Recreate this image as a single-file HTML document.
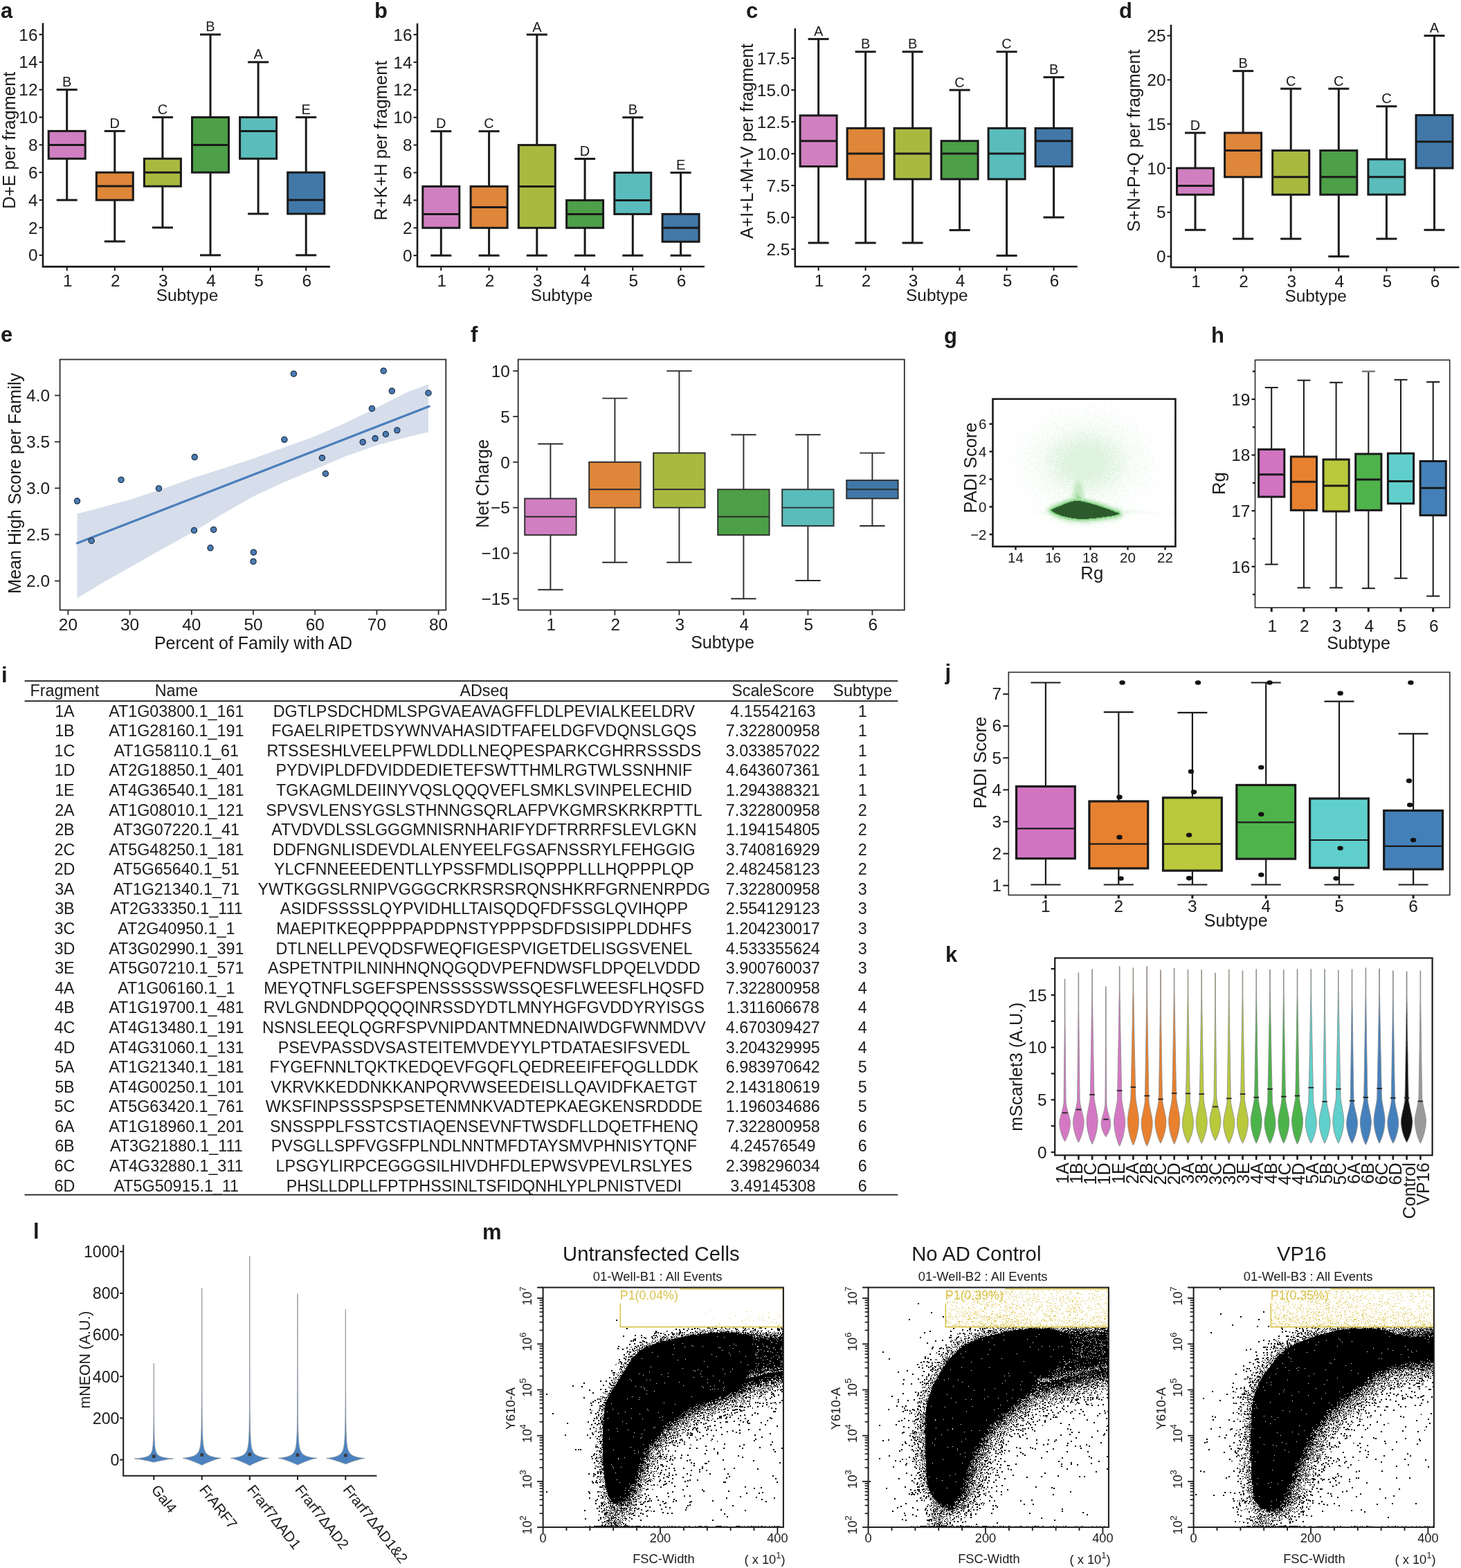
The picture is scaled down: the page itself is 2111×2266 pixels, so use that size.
<!DOCTYPE html>
<html><head><meta charset="utf-8"><title>Figure</title>
<style>html,body{margin:0;padding:0;background:#fff;overflow:hidden;}svg{display:block;}</style>
</head><body>
<svg width="2111" height="2266" viewBox="0 0 2111 2266" font-family="'Liberation Sans', Arial, Helvetica, sans-serif" fill="#1a1a1a"><rect width="2111" height="2266" fill="#fff"/><text x="1" y="26" font-size="31" font-weight="bold">a</text>
<line x1="96.7" y1="129.6" x2="96.7" y2="189.4" stroke="#1a1a1a" stroke-width="3"/>
<line x1="96.7" y1="229.3" x2="96.7" y2="289.1" stroke="#1a1a1a" stroke-width="3"/>
<line x1="81.7" y1="129.6" x2="111.7" y2="129.6" stroke="#1a1a1a" stroke-width="3"/>
<line x1="81.7" y1="289.1" x2="111.7" y2="289.1" stroke="#1a1a1a" stroke-width="3"/>
<rect x="70.2" y="189.4" width="53" height="39.9" fill="#d07fc0" stroke="#1a1a1a" stroke-width="3"/>
<line x1="70.2" y1="209.4" x2="123.2" y2="209.4" stroke="#1a1a1a" stroke-width="3"/>
<text x="96.7" y="125.1" font-size="20" text-anchor="middle">B</text>
<line x1="165.8" y1="189.4" x2="165.8" y2="249.2" stroke="#1a1a1a" stroke-width="3"/>
<line x1="165.8" y1="289.1" x2="165.8" y2="348.9" stroke="#1a1a1a" stroke-width="3"/>
<line x1="150.8" y1="189.4" x2="180.8" y2="189.4" stroke="#1a1a1a" stroke-width="3"/>
<line x1="150.8" y1="348.9" x2="180.8" y2="348.9" stroke="#1a1a1a" stroke-width="3"/>
<rect x="139.3" y="249.2" width="53" height="39.9" fill="#de8639" stroke="#1a1a1a" stroke-width="3"/>
<line x1="139.3" y1="269.1" x2="192.3" y2="269.1" stroke="#1a1a1a" stroke-width="3"/>
<text x="165.8" y="184.9" font-size="20" text-anchor="middle">D</text>
<line x1="234.9" y1="169.5" x2="234.9" y2="229.3" stroke="#1a1a1a" stroke-width="3"/>
<line x1="234.9" y1="269.1" x2="234.9" y2="328.9" stroke="#1a1a1a" stroke-width="3"/>
<line x1="219.9" y1="169.5" x2="249.9" y2="169.5" stroke="#1a1a1a" stroke-width="3"/>
<line x1="219.9" y1="328.9" x2="249.9" y2="328.9" stroke="#1a1a1a" stroke-width="3"/>
<rect x="208.4" y="229.3" width="53" height="39.9" fill="#a9b940" stroke="#1a1a1a" stroke-width="3"/>
<line x1="208.4" y1="249.2" x2="261.4" y2="249.2" stroke="#1a1a1a" stroke-width="3"/>
<text x="234.9" y="165" font-size="20" text-anchor="middle">C</text>
<line x1="304" y1="49.9" x2="304" y2="169.5" stroke="#1a1a1a" stroke-width="3"/>
<line x1="304" y1="249.2" x2="304" y2="368.8" stroke="#1a1a1a" stroke-width="3"/>
<line x1="289" y1="49.9" x2="319" y2="49.9" stroke="#1a1a1a" stroke-width="3"/>
<line x1="289" y1="368.8" x2="319" y2="368.8" stroke="#1a1a1a" stroke-width="3"/>
<rect x="277.5" y="169.5" width="53" height="79.7" fill="#4d9f48" stroke="#1a1a1a" stroke-width="3"/>
<line x1="277.5" y1="209.4" x2="330.5" y2="209.4" stroke="#1a1a1a" stroke-width="3"/>
<text x="304" y="45.4" font-size="20" text-anchor="middle">B</text>
<line x1="373.1" y1="89.8" x2="373.1" y2="169.5" stroke="#1a1a1a" stroke-width="3"/>
<line x1="373.1" y1="229.3" x2="373.1" y2="309" stroke="#1a1a1a" stroke-width="3"/>
<line x1="358.1" y1="89.8" x2="388.1" y2="89.8" stroke="#1a1a1a" stroke-width="3"/>
<line x1="358.1" y1="309" x2="388.1" y2="309" stroke="#1a1a1a" stroke-width="3"/>
<rect x="346.6" y="169.5" width="53" height="59.8" fill="#5bbcbc" stroke="#1a1a1a" stroke-width="3"/>
<line x1="346.6" y1="189.4" x2="399.6" y2="189.4" stroke="#1a1a1a" stroke-width="3"/>
<text x="373.1" y="85.3" font-size="20" text-anchor="middle">A</text>
<line x1="442.2" y1="169.5" x2="442.2" y2="249.2" stroke="#1a1a1a" stroke-width="3"/>
<line x1="442.2" y1="309" x2="442.2" y2="368.8" stroke="#1a1a1a" stroke-width="3"/>
<line x1="427.2" y1="169.5" x2="457.2" y2="169.5" stroke="#1a1a1a" stroke-width="3"/>
<line x1="427.2" y1="368.8" x2="457.2" y2="368.8" stroke="#1a1a1a" stroke-width="3"/>
<rect x="415.7" y="249.2" width="53" height="59.8" fill="#4178a8" stroke="#1a1a1a" stroke-width="3"/>
<line x1="415.7" y1="289.1" x2="468.7" y2="289.1" stroke="#1a1a1a" stroke-width="3"/>
<text x="442.2" y="165" font-size="20" text-anchor="middle">E</text>
<path d="M62 33.2V385.4H477" fill="none" stroke="#1a1a1a" stroke-width="2.6"/>
<line x1="56.5" y1="368.8" x2="62" y2="368.8" stroke="#1a1a1a" stroke-width="2"/>
<text x="54.5" y="377.4" font-size="24.4" text-anchor="end">0</text>
<line x1="56.5" y1="328.9" x2="62" y2="328.9" stroke="#1a1a1a" stroke-width="2"/>
<text x="54.5" y="337.5" font-size="24.4" text-anchor="end">2</text>
<line x1="56.5" y1="289.1" x2="62" y2="289.1" stroke="#1a1a1a" stroke-width="2"/>
<text x="54.5" y="297.7" font-size="24.4" text-anchor="end">4</text>
<line x1="56.5" y1="249.2" x2="62" y2="249.2" stroke="#1a1a1a" stroke-width="2"/>
<text x="54.5" y="257.8" font-size="24.4" text-anchor="end">6</text>
<line x1="56.5" y1="209.4" x2="62" y2="209.4" stroke="#1a1a1a" stroke-width="2"/>
<text x="54.5" y="218" font-size="24.4" text-anchor="end">8</text>
<line x1="56.5" y1="169.5" x2="62" y2="169.5" stroke="#1a1a1a" stroke-width="2"/>
<text x="54.5" y="178.1" font-size="24.4" text-anchor="end">10</text>
<line x1="56.5" y1="129.6" x2="62" y2="129.6" stroke="#1a1a1a" stroke-width="2"/>
<text x="54.5" y="138.2" font-size="24.4" text-anchor="end">12</text>
<line x1="56.5" y1="89.8" x2="62" y2="89.8" stroke="#1a1a1a" stroke-width="2"/>
<text x="54.5" y="98.4" font-size="24.4" text-anchor="end">14</text>
<line x1="56.5" y1="49.9" x2="62" y2="49.9" stroke="#1a1a1a" stroke-width="2"/>
<text x="54.5" y="58.5" font-size="24.4" text-anchor="end">16</text>
<line x1="96.7" y1="385.4" x2="96.7" y2="391.4" stroke="#1a1a1a" stroke-width="2"/>
<text x="97.7" y="413.7" font-size="24.4" text-anchor="middle">1</text>
<line x1="165.8" y1="385.4" x2="165.8" y2="391.4" stroke="#1a1a1a" stroke-width="2"/>
<text x="166.8" y="413.7" font-size="24.4" text-anchor="middle">2</text>
<line x1="234.9" y1="385.4" x2="234.9" y2="391.4" stroke="#1a1a1a" stroke-width="2"/>
<text x="235.9" y="413.7" font-size="24.4" text-anchor="middle">3</text>
<line x1="304" y1="385.4" x2="304" y2="391.4" stroke="#1a1a1a" stroke-width="2"/>
<text x="305" y="413.7" font-size="24.4" text-anchor="middle">4</text>
<line x1="373.1" y1="385.4" x2="373.1" y2="391.4" stroke="#1a1a1a" stroke-width="2"/>
<text x="374.1" y="413.7" font-size="24.4" text-anchor="middle">5</text>
<line x1="442.2" y1="385.4" x2="442.2" y2="391.4" stroke="#1a1a1a" stroke-width="2"/>
<text x="443.2" y="413.7" font-size="24.4" text-anchor="middle">6</text>
<text x="270.5" y="435.4" font-size="24.4" text-anchor="middle">Subtype</text>
<text x="21.7" y="202.8" font-size="25" text-anchor="middle" transform="rotate(-90 21.7 202.8)">D+E per fragment</text>
<text x="541" y="26" font-size="31" font-weight="bold">b</text>
<line x1="637.3" y1="189.7" x2="637.3" y2="269.4" stroke="#1a1a1a" stroke-width="3"/>
<line x1="637.3" y1="329.3" x2="637.3" y2="369.2" stroke="#1a1a1a" stroke-width="3"/>
<line x1="622.3" y1="189.7" x2="652.3" y2="189.7" stroke="#1a1a1a" stroke-width="3"/>
<line x1="622.3" y1="369.2" x2="652.3" y2="369.2" stroke="#1a1a1a" stroke-width="3"/>
<rect x="610.8" y="269.4" width="53" height="59.9" fill="#d07fc0" stroke="#1a1a1a" stroke-width="3"/>
<line x1="610.8" y1="309.4" x2="663.8" y2="309.4" stroke="#1a1a1a" stroke-width="3"/>
<text x="637.3" y="185.2" font-size="20" text-anchor="middle">D</text>
<line x1="706.6" y1="189.7" x2="706.6" y2="269.4" stroke="#1a1a1a" stroke-width="3"/>
<line x1="706.6" y1="329.3" x2="706.6" y2="369.2" stroke="#1a1a1a" stroke-width="3"/>
<line x1="691.6" y1="189.7" x2="721.6" y2="189.7" stroke="#1a1a1a" stroke-width="3"/>
<line x1="691.6" y1="369.2" x2="721.6" y2="369.2" stroke="#1a1a1a" stroke-width="3"/>
<rect x="680.1" y="269.4" width="53" height="59.9" fill="#de8639" stroke="#1a1a1a" stroke-width="3"/>
<line x1="680.1" y1="299.4" x2="733.1" y2="299.4" stroke="#1a1a1a" stroke-width="3"/>
<text x="706.6" y="185.2" font-size="20" text-anchor="middle">C</text>
<line x1="775.8" y1="50" x2="775.8" y2="209.6" stroke="#1a1a1a" stroke-width="3"/>
<line x1="775.8" y1="329.3" x2="775.8" y2="369.2" stroke="#1a1a1a" stroke-width="3"/>
<line x1="760.8" y1="50" x2="790.8" y2="50" stroke="#1a1a1a" stroke-width="3"/>
<line x1="760.8" y1="369.2" x2="790.8" y2="369.2" stroke="#1a1a1a" stroke-width="3"/>
<rect x="749.3" y="209.6" width="53" height="119.7" fill="#a9b940" stroke="#1a1a1a" stroke-width="3"/>
<line x1="749.3" y1="269.4" x2="802.3" y2="269.4" stroke="#1a1a1a" stroke-width="3"/>
<text x="775.8" y="45.5" font-size="20" text-anchor="middle">A</text>
<line x1="845.1" y1="229.5" x2="845.1" y2="289.4" stroke="#1a1a1a" stroke-width="3"/>
<line x1="845.1" y1="329.3" x2="845.1" y2="369.2" stroke="#1a1a1a" stroke-width="3"/>
<line x1="830.1" y1="229.5" x2="860.1" y2="229.5" stroke="#1a1a1a" stroke-width="3"/>
<line x1="830.1" y1="369.2" x2="860.1" y2="369.2" stroke="#1a1a1a" stroke-width="3"/>
<rect x="818.6" y="289.4" width="53" height="39.9" fill="#4d9f48" stroke="#1a1a1a" stroke-width="3"/>
<line x1="818.6" y1="309.4" x2="871.6" y2="309.4" stroke="#1a1a1a" stroke-width="3"/>
<text x="845.1" y="225" font-size="20" text-anchor="middle">D</text>
<line x1="914.3" y1="169.7" x2="914.3" y2="249.5" stroke="#1a1a1a" stroke-width="3"/>
<line x1="914.3" y1="309.4" x2="914.3" y2="369.2" stroke="#1a1a1a" stroke-width="3"/>
<line x1="899.3" y1="169.7" x2="929.3" y2="169.7" stroke="#1a1a1a" stroke-width="3"/>
<line x1="899.3" y1="369.2" x2="929.3" y2="369.2" stroke="#1a1a1a" stroke-width="3"/>
<rect x="887.8" y="249.5" width="53" height="59.9" fill="#5bbcbc" stroke="#1a1a1a" stroke-width="3"/>
<line x1="887.8" y1="289.4" x2="940.8" y2="289.4" stroke="#1a1a1a" stroke-width="3"/>
<text x="914.3" y="165.2" font-size="20" text-anchor="middle">B</text>
<line x1="983.6" y1="249.5" x2="983.6" y2="309.4" stroke="#1a1a1a" stroke-width="3"/>
<line x1="983.6" y1="349.2" x2="983.6" y2="369.2" stroke="#1a1a1a" stroke-width="3"/>
<line x1="968.6" y1="249.5" x2="998.6" y2="249.5" stroke="#1a1a1a" stroke-width="3"/>
<line x1="968.6" y1="369.2" x2="998.6" y2="369.2" stroke="#1a1a1a" stroke-width="3"/>
<rect x="957.1" y="309.4" width="53" height="39.9" fill="#4178a8" stroke="#1a1a1a" stroke-width="3"/>
<line x1="957.1" y1="329.3" x2="1010.1" y2="329.3" stroke="#1a1a1a" stroke-width="3"/>
<text x="983.6" y="245" font-size="20" text-anchor="middle">E</text>
<path d="M603 33.8V385.2H1018" fill="none" stroke="#1a1a1a" stroke-width="2.6"/>
<line x1="597.5" y1="369.2" x2="603" y2="369.2" stroke="#1a1a1a" stroke-width="2"/>
<text x="595.5" y="377.8" font-size="24.4" text-anchor="end">0</text>
<line x1="597.5" y1="329.3" x2="603" y2="329.3" stroke="#1a1a1a" stroke-width="2"/>
<text x="595.5" y="337.9" font-size="24.4" text-anchor="end">2</text>
<line x1="597.5" y1="289.4" x2="603" y2="289.4" stroke="#1a1a1a" stroke-width="2"/>
<text x="595.5" y="298" font-size="24.4" text-anchor="end">4</text>
<line x1="597.5" y1="249.5" x2="603" y2="249.5" stroke="#1a1a1a" stroke-width="2"/>
<text x="595.5" y="258.1" font-size="24.4" text-anchor="end">6</text>
<line x1="597.5" y1="209.6" x2="603" y2="209.6" stroke="#1a1a1a" stroke-width="2"/>
<text x="595.5" y="218.2" font-size="24.4" text-anchor="end">8</text>
<line x1="597.5" y1="169.7" x2="603" y2="169.7" stroke="#1a1a1a" stroke-width="2"/>
<text x="595.5" y="178.3" font-size="24.4" text-anchor="end">10</text>
<line x1="597.5" y1="129.8" x2="603" y2="129.8" stroke="#1a1a1a" stroke-width="2"/>
<text x="595.5" y="138.4" font-size="24.4" text-anchor="end">12</text>
<line x1="597.5" y1="89.9" x2="603" y2="89.9" stroke="#1a1a1a" stroke-width="2"/>
<text x="595.5" y="98.5" font-size="24.4" text-anchor="end">14</text>
<line x1="597.5" y1="50" x2="603" y2="50" stroke="#1a1a1a" stroke-width="2"/>
<text x="595.5" y="58.6" font-size="24.4" text-anchor="end">16</text>
<line x1="637.3" y1="385.2" x2="637.3" y2="391.2" stroke="#1a1a1a" stroke-width="2"/>
<text x="638.3" y="413.5" font-size="24.4" text-anchor="middle">1</text>
<line x1="706.6" y1="385.2" x2="706.6" y2="391.2" stroke="#1a1a1a" stroke-width="2"/>
<text x="707.6" y="413.5" font-size="24.4" text-anchor="middle">2</text>
<line x1="775.8" y1="385.2" x2="775.8" y2="391.2" stroke="#1a1a1a" stroke-width="2"/>
<text x="776.8" y="413.5" font-size="24.4" text-anchor="middle">3</text>
<line x1="845.1" y1="385.2" x2="845.1" y2="391.2" stroke="#1a1a1a" stroke-width="2"/>
<text x="846.1" y="413.5" font-size="24.4" text-anchor="middle">4</text>
<line x1="914.3" y1="385.2" x2="914.3" y2="391.2" stroke="#1a1a1a" stroke-width="2"/>
<text x="915.3" y="413.5" font-size="24.4" text-anchor="middle">5</text>
<line x1="983.6" y1="385.2" x2="983.6" y2="391.2" stroke="#1a1a1a" stroke-width="2"/>
<text x="984.6" y="413.5" font-size="24.4" text-anchor="middle">6</text>
<text x="811.5" y="435.2" font-size="24.4" text-anchor="middle">Subtype</text>
<text x="558.6" y="203.2" font-size="25" text-anchor="middle" transform="rotate(-90 558.6 203.2)">R+K+H per fragment</text>
<text x="1078" y="26" font-size="31" font-weight="bold">c</text>
<line x1="1182.6" y1="56.4" x2="1182.6" y2="166.9" stroke="#1a1a1a" stroke-width="3"/>
<line x1="1182.6" y1="240.5" x2="1182.6" y2="351" stroke="#1a1a1a" stroke-width="3"/>
<line x1="1167.6" y1="56.4" x2="1197.6" y2="56.4" stroke="#1a1a1a" stroke-width="3"/>
<line x1="1167.6" y1="351" x2="1197.6" y2="351" stroke="#1a1a1a" stroke-width="3"/>
<rect x="1156.1" y="166.9" width="53" height="73.6" fill="#d07fc0" stroke="#1a1a1a" stroke-width="3"/>
<line x1="1156.1" y1="203.7" x2="1209.1" y2="203.7" stroke="#1a1a1a" stroke-width="3"/>
<text x="1182.6" y="51.9" font-size="20" text-anchor="middle">A</text>
<line x1="1250.6" y1="74.8" x2="1250.6" y2="185.3" stroke="#1a1a1a" stroke-width="3"/>
<line x1="1250.6" y1="258.9" x2="1250.6" y2="351" stroke="#1a1a1a" stroke-width="3"/>
<line x1="1235.6" y1="74.8" x2="1265.6" y2="74.8" stroke="#1a1a1a" stroke-width="3"/>
<line x1="1235.6" y1="351" x2="1265.6" y2="351" stroke="#1a1a1a" stroke-width="3"/>
<rect x="1224.1" y="185.3" width="53" height="73.6" fill="#de8639" stroke="#1a1a1a" stroke-width="3"/>
<line x1="1224.1" y1="222.1" x2="1277.1" y2="222.1" stroke="#1a1a1a" stroke-width="3"/>
<text x="1250.6" y="70.3" font-size="20" text-anchor="middle">B</text>
<line x1="1318.6" y1="74.8" x2="1318.6" y2="185.3" stroke="#1a1a1a" stroke-width="3"/>
<line x1="1318.6" y1="258.9" x2="1318.6" y2="351" stroke="#1a1a1a" stroke-width="3"/>
<line x1="1303.6" y1="74.8" x2="1333.6" y2="74.8" stroke="#1a1a1a" stroke-width="3"/>
<line x1="1303.6" y1="351" x2="1333.6" y2="351" stroke="#1a1a1a" stroke-width="3"/>
<rect x="1292.1" y="185.3" width="53" height="73.6" fill="#a9b940" stroke="#1a1a1a" stroke-width="3"/>
<line x1="1292.1" y1="222.1" x2="1345.1" y2="222.1" stroke="#1a1a1a" stroke-width="3"/>
<text x="1318.6" y="70.3" font-size="20" text-anchor="middle">B</text>
<line x1="1386.6" y1="130.1" x2="1386.6" y2="203.7" stroke="#1a1a1a" stroke-width="3"/>
<line x1="1386.6" y1="258.9" x2="1386.6" y2="332.6" stroke="#1a1a1a" stroke-width="3"/>
<line x1="1371.6" y1="130.1" x2="1401.6" y2="130.1" stroke="#1a1a1a" stroke-width="3"/>
<line x1="1371.6" y1="332.6" x2="1401.6" y2="332.6" stroke="#1a1a1a" stroke-width="3"/>
<rect x="1360.1" y="203.7" width="53" height="55.2" fill="#4d9f48" stroke="#1a1a1a" stroke-width="3"/>
<line x1="1360.1" y1="222.1" x2="1413.1" y2="222.1" stroke="#1a1a1a" stroke-width="3"/>
<text x="1386.6" y="125.6" font-size="20" text-anchor="middle">C</text>
<line x1="1454.6" y1="74.8" x2="1454.6" y2="185.3" stroke="#1a1a1a" stroke-width="3"/>
<line x1="1454.6" y1="258.9" x2="1454.6" y2="369.4" stroke="#1a1a1a" stroke-width="3"/>
<line x1="1439.6" y1="74.8" x2="1469.6" y2="74.8" stroke="#1a1a1a" stroke-width="3"/>
<line x1="1439.6" y1="369.4" x2="1469.6" y2="369.4" stroke="#1a1a1a" stroke-width="3"/>
<rect x="1428.1" y="185.3" width="53" height="73.6" fill="#5bbcbc" stroke="#1a1a1a" stroke-width="3"/>
<line x1="1428.1" y1="222.1" x2="1481.1" y2="222.1" stroke="#1a1a1a" stroke-width="3"/>
<text x="1454.6" y="70.3" font-size="20" text-anchor="middle">C</text>
<line x1="1522.6" y1="111.6" x2="1522.6" y2="185.3" stroke="#1a1a1a" stroke-width="3"/>
<line x1="1522.6" y1="240.5" x2="1522.6" y2="314.1" stroke="#1a1a1a" stroke-width="3"/>
<line x1="1507.6" y1="111.6" x2="1537.6" y2="111.6" stroke="#1a1a1a" stroke-width="3"/>
<line x1="1507.6" y1="314.1" x2="1537.6" y2="314.1" stroke="#1a1a1a" stroke-width="3"/>
<rect x="1496.1" y="185.3" width="53" height="55.2" fill="#4178a8" stroke="#1a1a1a" stroke-width="3"/>
<line x1="1496.1" y1="203.7" x2="1549.1" y2="203.7" stroke="#1a1a1a" stroke-width="3"/>
<text x="1522.6" y="107.1" font-size="20" text-anchor="middle">B</text>
<path d="M1148.8 40.9V385.2H1556.8" fill="none" stroke="#1a1a1a" stroke-width="2.6"/>
<line x1="1143.3" y1="360.2" x2="1148.8" y2="360.2" stroke="#1a1a1a" stroke-width="2"/>
<text x="1141.3" y="368.8" font-size="24.4" text-anchor="end">2.5</text>
<line x1="1143.3" y1="314.1" x2="1148.8" y2="314.1" stroke="#1a1a1a" stroke-width="2"/>
<text x="1141.3" y="322.8" font-size="24.4" text-anchor="end">5.0</text>
<line x1="1143.3" y1="268.1" x2="1148.8" y2="268.1" stroke="#1a1a1a" stroke-width="2"/>
<text x="1141.3" y="276.7" font-size="24.4" text-anchor="end">7.5</text>
<line x1="1143.3" y1="222.1" x2="1148.8" y2="222.1" stroke="#1a1a1a" stroke-width="2"/>
<text x="1141.3" y="230.7" font-size="24.4" text-anchor="end">10.0</text>
<line x1="1143.3" y1="176.1" x2="1148.8" y2="176.1" stroke="#1a1a1a" stroke-width="2"/>
<text x="1141.3" y="184.7" font-size="24.4" text-anchor="end">12.5</text>
<line x1="1143.3" y1="130.1" x2="1148.8" y2="130.1" stroke="#1a1a1a" stroke-width="2"/>
<text x="1141.3" y="138.7" font-size="24.4" text-anchor="end">15.0</text>
<line x1="1143.3" y1="84" x2="1148.8" y2="84" stroke="#1a1a1a" stroke-width="2"/>
<text x="1141.3" y="92.6" font-size="24.4" text-anchor="end">17.5</text>
<line x1="1182.6" y1="385.2" x2="1182.6" y2="391.2" stroke="#1a1a1a" stroke-width="2"/>
<text x="1183.6" y="413.5" font-size="24.4" text-anchor="middle">1</text>
<line x1="1250.6" y1="385.2" x2="1250.6" y2="391.2" stroke="#1a1a1a" stroke-width="2"/>
<text x="1251.6" y="413.5" font-size="24.4" text-anchor="middle">2</text>
<line x1="1318.6" y1="385.2" x2="1318.6" y2="391.2" stroke="#1a1a1a" stroke-width="2"/>
<text x="1319.6" y="413.5" font-size="24.4" text-anchor="middle">3</text>
<line x1="1386.6" y1="385.2" x2="1386.6" y2="391.2" stroke="#1a1a1a" stroke-width="2"/>
<text x="1387.6" y="413.5" font-size="24.4" text-anchor="middle">4</text>
<line x1="1454.6" y1="385.2" x2="1454.6" y2="391.2" stroke="#1a1a1a" stroke-width="2"/>
<text x="1455.6" y="413.5" font-size="24.4" text-anchor="middle">5</text>
<line x1="1522.6" y1="385.2" x2="1522.6" y2="391.2" stroke="#1a1a1a" stroke-width="2"/>
<text x="1523.6" y="413.5" font-size="24.4" text-anchor="middle">6</text>
<text x="1353.8" y="435.2" font-size="24.4" text-anchor="middle">Subtype</text>
<text x="1087.8" y="204" font-size="25" text-anchor="middle" transform="rotate(-90 1087.8 204)">A+I+L+M+V per fragment</text>
<text x="1617" y="26" font-size="31" font-weight="bold">d</text>
<line x1="1727" y1="192" x2="1727" y2="243" stroke="#1a1a1a" stroke-width="3"/>
<line x1="1727" y1="281.3" x2="1727" y2="332.3" stroke="#1a1a1a" stroke-width="3"/>
<line x1="1712" y1="192" x2="1742" y2="192" stroke="#1a1a1a" stroke-width="3"/>
<line x1="1712" y1="332.3" x2="1742" y2="332.3" stroke="#1a1a1a" stroke-width="3"/>
<rect x="1700.5" y="243" width="53" height="38.3" fill="#d07fc0" stroke="#1a1a1a" stroke-width="3"/>
<line x1="1700.5" y1="268.5" x2="1753.5" y2="268.5" stroke="#1a1a1a" stroke-width="3"/>
<text x="1727" y="187.5" font-size="20" text-anchor="middle">D</text>
<line x1="1796.1" y1="102.6" x2="1796.1" y2="192" stroke="#1a1a1a" stroke-width="3"/>
<line x1="1796.1" y1="255.8" x2="1796.1" y2="345.1" stroke="#1a1a1a" stroke-width="3"/>
<line x1="1781.1" y1="102.6" x2="1811.1" y2="102.6" stroke="#1a1a1a" stroke-width="3"/>
<line x1="1781.1" y1="345.1" x2="1811.1" y2="345.1" stroke="#1a1a1a" stroke-width="3"/>
<rect x="1769.6" y="192" width="53" height="63.8" fill="#de8639" stroke="#1a1a1a" stroke-width="3"/>
<line x1="1769.6" y1="217.5" x2="1822.6" y2="217.5" stroke="#1a1a1a" stroke-width="3"/>
<text x="1796.1" y="98.1" font-size="20" text-anchor="middle">B</text>
<line x1="1865.2" y1="128.2" x2="1865.2" y2="217.5" stroke="#1a1a1a" stroke-width="3"/>
<line x1="1865.2" y1="281.3" x2="1865.2" y2="345.1" stroke="#1a1a1a" stroke-width="3"/>
<line x1="1850.2" y1="128.2" x2="1880.2" y2="128.2" stroke="#1a1a1a" stroke-width="3"/>
<line x1="1850.2" y1="345.1" x2="1880.2" y2="345.1" stroke="#1a1a1a" stroke-width="3"/>
<rect x="1838.7" y="217.5" width="53" height="63.8" fill="#a9b940" stroke="#1a1a1a" stroke-width="3"/>
<line x1="1838.7" y1="255.8" x2="1891.7" y2="255.8" stroke="#1a1a1a" stroke-width="3"/>
<text x="1865.2" y="123.7" font-size="20" text-anchor="middle">C</text>
<line x1="1934.3" y1="128.2" x2="1934.3" y2="217.5" stroke="#1a1a1a" stroke-width="3"/>
<line x1="1934.3" y1="281.3" x2="1934.3" y2="370.6" stroke="#1a1a1a" stroke-width="3"/>
<line x1="1919.3" y1="128.2" x2="1949.3" y2="128.2" stroke="#1a1a1a" stroke-width="3"/>
<line x1="1919.3" y1="370.6" x2="1949.3" y2="370.6" stroke="#1a1a1a" stroke-width="3"/>
<rect x="1907.8" y="217.5" width="53" height="63.8" fill="#4d9f48" stroke="#1a1a1a" stroke-width="3"/>
<line x1="1907.8" y1="255.8" x2="1960.8" y2="255.8" stroke="#1a1a1a" stroke-width="3"/>
<text x="1934.3" y="123.7" font-size="20" text-anchor="middle">C</text>
<line x1="2003.4" y1="153.7" x2="2003.4" y2="230.2" stroke="#1a1a1a" stroke-width="3"/>
<line x1="2003.4" y1="281.3" x2="2003.4" y2="345.1" stroke="#1a1a1a" stroke-width="3"/>
<line x1="1988.4" y1="153.7" x2="2018.4" y2="153.7" stroke="#1a1a1a" stroke-width="3"/>
<line x1="1988.4" y1="345.1" x2="2018.4" y2="345.1" stroke="#1a1a1a" stroke-width="3"/>
<rect x="1976.9" y="230.2" width="53" height="51" fill="#5bbcbc" stroke="#1a1a1a" stroke-width="3"/>
<line x1="1976.9" y1="255.8" x2="2029.9" y2="255.8" stroke="#1a1a1a" stroke-width="3"/>
<text x="2003.4" y="149.2" font-size="20" text-anchor="middle">C</text>
<line x1="2072.5" y1="51.6" x2="2072.5" y2="166.4" stroke="#1a1a1a" stroke-width="3"/>
<line x1="2072.5" y1="243" x2="2072.5" y2="332.3" stroke="#1a1a1a" stroke-width="3"/>
<line x1="2057.5" y1="51.6" x2="2087.5" y2="51.6" stroke="#1a1a1a" stroke-width="3"/>
<line x1="2057.5" y1="332.3" x2="2087.5" y2="332.3" stroke="#1a1a1a" stroke-width="3"/>
<rect x="2046" y="166.4" width="53" height="76.6" fill="#4178a8" stroke="#1a1a1a" stroke-width="3"/>
<line x1="2046" y1="204.7" x2="2099" y2="204.7" stroke="#1a1a1a" stroke-width="3"/>
<text x="2072.5" y="47.1" font-size="20" text-anchor="middle">A</text>
<path d="M1692 35.8V386.2H2108.5" fill="none" stroke="#1a1a1a" stroke-width="2.6"/>
<line x1="1686.5" y1="370.6" x2="1692" y2="370.6" stroke="#1a1a1a" stroke-width="2"/>
<text x="1684.5" y="379.2" font-size="24.4" text-anchor="end">0</text>
<line x1="1686.5" y1="306.8" x2="1692" y2="306.8" stroke="#1a1a1a" stroke-width="2"/>
<text x="1684.5" y="315.4" font-size="24.4" text-anchor="end">5</text>
<line x1="1686.5" y1="243" x2="1692" y2="243" stroke="#1a1a1a" stroke-width="2"/>
<text x="1684.5" y="251.6" font-size="24.4" text-anchor="end">10</text>
<line x1="1686.5" y1="179.2" x2="1692" y2="179.2" stroke="#1a1a1a" stroke-width="2"/>
<text x="1684.5" y="187.8" font-size="24.4" text-anchor="end">15</text>
<line x1="1686.5" y1="115.4" x2="1692" y2="115.4" stroke="#1a1a1a" stroke-width="2"/>
<text x="1684.5" y="124" font-size="24.4" text-anchor="end">20</text>
<line x1="1686.5" y1="51.6" x2="1692" y2="51.6" stroke="#1a1a1a" stroke-width="2"/>
<text x="1684.5" y="60.2" font-size="24.4" text-anchor="end">25</text>
<line x1="1727" y1="386.2" x2="1727" y2="392.2" stroke="#1a1a1a" stroke-width="2"/>
<text x="1728" y="414.5" font-size="24.4" text-anchor="middle">1</text>
<line x1="1796.1" y1="386.2" x2="1796.1" y2="392.2" stroke="#1a1a1a" stroke-width="2"/>
<text x="1797.1" y="414.5" font-size="24.4" text-anchor="middle">2</text>
<line x1="1865.2" y1="386.2" x2="1865.2" y2="392.2" stroke="#1a1a1a" stroke-width="2"/>
<text x="1866.2" y="414.5" font-size="24.4" text-anchor="middle">3</text>
<line x1="1934.3" y1="386.2" x2="1934.3" y2="392.2" stroke="#1a1a1a" stroke-width="2"/>
<text x="1935.3" y="414.5" font-size="24.4" text-anchor="middle">4</text>
<line x1="2003.4" y1="386.2" x2="2003.4" y2="392.2" stroke="#1a1a1a" stroke-width="2"/>
<text x="2004.4" y="414.5" font-size="24.4" text-anchor="middle">5</text>
<line x1="2072.5" y1="386.2" x2="2072.5" y2="392.2" stroke="#1a1a1a" stroke-width="2"/>
<text x="2073.5" y="414.5" font-size="24.4" text-anchor="middle">6</text>
<text x="1901.2" y="436.2" font-size="24.4" text-anchor="middle">Subtype</text>
<text x="1647" y="203.3" font-size="25" text-anchor="middle" transform="rotate(-90 1647 203.3)">S+N+P+Q per fragment</text>
<text x="1" y="494" font-size="31" font-weight="bold">e</text>
<path d="M111.5 742.6L149.7 732.6L187.8 721.9L231.6 707.7L276.9 691.6L320.7 677.4L366.4 662.4L409.8 647.1L455.5 630.3L498.9 611.5L544.5 589L588 566.9L619 555.2L619 624.6L588 631.8L544.5 643.5L498.9 659.6L455.5 678.1L409.8 697L366.4 717.3L320.7 743.3L276.9 770L231.6 795L187.8 819.9L149.7 841.3L111.5 864.5Z" fill="#d6deeb" stroke="none" stroke-width="1"/>
<line x1="111.5" y1="785" x2="620.1" y2="587.2" stroke="#4a7fbb" stroke-width="3.2" stroke-linecap="round"/>
<circle cx="111.5" cy="724.1" r="4.1" fill="#4a7db5" stroke="#1f2f45" stroke-width="1.3"/>
<circle cx="132.2" cy="781.5" r="4.1" fill="#4a7db5" stroke="#1f2f45" stroke-width="1.3"/>
<circle cx="175" cy="693.4" r="4.1" fill="#4a7db5" stroke="#1f2f45" stroke-width="1.3"/>
<circle cx="229.5" cy="705.9" r="4.1" fill="#4a7db5" stroke="#1f2f45" stroke-width="1.3"/>
<circle cx="281.2" cy="660.6" r="4.1" fill="#4a7db5" stroke="#1f2f45" stroke-width="1.3"/>
<circle cx="280.5" cy="766.5" r="4.1" fill="#4a7db5" stroke="#1f2f45" stroke-width="1.3"/>
<circle cx="304" cy="791.8" r="4.1" fill="#4a7db5" stroke="#1f2f45" stroke-width="1.3"/>
<circle cx="308.6" cy="765.4" r="4.1" fill="#4a7db5" stroke="#1f2f45" stroke-width="1.3"/>
<circle cx="366.4" cy="798.2" r="4.1" fill="#4a7db5" stroke="#1f2f45" stroke-width="1.3"/>
<circle cx="366" cy="811.4" r="4.1" fill="#4a7db5" stroke="#1f2f45" stroke-width="1.3"/>
<circle cx="410.9" cy="635.3" r="4.1" fill="#4a7db5" stroke="#1f2f45" stroke-width="1.3"/>
<circle cx="424.4" cy="540.2" r="4.1" fill="#4a7db5" stroke="#1f2f45" stroke-width="1.3"/>
<circle cx="465.4" cy="661.7" r="4.1" fill="#4a7db5" stroke="#1f2f45" stroke-width="1.3"/>
<circle cx="470.4" cy="684.5" r="4.1" fill="#4a7db5" stroke="#1f2f45" stroke-width="1.3"/>
<circle cx="524.2" cy="638.9" r="4.1" fill="#4a7db5" stroke="#1f2f45" stroke-width="1.3"/>
<circle cx="537.4" cy="590.4" r="4.1" fill="#4a7db5" stroke="#1f2f45" stroke-width="1.3"/>
<circle cx="542.1" cy="633.6" r="4.1" fill="#4a7db5" stroke="#1f2f45" stroke-width="1.3"/>
<circle cx="554.2" cy="535.9" r="4.1" fill="#4a7db5" stroke="#1f2f45" stroke-width="1.3"/>
<circle cx="557.4" cy="627.5" r="4.1" fill="#4a7db5" stroke="#1f2f45" stroke-width="1.3"/>
<circle cx="566.3" cy="565.1" r="4.1" fill="#4a7db5" stroke="#1f2f45" stroke-width="1.3"/>
<circle cx="573.8" cy="621.8" r="4.1" fill="#4a7db5" stroke="#1f2f45" stroke-width="1.3"/>
<circle cx="619" cy="568" r="4.1" fill="#4a7db5" stroke="#1f2f45" stroke-width="1.3"/>
<rect x="86.6" y="519.5" width="557.7" height="362.1" fill="none" stroke="#2b2b2b" stroke-width="1.8"/>
<line x1="98.4" y1="881.6" x2="98.4" y2="888.6" stroke="#2b2b2b" stroke-width="1.8"/>
<text x="98.4" y="911" font-size="24.4" text-anchor="middle">20</text>
<line x1="187.6" y1="881.6" x2="187.6" y2="888.6" stroke="#2b2b2b" stroke-width="1.8"/>
<text x="187.6" y="911" font-size="24.4" text-anchor="middle">30</text>
<line x1="276.8" y1="881.6" x2="276.8" y2="888.6" stroke="#2b2b2b" stroke-width="1.8"/>
<text x="276.8" y="911" font-size="24.4" text-anchor="middle">40</text>
<line x1="366" y1="881.6" x2="366" y2="888.6" stroke="#2b2b2b" stroke-width="1.8"/>
<text x="366" y="911" font-size="24.4" text-anchor="middle">50</text>
<line x1="455.2" y1="881.6" x2="455.2" y2="888.6" stroke="#2b2b2b" stroke-width="1.8"/>
<text x="455.2" y="911" font-size="24.4" text-anchor="middle">60</text>
<line x1="544.4" y1="881.6" x2="544.4" y2="888.6" stroke="#2b2b2b" stroke-width="1.8"/>
<text x="544.4" y="911" font-size="24.4" text-anchor="middle">70</text>
<line x1="633.6" y1="881.6" x2="633.6" y2="888.6" stroke="#2b2b2b" stroke-width="1.8"/>
<text x="633.6" y="911" font-size="24.4" text-anchor="middle">80</text>
<line x1="79.1" y1="839.5" x2="86.6" y2="839.5" stroke="#2b2b2b" stroke-width="1.8"/>
<text x="72" y="848.2" font-size="24.4" text-anchor="end">2.0</text>
<line x1="79.1" y1="772.5" x2="86.6" y2="772.5" stroke="#2b2b2b" stroke-width="1.8"/>
<text x="72" y="781.2" font-size="24.4" text-anchor="end">2.5</text>
<line x1="79.1" y1="705.5" x2="86.6" y2="705.5" stroke="#2b2b2b" stroke-width="1.8"/>
<text x="72" y="714.2" font-size="24.4" text-anchor="end">3.0</text>
<line x1="79.1" y1="638.5" x2="86.6" y2="638.5" stroke="#2b2b2b" stroke-width="1.8"/>
<text x="72" y="647.2" font-size="24.4" text-anchor="end">3.5</text>
<line x1="79.1" y1="571.5" x2="86.6" y2="571.5" stroke="#2b2b2b" stroke-width="1.8"/>
<text x="72" y="580.2" font-size="24.4" text-anchor="end">4.0</text>
<text x="366" y="937.6" font-size="25" text-anchor="middle">Percent of Family with AD</text>
<text x="30.2" y="698.5" font-size="25.2" text-anchor="middle" transform="rotate(-90 30.2 698.5)">Mean High Score per Family</text>
<text x="680" y="494" font-size="31" font-weight="bold">f</text>
<line x1="795.4" y1="641.5" x2="795.4" y2="720.5" stroke="#2b2b2b" stroke-width="1.9"/>
<line x1="795.4" y1="773.2" x2="795.4" y2="852.2" stroke="#2b2b2b" stroke-width="1.9"/>
<line x1="777.2" y1="641.5" x2="813.6" y2="641.5" stroke="#2b2b2b" stroke-width="1.9"/>
<line x1="777.2" y1="852.2" x2="813.6" y2="852.2" stroke="#2b2b2b" stroke-width="1.9"/>
<rect x="758.2" y="720.5" width="74.4" height="52.7" fill="#d07fc0" stroke="#2b2b2b" stroke-width="1.9"/>
<line x1="758.2" y1="746.8" x2="832.6" y2="746.8" stroke="#2b2b2b" stroke-width="1.9"/>
<line x1="795.4" y1="881.6" x2="795.4" y2="889.1" stroke="#2b2b2b" stroke-width="1.8"/>
<text x="796.4" y="911" font-size="24.4" text-anchor="middle">1</text>
<line x1="888.4" y1="575.6" x2="888.4" y2="667.8" stroke="#2b2b2b" stroke-width="1.9"/>
<line x1="888.4" y1="733.6" x2="888.4" y2="812.7" stroke="#2b2b2b" stroke-width="1.9"/>
<line x1="870.2" y1="575.6" x2="906.6" y2="575.6" stroke="#2b2b2b" stroke-width="1.9"/>
<line x1="870.2" y1="812.7" x2="906.6" y2="812.7" stroke="#2b2b2b" stroke-width="1.9"/>
<rect x="851.2" y="667.8" width="74.4" height="65.9" fill="#de8639" stroke="#2b2b2b" stroke-width="1.9"/>
<line x1="851.2" y1="707.3" x2="925.6" y2="707.3" stroke="#2b2b2b" stroke-width="1.9"/>
<line x1="888.4" y1="881.6" x2="888.4" y2="889.1" stroke="#2b2b2b" stroke-width="1.8"/>
<text x="889.4" y="911" font-size="24.4" text-anchor="middle">2</text>
<line x1="981.4" y1="536.1" x2="981.4" y2="654.6" stroke="#2b2b2b" stroke-width="1.9"/>
<line x1="981.4" y1="733.6" x2="981.4" y2="812.7" stroke="#2b2b2b" stroke-width="1.9"/>
<line x1="963.2" y1="536.1" x2="999.6" y2="536.1" stroke="#2b2b2b" stroke-width="1.9"/>
<line x1="963.2" y1="812.7" x2="999.6" y2="812.7" stroke="#2b2b2b" stroke-width="1.9"/>
<rect x="944.2" y="654.6" width="74.4" height="79" fill="#a9b940" stroke="#2b2b2b" stroke-width="1.9"/>
<line x1="944.2" y1="707.3" x2="1018.6" y2="707.3" stroke="#2b2b2b" stroke-width="1.9"/>
<line x1="981.4" y1="881.6" x2="981.4" y2="889.1" stroke="#2b2b2b" stroke-width="1.8"/>
<text x="982.4" y="911" font-size="24.4" text-anchor="middle">3</text>
<line x1="1074.4" y1="628.3" x2="1074.4" y2="707.3" stroke="#2b2b2b" stroke-width="1.9"/>
<line x1="1074.4" y1="773.2" x2="1074.4" y2="865.3" stroke="#2b2b2b" stroke-width="1.9"/>
<line x1="1056.2" y1="628.3" x2="1092.6" y2="628.3" stroke="#2b2b2b" stroke-width="1.9"/>
<line x1="1056.2" y1="865.3" x2="1092.6" y2="865.3" stroke="#2b2b2b" stroke-width="1.9"/>
<rect x="1037.2" y="707.3" width="74.4" height="65.9" fill="#4d9f48" stroke="#2b2b2b" stroke-width="1.9"/>
<line x1="1037.2" y1="746.8" x2="1111.6" y2="746.8" stroke="#2b2b2b" stroke-width="1.9"/>
<line x1="1074.4" y1="881.6" x2="1074.4" y2="889.1" stroke="#2b2b2b" stroke-width="1.8"/>
<text x="1075.4" y="911" font-size="24.4" text-anchor="middle">4</text>
<line x1="1167.4" y1="628.3" x2="1167.4" y2="707.3" stroke="#2b2b2b" stroke-width="1.9"/>
<line x1="1167.4" y1="760" x2="1167.4" y2="839" stroke="#2b2b2b" stroke-width="1.9"/>
<line x1="1149.2" y1="628.3" x2="1185.6" y2="628.3" stroke="#2b2b2b" stroke-width="1.9"/>
<line x1="1149.2" y1="839" x2="1185.6" y2="839" stroke="#2b2b2b" stroke-width="1.9"/>
<rect x="1130.2" y="707.3" width="74.4" height="52.7" fill="#5bbcbc" stroke="#2b2b2b" stroke-width="1.9"/>
<line x1="1130.2" y1="733.6" x2="1204.6" y2="733.6" stroke="#2b2b2b" stroke-width="1.9"/>
<line x1="1167.4" y1="881.6" x2="1167.4" y2="889.1" stroke="#2b2b2b" stroke-width="1.8"/>
<text x="1168.4" y="911" font-size="24.4" text-anchor="middle">5</text>
<line x1="1260.4" y1="654.6" x2="1260.4" y2="694.1" stroke="#2b2b2b" stroke-width="1.9"/>
<line x1="1260.4" y1="720.5" x2="1260.4" y2="760" stroke="#2b2b2b" stroke-width="1.9"/>
<line x1="1242.2" y1="654.6" x2="1278.6" y2="654.6" stroke="#2b2b2b" stroke-width="1.9"/>
<line x1="1242.2" y1="760" x2="1278.6" y2="760" stroke="#2b2b2b" stroke-width="1.9"/>
<rect x="1223.2" y="694.1" width="74.4" height="26.3" fill="#4178a8" stroke="#2b2b2b" stroke-width="1.9"/>
<line x1="1223.2" y1="707.3" x2="1297.6" y2="707.3" stroke="#2b2b2b" stroke-width="1.9"/>
<line x1="1260.4" y1="881.6" x2="1260.4" y2="889.1" stroke="#2b2b2b" stroke-width="1.8"/>
<text x="1261.4" y="911" font-size="24.4" text-anchor="middle">6</text>
<rect x="748.7" y="519.5" width="558.1" height="362.1" fill="none" stroke="#2b2b2b" stroke-width="1.8"/>
<line x1="741.2" y1="536.1" x2="748.7" y2="536.1" stroke="#2b2b2b" stroke-width="1.8"/>
<text x="736.8" y="544.8" font-size="24.4" text-anchor="end">10</text>
<line x1="741.2" y1="601.9" x2="748.7" y2="601.9" stroke="#2b2b2b" stroke-width="1.8"/>
<text x="736.8" y="610.6" font-size="24.4" text-anchor="end">5</text>
<line x1="741.2" y1="667.8" x2="748.7" y2="667.8" stroke="#2b2b2b" stroke-width="1.8"/>
<text x="736.8" y="676.5" font-size="24.4" text-anchor="end">0</text>
<line x1="741.2" y1="733.6" x2="748.7" y2="733.6" stroke="#2b2b2b" stroke-width="1.8"/>
<text x="736.8" y="742.4" font-size="24.4" text-anchor="end">−5</text>
<line x1="741.2" y1="799.5" x2="748.7" y2="799.5" stroke="#2b2b2b" stroke-width="1.8"/>
<text x="736.8" y="808.2" font-size="24.4" text-anchor="end">−10</text>
<line x1="741.2" y1="865.3" x2="748.7" y2="865.3" stroke="#2b2b2b" stroke-width="1.8"/>
<text x="736.8" y="874" font-size="24.4" text-anchor="end">−15</text>
<text x="1044" y="936.6" font-size="25" text-anchor="middle">Subtype</text>
<text x="706.3" y="698.8" font-size="25" text-anchor="middle" transform="rotate(-90 706.3 698.8)">Net Charge</text>
<text x="1750" y="495" font-size="31" font-weight="bold">h</text>
<line x1="1837.2" y1="560.1" x2="1837.2" y2="649.5" stroke="#1a1a1a" stroke-width="2"/>
<line x1="1837.2" y1="718.1" x2="1837.2" y2="815.6" stroke="#1a1a1a" stroke-width="2"/>
<line x1="1827.7" y1="560.1" x2="1846.7" y2="560.1" stroke="#1a1a1a" stroke-width="2"/>
<line x1="1827.7" y1="815.6" x2="1846.7" y2="815.6" stroke="#1a1a1a" stroke-width="2"/>
<rect x="1818.6" y="649.5" width="37.2" height="68.5" fill="#d274c2" stroke="#1a1a1a" stroke-width="3"/>
<line x1="1818.6" y1="685.8" x2="1855.8" y2="685.8" stroke="#1a1a1a" stroke-width="3"/>
<line x1="1837.2" y1="878.2" x2="1837.2" y2="884.2" stroke="#1a1a1a" stroke-width="3"/>
<text x="1838.2" y="913" font-size="24.4" text-anchor="middle">1</text>
<line x1="1883.9" y1="549.6" x2="1883.9" y2="660" stroke="#1a1a1a" stroke-width="2"/>
<line x1="1883.9" y1="737.4" x2="1883.9" y2="849.4" stroke="#1a1a1a" stroke-width="2"/>
<line x1="1874.4" y1="549.6" x2="1893.4" y2="549.6" stroke="#1a1a1a" stroke-width="2"/>
<line x1="1874.4" y1="849.4" x2="1893.4" y2="849.4" stroke="#1a1a1a" stroke-width="2"/>
<rect x="1865.3" y="660" width="37.2" height="77.4" fill="#e8812f" stroke="#1a1a1a" stroke-width="3"/>
<line x1="1865.3" y1="696.3" x2="1902.5" y2="696.3" stroke="#1a1a1a" stroke-width="3"/>
<line x1="1883.9" y1="878.2" x2="1883.9" y2="884.2" stroke="#1a1a1a" stroke-width="3"/>
<text x="1884.9" y="913" font-size="24.4" text-anchor="middle">2</text>
<line x1="1930.6" y1="552.8" x2="1930.6" y2="664" stroke="#1a1a1a" stroke-width="2"/>
<line x1="1930.6" y1="739" x2="1930.6" y2="849.4" stroke="#1a1a1a" stroke-width="2"/>
<line x1="1921.1" y1="552.8" x2="1940.1" y2="552.8" stroke="#1a1a1a" stroke-width="2"/>
<line x1="1921.1" y1="849.4" x2="1940.1" y2="849.4" stroke="#1a1a1a" stroke-width="2"/>
<rect x="1912" y="664" width="37.2" height="75" fill="#bac83c" stroke="#1a1a1a" stroke-width="3"/>
<line x1="1912" y1="701.9" x2="1949.2" y2="701.9" stroke="#1a1a1a" stroke-width="3"/>
<line x1="1930.6" y1="878.2" x2="1930.6" y2="884.2" stroke="#1a1a1a" stroke-width="3"/>
<text x="1931.6" y="913" font-size="24.4" text-anchor="middle">3</text>
<line x1="1977.3" y1="536.7" x2="1977.3" y2="656" stroke="#1a1a1a" stroke-width="2"/>
<line x1="1977.3" y1="737.4" x2="1977.3" y2="850.2" stroke="#1a1a1a" stroke-width="2"/>
<line x1="1967.8" y1="536.7" x2="1986.8" y2="536.7" stroke="#777" stroke-width="2.4"/>
<line x1="1967.8" y1="850.2" x2="1986.8" y2="850.2" stroke="#1a1a1a" stroke-width="2"/>
<rect x="1958.7" y="656" width="37.2" height="81.4" fill="#4fb34b" stroke="#1a1a1a" stroke-width="3"/>
<line x1="1958.7" y1="693.1" x2="1995.9" y2="693.1" stroke="#1a1a1a" stroke-width="3"/>
<line x1="1977.3" y1="878.2" x2="1977.3" y2="884.2" stroke="#1a1a1a" stroke-width="3"/>
<text x="1978.3" y="913" font-size="24.4" text-anchor="middle">4</text>
<line x1="2024" y1="548.8" x2="2024" y2="655.2" stroke="#1a1a1a" stroke-width="2"/>
<line x1="2024" y1="727.7" x2="2024" y2="835.7" stroke="#1a1a1a" stroke-width="2"/>
<line x1="2014.5" y1="548.8" x2="2033.5" y2="548.8" stroke="#1a1a1a" stroke-width="2"/>
<line x1="2014.5" y1="835.7" x2="2033.5" y2="835.7" stroke="#1a1a1a" stroke-width="2"/>
<rect x="2005.4" y="655.2" width="37.2" height="72.5" fill="#60cfcc" stroke="#1a1a1a" stroke-width="3"/>
<line x1="2005.4" y1="695.5" x2="2042.6" y2="695.5" stroke="#1a1a1a" stroke-width="3"/>
<line x1="2024" y1="878.2" x2="2024" y2="884.2" stroke="#1a1a1a" stroke-width="3"/>
<text x="2025" y="913" font-size="24.4" text-anchor="middle">5</text>
<line x1="2070.7" y1="552" x2="2070.7" y2="666.5" stroke="#1a1a1a" stroke-width="2"/>
<line x1="2070.7" y1="744.6" x2="2070.7" y2="861.5" stroke="#1a1a1a" stroke-width="2"/>
<line x1="2061.2" y1="552" x2="2080.2" y2="552" stroke="#1a1a1a" stroke-width="2"/>
<line x1="2061.2" y1="861.5" x2="2080.2" y2="861.5" stroke="#1a1a1a" stroke-width="2"/>
<rect x="2052.1" y="666.5" width="37.2" height="78.2" fill="#4480b8" stroke="#1a1a1a" stroke-width="3"/>
<line x1="2052.1" y1="705.2" x2="2089.3" y2="705.2" stroke="#1a1a1a" stroke-width="3"/>
<line x1="2070.7" y1="878.2" x2="2070.7" y2="884.2" stroke="#1a1a1a" stroke-width="3"/>
<text x="2071.7" y="913" font-size="24.4" text-anchor="middle">6</text>
<rect x="1813.5" y="520.3" width="281.2" height="357.9" fill="none" stroke="#2b2b2b" stroke-width="1.6"/>
<line x1="1808.5" y1="818.8" x2="1813.5" y2="818.8" stroke="#1a1a1a" stroke-width="2.2"/>
<text x="1806.3" y="827.5" font-size="24.4" text-anchor="end">16</text>
<line x1="1808.5" y1="738.2" x2="1813.5" y2="738.2" stroke="#1a1a1a" stroke-width="2.2"/>
<text x="1806.3" y="746.9" font-size="24.4" text-anchor="end">17</text>
<line x1="1808.5" y1="657.6" x2="1813.5" y2="657.6" stroke="#1a1a1a" stroke-width="2.2"/>
<text x="1806.3" y="666.3" font-size="24.4" text-anchor="end">18</text>
<line x1="1808.5" y1="577" x2="1813.5" y2="577" stroke="#1a1a1a" stroke-width="2.2"/>
<text x="1806.3" y="585.7" font-size="24.4" text-anchor="end">19</text>
<line x1="1810" y1="859.1" x2="1813.5" y2="859.1" stroke="#1a1a1a" stroke-width="2.4"/>
<line x1="1810" y1="778.5" x2="1813.5" y2="778.5" stroke="#1a1a1a" stroke-width="2.4"/>
<line x1="1810" y1="697.9" x2="1813.5" y2="697.9" stroke="#1a1a1a" stroke-width="2.4"/>
<line x1="1810" y1="617.3" x2="1813.5" y2="617.3" stroke="#1a1a1a" stroke-width="2.4"/>
<line x1="1810" y1="536.7" x2="1813.5" y2="536.7" stroke="#1a1a1a" stroke-width="2.4"/>
<text x="1963" y="938" font-size="25" text-anchor="middle">Subtype</text>
<text x="1769.7" y="698.6" font-size="25.5" text-anchor="middle" transform="rotate(-90 1769.7 698.6)">Rg</text>
<text x="1365.5" y="982" font-size="31" font-weight="bold">j</text>
<line x1="1510.9" y1="986.5" x2="1510.9" y2="1136.5" stroke="#1a1a1a" stroke-width="2.2"/>
<line x1="1510.9" y1="1240.8" x2="1510.9" y2="1278.5" stroke="#1a1a1a" stroke-width="2.2"/>
<line x1="1489.4" y1="986.5" x2="1532.4" y2="986.5" stroke="#1a1a1a" stroke-width="2.2"/>
<line x1="1489.4" y1="1278.5" x2="1532.4" y2="1278.5" stroke="#1a1a1a" stroke-width="2.2"/>
<rect x="1468.5" y="1136.5" width="84.8" height="104.2" fill="#d274c2" stroke="#1a1a1a" stroke-width="3.2"/>
<line x1="1468.5" y1="1197.4" x2="1553.3" y2="1197.4" stroke="#1a1a1a" stroke-width="2.2"/>
<line x1="1510.9" y1="1293.5" x2="1510.9" y2="1298.5" stroke="#1a1a1a" stroke-width="3"/>
<text x="1510.9" y="1318.2" font-size="24.4" text-anchor="middle">1</text>
<line x1="1616.3" y1="1029.1" x2="1616.3" y2="1158" stroke="#1a1a1a" stroke-width="2.2"/>
<line x1="1616.3" y1="1254.9" x2="1616.3" y2="1278.5" stroke="#1a1a1a" stroke-width="2.2"/>
<line x1="1594.8" y1="1029.1" x2="1637.8" y2="1029.1" stroke="#1a1a1a" stroke-width="2.2"/>
<line x1="1594.8" y1="1278.5" x2="1637.8" y2="1278.5" stroke="#1a1a1a" stroke-width="2.2"/>
<rect x="1573.9" y="1158" width="84.8" height="96.9" fill="#e8812f" stroke="#1a1a1a" stroke-width="3.2"/>
<line x1="1573.9" y1="1219.7" x2="1658.7" y2="1219.7" stroke="#1a1a1a" stroke-width="2.2"/>
<ellipse cx="1621.6" cy="986.5" rx="4.2" ry="3.3" fill="#111"/>
<ellipse cx="1617.5" cy="1151.9" rx="4.2" ry="3.3" fill="#111"/>
<ellipse cx="1617.5" cy="1209.9" rx="4.2" ry="3.3" fill="#111"/>
<ellipse cx="1619.5" cy="1269.5" rx="4.2" ry="3.3" fill="#111"/>
<line x1="1616.3" y1="1293.5" x2="1616.3" y2="1298.5" stroke="#1a1a1a" stroke-width="3"/>
<text x="1616.3" y="1318.2" font-size="24.4" text-anchor="middle">2</text>
<line x1="1722.9" y1="1029.9" x2="1722.9" y2="1152.8" stroke="#1a1a1a" stroke-width="2.2"/>
<line x1="1722.9" y1="1258.2" x2="1722.9" y2="1278.5" stroke="#1a1a1a" stroke-width="2.2"/>
<line x1="1701.4" y1="1029.9" x2="1744.4" y2="1029.9" stroke="#1a1a1a" stroke-width="2.2"/>
<line x1="1701.4" y1="1278.5" x2="1744.4" y2="1278.5" stroke="#1a1a1a" stroke-width="2.2"/>
<rect x="1680.5" y="1152.8" width="84.8" height="105.4" fill="#bac83c" stroke="#1a1a1a" stroke-width="3.2"/>
<line x1="1680.5" y1="1219.7" x2="1765.3" y2="1219.7" stroke="#1a1a1a" stroke-width="2.2"/>
<ellipse cx="1731" cy="986.5" rx="4.2" ry="3.3" fill="#111"/>
<ellipse cx="1720.9" cy="1115" rx="4.2" ry="3.3" fill="#111"/>
<ellipse cx="1725" cy="1144.6" rx="4.2" ry="3.3" fill="#111"/>
<ellipse cx="1718.1" cy="1206.7" rx="4.2" ry="3.3" fill="#111"/>
<ellipse cx="1718.1" cy="1269.1" rx="4.2" ry="3.3" fill="#111"/>
<line x1="1722.9" y1="1293.5" x2="1722.9" y2="1298.5" stroke="#1a1a1a" stroke-width="3"/>
<text x="1722.9" y="1318.2" font-size="24.4" text-anchor="middle">3</text>
<line x1="1829.2" y1="986.5" x2="1829.2" y2="1134.5" stroke="#1a1a1a" stroke-width="2.2"/>
<line x1="1829.2" y1="1241.2" x2="1829.2" y2="1278.5" stroke="#1a1a1a" stroke-width="2.2"/>
<line x1="1807.7" y1="986.5" x2="1850.7" y2="986.5" stroke="#1a1a1a" stroke-width="2.2"/>
<line x1="1807.7" y1="1278.5" x2="1850.7" y2="1278.5" stroke="#1a1a1a" stroke-width="2.2"/>
<rect x="1786.8" y="1134.5" width="84.8" height="106.7" fill="#4fb34b" stroke="#1a1a1a" stroke-width="3.2"/>
<line x1="1786.8" y1="1188.4" x2="1871.6" y2="1188.4" stroke="#1a1a1a" stroke-width="2.2"/>
<ellipse cx="1834.5" cy="986.5" rx="4.2" ry="3.3" fill="#111"/>
<ellipse cx="1822.3" cy="1109" rx="4.2" ry="3.3" fill="#111"/>
<ellipse cx="1822.3" cy="1176.7" rx="4.2" ry="3.3" fill="#111"/>
<ellipse cx="1822.3" cy="1264.3" rx="4.2" ry="3.3" fill="#111"/>
<line x1="1829.2" y1="1293.5" x2="1829.2" y2="1298.5" stroke="#1a1a1a" stroke-width="3"/>
<text x="1829.2" y="1318.2" font-size="24.4" text-anchor="middle">4</text>
<line x1="1935" y1="1013.7" x2="1935" y2="1154" stroke="#1a1a1a" stroke-width="2.2"/>
<line x1="1935" y1="1254.1" x2="1935" y2="1278.5" stroke="#1a1a1a" stroke-width="2.2"/>
<line x1="1913.5" y1="1013.7" x2="1956.5" y2="1013.7" stroke="#1a1a1a" stroke-width="2.2"/>
<line x1="1913.5" y1="1278.5" x2="1956.5" y2="1278.5" stroke="#1a1a1a" stroke-width="2.2"/>
<rect x="1892.6" y="1154" width="84.8" height="100.2" fill="#60cfcc" stroke="#1a1a1a" stroke-width="3.2"/>
<line x1="1892.6" y1="1214" x2="1977.4" y2="1214" stroke="#1a1a1a" stroke-width="2.2"/>
<ellipse cx="1936.6" cy="1001.9" rx="4.2" ry="3.3" fill="#111"/>
<ellipse cx="1936.6" cy="1225.8" rx="4.2" ry="3.3" fill="#111"/>
<ellipse cx="1930.6" cy="1269.5" rx="4.2" ry="3.3" fill="#111"/>
<line x1="1935" y1="1293.5" x2="1935" y2="1298.5" stroke="#1a1a1a" stroke-width="3"/>
<text x="1935" y="1318.2" font-size="24.4" text-anchor="middle">5</text>
<line x1="2042.1" y1="1060.3" x2="2042.1" y2="1171.4" stroke="#1a1a1a" stroke-width="2.2"/>
<line x1="2042.1" y1="1256.2" x2="2042.1" y2="1278.5" stroke="#1a1a1a" stroke-width="2.2"/>
<line x1="2020.6" y1="1060.3" x2="2063.6" y2="1060.3" stroke="#1a1a1a" stroke-width="2.2"/>
<line x1="2020.6" y1="1278.5" x2="2063.6" y2="1278.5" stroke="#1a1a1a" stroke-width="2.2"/>
<rect x="1999.7" y="1171.4" width="84.8" height="84.8" fill="#4480b8" stroke="#1a1a1a" stroke-width="3.2"/>
<line x1="1999.7" y1="1222.9" x2="2084.5" y2="1222.9" stroke="#1a1a1a" stroke-width="2.2"/>
<ellipse cx="2038.4" cy="986.5" rx="4.2" ry="3.3" fill="#111"/>
<ellipse cx="2036" cy="1128.4" rx="4.2" ry="3.3" fill="#111"/>
<ellipse cx="2037.2" cy="1163.3" rx="4.2" ry="3.3" fill="#111"/>
<ellipse cx="2042.1" cy="1214" rx="4.2" ry="3.3" fill="#111"/>
<line x1="2042.1" y1="1293.5" x2="2042.1" y2="1298.5" stroke="#1a1a1a" stroke-width="3"/>
<text x="2042.1" y="1318.2" font-size="24.4" text-anchor="middle">6</text>
<rect x="1457.3" y="971.5" width="637.5" height="322" fill="none" stroke="#2b2b2b" stroke-width="1.6"/>
<line x1="1449.3" y1="1279.7" x2="1457.3" y2="1279.7" stroke="#1a1a1a" stroke-width="2"/>
<text x="1447" y="1287.9" font-size="24.4" text-anchor="end">1</text>
<line x1="1449.3" y1="1233.6" x2="1457.3" y2="1233.6" stroke="#1a1a1a" stroke-width="2"/>
<text x="1447" y="1241.8" font-size="24.4" text-anchor="end">2</text>
<line x1="1449.3" y1="1187.5" x2="1457.3" y2="1187.5" stroke="#1a1a1a" stroke-width="2"/>
<text x="1447" y="1195.7" font-size="24.4" text-anchor="end">3</text>
<line x1="1449.3" y1="1141.4" x2="1457.3" y2="1141.4" stroke="#1a1a1a" stroke-width="2"/>
<text x="1447" y="1149.6" font-size="24.4" text-anchor="end">4</text>
<line x1="1449.3" y1="1095.3" x2="1457.3" y2="1095.3" stroke="#1a1a1a" stroke-width="2"/>
<text x="1447" y="1103.5" font-size="24.4" text-anchor="end">5</text>
<line x1="1449.3" y1="1049.2" x2="1457.3" y2="1049.2" stroke="#1a1a1a" stroke-width="2"/>
<text x="1447" y="1057.4" font-size="24.4" text-anchor="end">6</text>
<line x1="1449.3" y1="1003.1" x2="1457.3" y2="1003.1" stroke="#1a1a1a" stroke-width="2"/>
<text x="1447" y="1011.3" font-size="24.4" text-anchor="end">7</text>
<text x="1785.7" y="1339" font-size="25" text-anchor="middle">Subtype</text>
<text x="1424.9" y="1102" font-size="25.8" text-anchor="middle" transform="rotate(-90 1424.9 1102)">PADI Score</text>
<text x="2" y="986" font-size="31" font-weight="bold">i</text>
<line x1="35.6" y1="984.1" x2="1297.3" y2="984.1" stroke="#1a1a1a" stroke-width="1.8"/>
<line x1="35.6" y1="1013.2" x2="1297.3" y2="1013.2" stroke="#1a1a1a" stroke-width="1.8"/>
<line x1="35.6" y1="1726.7" x2="1297.3" y2="1726.7" stroke="#1a1a1a" stroke-width="1.8"/>
<text x="93.4" y="1006.4" font-size="23.3" text-anchor="middle">Fragment</text>
<text x="254.8" y="1006.4" font-size="23.3" text-anchor="middle">Name</text>
<text x="699.4" y="1006.4" font-size="23.3" text-anchor="middle">ADseq</text>
<text x="1116.8" y="1006.4" font-size="23.3" text-anchor="middle">ScaleScore</text>
<text x="1246.3" y="1006.4" font-size="23.3" text-anchor="middle">Subtype</text>
<text x="93.4" y="1035.6" font-size="23.3" text-anchor="middle">1A</text>
<text x="254.8" y="1035.6" font-size="23.3" text-anchor="middle">AT1G03800.1_161</text>
<text x="699.4" y="1035.6" font-size="23.3" text-anchor="middle">DGTLPSDCHDMLSPGVAEAVAGFFLDLPEVIALKEELDRV</text>
<text x="1116.8" y="1035.6" font-size="23.3" text-anchor="middle">4.15542163</text>
<text x="1246.3" y="1035.6" font-size="23.3" text-anchor="middle">1</text>
<text x="93.4" y="1064.2" font-size="23.3" text-anchor="middle">1B</text>
<text x="254.8" y="1064.2" font-size="23.3" text-anchor="middle">AT1G28160.1_191</text>
<text x="699.4" y="1064.2" font-size="23.3" text-anchor="middle">FGAELRIPETDSYWNVAHASIDTFAFELDGFVDQNSLGQS</text>
<text x="1116.8" y="1064.2" font-size="23.3" text-anchor="middle">7.322800958</text>
<text x="1246.3" y="1064.2" font-size="23.3" text-anchor="middle">1</text>
<text x="93.4" y="1092.8" font-size="23.3" text-anchor="middle">1C</text>
<text x="254.8" y="1092.8" font-size="23.3" text-anchor="middle">AT1G58110.1_61</text>
<text x="699.4" y="1092.8" font-size="23.3" text-anchor="middle">RTSSESHLVEELPFWLDDLLNEQPESPARKCGHRRSSSDS</text>
<text x="1116.8" y="1092.8" font-size="23.3" text-anchor="middle">3.033857022</text>
<text x="1246.3" y="1092.8" font-size="23.3" text-anchor="middle">1</text>
<text x="93.4" y="1121.3" font-size="23.3" text-anchor="middle">1D</text>
<text x="254.8" y="1121.3" font-size="23.3" text-anchor="middle">AT2G18850.1_401</text>
<text x="699.4" y="1121.3" font-size="23.3" text-anchor="middle">PYDVIPLDFDVIDDEDIETEFSWTTHMLRGTWLSSNHNIF</text>
<text x="1116.8" y="1121.3" font-size="23.3" text-anchor="middle">4.643607361</text>
<text x="1246.3" y="1121.3" font-size="23.3" text-anchor="middle">1</text>
<text x="93.4" y="1149.9" font-size="23.3" text-anchor="middle">1E</text>
<text x="254.8" y="1149.9" font-size="23.3" text-anchor="middle">AT4G36540.1_181</text>
<text x="699.4" y="1149.9" font-size="23.3" text-anchor="middle">TGKAGMLDEIINYVQSLQQQVEFLSMKLSVINPELECHID</text>
<text x="1116.8" y="1149.9" font-size="23.3" text-anchor="middle">1.294388321</text>
<text x="1246.3" y="1149.9" font-size="23.3" text-anchor="middle">1</text>
<text x="93.4" y="1178.5" font-size="23.3" text-anchor="middle">2A</text>
<text x="254.8" y="1178.5" font-size="23.3" text-anchor="middle">AT1G08010.1_121</text>
<text x="699.4" y="1178.5" font-size="23.3" text-anchor="middle">SPVSVLENSYGSLSTHNNGSQRLAFPVKGMRSKRKRPTTL</text>
<text x="1116.8" y="1178.5" font-size="23.3" text-anchor="middle">7.322800958</text>
<text x="1246.3" y="1178.5" font-size="23.3" text-anchor="middle">2</text>
<text x="93.4" y="1207.1" font-size="23.3" text-anchor="middle">2B</text>
<text x="254.8" y="1207.1" font-size="23.3" text-anchor="middle">AT3G07220.1_41</text>
<text x="699.4" y="1207.1" font-size="23.3" text-anchor="middle">ATVDVDLSSLGGGMNISRNHARIFYDFTRRRFSLEVLGKN</text>
<text x="1116.8" y="1207.1" font-size="23.3" text-anchor="middle">1.194154805</text>
<text x="1246.3" y="1207.1" font-size="23.3" text-anchor="middle">2</text>
<text x="93.4" y="1235.7" font-size="23.3" text-anchor="middle">2C</text>
<text x="254.8" y="1235.7" font-size="23.3" text-anchor="middle">AT5G48250.1_181</text>
<text x="699.4" y="1235.7" font-size="23.3" text-anchor="middle">DDFNGNLISDEVDLALENYEELFGSAFNSSRYLFEHGGIG</text>
<text x="1116.8" y="1235.7" font-size="23.3" text-anchor="middle">3.740816929</text>
<text x="1246.3" y="1235.7" font-size="23.3" text-anchor="middle">2</text>
<text x="93.4" y="1264.2" font-size="23.3" text-anchor="middle">2D</text>
<text x="254.8" y="1264.2" font-size="23.3" text-anchor="middle">AT5G65640.1_51</text>
<text x="699.4" y="1264.2" font-size="23.3" text-anchor="middle">YLCFNNEEEDENTLLYPSSFMDLISQPPPLLLHQPPPLQP</text>
<text x="1116.8" y="1264.2" font-size="23.3" text-anchor="middle">2.482458123</text>
<text x="1246.3" y="1264.2" font-size="23.3" text-anchor="middle">2</text>
<text x="93.4" y="1292.8" font-size="23.3" text-anchor="middle">3A</text>
<text x="254.8" y="1292.8" font-size="23.3" text-anchor="middle">AT1G21340.1_71</text>
<text x="699.4" y="1292.8" font-size="23.3" text-anchor="middle">YWTKGGSLRNIPVGGGCRKRSRSRQNSHKRFGRNENRPDG</text>
<text x="1116.8" y="1292.8" font-size="23.3" text-anchor="middle">7.322800958</text>
<text x="1246.3" y="1292.8" font-size="23.3" text-anchor="middle">3</text>
<text x="93.4" y="1321.4" font-size="23.3" text-anchor="middle">3B</text>
<text x="254.8" y="1321.4" font-size="23.3" text-anchor="middle">AT2G33350.1_111</text>
<text x="699.4" y="1321.4" font-size="23.3" text-anchor="middle">ASIDFSSSSLQYPVIDHLLTAISQDQFDFSSGLQVIHQPP</text>
<text x="1116.8" y="1321.4" font-size="23.3" text-anchor="middle">2.554129123</text>
<text x="1246.3" y="1321.4" font-size="23.3" text-anchor="middle">3</text>
<text x="93.4" y="1350" font-size="23.3" text-anchor="middle">3C</text>
<text x="254.8" y="1350" font-size="23.3" text-anchor="middle">AT2G40950.1_1</text>
<text x="699.4" y="1350" font-size="23.3" text-anchor="middle">MAEPITKEQPPPPAPDPNSTYPPPSDFDSISIPPLDDHFS</text>
<text x="1116.8" y="1350" font-size="23.3" text-anchor="middle">1.204230017</text>
<text x="1246.3" y="1350" font-size="23.3" text-anchor="middle">3</text>
<text x="93.4" y="1378.6" font-size="23.3" text-anchor="middle">3D</text>
<text x="254.8" y="1378.6" font-size="23.3" text-anchor="middle">AT3G02990.1_391</text>
<text x="699.4" y="1378.6" font-size="23.3" text-anchor="middle">DTLNELLPEVQDSFWEQFIGESPVIGETDELISGSVENEL</text>
<text x="1116.8" y="1378.6" font-size="23.3" text-anchor="middle">4.533355624</text>
<text x="1246.3" y="1378.6" font-size="23.3" text-anchor="middle">3</text>
<text x="93.4" y="1407.1" font-size="23.3" text-anchor="middle">3E</text>
<text x="254.8" y="1407.1" font-size="23.3" text-anchor="middle">AT5G07210.1_571</text>
<text x="699.4" y="1407.1" font-size="23.3" text-anchor="middle">ASPETNTPILNINHNQNQGQDVPEFNDWSFLDPQELVDDD</text>
<text x="1116.8" y="1407.1" font-size="23.3" text-anchor="middle">3.900760037</text>
<text x="1246.3" y="1407.1" font-size="23.3" text-anchor="middle">3</text>
<text x="93.4" y="1435.7" font-size="23.3" text-anchor="middle">4A</text>
<text x="254.8" y="1435.7" font-size="23.3" text-anchor="middle">AT1G06160.1_1</text>
<text x="699.4" y="1435.7" font-size="23.3" text-anchor="middle">MEYQTNFLSGEFSPENSSSSSWSSQESFLWEESFLHQSFD</text>
<text x="1116.8" y="1435.7" font-size="23.3" text-anchor="middle">7.322800958</text>
<text x="1246.3" y="1435.7" font-size="23.3" text-anchor="middle">4</text>
<text x="93.4" y="1464.3" font-size="23.3" text-anchor="middle">4B</text>
<text x="254.8" y="1464.3" font-size="23.3" text-anchor="middle">AT1G19700.1_481</text>
<text x="699.4" y="1464.3" font-size="23.3" text-anchor="middle">RVLGNDNDPQQQQINRSSDYDTLMNYHGFGVDDYRYISGS</text>
<text x="1116.8" y="1464.3" font-size="23.3" text-anchor="middle">1.311606678</text>
<text x="1246.3" y="1464.3" font-size="23.3" text-anchor="middle">4</text>
<text x="93.4" y="1492.9" font-size="23.3" text-anchor="middle">4C</text>
<text x="254.8" y="1492.9" font-size="23.3" text-anchor="middle">AT4G13480.1_191</text>
<text x="699.4" y="1492.9" font-size="23.3" text-anchor="middle">NSNSLEEQLQGRFSPVNIPDANTMNEDNAIWDGFWNMDVV</text>
<text x="1116.8" y="1492.9" font-size="23.3" text-anchor="middle">4.670309427</text>
<text x="1246.3" y="1492.9" font-size="23.3" text-anchor="middle">4</text>
<text x="93.4" y="1521.5" font-size="23.3" text-anchor="middle">4D</text>
<text x="254.8" y="1521.5" font-size="23.3" text-anchor="middle">AT4G31060.1_131</text>
<text x="699.4" y="1521.5" font-size="23.3" text-anchor="middle">PSEVPASSDVSASTEITEMVDEYYLPTDATAESIFSVEDL</text>
<text x="1116.8" y="1521.5" font-size="23.3" text-anchor="middle">3.204329995</text>
<text x="1246.3" y="1521.5" font-size="23.3" text-anchor="middle">4</text>
<text x="93.4" y="1550" font-size="23.3" text-anchor="middle">5A</text>
<text x="254.8" y="1550" font-size="23.3" text-anchor="middle">AT1G21340.1_181</text>
<text x="699.4" y="1550" font-size="23.3" text-anchor="middle">FYGEFNNLTQKTKEDQEVFGQFLQEDREEIFEFQGLLDDK</text>
<text x="1116.8" y="1550" font-size="23.3" text-anchor="middle">6.983970642</text>
<text x="1246.3" y="1550" font-size="23.3" text-anchor="middle">5</text>
<text x="93.4" y="1578.6" font-size="23.3" text-anchor="middle">5B</text>
<text x="254.8" y="1578.6" font-size="23.3" text-anchor="middle">AT4G00250.1_101</text>
<text x="699.4" y="1578.6" font-size="23.3" text-anchor="middle">VKRVKKEDDNKKANPQRVWSEEDEISLLQAVIDFKAETGT</text>
<text x="1116.8" y="1578.6" font-size="23.3" text-anchor="middle">2.143180619</text>
<text x="1246.3" y="1578.6" font-size="23.3" text-anchor="middle">5</text>
<text x="93.4" y="1607.2" font-size="23.3" text-anchor="middle">5C</text>
<text x="254.8" y="1607.2" font-size="23.3" text-anchor="middle">AT5G63420.1_761</text>
<text x="699.4" y="1607.2" font-size="23.3" text-anchor="middle">WKSFINPSSSPSPSETENMNKVADTEPKAEGKENSRDDDE</text>
<text x="1116.8" y="1607.2" font-size="23.3" text-anchor="middle">1.196034686</text>
<text x="1246.3" y="1607.2" font-size="23.3" text-anchor="middle">5</text>
<text x="93.4" y="1635.8" font-size="23.3" text-anchor="middle">6A</text>
<text x="254.8" y="1635.8" font-size="23.3" text-anchor="middle">AT1G18960.1_201</text>
<text x="699.4" y="1635.8" font-size="23.3" text-anchor="middle">SNSSPPLFSSTCSTIAQENSEVNFTWSDFLLDQETFHENQ</text>
<text x="1116.8" y="1635.8" font-size="23.3" text-anchor="middle">7.322800958</text>
<text x="1246.3" y="1635.8" font-size="23.3" text-anchor="middle">6</text>
<text x="93.4" y="1664.4" font-size="23.3" text-anchor="middle">6B</text>
<text x="254.8" y="1664.4" font-size="23.3" text-anchor="middle">AT3G21880.1_111</text>
<text x="699.4" y="1664.4" font-size="23.3" text-anchor="middle">PVSGLLSPFVGSFPLNDLNNTMFDTAYSMVPHNISYTQNF</text>
<text x="1116.8" y="1664.4" font-size="23.3" text-anchor="middle">4.24576549</text>
<text x="1246.3" y="1664.4" font-size="23.3" text-anchor="middle">6</text>
<text x="93.4" y="1692.9" font-size="23.3" text-anchor="middle">6C</text>
<text x="254.8" y="1692.9" font-size="23.3" text-anchor="middle">AT4G32880.1_311</text>
<text x="699.4" y="1692.9" font-size="23.3" text-anchor="middle">LPSGYLIRPCEGGGSILHIVDHFDLEPWSVPEVLRSLYES</text>
<text x="1116.8" y="1692.9" font-size="23.3" text-anchor="middle">2.398296034</text>
<text x="1246.3" y="1692.9" font-size="23.3" text-anchor="middle">6</text>
<text x="93.4" y="1721.5" font-size="23.3" text-anchor="middle">6D</text>
<text x="254.8" y="1721.5" font-size="23.3" text-anchor="middle">AT5G50915.1_11</text>
<text x="699.4" y="1721.5" font-size="23.3" text-anchor="middle">PHSLLDPLLFPTPHSSINLTSFIDQNHLYPLPNISTVEDI</text>
<text x="1116.8" y="1721.5" font-size="23.3" text-anchor="middle">3.49145308</text>
<text x="1246.3" y="1721.5" font-size="23.3" text-anchor="middle">6</text>
<text x="1366" y="1390" font-size="31" font-weight="bold">k</text>
<path d="M1538.4 1649.3L1537.6 1647.8L1536.8 1646.3L1536.1 1644.8L1535.5 1643.4L1534.9 1641.9L1534.3 1640.4L1533.8 1639L1533.3 1637.5L1532.9 1636L1532.5 1634.5L1532.1 1633.1L1531.8 1631.6L1531.5 1630.1L1531.3 1628.6L1531.1 1627.2L1530.9 1625.7L1530.8 1624.2L1530.8 1622.7L1530.9 1621.3L1531 1619.8L1531.2 1618.3L1531.5 1616.8L1531.9 1615.4L1532.3 1613.9L1532.7 1612.4L1533.1 1610.9L1533.5 1609.5L1534 1608L1534.4 1606.5L1534.8 1605L1535.1 1603.6L1535.5 1602.1L1535.8 1600.6L1536.1 1599.1L1536.4 1597.7L1536.6 1596.2L1536.9 1594.7L1537.1 1593.3L1537.1 1591.8L1537.1 1590.3L1537.2 1588.8L1537.2 1587.4L1537.2 1585.9L1537.2 1584.4L1537.2 1582.9L1537.2 1581.5L1537.2 1580L1537.3 1578.5L1537.3 1577L1537.3 1575.6L1537.3 1574.1L1537.3 1572.6L1537.3 1571.1L1537.4 1569.7L1537.4 1568.2L1537.4 1566.7L1537.4 1565.2L1537.4 1563.8L1537.4 1562.3L1537.4 1560.8L1537.5 1559.3L1537.5 1557.9L1537.5 1556.4L1537.5 1554.9L1537.5 1553.5L1537.5 1552L1537.5 1550.5L1537.6 1549L1537.6 1547.6L1537.6 1546.1L1537.6 1544.6L1537.6 1543.1L1537.6 1541.7L1537.6 1540.2L1537.7 1538.7L1537.7 1537.2L1537.7 1535.8L1537.7 1534.3L1537.7 1532.8L1537.7 1531.3L1537.7 1529.9L1537.8 1528.4L1537.8 1526.9L1537.8 1525.4L1537.8 1524L1537.8 1522.5L1537.8 1521L1537.8 1519.5L1537.8 1518.1L1537.9 1516.6L1537.9 1515.1L1537.9 1513.6L1537.9 1512.2L1537.9 1510.7L1537.9 1509.2L1537.9 1507.8L1538 1506.3L1538 1504.8L1538 1503.3L1538 1501.9L1538 1500.4L1538 1498.9L1538 1497.4L1538 1496L1538.1 1494.5L1538.1 1493L1538.1 1491.5L1538.1 1490.1L1538.1 1488.6L1538.1 1487.1L1538.1 1485.6L1538.1 1484.2L1538.2 1482.7L1538.2 1481.2L1538.2 1479.7L1538.2 1478.3L1538.2 1476.8L1538.2 1475.3L1538.2 1473.8L1538.2 1472.4L1538.2 1470.9L1538.2 1469.4L1538.2 1468L1538.2 1466.5L1538.2 1465L1538.2 1463.5L1538.2 1462.1L1538.2 1460.6L1538.2 1459.1L1538.2 1457.6L1538.2 1456.2L1538.2 1454.7L1538.2 1453.2L1538.2 1451.7L1538.2 1450.3L1538.2 1448.8L1538.2 1447.3L1538.2 1445.8L1538.2 1444.4L1538.2 1442.9L1538.2 1441.4L1538.2 1439.9L1538.2 1438.5L1538.2 1437L1538.2 1435.5L1538.2 1434L1538.2 1432.6L1538.2 1431.1L1538.2 1429.6L1538.2 1428.1L1538.2 1426.7L1538.2 1425.2L1538.2 1423.7L1538.2 1422.3L1538.2 1420.8L1538.2 1419.3L1538.2 1417.8L1538.2 1416.4L1538.3 1414.9L1538.9 1414.9L1538.9 1416.4L1538.9 1417.8L1538.9 1419.3L1538.9 1420.8L1538.9 1422.3L1538.9 1423.7L1538.9 1425.2L1538.9 1426.7L1538.9 1428.1L1538.9 1429.6L1538.9 1431.1L1538.9 1432.6L1538.9 1434L1538.9 1435.5L1538.9 1437L1538.9 1438.5L1538.9 1439.9L1538.9 1441.4L1538.9 1442.9L1538.9 1444.4L1538.9 1445.8L1538.9 1447.3L1538.9 1448.8L1538.9 1450.3L1538.9 1451.7L1538.9 1453.2L1538.9 1454.7L1538.9 1456.2L1538.9 1457.6L1538.9 1459.1L1538.9 1460.6L1538.9 1462.1L1538.9 1463.5L1538.9 1465L1538.9 1466.5L1538.9 1468L1538.9 1469.4L1538.9 1470.9L1539 1472.4L1539 1473.8L1539 1475.3L1539 1476.8L1539 1478.3L1539 1479.7L1539 1481.2L1539 1482.7L1539.1 1484.2L1539.1 1485.6L1539.1 1487.1L1539.1 1488.6L1539.1 1490.1L1539.1 1491.5L1539.1 1493L1539.1 1494.5L1539.2 1496L1539.2 1497.4L1539.2 1498.9L1539.2 1500.4L1539.2 1501.9L1539.2 1503.3L1539.2 1504.8L1539.2 1506.3L1539.3 1507.8L1539.3 1509.2L1539.3 1510.7L1539.3 1512.2L1539.3 1513.6L1539.3 1515.1L1539.3 1516.6L1539.4 1518.1L1539.4 1519.5L1539.4 1521L1539.4 1522.5L1539.4 1524L1539.4 1525.4L1539.4 1526.9L1539.4 1528.4L1539.5 1529.9L1539.5 1531.3L1539.5 1532.8L1539.5 1534.3L1539.5 1535.8L1539.5 1537.2L1539.5 1538.7L1539.6 1540.2L1539.6 1541.7L1539.6 1543.1L1539.6 1544.6L1539.6 1546.1L1539.6 1547.6L1539.6 1549L1539.7 1550.5L1539.7 1552L1539.7 1553.5L1539.7 1554.9L1539.7 1556.4L1539.7 1557.9L1539.7 1559.3L1539.8 1560.8L1539.8 1562.3L1539.8 1563.8L1539.8 1565.2L1539.8 1566.7L1539.8 1568.2L1539.8 1569.7L1539.9 1571.1L1539.9 1572.6L1539.9 1574.1L1539.9 1575.6L1539.9 1577L1539.9 1578.5L1540 1580L1540 1581.5L1540 1582.9L1540 1584.4L1540 1585.9L1540 1587.4L1540 1588.8L1540.1 1590.3L1540.1 1591.8L1540.1 1593.3L1540.3 1594.7L1540.6 1596.2L1540.8 1597.7L1541.1 1599.1L1541.4 1600.6L1541.7 1602.1L1542.1 1603.6L1542.4 1605L1542.8 1606.5L1543.2 1608L1543.7 1609.5L1544.1 1610.9L1544.5 1612.4L1544.9 1613.9L1545.3 1615.4L1545.7 1616.8L1546 1618.3L1546.2 1619.8L1546.3 1621.3L1546.4 1622.7L1546.4 1624.2L1546.3 1625.7L1546.1 1627.2L1545.9 1628.6L1545.7 1630.1L1545.4 1631.6L1545.1 1633.1L1544.7 1634.5L1544.3 1636L1543.9 1637.5L1543.4 1639L1542.9 1640.4L1542.3 1641.9L1541.7 1643.4L1541.1 1644.8L1540.4 1646.3L1539.6 1647.8L1538.8 1649.3Z" fill="#d578c4" stroke="#8c8c8c" stroke-width="0.9"/>
<line x1="1534.8" y1="1608.3" x2="1542.4" y2="1608.3" stroke="#222" stroke-width="1.8"/>
<line x1="1538.6" y1="1669.5" x2="1538.6" y2="1676" stroke="#1a1a1a" stroke-width="2.6"/>
<text x="1544.4" y="1680.2" font-size="25.2" text-anchor="end" transform="rotate(-90 1544.4 1680.2)">1A</text>
<path d="M1558.2 1650.9L1557.5 1649.3L1556.7 1647.8L1556 1646.3L1555.4 1644.7L1554.8 1643.2L1554.3 1641.6L1553.8 1640.1L1553.3 1638.5L1552.9 1637L1552.5 1635.5L1552.1 1633.9L1551.8 1632.4L1551.5 1630.8L1551.2 1629.3L1551 1627.7L1550.8 1626.2L1550.7 1624.7L1550.6 1623.1L1550.6 1621.6L1550.6 1620L1550.7 1618.5L1550.9 1616.9L1551.2 1615.4L1551.5 1613.9L1551.8 1612.3L1552.2 1610.8L1552.6 1609.2L1553 1607.7L1553.4 1606.1L1553.8 1604.6L1554.2 1603.1L1554.6 1601.5L1554.9 1600L1555.2 1598.4L1555.5 1596.9L1555.8 1595.3L1556.1 1593.8L1556.3 1592.3L1556.5 1590.7L1556.6 1589.2L1556.6 1587.6L1556.7 1586.1L1556.7 1584.5L1556.7 1583L1556.7 1581.5L1556.7 1579.9L1556.8 1578.4L1556.8 1576.8L1556.8 1575.3L1556.8 1573.7L1556.8 1572.2L1556.8 1570.7L1556.9 1569.1L1556.9 1567.6L1556.9 1566L1556.9 1564.5L1556.9 1562.9L1556.9 1561.4L1557 1559.9L1557 1558.3L1557 1556.8L1557 1555.2L1557 1553.7L1557.1 1552.1L1557.1 1550.6L1557.1 1549.1L1557.1 1547.5L1557.1 1546L1557.1 1544.4L1557.2 1542.9L1557.2 1541.3L1557.2 1539.8L1557.2 1538.3L1557.2 1536.7L1557.2 1535.2L1557.3 1533.6L1557.3 1532.1L1557.3 1530.5L1557.3 1529L1557.3 1527.5L1557.3 1525.9L1557.4 1524.4L1557.4 1522.8L1557.4 1521.3L1557.4 1519.7L1557.4 1518.2L1557.4 1516.7L1557.5 1515.1L1557.5 1513.6L1557.5 1512L1557.5 1510.5L1557.5 1508.9L1557.5 1507.4L1557.5 1505.9L1557.6 1504.3L1557.6 1502.8L1557.6 1501.2L1557.6 1499.7L1557.6 1498.1L1557.6 1496.6L1557.7 1495L1557.7 1493.5L1557.7 1492L1557.7 1490.4L1557.7 1488.9L1557.7 1487.3L1557.7 1485.8L1557.8 1484.2L1557.8 1482.7L1557.8 1481.2L1557.8 1479.6L1557.8 1478.1L1557.8 1476.5L1557.8 1475L1557.9 1473.4L1557.9 1471.9L1557.9 1470.4L1557.9 1468.8L1557.9 1467.3L1557.9 1465.7L1557.9 1464.2L1558 1462.6L1558 1461.1L1558 1459.6L1558 1458L1558 1456.5L1558 1454.9L1558 1453.4L1558 1451.8L1558 1450.3L1558 1448.8L1558 1447.2L1558 1445.7L1558 1444.1L1558 1442.6L1558 1441L1558 1439.5L1558 1438L1558 1436.4L1558 1434.9L1558 1433.3L1558 1431.8L1558 1430.2L1558 1428.7L1558 1427.2L1558 1425.6L1558 1424.1L1558 1422.5L1558 1421L1558 1419.4L1558 1417.9L1558 1416.4L1558 1414.8L1558 1413.3L1558 1411.7L1558 1410.2L1558 1408.6L1558 1407.1L1558.1 1405.6L1558.7 1405.6L1558.7 1407.1L1558.7 1408.6L1558.7 1410.2L1558.7 1411.7L1558.7 1413.3L1558.7 1414.8L1558.7 1416.4L1558.7 1417.9L1558.7 1419.4L1558.7 1421L1558.7 1422.5L1558.7 1424.1L1558.7 1425.6L1558.7 1427.2L1558.7 1428.7L1558.7 1430.2L1558.7 1431.8L1558.7 1433.3L1558.7 1434.9L1558.7 1436.4L1558.7 1438L1558.7 1439.5L1558.7 1441L1558.7 1442.6L1558.7 1444.1L1558.7 1445.7L1558.7 1447.2L1558.7 1448.8L1558.7 1450.3L1558.7 1451.8L1558.7 1453.4L1558.7 1454.9L1558.7 1456.5L1558.7 1458L1558.7 1459.6L1558.7 1461.1L1558.8 1462.6L1558.8 1464.2L1558.8 1465.7L1558.8 1467.3L1558.8 1468.8L1558.8 1470.4L1558.8 1471.9L1558.9 1473.4L1558.9 1475L1558.9 1476.5L1558.9 1478.1L1558.9 1479.6L1558.9 1481.2L1558.9 1482.7L1559 1484.2L1559 1485.8L1559 1487.3L1559 1488.9L1559 1490.4L1559 1492L1559.1 1493.5L1559.1 1495L1559.1 1496.6L1559.1 1498.1L1559.1 1499.7L1559.1 1501.2L1559.1 1502.8L1559.2 1504.3L1559.2 1505.9L1559.2 1507.4L1559.2 1508.9L1559.2 1510.5L1559.2 1512L1559.3 1513.6L1559.3 1515.1L1559.3 1516.7L1559.3 1518.2L1559.3 1519.7L1559.3 1521.3L1559.4 1522.8L1559.4 1524.4L1559.4 1525.9L1559.4 1527.5L1559.4 1529L1559.4 1530.5L1559.4 1532.1L1559.5 1533.6L1559.5 1535.2L1559.5 1536.7L1559.5 1538.3L1559.5 1539.8L1559.5 1541.3L1559.6 1542.9L1559.6 1544.4L1559.6 1546L1559.6 1547.5L1559.6 1549.1L1559.7 1550.6L1559.7 1552.1L1559.7 1553.7L1559.7 1555.2L1559.7 1556.8L1559.7 1558.3L1559.8 1559.9L1559.8 1561.4L1559.8 1562.9L1559.8 1564.5L1559.8 1566L1559.8 1567.6L1559.9 1569.1L1559.9 1570.7L1559.9 1572.2L1559.9 1573.7L1559.9 1575.3L1559.9 1576.8L1560 1578.4L1560 1579.9L1560 1581.5L1560 1583L1560 1584.5L1560.1 1586.1L1560.1 1587.6L1560.1 1589.2L1560.2 1590.7L1560.4 1592.3L1560.6 1593.8L1560.9 1595.3L1561.2 1596.9L1561.5 1598.4L1561.8 1600L1562.2 1601.5L1562.5 1603.1L1562.9 1604.6L1563.3 1606.1L1563.7 1607.7L1564.1 1609.2L1564.5 1610.8L1564.9 1612.3L1565.2 1613.9L1565.6 1615.4L1565.8 1616.9L1566 1618.5L1566.1 1620L1566.2 1621.6L1566.1 1623.1L1566 1624.7L1565.9 1626.2L1565.7 1627.7L1565.5 1629.3L1565.2 1630.8L1564.9 1632.4L1564.6 1633.9L1564.3 1635.5L1563.9 1637L1563.4 1638.5L1563 1640.1L1562.5 1641.6L1561.9 1643.2L1561.3 1644.7L1560.7 1646.3L1560 1647.8L1559.3 1649.3L1558.6 1650.9Z" fill="#d578c4" stroke="#8c8c8c" stroke-width="0.9"/>
<line x1="1554.6" y1="1603.5" x2="1562.2" y2="1603.5" stroke="#222" stroke-width="1.8"/>
<line x1="1558.4" y1="1669.5" x2="1558.4" y2="1676" stroke="#1a1a1a" stroke-width="2.6"/>
<text x="1564.4" y="1680.2" font-size="25.2" text-anchor="end" transform="rotate(-90 1564.4 1680.2)">1B</text>
<path d="M1577.9 1653.3L1577.3 1651.7L1576.6 1650.1L1575.9 1648.6L1575.3 1647L1574.7 1645.4L1574.2 1643.8L1573.7 1642.2L1573.3 1640.6L1572.8 1639L1572.4 1637.4L1572.1 1635.8L1571.7 1634.3L1571.4 1632.7L1571.2 1631.1L1570.9 1629.5L1570.7 1627.9L1570.5 1626.3L1570.4 1624.7L1570.2 1623.1L1570.2 1621.5L1570.1 1620L1570.1 1618.4L1570.2 1616.8L1570.4 1615.2L1570.5 1613.6L1570.8 1612L1571 1610.4L1571.3 1608.8L1571.6 1607.2L1571.9 1605.7L1572.2 1604.1L1572.5 1602.5L1572.8 1600.9L1573.2 1599.3L1573.5 1597.7L1573.8 1596.1L1574 1594.5L1574.3 1592.9L1574.6 1591.4L1574.8 1589.8L1575.1 1588.2L1575.2 1586.6L1575.3 1585L1575.3 1583.4L1575.3 1581.8L1575.4 1580.2L1575.4 1578.6L1575.4 1577.1L1575.4 1575.5L1575.5 1573.9L1575.5 1572.3L1575.5 1570.7L1575.6 1569.1L1575.6 1567.5L1575.6 1565.9L1575.7 1564.3L1575.7 1562.8L1575.7 1561.2L1575.7 1559.6L1575.8 1558L1575.8 1556.4L1575.8 1554.8L1575.9 1553.2L1575.9 1551.6L1575.9 1550L1576 1548.5L1576 1546.9L1576 1545.3L1576 1543.7L1576.1 1542.1L1576.1 1540.5L1576.1 1538.9L1576.2 1537.3L1576.2 1535.7L1576.2 1534.2L1576.2 1532.6L1576.3 1531L1576.3 1529.4L1576.3 1527.8L1576.4 1526.2L1576.4 1524.6L1576.4 1523L1576.4 1521.4L1576.5 1519.9L1576.5 1518.3L1576.5 1516.7L1576.5 1515.1L1576.6 1513.5L1576.6 1511.9L1576.6 1510.3L1576.7 1508.7L1576.7 1507.1L1576.7 1505.6L1576.7 1504L1576.8 1502.4L1576.8 1500.8L1576.8 1499.2L1576.8 1497.6L1576.9 1496L1576.9 1494.4L1576.9 1492.8L1576.9 1491.3L1577 1489.7L1577 1488.1L1577 1486.5L1577 1484.9L1577.1 1483.3L1577.1 1481.7L1577.1 1480.1L1577.1 1478.5L1577.2 1477L1577.2 1475.4L1577.2 1473.8L1577.2 1472.2L1577.3 1470.6L1577.3 1469L1577.3 1467.4L1577.3 1465.8L1577.4 1464.2L1577.4 1462.7L1577.4 1461.1L1577.4 1459.5L1577.5 1457.9L1577.5 1456.3L1577.5 1454.7L1577.5 1453.1L1577.5 1451.5L1577.6 1449.9L1577.6 1448.4L1577.6 1446.8L1577.6 1445.2L1577.7 1443.6L1577.7 1442L1577.7 1440.4L1577.7 1438.8L1577.7 1437.2L1577.8 1435.6L1577.8 1434.1L1577.8 1432.5L1577.8 1430.9L1577.8 1429.3L1577.8 1427.7L1577.8 1426.1L1577.8 1424.5L1577.8 1422.9L1577.8 1421.3L1577.8 1419.8L1577.8 1418.2L1577.8 1416.6L1577.8 1415L1577.8 1413.4L1577.8 1411.8L1577.8 1410.2L1577.8 1408.6L1577.8 1407L1577.8 1405.5L1577.8 1403.9L1577.8 1402.3L1577.8 1400.7L1578.4 1400.7L1578.5 1402.3L1578.5 1403.9L1578.5 1405.5L1578.5 1407L1578.5 1408.6L1578.5 1410.2L1578.5 1411.8L1578.5 1413.4L1578.5 1415L1578.5 1416.6L1578.5 1418.2L1578.5 1419.8L1578.5 1421.3L1578.5 1422.9L1578.5 1424.5L1578.5 1426.1L1578.5 1427.7L1578.5 1429.3L1578.5 1430.9L1578.5 1432.5L1578.5 1434.1L1578.5 1435.6L1578.5 1437.2L1578.5 1438.8L1578.5 1440.4L1578.6 1442L1578.6 1443.6L1578.6 1445.2L1578.6 1446.8L1578.6 1448.4L1578.7 1449.9L1578.7 1451.5L1578.7 1453.1L1578.7 1454.7L1578.8 1456.3L1578.8 1457.9L1578.8 1459.5L1578.8 1461.1L1578.9 1462.7L1578.9 1464.2L1578.9 1465.8L1578.9 1467.4L1578.9 1469L1579 1470.6L1579 1472.2L1579 1473.8L1579 1475.4L1579.1 1477L1579.1 1478.5L1579.1 1480.1L1579.1 1481.7L1579.2 1483.3L1579.2 1484.9L1579.2 1486.5L1579.2 1488.1L1579.3 1489.7L1579.3 1491.3L1579.3 1492.8L1579.3 1494.4L1579.4 1496L1579.4 1497.6L1579.4 1499.2L1579.5 1500.8L1579.5 1502.4L1579.5 1504L1579.5 1505.6L1579.6 1507.1L1579.6 1508.7L1579.6 1510.3L1579.6 1511.9L1579.7 1513.5L1579.7 1515.1L1579.7 1516.7L1579.7 1518.3L1579.8 1519.9L1579.8 1521.4L1579.8 1523L1579.9 1524.6L1579.9 1526.2L1579.9 1527.8L1579.9 1529.4L1580 1531L1580 1532.6L1580 1534.2L1580.1 1535.7L1580.1 1537.3L1580.1 1538.9L1580.1 1540.5L1580.2 1542.1L1580.2 1543.7L1580.2 1545.3L1580.3 1546.9L1580.3 1548.5L1580.3 1550L1580.3 1551.6L1580.4 1553.2L1580.4 1554.8L1580.4 1556.4L1580.5 1558L1580.5 1559.6L1580.5 1561.2L1580.5 1562.8L1580.6 1564.3L1580.6 1565.9L1580.6 1567.5L1580.7 1569.1L1580.7 1570.7L1580.7 1572.3L1580.8 1573.9L1580.8 1575.5L1580.8 1577.1L1580.9 1578.6L1580.9 1580.2L1580.9 1581.8L1580.9 1583.4L1581 1585L1581 1586.6L1581.2 1588.2L1581.4 1589.8L1581.7 1591.4L1581.9 1592.9L1582.2 1594.5L1582.5 1596.1L1582.8 1597.7L1583.1 1599.3L1583.4 1600.9L1583.7 1602.5L1584 1604.1L1584.3 1605.7L1584.6 1607.2L1584.9 1608.8L1585.2 1610.4L1585.5 1612L1585.7 1613.6L1585.9 1615.2L1586 1616.8L1586.1 1618.4L1586.1 1620L1586.1 1621.5L1586 1623.1L1585.9 1624.7L1585.7 1626.3L1585.5 1627.9L1585.3 1629.5L1585.1 1631.1L1584.8 1632.7L1584.5 1634.3L1584.2 1635.8L1583.8 1637.4L1583.4 1639L1583 1640.6L1582.5 1642.2L1582 1643.8L1581.5 1645.4L1580.9 1647L1580.3 1648.6L1579.7 1650.1L1579 1651.7L1578.3 1653.3Z" fill="#d578c4" stroke="#8c8c8c" stroke-width="0.9"/>
<line x1="1574.3" y1="1582" x2="1581.9" y2="1582" stroke="#222" stroke-width="1.8"/>
<line x1="1578.1" y1="1669.5" x2="1578.1" y2="1676" stroke="#1a1a1a" stroke-width="2.6"/>
<text x="1584.5" y="1680.2" font-size="25.2" text-anchor="end" transform="rotate(-90 1584.5 1680.2)">1C</text>
<path d="M1597.7 1642.8L1596.8 1641.4L1596 1640.1L1595.2 1638.7L1594.6 1637.3L1594 1636L1593.4 1634.6L1592.9 1633.2L1592.5 1631.9L1592.1 1630.5L1591.8 1629.1L1591.5 1627.8L1591.3 1626.4L1591.1 1625L1591.1 1623.7L1591.1 1622.3L1591.2 1621L1591.5 1619.6L1591.7 1618.2L1592.1 1616.9L1592.4 1615.5L1592.8 1614.1L1593.2 1612.8L1593.6 1611.4L1594 1610L1594.4 1608.7L1594.8 1607.3L1595.1 1605.9L1595.4 1604.6L1595.7 1603.2L1596 1601.8L1596.2 1600.5L1596.4 1599.1L1596.6 1597.8L1596.8 1596.4L1596.9 1595L1596.9 1593.7L1596.9 1592.3L1596.9 1590.9L1596.9 1589.6L1596.9 1588.2L1597 1586.8L1597 1585.5L1597 1584.1L1597 1582.7L1597 1581.4L1597 1580L1597 1578.7L1597 1577.3L1597 1575.9L1597 1574.6L1597 1573.2L1597.1 1571.8L1597.1 1570.5L1597.1 1569.1L1597.1 1567.7L1597.1 1566.4L1597.1 1565L1597.1 1563.6L1597.1 1562.3L1597.1 1560.9L1597.1 1559.5L1597.2 1558.2L1597.2 1556.8L1597.2 1555.5L1597.2 1554.1L1597.2 1552.7L1597.2 1551.4L1597.2 1550L1597.2 1548.6L1597.2 1547.3L1597.2 1545.9L1597.2 1544.5L1597.3 1543.2L1597.3 1541.8L1597.3 1540.4L1597.3 1539.1L1597.3 1537.7L1597.3 1536.4L1597.3 1535L1597.3 1533.6L1597.3 1532.3L1597.3 1530.9L1597.3 1529.5L1597.4 1528.2L1597.4 1526.8L1597.4 1525.4L1597.4 1524.1L1597.4 1522.7L1597.4 1521.3L1597.4 1520L1597.4 1518.6L1597.4 1517.3L1597.4 1515.9L1597.4 1514.5L1597.4 1513.2L1597.5 1511.8L1597.5 1510.4L1597.5 1509.1L1597.5 1507.7L1597.5 1506.3L1597.5 1505L1597.5 1503.6L1597.5 1502.2L1597.5 1500.9L1597.5 1499.5L1597.5 1498.1L1597.5 1496.8L1597.5 1495.4L1597.5 1494.1L1597.5 1492.7L1597.5 1491.3L1597.5 1490L1597.5 1488.6L1597.5 1487.2L1597.5 1485.9L1597.5 1484.5L1597.5 1483.1L1597.5 1481.8L1597.5 1480.4L1597.5 1479L1597.5 1477.7L1597.5 1476.3L1597.5 1475L1597.5 1473.6L1597.5 1472.2L1597.5 1470.9L1597.5 1469.5L1597.5 1468.1L1597.5 1466.8L1597.5 1465.4L1597.5 1464L1597.5 1462.7L1597.5 1461.3L1597.5 1459.9L1597.5 1458.6L1597.5 1457.2L1597.5 1455.8L1597.5 1454.5L1597.5 1453.1L1597.5 1451.8L1597.5 1450.4L1597.5 1449L1597.5 1447.7L1597.5 1446.3L1597.5 1444.9L1597.5 1443.6L1597.5 1442.2L1597.5 1440.8L1597.5 1439.5L1597.5 1438.1L1597.5 1436.7L1597.5 1435.4L1597.5 1434L1597.5 1432.7L1597.5 1431.3L1597.5 1429.9L1597.5 1428.6L1597.5 1427.2L1597.6 1425.8L1598.2 1425.8L1598.2 1427.2L1598.2 1428.6L1598.2 1429.9L1598.2 1431.3L1598.2 1432.7L1598.2 1434L1598.2 1435.4L1598.2 1436.7L1598.2 1438.1L1598.2 1439.5L1598.2 1440.8L1598.2 1442.2L1598.2 1443.6L1598.2 1444.9L1598.2 1446.3L1598.2 1447.7L1598.2 1449L1598.2 1450.4L1598.2 1451.8L1598.2 1453.1L1598.2 1454.5L1598.2 1455.8L1598.2 1457.2L1598.2 1458.6L1598.2 1459.9L1598.2 1461.3L1598.2 1462.7L1598.2 1464L1598.2 1465.4L1598.2 1466.8L1598.2 1468.1L1598.2 1469.5L1598.2 1470.9L1598.2 1472.2L1598.2 1473.6L1598.2 1475L1598.2 1476.3L1598.2 1477.7L1598.2 1479L1598.2 1480.4L1598.2 1481.8L1598.2 1483.1L1598.2 1484.5L1598.2 1485.9L1598.2 1487.2L1598.2 1488.6L1598.2 1490L1598.2 1491.3L1598.2 1492.7L1598.2 1494.1L1598.2 1495.4L1598.2 1496.8L1598.2 1498.1L1598.2 1499.5L1598.2 1500.9L1598.2 1502.2L1598.3 1503.6L1598.3 1505L1598.3 1506.3L1598.3 1507.7L1598.3 1509.1L1598.3 1510.4L1598.3 1511.8L1598.3 1513.2L1598.3 1514.5L1598.3 1515.9L1598.3 1517.3L1598.3 1518.6L1598.4 1520L1598.4 1521.3L1598.4 1522.7L1598.4 1524.1L1598.4 1525.4L1598.4 1526.8L1598.4 1528.2L1598.4 1529.5L1598.4 1530.9L1598.4 1532.3L1598.4 1533.6L1598.5 1535L1598.5 1536.4L1598.5 1537.7L1598.5 1539.1L1598.5 1540.4L1598.5 1541.8L1598.5 1543.2L1598.5 1544.5L1598.5 1545.9L1598.5 1547.3L1598.5 1548.6L1598.6 1550L1598.6 1551.4L1598.6 1552.7L1598.6 1554.1L1598.6 1555.5L1598.6 1556.8L1598.6 1558.2L1598.6 1559.5L1598.6 1560.9L1598.6 1562.3L1598.6 1563.6L1598.7 1565L1598.7 1566.4L1598.7 1567.7L1598.7 1569.1L1598.7 1570.5L1598.7 1571.8L1598.7 1573.2L1598.7 1574.6L1598.7 1575.9L1598.7 1577.3L1598.8 1578.7L1598.8 1580L1598.8 1581.4L1598.8 1582.7L1598.8 1584.1L1598.8 1585.5L1598.8 1586.8L1598.8 1588.2L1598.8 1589.6L1598.8 1590.9L1598.8 1592.3L1598.9 1593.7L1598.9 1595L1599 1596.4L1599.1 1597.8L1599.3 1599.1L1599.5 1600.5L1599.8 1601.8L1600 1603.2L1600.3 1604.6L1600.6 1605.9L1601 1607.3L1601.3 1608.7L1601.7 1610L1602.1 1611.4L1602.5 1612.8L1602.9 1614.1L1603.3 1615.5L1603.7 1616.9L1604 1618.2L1604.3 1619.6L1604.5 1621L1604.6 1622.3L1604.7 1623.7L1604.6 1625L1604.5 1626.4L1604.3 1627.8L1604 1629.1L1603.7 1630.5L1603.3 1631.9L1602.9 1633.2L1602.4 1634.6L1601.8 1636L1601.2 1637.3L1600.5 1638.7L1599.8 1640.1L1598.9 1641.4L1598.1 1642.8Z" fill="#d578c4" stroke="#8c8c8c" stroke-width="0.9"/>
<line x1="1594.1" y1="1617.6" x2="1601.7" y2="1617.6" stroke="#222" stroke-width="1.8"/>
<line x1="1597.9" y1="1669.5" x2="1597.9" y2="1676" stroke="#1a1a1a" stroke-width="2.6"/>
<text x="1604.5" y="1680.2" font-size="25.2" text-anchor="end" transform="rotate(-90 1604.5 1680.2)">1D</text>
<path d="M1617.4 1656.2L1616.8 1654.5L1616.1 1652.9L1615.4 1651.3L1614.8 1649.6L1614.3 1648L1613.8 1646.4L1613.3 1644.7L1612.8 1643.1L1612.4 1641.5L1612 1639.8L1611.6 1638.2L1611.3 1636.6L1611 1634.9L1610.7 1633.3L1610.5 1631.7L1610.3 1630L1610.1 1628.4L1609.9 1626.8L1609.8 1625.2L1609.7 1623.5L1609.6 1621.9L1609.7 1620.3L1609.7 1618.6L1609.8 1617L1610 1615.4L1610.2 1613.7L1610.5 1612.1L1610.8 1610.5L1611 1608.8L1611.4 1607.2L1611.7 1605.6L1612 1603.9L1612.3 1602.3L1612.6 1600.7L1612.9 1599L1613.2 1597.4L1613.5 1595.8L1613.8 1594.1L1614 1592.5L1614.3 1590.9L1614.4 1589.2L1614.4 1587.6L1614.5 1586L1614.5 1584.3L1614.5 1582.7L1614.6 1581.1L1614.6 1579.4L1614.6 1577.8L1614.7 1576.2L1614.7 1574.6L1614.7 1572.9L1614.8 1571.3L1614.8 1569.7L1614.8 1568L1614.9 1566.4L1614.9 1564.8L1614.9 1563.1L1615 1561.5L1615 1559.9L1615 1558.2L1615.1 1556.6L1615.1 1555L1615.1 1553.3L1615.2 1551.7L1615.2 1550.1L1615.2 1548.4L1615.3 1546.8L1615.3 1545.2L1615.3 1543.5L1615.4 1541.9L1615.4 1540.3L1615.4 1538.6L1615.5 1537L1615.5 1535.4L1615.5 1533.7L1615.6 1532.1L1615.6 1530.5L1615.6 1528.8L1615.6 1527.2L1615.7 1525.6L1615.7 1524L1615.7 1522.3L1615.8 1520.7L1615.8 1519.1L1615.8 1517.4L1615.9 1515.8L1615.9 1514.2L1615.9 1512.5L1616 1510.9L1616 1509.3L1616 1507.6L1616 1506L1616.1 1504.4L1616.1 1502.7L1616.1 1501.1L1616.2 1499.5L1616.2 1497.8L1616.2 1496.2L1616.3 1494.6L1616.3 1492.9L1616.3 1491.3L1616.3 1489.7L1616.4 1488L1616.4 1486.4L1616.4 1484.8L1616.5 1483.1L1616.5 1481.5L1616.5 1479.9L1616.5 1478.2L1616.6 1476.6L1616.6 1475L1616.6 1473.4L1616.6 1471.7L1616.7 1470.1L1616.7 1468.5L1616.7 1466.8L1616.8 1465.2L1616.8 1463.6L1616.8 1461.9L1616.8 1460.3L1616.9 1458.7L1616.9 1457L1616.9 1455.4L1616.9 1453.8L1617 1452.1L1617 1450.5L1617 1448.9L1617 1447.2L1617.1 1445.6L1617.1 1444L1617.1 1442.3L1617.1 1440.7L1617.2 1439.1L1617.2 1437.4L1617.2 1435.8L1617.2 1434.2L1617.2 1432.5L1617.3 1430.9L1617.3 1429.3L1617.3 1427.6L1617.3 1426L1617.3 1424.4L1617.3 1422.8L1617.3 1421.1L1617.3 1419.5L1617.3 1417.9L1617.3 1416.2L1617.3 1414.6L1617.3 1413L1617.3 1411.3L1617.3 1409.7L1617.3 1408.1L1617.3 1406.4L1617.3 1404.8L1617.3 1403.2L1617.3 1401.5L1617.3 1399.9L1617.3 1398.3L1617.3 1396.6L1617.9 1396.6L1618 1398.3L1618 1399.9L1618 1401.5L1618 1403.2L1618 1404.8L1618 1406.4L1618 1408.1L1618 1409.7L1618 1411.3L1618 1413L1618 1414.6L1618 1416.2L1618 1417.9L1618 1419.5L1618 1421.1L1618 1422.8L1618 1424.4L1618 1426L1618 1427.6L1618 1429.3L1618 1430.9L1618 1432.5L1618.1 1434.2L1618.1 1435.8L1618.1 1437.4L1618.1 1439.1L1618.2 1440.7L1618.2 1442.3L1618.2 1444L1618.2 1445.6L1618.2 1447.2L1618.3 1448.9L1618.3 1450.5L1618.3 1452.1L1618.3 1453.8L1618.4 1455.4L1618.4 1457L1618.4 1458.7L1618.5 1460.3L1618.5 1461.9L1618.5 1463.6L1618.5 1465.2L1618.6 1466.8L1618.6 1468.5L1618.6 1470.1L1618.6 1471.7L1618.7 1473.4L1618.7 1475L1618.7 1476.6L1618.7 1478.2L1618.8 1479.9L1618.8 1481.5L1618.8 1483.1L1618.9 1484.8L1618.9 1486.4L1618.9 1488L1618.9 1489.7L1619 1491.3L1619 1492.9L1619 1494.6L1619.1 1496.2L1619.1 1497.8L1619.1 1499.5L1619.1 1501.1L1619.2 1502.7L1619.2 1504.4L1619.2 1506L1619.3 1507.6L1619.3 1509.3L1619.3 1510.9L1619.4 1512.5L1619.4 1514.2L1619.4 1515.8L1619.4 1517.4L1619.5 1519.1L1619.5 1520.7L1619.5 1522.3L1619.6 1524L1619.6 1525.6L1619.6 1527.2L1619.7 1528.8L1619.7 1530.5L1619.7 1532.1L1619.8 1533.7L1619.8 1535.4L1619.8 1537L1619.9 1538.6L1619.9 1540.3L1619.9 1541.9L1619.9 1543.5L1620 1545.2L1620 1546.8L1620 1548.4L1620.1 1550.1L1620.1 1551.7L1620.1 1553.3L1620.2 1555L1620.2 1556.6L1620.2 1558.2L1620.3 1559.9L1620.3 1561.5L1620.3 1563.1L1620.4 1564.8L1620.4 1566.4L1620.4 1568L1620.5 1569.7L1620.5 1571.3L1620.5 1572.9L1620.6 1574.6L1620.6 1576.2L1620.6 1577.8L1620.7 1579.4L1620.7 1581.1L1620.7 1582.7L1620.8 1584.3L1620.8 1586L1620.8 1587.6L1620.9 1589.2L1621 1590.9L1621.2 1592.5L1621.5 1594.1L1621.8 1595.8L1622.1 1597.4L1622.4 1599L1622.7 1600.7L1623 1602.3L1623.3 1603.9L1623.6 1605.6L1623.9 1607.2L1624.2 1608.8L1624.5 1610.5L1624.8 1612.1L1625 1613.7L1625.3 1615.4L1625.4 1617L1625.6 1618.6L1625.6 1620.3L1625.6 1621.9L1625.6 1623.5L1625.5 1625.2L1625.4 1626.8L1625.2 1628.4L1625 1630L1624.8 1631.7L1624.6 1633.3L1624.3 1634.9L1624 1636.6L1623.6 1638.2L1623.3 1639.8L1622.9 1641.5L1622.5 1643.1L1622 1644.7L1621.5 1646.4L1621 1648L1620.4 1649.6L1619.8 1651.3L1619.2 1652.9L1618.5 1654.5L1617.8 1656.2Z" fill="#d578c4" stroke="#8c8c8c" stroke-width="0.9"/>
<line x1="1613.8" y1="1576.2" x2="1621.4" y2="1576.2" stroke="#222" stroke-width="1.8"/>
<line x1="1617.6" y1="1669.5" x2="1617.6" y2="1676" stroke="#1a1a1a" stroke-width="2.6"/>
<text x="1624.6" y="1680.2" font-size="25.2" text-anchor="end" transform="rotate(-90 1624.6 1680.2)">1E</text>
<path d="M1637.2 1654.9L1636.6 1653.3L1635.9 1651.7L1635.2 1650.1L1634.7 1648.5L1634.1 1646.9L1633.6 1645.3L1633.1 1643.7L1632.7 1642.1L1632.2 1640.4L1631.8 1638.8L1631.5 1637.2L1631.1 1635.6L1630.8 1634L1630.6 1632.4L1630.3 1630.8L1630.1 1629.2L1629.9 1627.5L1629.7 1625.9L1629.6 1624.3L1629.5 1622.7L1629.4 1621.1L1629.4 1619.5L1629.4 1617.9L1629.5 1616.3L1629.7 1614.7L1629.8 1613L1630 1611.4L1630.2 1609.8L1630.5 1608.2L1630.8 1606.6L1631 1605L1631.3 1603.4L1631.6 1601.8L1631.9 1600.1L1632.2 1598.5L1632.4 1596.9L1632.7 1595.3L1633 1593.7L1633.2 1592.1L1633.5 1590.5L1633.7 1588.9L1633.9 1587.2L1633.9 1585.6L1634 1584L1634 1582.4L1634.1 1580.8L1634.1 1579.2L1634.1 1577.6L1634.2 1576L1634.2 1574.4L1634.2 1572.7L1634.3 1571.1L1634.3 1569.5L1634.3 1567.9L1634.4 1566.3L1634.4 1564.7L1634.5 1563.1L1634.5 1561.5L1634.5 1559.8L1634.6 1558.2L1634.6 1556.6L1634.6 1555L1634.7 1553.4L1634.7 1551.8L1634.7 1550.2L1634.8 1548.6L1634.8 1547L1634.8 1545.3L1634.9 1543.7L1634.9 1542.1L1635 1540.5L1635 1538.9L1635 1537.3L1635.1 1535.7L1635.1 1534.1L1635.1 1532.4L1635.2 1530.8L1635.2 1529.2L1635.2 1527.6L1635.3 1526L1635.3 1524.4L1635.3 1522.8L1635.4 1521.2L1635.4 1519.6L1635.4 1517.9L1635.5 1516.3L1635.5 1514.7L1635.5 1513.1L1635.6 1511.5L1635.6 1509.9L1635.6 1508.3L1635.7 1506.7L1635.7 1505L1635.7 1503.4L1635.8 1501.8L1635.8 1500.2L1635.8 1498.6L1635.9 1497L1635.9 1495.4L1635.9 1493.8L1635.9 1492.1L1636 1490.5L1636 1488.9L1636 1487.3L1636.1 1485.7L1636.1 1484.1L1636.1 1482.5L1636.2 1480.9L1636.2 1479.3L1636.2 1477.6L1636.3 1476L1636.3 1474.4L1636.3 1472.8L1636.3 1471.2L1636.4 1469.6L1636.4 1468L1636.4 1466.4L1636.5 1464.7L1636.5 1463.1L1636.5 1461.5L1636.5 1459.9L1636.6 1458.3L1636.6 1456.7L1636.6 1455.1L1636.7 1453.5L1636.7 1451.9L1636.7 1450.2L1636.7 1448.6L1636.8 1447L1636.8 1445.4L1636.8 1443.8L1636.8 1442.2L1636.9 1440.6L1636.9 1439L1636.9 1437.3L1636.9 1435.7L1637 1434.1L1637 1432.5L1637 1430.9L1637 1429.3L1637 1427.7L1637 1426.1L1637 1424.5L1637 1422.8L1637 1421.2L1637 1419.6L1637 1418L1637 1416.4L1637 1414.8L1637 1413.2L1637 1411.6L1637 1409.9L1637 1408.3L1637 1406.7L1637 1405.1L1637 1403.5L1637 1401.9L1637 1400.3L1637.1 1398.7L1637.7 1398.7L1637.7 1400.3L1637.7 1401.9L1637.7 1403.5L1637.7 1405.1L1637.7 1406.7L1637.7 1408.3L1637.7 1409.9L1637.7 1411.6L1637.7 1413.2L1637.7 1414.8L1637.7 1416.4L1637.7 1418L1637.7 1419.6L1637.7 1421.2L1637.7 1422.8L1637.7 1424.5L1637.7 1426.1L1637.7 1427.7L1637.8 1429.3L1637.8 1430.9L1637.8 1432.5L1637.8 1434.1L1637.9 1435.7L1637.9 1437.3L1637.9 1439L1637.9 1440.6L1638 1442.2L1638 1443.8L1638 1445.4L1638 1447L1638.1 1448.6L1638.1 1450.2L1638.1 1451.9L1638.1 1453.5L1638.2 1455.1L1638.2 1456.7L1638.2 1458.3L1638.3 1459.9L1638.3 1461.5L1638.3 1463.1L1638.3 1464.7L1638.4 1466.4L1638.4 1468L1638.4 1469.6L1638.5 1471.2L1638.5 1472.8L1638.5 1474.4L1638.5 1476L1638.6 1477.6L1638.6 1479.3L1638.6 1480.9L1638.7 1482.5L1638.7 1484.1L1638.7 1485.7L1638.8 1487.3L1638.8 1488.9L1638.8 1490.5L1638.9 1492.1L1638.9 1493.8L1638.9 1495.4L1638.9 1497L1639 1498.6L1639 1500.2L1639 1501.8L1639.1 1503.4L1639.1 1505L1639.1 1506.7L1639.2 1508.3L1639.2 1509.9L1639.2 1511.5L1639.3 1513.1L1639.3 1514.7L1639.3 1516.3L1639.4 1517.9L1639.4 1519.6L1639.4 1521.2L1639.5 1522.8L1639.5 1524.4L1639.5 1526L1639.6 1527.6L1639.6 1529.2L1639.6 1530.8L1639.7 1532.4L1639.7 1534.1L1639.7 1535.7L1639.8 1537.3L1639.8 1538.9L1639.8 1540.5L1639.9 1542.1L1639.9 1543.7L1640 1545.3L1640 1547L1640 1548.6L1640.1 1550.2L1640.1 1551.8L1640.1 1553.4L1640.2 1555L1640.2 1556.6L1640.2 1558.2L1640.3 1559.8L1640.3 1561.5L1640.3 1563.1L1640.4 1564.7L1640.4 1566.3L1640.5 1567.9L1640.5 1569.5L1640.5 1571.1L1640.6 1572.7L1640.6 1574.4L1640.6 1576L1640.7 1577.6L1640.7 1579.2L1640.7 1580.8L1640.8 1582.4L1640.8 1584L1640.9 1585.6L1640.9 1587.2L1641.1 1588.9L1641.3 1590.5L1641.6 1592.1L1641.8 1593.7L1642.1 1595.3L1642.4 1596.9L1642.6 1598.5L1642.9 1600.1L1643.2 1601.8L1643.5 1603.4L1643.8 1605L1644 1606.6L1644.3 1608.2L1644.6 1609.8L1644.8 1611.4L1645 1613L1645.1 1614.7L1645.3 1616.3L1645.4 1617.9L1645.4 1619.5L1645.4 1621.1L1645.3 1622.7L1645.2 1624.3L1645.1 1625.9L1644.9 1627.5L1644.7 1629.2L1644.5 1630.8L1644.2 1632.4L1644 1634L1643.7 1635.6L1643.3 1637.2L1643 1638.8L1642.6 1640.4L1642.1 1642.1L1641.7 1643.7L1641.2 1645.3L1640.7 1646.9L1640.1 1648.5L1639.6 1650.1L1638.9 1651.7L1638.2 1653.3L1637.6 1654.9Z" fill="#e8802e" stroke="#8c8c8c" stroke-width="0.9"/>
<line x1="1633.6" y1="1571.1" x2="1641.2" y2="1571.1" stroke="#222" stroke-width="1.8"/>
<line x1="1637.4" y1="1669.5" x2="1637.4" y2="1676" stroke="#1a1a1a" stroke-width="2.6"/>
<text x="1644.6" y="1680.2" font-size="25.2" text-anchor="end" transform="rotate(-90 1644.6 1680.2)">2A</text>
<path d="M1657 1656.2L1656.3 1654.5L1655.5 1652.9L1654.9 1651.3L1654.3 1649.6L1653.7 1648L1653.2 1646.4L1652.7 1644.7L1652.2 1643.1L1651.8 1641.5L1651.4 1639.8L1651 1638.2L1650.7 1636.6L1650.3 1634.9L1650.1 1633.3L1649.8 1631.7L1649.6 1630L1649.5 1628.4L1649.3 1626.8L1649.2 1625.2L1649.2 1623.5L1649.2 1621.9L1649.3 1620.3L1649.4 1618.6L1649.6 1617L1649.9 1615.4L1650.1 1613.7L1650.5 1612.1L1650.8 1610.5L1651.2 1608.8L1651.5 1607.2L1651.9 1605.6L1652.2 1603.9L1652.6 1602.3L1652.9 1600.7L1653.2 1599L1653.5 1597.4L1653.8 1595.8L1654.1 1594.1L1654.3 1592.5L1654.3 1590.9L1654.4 1589.2L1654.4 1587.6L1654.4 1586L1654.4 1584.3L1654.5 1582.7L1654.5 1581.1L1654.5 1579.4L1654.6 1577.8L1654.6 1576.2L1654.6 1574.6L1654.6 1572.9L1654.7 1571.3L1654.7 1569.7L1654.7 1568L1654.8 1566.4L1654.8 1564.8L1654.8 1563.1L1654.8 1561.5L1654.9 1559.9L1654.9 1558.2L1654.9 1556.6L1655 1555L1655 1553.3L1655 1551.7L1655 1550.1L1655.1 1548.4L1655.1 1546.8L1655.1 1545.2L1655.2 1543.5L1655.2 1541.9L1655.2 1540.3L1655.2 1538.6L1655.3 1537L1655.3 1535.4L1655.3 1533.7L1655.4 1532.1L1655.4 1530.5L1655.4 1528.8L1655.4 1527.2L1655.5 1525.6L1655.5 1524L1655.5 1522.3L1655.5 1520.7L1655.6 1519.1L1655.6 1517.4L1655.6 1515.8L1655.6 1514.2L1655.7 1512.5L1655.7 1510.9L1655.7 1509.3L1655.8 1507.6L1655.8 1506L1655.8 1504.4L1655.8 1502.7L1655.9 1501.1L1655.9 1499.5L1655.9 1497.8L1655.9 1496.2L1656 1494.6L1656 1492.9L1656 1491.3L1656 1489.7L1656.1 1488L1656.1 1486.4L1656.1 1484.8L1656.1 1483.1L1656.2 1481.5L1656.2 1479.9L1656.2 1478.2L1656.2 1476.6L1656.2 1475L1656.3 1473.4L1656.3 1471.7L1656.3 1470.1L1656.3 1468.5L1656.4 1466.8L1656.4 1465.2L1656.4 1463.6L1656.4 1461.9L1656.5 1460.3L1656.5 1458.7L1656.5 1457L1656.5 1455.4L1656.5 1453.8L1656.6 1452.1L1656.6 1450.5L1656.6 1448.9L1656.6 1447.2L1656.7 1445.6L1656.7 1444L1656.7 1442.3L1656.7 1440.7L1656.7 1439.1L1656.8 1437.4L1656.8 1435.8L1656.8 1434.2L1656.8 1432.5L1656.8 1430.9L1656.8 1429.3L1656.8 1427.6L1656.8 1426L1656.8 1424.4L1656.8 1422.8L1656.8 1421.1L1656.8 1419.5L1656.8 1417.9L1656.8 1416.2L1656.8 1414.6L1656.8 1413L1656.8 1411.3L1656.8 1409.7L1656.8 1408.1L1656.8 1406.4L1656.8 1404.8L1656.8 1403.2L1656.8 1401.5L1656.8 1399.9L1656.8 1398.3L1656.9 1396.6L1657.5 1396.6L1657.5 1398.3L1657.5 1399.9L1657.5 1401.5L1657.5 1403.2L1657.5 1404.8L1657.5 1406.4L1657.5 1408.1L1657.5 1409.7L1657.5 1411.3L1657.5 1413L1657.5 1414.6L1657.5 1416.2L1657.5 1417.9L1657.5 1419.5L1657.5 1421.1L1657.5 1422.8L1657.5 1424.4L1657.5 1426L1657.5 1427.6L1657.5 1429.3L1657.5 1430.9L1657.5 1432.5L1657.5 1434.2L1657.5 1435.8L1657.6 1437.4L1657.6 1439.1L1657.6 1440.7L1657.6 1442.3L1657.6 1444L1657.7 1445.6L1657.7 1447.2L1657.7 1448.9L1657.7 1450.5L1657.8 1452.1L1657.8 1453.8L1657.8 1455.4L1657.8 1457L1657.8 1458.7L1657.9 1460.3L1657.9 1461.9L1657.9 1463.6L1657.9 1465.2L1658 1466.8L1658 1468.5L1658 1470.1L1658 1471.7L1658 1473.4L1658.1 1475L1658.1 1476.6L1658.1 1478.2L1658.1 1479.9L1658.2 1481.5L1658.2 1483.1L1658.2 1484.8L1658.2 1486.4L1658.3 1488L1658.3 1489.7L1658.3 1491.3L1658.3 1492.9L1658.4 1494.6L1658.4 1496.2L1658.4 1497.8L1658.4 1499.5L1658.5 1501.1L1658.5 1502.7L1658.5 1504.4L1658.5 1506L1658.6 1507.6L1658.6 1509.3L1658.6 1510.9L1658.6 1512.5L1658.7 1514.2L1658.7 1515.8L1658.7 1517.4L1658.8 1519.1L1658.8 1520.7L1658.8 1522.3L1658.8 1524L1658.9 1525.6L1658.9 1527.2L1658.9 1528.8L1658.9 1530.5L1659 1532.1L1659 1533.7L1659 1535.4L1659.1 1537L1659.1 1538.6L1659.1 1540.3L1659.1 1541.9L1659.2 1543.5L1659.2 1545.2L1659.2 1546.8L1659.2 1548.4L1659.3 1550.1L1659.3 1551.7L1659.3 1553.3L1659.4 1555L1659.4 1556.6L1659.4 1558.2L1659.4 1559.9L1659.5 1561.5L1659.5 1563.1L1659.5 1564.8L1659.6 1566.4L1659.6 1568L1659.6 1569.7L1659.6 1571.3L1659.7 1572.9L1659.7 1574.6L1659.7 1576.2L1659.8 1577.8L1659.8 1579.4L1659.8 1581.1L1659.8 1582.7L1659.9 1584.3L1659.9 1586L1659.9 1587.6L1660 1589.2L1660 1590.9L1660 1592.5L1660.3 1594.1L1660.5 1595.8L1660.8 1597.4L1661.1 1599L1661.4 1600.7L1661.8 1602.3L1662.1 1603.9L1662.5 1605.6L1662.8 1607.2L1663.2 1608.8L1663.5 1610.5L1663.9 1612.1L1664.2 1613.7L1664.5 1615.4L1664.7 1617L1664.9 1618.6L1665.1 1620.3L1665.1 1621.9L1665.2 1623.5L1665.1 1625.2L1665 1626.8L1664.9 1628.4L1664.7 1630L1664.5 1631.7L1664.2 1633.3L1664 1634.9L1663.7 1636.6L1663.3 1638.2L1663 1639.8L1662.6 1641.5L1662.1 1643.1L1661.7 1644.7L1661.2 1646.4L1660.6 1648L1660.1 1649.6L1659.4 1651.3L1658.8 1652.9L1658 1654.5L1657.4 1656.2Z" fill="#e8802e" stroke="#8c8c8c" stroke-width="0.9"/>
<line x1="1653.4" y1="1583.6" x2="1661" y2="1583.6" stroke="#222" stroke-width="1.8"/>
<line x1="1657.2" y1="1669.5" x2="1657.2" y2="1676" stroke="#1a1a1a" stroke-width="2.6"/>
<text x="1664.6" y="1680.2" font-size="25.2" text-anchor="end" transform="rotate(-90 1664.6 1680.2)">2B</text>
<path d="M1676.7 1652.1L1676 1650.5L1675.2 1649L1674.6 1647.4L1673.9 1645.8L1673.3 1644.2L1672.8 1642.7L1672.3 1641.1L1671.8 1639.5L1671.4 1637.9L1671 1636.4L1670.6 1634.8L1670.3 1633.2L1670 1631.7L1669.7 1630.1L1669.5 1628.5L1669.3 1626.9L1669.1 1625.4L1669 1623.8L1668.9 1622.2L1668.9 1620.6L1669 1619.1L1669.1 1617.5L1669.3 1615.9L1669.6 1614.3L1669.8 1612.8L1670.1 1611.2L1670.5 1609.6L1670.8 1608L1671.1 1606.5L1671.5 1604.9L1671.8 1603.3L1672.2 1601.8L1672.5 1600.2L1672.8 1598.6L1673.1 1597L1673.4 1595.5L1673.7 1593.9L1674 1592.3L1674.2 1590.7L1674.4 1589.2L1674.4 1587.6L1674.4 1586L1674.4 1584.4L1674.5 1582.9L1674.5 1581.3L1674.5 1579.7L1674.6 1578.1L1674.6 1576.6L1674.6 1575L1674.6 1573.4L1674.7 1571.9L1674.7 1570.3L1674.7 1568.7L1674.7 1567.1L1674.8 1565.6L1674.8 1564L1674.8 1562.4L1674.8 1560.8L1674.9 1559.3L1674.9 1557.7L1674.9 1556.1L1674.9 1554.5L1675 1553L1675 1551.4L1675 1549.8L1675 1548.3L1675.1 1546.7L1675.1 1545.1L1675.1 1543.5L1675.1 1542L1675.2 1540.4L1675.2 1538.8L1675.2 1537.2L1675.2 1535.7L1675.3 1534.1L1675.3 1532.5L1675.3 1530.9L1675.3 1529.4L1675.4 1527.8L1675.4 1526.2L1675.4 1524.6L1675.4 1523.1L1675.5 1521.5L1675.5 1519.9L1675.5 1518.4L1675.5 1516.8L1675.6 1515.2L1675.6 1513.6L1675.6 1512.1L1675.6 1510.5L1675.7 1508.9L1675.7 1507.3L1675.7 1505.8L1675.7 1504.2L1675.7 1502.6L1675.8 1501L1675.8 1499.5L1675.8 1497.9L1675.8 1496.3L1675.9 1494.7L1675.9 1493.2L1675.9 1491.6L1675.9 1490L1675.9 1488.5L1676 1486.9L1676 1485.3L1676 1483.7L1676 1482.2L1676.1 1480.6L1676.1 1479L1676.1 1477.4L1676.1 1475.9L1676.1 1474.3L1676.2 1472.7L1676.2 1471.1L1676.2 1469.6L1676.2 1468L1676.2 1466.4L1676.3 1464.9L1676.3 1463.3L1676.3 1461.7L1676.3 1460.1L1676.3 1458.6L1676.4 1457L1676.4 1455.4L1676.4 1453.8L1676.4 1452.3L1676.4 1450.7L1676.5 1449.1L1676.5 1447.5L1676.5 1446L1676.5 1444.4L1676.5 1442.8L1676.6 1441.2L1676.6 1439.7L1676.6 1438.1L1676.6 1436.5L1676.6 1435L1676.6 1433.4L1676.6 1431.8L1676.6 1430.2L1676.6 1428.7L1676.6 1427.1L1676.6 1425.5L1676.6 1423.9L1676.6 1422.4L1676.6 1420.8L1676.6 1419.2L1676.6 1417.6L1676.6 1416.1L1676.6 1414.5L1676.6 1412.9L1676.6 1411.3L1676.6 1409.8L1676.6 1408.2L1676.6 1406.6L1676.6 1405.1L1676.6 1403.5L1676.6 1401.9L1677.2 1401.9L1677.3 1403.5L1677.3 1405.1L1677.3 1406.6L1677.3 1408.2L1677.3 1409.8L1677.3 1411.3L1677.3 1412.9L1677.3 1414.5L1677.3 1416.1L1677.3 1417.6L1677.3 1419.2L1677.3 1420.8L1677.3 1422.4L1677.3 1423.9L1677.3 1425.5L1677.3 1427.1L1677.3 1428.7L1677.3 1430.2L1677.3 1431.8L1677.3 1433.4L1677.3 1435L1677.3 1436.5L1677.3 1438.1L1677.3 1439.7L1677.3 1441.2L1677.3 1442.8L1677.3 1444.4L1677.3 1446L1677.4 1447.5L1677.4 1449.1L1677.4 1450.7L1677.4 1452.3L1677.4 1453.8L1677.5 1455.4L1677.5 1457L1677.5 1458.6L1677.5 1460.1L1677.5 1461.7L1677.6 1463.3L1677.6 1464.9L1677.6 1466.4L1677.6 1468L1677.6 1469.6L1677.7 1471.1L1677.7 1472.7L1677.7 1474.3L1677.7 1475.9L1677.7 1477.4L1677.8 1479L1677.8 1480.6L1677.8 1482.2L1677.8 1483.7L1677.8 1485.3L1677.9 1486.9L1677.9 1488.5L1677.9 1490L1677.9 1491.6L1678 1493.2L1678 1494.7L1678 1496.3L1678 1497.9L1678.1 1499.5L1678.1 1501L1678.1 1502.6L1678.1 1504.2L1678.1 1505.8L1678.2 1507.3L1678.2 1508.9L1678.2 1510.5L1678.2 1512.1L1678.3 1513.6L1678.3 1515.2L1678.3 1516.8L1678.3 1518.4L1678.4 1519.9L1678.4 1521.5L1678.4 1523.1L1678.4 1524.6L1678.4 1526.2L1678.5 1527.8L1678.5 1529.4L1678.5 1530.9L1678.5 1532.5L1678.6 1534.1L1678.6 1535.7L1678.6 1537.2L1678.6 1538.8L1678.7 1540.4L1678.7 1542L1678.7 1543.5L1678.7 1545.1L1678.8 1546.7L1678.8 1548.3L1678.8 1549.8L1678.8 1551.4L1678.9 1553L1678.9 1554.5L1678.9 1556.1L1678.9 1557.7L1679 1559.3L1679 1560.8L1679 1562.4L1679.1 1564L1679.1 1565.6L1679.1 1567.1L1679.1 1568.7L1679.2 1570.3L1679.2 1571.9L1679.2 1573.4L1679.2 1575L1679.3 1576.6L1679.3 1578.1L1679.3 1579.7L1679.3 1581.3L1679.4 1582.9L1679.4 1584.4L1679.4 1586L1679.4 1587.6L1679.5 1589.2L1679.6 1590.7L1679.9 1592.3L1680.1 1593.9L1680.4 1595.5L1680.7 1597L1681 1598.6L1681.3 1600.2L1681.7 1601.8L1682 1603.3L1682.3 1604.9L1682.7 1606.5L1683 1608L1683.4 1609.6L1683.7 1611.2L1684 1612.8L1684.3 1614.3L1684.5 1615.9L1684.7 1617.5L1684.9 1619.1L1684.9 1620.6L1684.9 1622.2L1684.8 1623.8L1684.7 1625.4L1684.6 1626.9L1684.4 1628.5L1684.2 1630.1L1683.9 1631.7L1683.6 1633.2L1683.3 1634.8L1682.9 1636.4L1682.5 1637.9L1682 1639.5L1681.6 1641.1L1681.1 1642.7L1680.5 1644.2L1679.9 1645.8L1679.3 1647.4L1678.6 1649L1677.8 1650.5L1677.1 1652.1Z" fill="#e8802e" stroke="#8c8c8c" stroke-width="0.9"/>
<line x1="1673.1" y1="1588.5" x2="1680.7" y2="1588.5" stroke="#222" stroke-width="1.8"/>
<line x1="1676.9" y1="1669.5" x2="1676.9" y2="1676" stroke="#1a1a1a" stroke-width="2.6"/>
<text x="1684.7" y="1680.2" font-size="25.2" text-anchor="end" transform="rotate(-90 1684.7 1680.2)">2C</text>
<path d="M1696.5 1653.3L1695.8 1651.7L1695.1 1650.1L1694.5 1648.5L1693.8 1646.9L1693.3 1645.3L1692.8 1643.7L1692.3 1642.1L1691.8 1640.6L1691.4 1639L1691 1637.4L1690.6 1635.8L1690.3 1634.2L1690 1632.6L1689.7 1631L1689.5 1629.4L1689.2 1627.8L1689.1 1626.2L1688.9 1624.6L1688.8 1623L1688.7 1621.4L1688.7 1619.8L1688.7 1618.2L1688.8 1616.6L1688.9 1615L1689.1 1613.4L1689.3 1611.8L1689.6 1610.2L1689.9 1608.6L1690.1 1607L1690.4 1605.4L1690.8 1603.8L1691.1 1602.2L1691.4 1600.6L1691.7 1599L1692 1597.4L1692.3 1595.8L1692.6 1594.3L1692.8 1592.7L1693.1 1591.1L1693.3 1589.5L1693.6 1587.9L1693.7 1586.3L1693.7 1584.7L1693.7 1583.1L1693.8 1581.5L1693.8 1579.9L1693.8 1578.3L1693.9 1576.7L1693.9 1575.1L1693.9 1573.5L1694 1571.9L1694 1570.3L1694 1568.7L1694.1 1567.1L1694.1 1565.5L1694.1 1563.9L1694.2 1562.3L1694.2 1560.7L1694.2 1559.1L1694.2 1557.5L1694.3 1555.9L1694.3 1554.3L1694.3 1552.7L1694.4 1551.1L1694.4 1549.5L1694.4 1548L1694.5 1546.4L1694.5 1544.8L1694.5 1543.2L1694.6 1541.6L1694.6 1540L1694.6 1538.4L1694.6 1536.8L1694.7 1535.2L1694.7 1533.6L1694.7 1532L1694.8 1530.4L1694.8 1528.8L1694.8 1527.2L1694.8 1525.6L1694.9 1524L1694.9 1522.4L1694.9 1520.8L1695 1519.2L1695 1517.6L1695 1516L1695 1514.4L1695.1 1512.8L1695.1 1511.2L1695.1 1509.6L1695.2 1508L1695.2 1506.4L1695.2 1504.8L1695.2 1503.2L1695.3 1501.7L1695.3 1500.1L1695.3 1498.5L1695.4 1496.9L1695.4 1495.3L1695.4 1493.7L1695.4 1492.1L1695.5 1490.5L1695.5 1488.9L1695.5 1487.3L1695.5 1485.7L1695.6 1484.1L1695.6 1482.5L1695.6 1480.9L1695.6 1479.3L1695.7 1477.7L1695.7 1476.1L1695.7 1474.5L1695.7 1472.9L1695.8 1471.3L1695.8 1469.7L1695.8 1468.1L1695.8 1466.5L1695.9 1464.9L1695.9 1463.3L1695.9 1461.7L1695.9 1460.1L1696 1458.5L1696 1456.9L1696 1455.4L1696 1453.8L1696.1 1452.2L1696.1 1450.6L1696.1 1449L1696.1 1447.4L1696.2 1445.8L1696.2 1444.2L1696.2 1442.6L1696.2 1441L1696.2 1439.4L1696.3 1437.8L1696.3 1436.2L1696.3 1434.6L1696.3 1433L1696.3 1431.4L1696.3 1429.8L1696.3 1428.2L1696.3 1426.6L1696.3 1425L1696.3 1423.4L1696.3 1421.8L1696.3 1420.2L1696.3 1418.6L1696.3 1417L1696.3 1415.4L1696.3 1413.8L1696.3 1412.2L1696.3 1410.6L1696.3 1409.1L1696.3 1407.5L1696.3 1405.9L1696.3 1404.3L1696.3 1402.7L1696.3 1401.1L1696.4 1399.5L1697 1399.5L1697 1401.1L1697 1402.7L1697 1404.3L1697 1405.9L1697 1407.5L1697 1409.1L1697 1410.6L1697 1412.2L1697 1413.8L1697 1415.4L1697 1417L1697 1418.6L1697 1420.2L1697 1421.8L1697 1423.4L1697 1425L1697 1426.6L1697 1428.2L1697 1429.8L1697 1431.4L1697 1433L1697.1 1434.6L1697.1 1436.2L1697.1 1437.8L1697.1 1439.4L1697.1 1441L1697.2 1442.6L1697.2 1444.2L1697.2 1445.8L1697.2 1447.4L1697.2 1449L1697.3 1450.6L1697.3 1452.2L1697.3 1453.8L1697.3 1455.4L1697.4 1456.9L1697.4 1458.5L1697.4 1460.1L1697.4 1461.7L1697.5 1463.3L1697.5 1464.9L1697.5 1466.5L1697.5 1468.1L1697.6 1469.7L1697.6 1471.3L1697.6 1472.9L1697.6 1474.5L1697.7 1476.1L1697.7 1477.7L1697.7 1479.3L1697.7 1480.9L1697.8 1482.5L1697.8 1484.1L1697.8 1485.7L1697.8 1487.3L1697.9 1488.9L1697.9 1490.5L1697.9 1492.1L1698 1493.7L1698 1495.3L1698 1496.9L1698 1498.5L1698.1 1500.1L1698.1 1501.7L1698.1 1503.2L1698.1 1504.8L1698.2 1506.4L1698.2 1508L1698.2 1509.6L1698.3 1511.2L1698.3 1512.8L1698.3 1514.4L1698.3 1516L1698.4 1517.6L1698.4 1519.2L1698.4 1520.8L1698.5 1522.4L1698.5 1524L1698.5 1525.6L1698.5 1527.2L1698.6 1528.8L1698.6 1530.4L1698.6 1532L1698.7 1533.6L1698.7 1535.2L1698.7 1536.8L1698.7 1538.4L1698.8 1540L1698.8 1541.6L1698.8 1543.2L1698.9 1544.8L1698.9 1546.4L1698.9 1548L1699 1549.5L1699 1551.1L1699 1552.7L1699.1 1554.3L1699.1 1555.9L1699.1 1557.5L1699.1 1559.1L1699.2 1560.7L1699.2 1562.3L1699.2 1563.9L1699.3 1565.5L1699.3 1567.1L1699.3 1568.7L1699.4 1570.3L1699.4 1571.9L1699.4 1573.5L1699.5 1575.1L1699.5 1576.7L1699.5 1578.3L1699.5 1579.9L1699.6 1581.5L1699.6 1583.1L1699.6 1584.7L1699.7 1586.3L1699.8 1587.9L1700 1589.5L1700.3 1591.1L1700.5 1592.7L1700.8 1594.3L1701.1 1595.8L1701.4 1597.4L1701.7 1599L1702 1600.6L1702.3 1602.2L1702.6 1603.8L1702.9 1605.4L1703.2 1607L1703.5 1608.6L1703.8 1610.2L1704 1611.8L1704.2 1613.4L1704.4 1615L1704.6 1616.6L1704.7 1618.2L1704.7 1619.8L1704.6 1621.4L1704.6 1623L1704.5 1624.6L1704.3 1626.2L1704.1 1627.8L1703.9 1629.4L1703.7 1631L1703.4 1632.6L1703.1 1634.2L1702.7 1635.8L1702.4 1637.4L1702 1639L1701.6 1640.6L1701.1 1642.1L1700.6 1643.7L1700.1 1645.3L1699.5 1646.9L1698.9 1648.5L1698.3 1650.1L1697.5 1651.7L1696.9 1653.3Z" fill="#e8802e" stroke="#8c8c8c" stroke-width="0.9"/>
<line x1="1692.9" y1="1579.9" x2="1700.5" y2="1579.9" stroke="#222" stroke-width="1.8"/>
<line x1="1696.7" y1="1669.5" x2="1696.7" y2="1676" stroke="#1a1a1a" stroke-width="2.6"/>
<text x="1704.7" y="1680.2" font-size="25.2" text-anchor="end" transform="rotate(-90 1704.7 1680.2)">2D</text>
<path d="M1716.2 1652.1L1715.5 1650.5L1714.7 1649L1714 1647.4L1713.3 1645.8L1712.7 1644.2L1712.1 1642.7L1711.6 1641.1L1711.1 1639.5L1710.7 1637.9L1710.3 1636.3L1709.9 1634.8L1709.6 1633.2L1709.3 1631.6L1709 1630L1708.8 1628.5L1708.7 1626.9L1708.5 1625.3L1708.5 1623.7L1708.4 1622.2L1708.5 1620.6L1708.6 1619L1708.8 1617.4L1709 1615.9L1709.3 1614.3L1709.6 1612.7L1709.9 1611.1L1710.2 1609.6L1710.5 1608L1710.8 1606.4L1711.2 1604.8L1711.5 1603.2L1711.8 1601.7L1712.1 1600.1L1712.4 1598.5L1712.7 1596.9L1713 1595.4L1713.2 1593.8L1713.4 1592.2L1713.4 1590.6L1713.5 1589.1L1713.5 1587.5L1713.5 1585.9L1713.6 1584.3L1713.6 1582.8L1713.6 1581.2L1713.7 1579.6L1713.7 1578L1713.7 1576.5L1713.7 1574.9L1713.8 1573.3L1713.8 1571.7L1713.8 1570.1L1713.9 1568.6L1713.9 1567L1713.9 1565.4L1714 1563.8L1714 1562.3L1714 1560.7L1714.1 1559.1L1714.1 1557.5L1714.1 1556L1714.1 1554.4L1714.2 1552.8L1714.2 1551.2L1714.2 1549.7L1714.3 1548.1L1714.3 1546.5L1714.3 1544.9L1714.3 1543.4L1714.4 1541.8L1714.4 1540.2L1714.4 1538.6L1714.5 1537L1714.5 1535.5L1714.5 1533.9L1714.5 1532.3L1714.6 1530.7L1714.6 1529.2L1714.6 1527.6L1714.7 1526L1714.7 1524.4L1714.7 1522.9L1714.7 1521.3L1714.8 1519.7L1714.8 1518.1L1714.8 1516.6L1714.9 1515L1714.9 1513.4L1714.9 1511.8L1714.9 1510.3L1715 1508.7L1715 1507.1L1715 1505.5L1715 1504L1715.1 1502.4L1715.1 1500.8L1715.1 1499.2L1715.2 1497.6L1715.2 1496.1L1715.2 1494.5L1715.2 1492.9L1715.3 1491.3L1715.3 1489.8L1715.3 1488.2L1715.3 1486.6L1715.4 1485L1715.4 1483.5L1715.4 1481.9L1715.4 1480.3L1715.5 1478.7L1715.5 1477.2L1715.5 1475.6L1715.5 1474L1715.6 1472.4L1715.6 1470.9L1715.6 1469.3L1715.6 1467.7L1715.7 1466.1L1715.7 1464.5L1715.7 1463L1715.7 1461.4L1715.8 1459.8L1715.8 1458.2L1715.8 1456.7L1715.8 1455.1L1715.8 1453.5L1715.9 1451.9L1715.9 1450.4L1715.9 1448.8L1715.9 1447.2L1716 1445.6L1716 1444.1L1716 1442.5L1716 1440.9L1716 1439.3L1716.1 1437.8L1716.1 1436.2L1716.1 1434.6L1716.1 1433L1716.1 1431.4L1716.1 1429.9L1716.1 1428.3L1716.1 1426.7L1716.1 1425.1L1716.1 1423.6L1716.1 1422L1716.1 1420.4L1716.1 1418.8L1716.1 1417.3L1716.1 1415.7L1716.1 1414.1L1716.1 1412.5L1716.1 1411L1716.1 1409.4L1716.1 1407.8L1716.1 1406.2L1716.1 1404.7L1716.1 1403.1L1716.1 1401.5L1716.7 1401.5L1716.8 1403.1L1716.8 1404.7L1716.8 1406.2L1716.8 1407.8L1716.8 1409.4L1716.8 1411L1716.8 1412.5L1716.8 1414.1L1716.8 1415.7L1716.8 1417.3L1716.8 1418.8L1716.8 1420.4L1716.8 1422L1716.8 1423.6L1716.8 1425.1L1716.8 1426.7L1716.8 1428.3L1716.8 1429.9L1716.8 1431.4L1716.8 1433L1716.8 1434.6L1716.8 1436.2L1716.8 1437.8L1716.8 1439.3L1716.9 1440.9L1716.9 1442.5L1716.9 1444.1L1716.9 1445.6L1716.9 1447.2L1717 1448.8L1717 1450.4L1717 1451.9L1717 1453.5L1717.1 1455.1L1717.1 1456.7L1717.1 1458.2L1717.1 1459.8L1717.2 1461.4L1717.2 1463L1717.2 1464.5L1717.2 1466.1L1717.2 1467.7L1717.3 1469.3L1717.3 1470.9L1717.3 1472.4L1717.3 1474L1717.4 1475.6L1717.4 1477.2L1717.4 1478.7L1717.4 1480.3L1717.5 1481.9L1717.5 1483.5L1717.5 1485L1717.5 1486.6L1717.6 1488.2L1717.6 1489.8L1717.6 1491.3L1717.6 1492.9L1717.7 1494.5L1717.7 1496.1L1717.7 1497.6L1717.8 1499.2L1717.8 1500.8L1717.8 1502.4L1717.8 1504L1717.9 1505.5L1717.9 1507.1L1717.9 1508.7L1717.9 1510.3L1718 1511.8L1718 1513.4L1718 1515L1718.1 1516.6L1718.1 1518.1L1718.1 1519.7L1718.1 1521.3L1718.2 1522.9L1718.2 1524.4L1718.2 1526L1718.2 1527.6L1718.3 1529.2L1718.3 1530.7L1718.3 1532.3L1718.4 1533.9L1718.4 1535.5L1718.4 1537L1718.4 1538.6L1718.5 1540.2L1718.5 1541.8L1718.5 1543.4L1718.6 1544.9L1718.6 1546.5L1718.6 1548.1L1718.7 1549.7L1718.7 1551.2L1718.7 1552.8L1718.7 1554.4L1718.8 1556L1718.8 1557.5L1718.8 1559.1L1718.9 1560.7L1718.9 1562.3L1718.9 1563.8L1718.9 1565.4L1719 1567L1719 1568.6L1719 1570.1L1719.1 1571.7L1719.1 1573.3L1719.1 1574.9L1719.2 1576.5L1719.2 1578L1719.2 1579.6L1719.3 1581.2L1719.3 1582.8L1719.3 1584.3L1719.3 1585.9L1719.4 1587.5L1719.4 1589.1L1719.4 1590.6L1719.5 1592.2L1719.7 1593.8L1719.9 1595.4L1720.2 1596.9L1720.5 1598.5L1720.8 1600.1L1721.1 1601.7L1721.4 1603.2L1721.7 1604.8L1722 1606.4L1722.4 1608L1722.7 1609.6L1723 1611.1L1723.3 1612.7L1723.6 1614.3L1723.9 1615.9L1724.1 1617.4L1724.3 1619L1724.4 1620.6L1724.4 1622.2L1724.4 1623.7L1724.3 1625.3L1724.2 1626.9L1724.1 1628.5L1723.8 1630L1723.6 1631.6L1723.3 1633.2L1723 1634.8L1722.6 1636.3L1722.2 1637.9L1721.8 1639.5L1721.3 1641.1L1720.7 1642.7L1720.2 1644.2L1719.6 1645.8L1718.9 1647.4L1718.2 1649L1717.4 1650.5L1716.6 1652.1Z" fill="#b8c93c" stroke="#8c8c8c" stroke-width="0.9"/>
<line x1="1712.6" y1="1580.3" x2="1720.2" y2="1580.3" stroke="#222" stroke-width="1.8"/>
<line x1="1716.4" y1="1669.5" x2="1716.4" y2="1676" stroke="#1a1a1a" stroke-width="2.6"/>
<text x="1724.8" y="1680.2" font-size="25.2" text-anchor="end" transform="rotate(-90 1724.8 1680.2)">3A</text>
<path d="M1736 1652.1L1735.3 1650.5L1734.5 1649L1733.8 1647.4L1733.2 1645.8L1732.6 1644.2L1732.1 1642.7L1731.5 1641.1L1731.1 1639.5L1730.6 1637.9L1730.2 1636.3L1729.9 1634.8L1729.5 1633.2L1729.2 1631.6L1729 1630L1728.7 1628.5L1728.5 1626.9L1728.4 1625.3L1728.3 1623.7L1728.2 1622.2L1728.2 1620.6L1728.3 1619L1728.4 1617.4L1728.6 1615.9L1728.8 1614.3L1729 1612.7L1729.3 1611.1L1729.6 1609.6L1729.9 1608L1730.2 1606.4L1730.5 1604.8L1730.8 1603.2L1731.2 1601.7L1731.5 1600.1L1731.8 1598.5L1732.1 1596.9L1732.4 1595.4L1732.6 1593.8L1732.9 1592.2L1733.1 1590.6L1733.2 1589.1L1733.3 1587.5L1733.3 1585.9L1733.3 1584.3L1733.4 1582.8L1733.4 1581.2L1733.4 1579.6L1733.5 1578L1733.5 1576.5L1733.5 1574.9L1733.6 1573.3L1733.6 1571.7L1733.6 1570.1L1733.6 1568.6L1733.7 1567L1733.7 1565.4L1733.7 1563.8L1733.8 1562.3L1733.8 1560.7L1733.8 1559.1L1733.9 1557.5L1733.9 1556L1733.9 1554.4L1733.9 1552.8L1734 1551.2L1734 1549.7L1734 1548.1L1734.1 1546.5L1734.1 1544.9L1734.1 1543.4L1734.1 1541.8L1734.2 1540.2L1734.2 1538.6L1734.2 1537L1734.3 1535.5L1734.3 1533.9L1734.3 1532.3L1734.3 1530.7L1734.4 1529.2L1734.4 1527.6L1734.4 1526L1734.5 1524.4L1734.5 1522.9L1734.5 1521.3L1734.5 1519.7L1734.6 1518.1L1734.6 1516.6L1734.6 1515L1734.7 1513.4L1734.7 1511.8L1734.7 1510.3L1734.7 1508.7L1734.8 1507.1L1734.8 1505.5L1734.8 1504L1734.8 1502.4L1734.9 1500.8L1734.9 1499.2L1734.9 1497.6L1734.9 1496.1L1735 1494.5L1735 1492.9L1735 1491.3L1735 1489.8L1735.1 1488.2L1735.1 1486.6L1735.1 1485L1735.2 1483.5L1735.2 1481.9L1735.2 1480.3L1735.2 1478.7L1735.3 1477.2L1735.3 1475.6L1735.3 1474L1735.3 1472.4L1735.3 1470.9L1735.4 1469.3L1735.4 1467.7L1735.4 1466.1L1735.4 1464.5L1735.5 1463L1735.5 1461.4L1735.5 1459.8L1735.5 1458.2L1735.6 1456.7L1735.6 1455.1L1735.6 1453.5L1735.6 1451.9L1735.7 1450.4L1735.7 1448.8L1735.7 1447.2L1735.7 1445.6L1735.7 1444.1L1735.8 1442.5L1735.8 1440.9L1735.8 1439.3L1735.8 1437.8L1735.8 1436.2L1735.8 1434.6L1735.8 1433L1735.8 1431.4L1735.8 1429.9L1735.8 1428.3L1735.8 1426.7L1735.8 1425.1L1735.8 1423.6L1735.8 1422L1735.8 1420.4L1735.8 1418.8L1735.8 1417.3L1735.8 1415.7L1735.8 1414.1L1735.8 1412.5L1735.8 1411L1735.8 1409.4L1735.8 1407.8L1735.8 1406.2L1735.8 1404.7L1735.8 1403.1L1735.9 1401.5L1736.5 1401.5L1736.5 1403.1L1736.5 1404.7L1736.5 1406.2L1736.5 1407.8L1736.5 1409.4L1736.5 1411L1736.5 1412.5L1736.5 1414.1L1736.5 1415.7L1736.5 1417.3L1736.5 1418.8L1736.5 1420.4L1736.5 1422L1736.5 1423.6L1736.5 1425.1L1736.5 1426.7L1736.5 1428.3L1736.5 1429.9L1736.5 1431.4L1736.5 1433L1736.5 1434.6L1736.6 1436.2L1736.6 1437.8L1736.6 1439.3L1736.6 1440.9L1736.6 1442.5L1736.7 1444.1L1736.7 1445.6L1736.7 1447.2L1736.7 1448.8L1736.7 1450.4L1736.8 1451.9L1736.8 1453.5L1736.8 1455.1L1736.8 1456.7L1736.9 1458.2L1736.9 1459.8L1736.9 1461.4L1736.9 1463L1737 1464.5L1737 1466.1L1737 1467.7L1737 1469.3L1737.1 1470.9L1737.1 1472.4L1737.1 1474L1737.1 1475.6L1737.1 1477.2L1737.2 1478.7L1737.2 1480.3L1737.2 1481.9L1737.2 1483.5L1737.3 1485L1737.3 1486.6L1737.3 1488.2L1737.4 1489.8L1737.4 1491.3L1737.4 1492.9L1737.4 1494.5L1737.5 1496.1L1737.5 1497.6L1737.5 1499.2L1737.5 1500.8L1737.6 1502.4L1737.6 1504L1737.6 1505.5L1737.6 1507.1L1737.7 1508.7L1737.7 1510.3L1737.7 1511.8L1737.7 1513.4L1737.8 1515L1737.8 1516.6L1737.8 1518.1L1737.9 1519.7L1737.9 1521.3L1737.9 1522.9L1737.9 1524.4L1738 1526L1738 1527.6L1738 1529.2L1738.1 1530.7L1738.1 1532.3L1738.1 1533.9L1738.1 1535.5L1738.2 1537L1738.2 1538.6L1738.2 1540.2L1738.3 1541.8L1738.3 1543.4L1738.3 1544.9L1738.3 1546.5L1738.4 1548.1L1738.4 1549.7L1738.4 1551.2L1738.5 1552.8L1738.5 1554.4L1738.5 1556L1738.5 1557.5L1738.6 1559.1L1738.6 1560.7L1738.6 1562.3L1738.7 1563.8L1738.7 1565.4L1738.7 1567L1738.8 1568.6L1738.8 1570.1L1738.8 1571.7L1738.8 1573.3L1738.9 1574.9L1738.9 1576.5L1738.9 1578L1739 1579.6L1739 1581.2L1739 1582.8L1739.1 1584.3L1739.1 1585.9L1739.1 1587.5L1739.2 1589.1L1739.3 1590.6L1739.5 1592.2L1739.8 1593.8L1740 1595.4L1740.3 1596.9L1740.6 1598.5L1740.9 1600.1L1741.2 1601.7L1741.6 1603.2L1741.9 1604.8L1742.2 1606.4L1742.5 1608L1742.8 1609.6L1743.1 1611.1L1743.4 1612.7L1743.6 1614.3L1743.8 1615.9L1744 1617.4L1744.1 1619L1744.2 1620.6L1744.2 1622.2L1744.1 1623.7L1744 1625.3L1743.9 1626.9L1743.7 1628.5L1743.4 1630L1743.2 1631.6L1742.9 1633.2L1742.5 1634.8L1742.2 1636.3L1741.8 1637.9L1741.3 1639.5L1740.9 1641.1L1740.3 1642.7L1739.8 1644.2L1739.2 1645.8L1738.6 1647.4L1737.9 1649L1737.1 1650.5L1736.4 1652.1Z" fill="#b8c93c" stroke="#8c8c8c" stroke-width="0.9"/>
<line x1="1732.4" y1="1581.1" x2="1740" y2="1581.1" stroke="#222" stroke-width="1.8"/>
<line x1="1736.2" y1="1669.5" x2="1736.2" y2="1676" stroke="#1a1a1a" stroke-width="2.6"/>
<text x="1744.8" y="1680.2" font-size="25.2" text-anchor="end" transform="rotate(-90 1744.8 1680.2)">3B</text>
<path d="M1755.8 1648.1L1755 1646.5L1754.2 1645L1753.5 1643.5L1752.8 1642L1752.2 1640.4L1751.6 1638.9L1751.1 1637.4L1750.6 1635.9L1750.2 1634.4L1749.8 1632.8L1749.4 1631.3L1749.1 1629.8L1748.8 1628.3L1748.6 1626.7L1748.3 1625.2L1748.2 1623.7L1748.1 1622.2L1748 1620.6L1748 1619.1L1748 1617.6L1748.2 1616.1L1748.4 1614.6L1748.6 1613L1748.9 1611.5L1749.3 1610L1749.6 1608.5L1750 1606.9L1750.4 1605.4L1750.8 1603.9L1751.1 1602.4L1751.5 1600.9L1751.8 1599.3L1752.2 1597.8L1752.5 1596.3L1752.8 1594.8L1753.1 1593.2L1753.3 1591.7L1753.6 1590.2L1753.8 1588.7L1754 1587.1L1754 1585.6L1754.1 1584.1L1754.1 1582.6L1754.1 1581.1L1754.1 1579.5L1754.1 1578L1754.2 1576.5L1754.2 1575L1754.2 1573.4L1754.2 1571.9L1754.2 1570.4L1754.3 1568.9L1754.3 1567.4L1754.3 1565.8L1754.3 1564.3L1754.3 1562.8L1754.4 1561.3L1754.4 1559.7L1754.4 1558.2L1754.4 1556.7L1754.4 1555.2L1754.5 1553.7L1754.5 1552.1L1754.5 1550.6L1754.5 1549.1L1754.5 1547.6L1754.6 1546L1754.6 1544.5L1754.6 1543L1754.6 1541.5L1754.6 1539.9L1754.6 1538.4L1754.7 1536.9L1754.7 1535.4L1754.7 1533.9L1754.7 1532.3L1754.7 1530.8L1754.8 1529.3L1754.8 1527.8L1754.8 1526.2L1754.8 1524.7L1754.8 1523.2L1754.8 1521.7L1754.9 1520.2L1754.9 1518.6L1754.9 1517.1L1754.9 1515.6L1754.9 1514.1L1755 1512.5L1755 1511L1755 1509.5L1755 1508L1755 1506.5L1755 1504.9L1755.1 1503.4L1755.1 1501.9L1755.1 1500.4L1755.1 1498.8L1755.1 1497.3L1755.2 1495.8L1755.2 1494.3L1755.2 1492.7L1755.2 1491.2L1755.2 1489.7L1755.2 1488.2L1755.3 1486.7L1755.3 1485.1L1755.3 1483.6L1755.3 1482.1L1755.3 1480.6L1755.3 1479L1755.4 1477.5L1755.4 1476L1755.4 1474.5L1755.4 1473L1755.4 1471.4L1755.4 1469.9L1755.4 1468.4L1755.5 1466.9L1755.5 1465.3L1755.5 1463.8L1755.5 1462.3L1755.5 1460.8L1755.5 1459.3L1755.6 1457.7L1755.6 1456.2L1755.6 1454.7L1755.6 1453.2L1755.6 1451.6L1755.6 1450.1L1755.6 1448.6L1755.6 1447.1L1755.6 1445.5L1755.6 1444L1755.6 1442.5L1755.6 1441L1755.6 1439.5L1755.6 1437.9L1755.6 1436.4L1755.6 1434.9L1755.6 1433.4L1755.6 1431.8L1755.6 1430.3L1755.6 1428.8L1755.6 1427.3L1755.6 1425.8L1755.6 1424.2L1755.6 1422.7L1755.6 1421.2L1755.6 1419.7L1755.6 1418.1L1755.6 1416.6L1755.6 1415.1L1755.6 1413.6L1755.6 1412.1L1755.6 1410.5L1755.6 1409L1755.6 1407.5L1755.7 1406L1756.3 1406L1756.3 1407.5L1756.3 1409L1756.3 1410.5L1756.3 1412.1L1756.3 1413.6L1756.3 1415.1L1756.3 1416.6L1756.3 1418.1L1756.3 1419.7L1756.3 1421.2L1756.3 1422.7L1756.3 1424.2L1756.3 1425.8L1756.3 1427.3L1756.3 1428.8L1756.3 1430.3L1756.3 1431.8L1756.3 1433.4L1756.3 1434.9L1756.3 1436.4L1756.3 1437.9L1756.3 1439.5L1756.3 1441L1756.3 1442.5L1756.3 1444L1756.3 1445.5L1756.3 1447.1L1756.3 1448.6L1756.3 1450.1L1756.3 1451.6L1756.3 1453.2L1756.3 1454.7L1756.4 1456.2L1756.4 1457.7L1756.4 1459.3L1756.4 1460.8L1756.4 1462.3L1756.4 1463.8L1756.4 1465.3L1756.5 1466.9L1756.5 1468.4L1756.5 1469.9L1756.5 1471.4L1756.5 1473L1756.5 1474.5L1756.6 1476L1756.6 1477.5L1756.6 1479L1756.6 1480.6L1756.6 1482.1L1756.6 1483.6L1756.7 1485.1L1756.7 1486.7L1756.7 1488.2L1756.7 1489.7L1756.7 1491.2L1756.7 1492.7L1756.8 1494.3L1756.8 1495.8L1756.8 1497.3L1756.8 1498.8L1756.8 1500.4L1756.8 1501.9L1756.9 1503.4L1756.9 1504.9L1756.9 1506.5L1756.9 1508L1756.9 1509.5L1756.9 1511L1757 1512.5L1757 1514.1L1757 1515.6L1757 1517.1L1757 1518.6L1757.1 1520.2L1757.1 1521.7L1757.1 1523.2L1757.1 1524.7L1757.1 1526.2L1757.1 1527.8L1757.2 1529.3L1757.2 1530.8L1757.2 1532.3L1757.2 1533.9L1757.2 1535.4L1757.3 1536.9L1757.3 1538.4L1757.3 1539.9L1757.3 1541.5L1757.3 1543L1757.4 1544.5L1757.4 1546L1757.4 1547.6L1757.4 1549.1L1757.4 1550.6L1757.4 1552.1L1757.5 1553.7L1757.5 1555.2L1757.5 1556.7L1757.5 1558.2L1757.5 1559.7L1757.6 1561.3L1757.6 1562.8L1757.6 1564.3L1757.6 1565.8L1757.6 1567.4L1757.7 1568.9L1757.7 1570.4L1757.7 1571.9L1757.7 1573.4L1757.7 1575L1757.8 1576.5L1757.8 1578L1757.8 1579.5L1757.8 1581.1L1757.8 1582.6L1757.9 1584.1L1757.9 1585.6L1757.9 1587.1L1758.1 1588.7L1758.4 1590.2L1758.6 1591.7L1758.9 1593.2L1759.1 1594.8L1759.4 1596.3L1759.8 1597.8L1760.1 1599.3L1760.4 1600.9L1760.8 1602.4L1761.2 1603.9L1761.5 1605.4L1761.9 1606.9L1762.3 1608.5L1762.6 1610L1763 1611.5L1763.3 1613L1763.5 1614.6L1763.7 1616.1L1763.9 1617.6L1764 1619.1L1763.9 1620.6L1763.9 1622.2L1763.7 1623.7L1763.6 1625.2L1763.4 1626.7L1763.1 1628.3L1762.8 1629.8L1762.5 1631.3L1762.1 1632.8L1761.7 1634.4L1761.3 1635.9L1760.8 1637.4L1760.3 1638.9L1759.7 1640.4L1759.1 1642L1758.4 1643.5L1757.7 1645L1756.9 1646.5L1756.2 1648.1Z" fill="#b8c93c" stroke="#8c8c8c" stroke-width="0.9"/>
<line x1="1752.2" y1="1599.4" x2="1759.8" y2="1599.4" stroke="#222" stroke-width="1.8"/>
<line x1="1756" y1="1669.5" x2="1756" y2="1676" stroke="#1a1a1a" stroke-width="2.6"/>
<text x="1764.8" y="1680.2" font-size="25.2" text-anchor="end" transform="rotate(-90 1764.8 1680.2)">3C</text>
<path d="M1775.5 1652.1L1774.8 1650.5L1774 1649L1773.3 1647.4L1772.6 1645.8L1772 1644.2L1771.4 1642.7L1770.9 1641.1L1770.4 1639.5L1770 1637.9L1769.6 1636.3L1769.2 1634.8L1768.9 1633.2L1768.6 1631.6L1768.3 1630L1768.1 1628.5L1767.9 1626.9L1767.8 1625.3L1767.7 1623.7L1767.7 1622.2L1767.8 1620.6L1767.9 1619L1768.1 1617.4L1768.4 1615.9L1768.7 1614.3L1769 1612.7L1769.3 1611.1L1769.7 1609.6L1770 1608L1770.4 1606.4L1770.7 1604.8L1771.1 1603.2L1771.4 1601.7L1771.7 1600.1L1772.1 1598.5L1772.3 1596.9L1772.6 1595.4L1772.9 1593.8L1773.1 1592.2L1773.1 1590.6L1773.1 1589.1L1773.2 1587.5L1773.2 1585.9L1773.2 1584.3L1773.2 1582.8L1773.3 1581.2L1773.3 1579.6L1773.3 1578L1773.3 1576.5L1773.4 1574.9L1773.4 1573.3L1773.4 1571.7L1773.5 1570.1L1773.5 1568.6L1773.5 1567L1773.5 1565.4L1773.6 1563.8L1773.6 1562.3L1773.6 1560.7L1773.6 1559.1L1773.7 1557.5L1773.7 1556L1773.7 1554.4L1773.7 1552.8L1773.8 1551.2L1773.8 1549.7L1773.8 1548.1L1773.8 1546.5L1773.9 1544.9L1773.9 1543.4L1773.9 1541.8L1773.9 1540.2L1774 1538.6L1774 1537L1774 1535.5L1774 1533.9L1774.1 1532.3L1774.1 1530.7L1774.1 1529.2L1774.1 1527.6L1774.2 1526L1774.2 1524.4L1774.2 1522.9L1774.2 1521.3L1774.3 1519.7L1774.3 1518.1L1774.3 1516.6L1774.3 1515L1774.4 1513.4L1774.4 1511.8L1774.4 1510.3L1774.4 1508.7L1774.5 1507.1L1774.5 1505.5L1774.5 1504L1774.5 1502.4L1774.6 1500.8L1774.6 1499.2L1774.6 1497.6L1774.6 1496.1L1774.6 1494.5L1774.7 1492.9L1774.7 1491.3L1774.7 1489.8L1774.7 1488.2L1774.8 1486.6L1774.8 1485L1774.8 1483.5L1774.8 1481.9L1774.8 1480.3L1774.9 1478.7L1774.9 1477.2L1774.9 1475.6L1774.9 1474L1775 1472.4L1775 1470.9L1775 1469.3L1775 1467.7L1775 1466.1L1775.1 1464.5L1775.1 1463L1775.1 1461.4L1775.1 1459.8L1775.1 1458.2L1775.2 1456.7L1775.2 1455.1L1775.2 1453.5L1775.2 1451.9L1775.2 1450.4L1775.3 1448.8L1775.3 1447.2L1775.3 1445.6L1775.3 1444.1L1775.3 1442.5L1775.4 1440.9L1775.4 1439.3L1775.4 1437.8L1775.4 1436.2L1775.4 1434.6L1775.4 1433L1775.4 1431.4L1775.4 1429.9L1775.4 1428.3L1775.4 1426.7L1775.4 1425.1L1775.4 1423.6L1775.4 1422L1775.4 1420.4L1775.4 1418.8L1775.4 1417.3L1775.4 1415.7L1775.4 1414.1L1775.4 1412.5L1775.4 1411L1775.4 1409.4L1775.4 1407.8L1775.4 1406.2L1775.4 1404.7L1775.4 1403.1L1775.4 1401.5L1776 1401.5L1776.1 1403.1L1776.1 1404.7L1776.1 1406.2L1776.1 1407.8L1776.1 1409.4L1776.1 1411L1776.1 1412.5L1776.1 1414.1L1776.1 1415.7L1776.1 1417.3L1776.1 1418.8L1776.1 1420.4L1776.1 1422L1776.1 1423.6L1776.1 1425.1L1776.1 1426.7L1776.1 1428.3L1776.1 1429.9L1776.1 1431.4L1776.1 1433L1776.1 1434.6L1776.1 1436.2L1776.1 1437.8L1776.1 1439.3L1776.1 1440.9L1776.1 1442.5L1776.1 1444.1L1776.1 1445.6L1776.2 1447.2L1776.2 1448.8L1776.2 1450.4L1776.2 1451.9L1776.2 1453.5L1776.3 1455.1L1776.3 1456.7L1776.3 1458.2L1776.3 1459.8L1776.3 1461.4L1776.4 1463L1776.4 1464.5L1776.4 1466.1L1776.4 1467.7L1776.4 1469.3L1776.5 1470.9L1776.5 1472.4L1776.5 1474L1776.5 1475.6L1776.6 1477.2L1776.6 1478.7L1776.6 1480.3L1776.6 1481.9L1776.6 1483.5L1776.7 1485L1776.7 1486.6L1776.7 1488.2L1776.7 1489.8L1776.8 1491.3L1776.8 1492.9L1776.8 1494.5L1776.8 1496.1L1776.8 1497.6L1776.9 1499.2L1776.9 1500.8L1776.9 1502.4L1776.9 1504L1777 1505.5L1777 1507.1L1777 1508.7L1777 1510.3L1777.1 1511.8L1777.1 1513.4L1777.1 1515L1777.1 1516.6L1777.1 1518.1L1777.2 1519.7L1777.2 1521.3L1777.2 1522.9L1777.2 1524.4L1777.3 1526L1777.3 1527.6L1777.3 1529.2L1777.3 1530.7L1777.4 1532.3L1777.4 1533.9L1777.4 1535.5L1777.4 1537L1777.5 1538.6L1777.5 1540.2L1777.5 1541.8L1777.5 1543.4L1777.6 1544.9L1777.6 1546.5L1777.6 1548.1L1777.6 1549.7L1777.7 1551.2L1777.7 1552.8L1777.7 1554.4L1777.7 1556L1777.8 1557.5L1777.8 1559.1L1777.8 1560.7L1777.9 1562.3L1777.9 1563.8L1777.9 1565.4L1777.9 1567L1778 1568.6L1778 1570.1L1778 1571.7L1778 1573.3L1778.1 1574.9L1778.1 1576.5L1778.1 1578L1778.1 1579.6L1778.2 1581.2L1778.2 1582.8L1778.2 1584.3L1778.3 1585.9L1778.3 1587.5L1778.3 1589.1L1778.3 1590.6L1778.4 1592.2L1778.6 1593.8L1778.8 1595.4L1779.1 1596.9L1779.4 1598.5L1779.7 1600.1L1780 1601.7L1780.4 1603.2L1780.7 1604.8L1781.1 1606.4L1781.4 1608L1781.8 1609.6L1782.1 1611.1L1782.5 1612.7L1782.8 1614.3L1783.1 1615.9L1783.3 1617.4L1783.5 1619L1783.6 1620.6L1783.7 1622.2L1783.7 1623.7L1783.6 1625.3L1783.5 1626.9L1783.3 1628.5L1783.1 1630L1782.9 1631.6L1782.6 1633.2L1782.3 1634.8L1781.9 1636.3L1781.5 1637.9L1781 1639.5L1780.6 1641.1L1780 1642.7L1779.5 1644.2L1778.8 1645.8L1778.2 1647.4L1777.5 1649L1776.7 1650.5L1775.9 1652.1Z" fill="#b8c93c" stroke="#8c8c8c" stroke-width="0.9"/>
<line x1="1771.9" y1="1587.4" x2="1779.5" y2="1587.4" stroke="#222" stroke-width="1.8"/>
<line x1="1775.7" y1="1669.5" x2="1775.7" y2="1676" stroke="#1a1a1a" stroke-width="2.6"/>
<text x="1784.9" y="1680.2" font-size="25.2" text-anchor="end" transform="rotate(-90 1784.9 1680.2)">3D</text>
<path d="M1795.3 1652.1L1794.6 1650.5L1793.8 1649L1793.1 1647.4L1792.5 1645.8L1791.9 1644.3L1791.3 1642.7L1790.8 1641.1L1790.4 1639.6L1789.9 1638L1789.5 1636.4L1789.2 1634.9L1788.8 1633.3L1788.5 1631.7L1788.3 1630.1L1788 1628.6L1787.8 1627L1787.7 1625.4L1787.6 1623.9L1787.5 1622.3L1787.5 1620.7L1787.5 1619.2L1787.6 1617.6L1787.8 1616L1788 1614.5L1788.3 1612.9L1788.5 1611.3L1788.8 1609.8L1789.1 1608.2L1789.4 1606.6L1789.8 1605.1L1790.1 1603.5L1790.4 1601.9L1790.7 1600.3L1791 1598.8L1791.3 1597.2L1791.6 1595.6L1791.9 1594.1L1792.1 1592.5L1792.4 1590.9L1792.5 1589.4L1792.6 1587.8L1792.6 1586.2L1792.6 1584.7L1792.6 1583.1L1792.7 1581.5L1792.7 1580L1792.7 1578.4L1792.8 1576.8L1792.8 1575.3L1792.8 1573.7L1792.9 1572.1L1792.9 1570.5L1792.9 1569L1793 1567.4L1793 1565.8L1793 1564.3L1793 1562.7L1793.1 1561.1L1793.1 1559.6L1793.1 1558L1793.2 1556.4L1793.2 1554.9L1793.2 1553.3L1793.2 1551.7L1793.3 1550.2L1793.3 1548.6L1793.3 1547L1793.4 1545.5L1793.4 1543.9L1793.4 1542.3L1793.5 1540.7L1793.5 1539.2L1793.5 1537.6L1793.5 1536L1793.6 1534.5L1793.6 1532.9L1793.6 1531.3L1793.7 1529.8L1793.7 1528.2L1793.7 1526.6L1793.7 1525.1L1793.8 1523.5L1793.8 1521.9L1793.8 1520.4L1793.8 1518.8L1793.9 1517.2L1793.9 1515.6L1793.9 1514.1L1794 1512.5L1794 1510.9L1794 1509.4L1794 1507.8L1794.1 1506.2L1794.1 1504.7L1794.1 1503.1L1794.1 1501.5L1794.2 1500L1794.2 1498.4L1794.2 1496.8L1794.2 1495.3L1794.3 1493.7L1794.3 1492.1L1794.3 1490.6L1794.4 1489L1794.4 1487.4L1794.4 1485.8L1794.4 1484.3L1794.5 1482.7L1794.5 1481.1L1794.5 1479.6L1794.5 1478L1794.6 1476.4L1794.6 1474.9L1794.6 1473.3L1794.6 1471.7L1794.7 1470.2L1794.7 1468.6L1794.7 1467L1794.7 1465.5L1794.7 1463.9L1794.8 1462.3L1794.8 1460.8L1794.8 1459.2L1794.8 1457.6L1794.9 1456L1794.9 1454.5L1794.9 1452.9L1794.9 1451.3L1795 1449.8L1795 1448.2L1795 1446.6L1795 1445.1L1795 1443.5L1795.1 1441.9L1795.1 1440.4L1795.1 1438.8L1795.1 1437.2L1795.1 1435.7L1795.1 1434.1L1795.1 1432.5L1795.1 1430.9L1795.1 1429.4L1795.1 1427.8L1795.1 1426.2L1795.1 1424.7L1795.1 1423.1L1795.1 1421.5L1795.1 1420L1795.1 1418.4L1795.1 1416.8L1795.1 1415.3L1795.1 1413.7L1795.1 1412.1L1795.1 1410.6L1795.1 1409L1795.1 1407.4L1795.1 1405.9L1795.1 1404.3L1795.2 1402.7L1795.8 1402.7L1795.8 1404.3L1795.8 1405.9L1795.8 1407.4L1795.8 1409L1795.8 1410.6L1795.8 1412.1L1795.8 1413.7L1795.8 1415.3L1795.8 1416.8L1795.8 1418.4L1795.8 1420L1795.8 1421.5L1795.8 1423.1L1795.8 1424.7L1795.8 1426.2L1795.8 1427.8L1795.8 1429.4L1795.8 1430.9L1795.8 1432.5L1795.8 1434.1L1795.8 1435.7L1795.8 1437.2L1795.9 1438.8L1795.9 1440.4L1795.9 1441.9L1795.9 1443.5L1795.9 1445.1L1796 1446.6L1796 1448.2L1796 1449.8L1796 1451.3L1796.1 1452.9L1796.1 1454.5L1796.1 1456L1796.1 1457.6L1796.1 1459.2L1796.2 1460.8L1796.2 1462.3L1796.2 1463.9L1796.2 1465.5L1796.3 1467L1796.3 1468.6L1796.3 1470.2L1796.3 1471.7L1796.4 1473.3L1796.4 1474.9L1796.4 1476.4L1796.4 1478L1796.5 1479.6L1796.5 1481.1L1796.5 1482.7L1796.5 1484.3L1796.6 1485.8L1796.6 1487.4L1796.6 1489L1796.6 1490.6L1796.7 1492.1L1796.7 1493.7L1796.7 1495.3L1796.7 1496.8L1796.8 1498.4L1796.8 1500L1796.8 1501.5L1796.8 1503.1L1796.9 1504.7L1796.9 1506.2L1796.9 1507.8L1796.9 1509.4L1797 1510.9L1797 1512.5L1797 1514.1L1797.1 1515.6L1797.1 1517.2L1797.1 1518.8L1797.1 1520.4L1797.2 1521.9L1797.2 1523.5L1797.2 1525.1L1797.3 1526.6L1797.3 1528.2L1797.3 1529.8L1797.3 1531.3L1797.4 1532.9L1797.4 1534.5L1797.4 1536L1797.5 1537.6L1797.5 1539.2L1797.5 1540.7L1797.5 1542.3L1797.6 1543.9L1797.6 1545.5L1797.6 1547L1797.7 1548.6L1797.7 1550.2L1797.7 1551.7L1797.7 1553.3L1797.8 1554.9L1797.8 1556.4L1797.8 1558L1797.9 1559.6L1797.9 1561.1L1797.9 1562.7L1797.9 1564.3L1798 1565.8L1798 1567.4L1798 1569L1798.1 1570.5L1798.1 1572.1L1798.1 1573.7L1798.2 1575.3L1798.2 1576.8L1798.2 1578.4L1798.3 1580L1798.3 1581.5L1798.3 1583.1L1798.3 1584.7L1798.4 1586.2L1798.4 1587.8L1798.4 1589.4L1798.6 1590.9L1798.9 1592.5L1799.1 1594.1L1799.4 1595.6L1799.7 1597.2L1800 1598.8L1800.3 1600.3L1800.6 1601.9L1800.9 1603.5L1801.2 1605.1L1801.5 1606.6L1801.8 1608.2L1802.1 1609.8L1802.4 1611.3L1802.7 1612.9L1802.9 1614.5L1803.1 1616L1803.3 1617.6L1803.4 1619.2L1803.5 1620.7L1803.5 1622.3L1803.4 1623.9L1803.3 1625.4L1803.1 1627L1802.9 1628.6L1802.7 1630.1L1802.4 1631.7L1802.1 1633.3L1801.8 1634.9L1801.4 1636.4L1801 1638L1800.6 1639.6L1800.1 1641.1L1799.6 1642.7L1799.1 1644.3L1798.5 1645.8L1797.8 1647.4L1797.1 1649L1796.4 1650.5L1795.7 1652.1Z" fill="#b8c93c" stroke="#8c8c8c" stroke-width="0.9"/>
<line x1="1791.7" y1="1581.1" x2="1799.3" y2="1581.1" stroke="#222" stroke-width="1.8"/>
<line x1="1795.5" y1="1669.5" x2="1795.5" y2="1676" stroke="#1a1a1a" stroke-width="2.6"/>
<text x="1804.9" y="1680.2" font-size="25.2" text-anchor="end" transform="rotate(-90 1804.9 1680.2)">3E</text>
<path d="M1815 1652.1L1814.4 1650.5L1813.6 1648.9L1813 1647.4L1812.3 1645.8L1811.8 1644.2L1811.2 1642.6L1810.7 1641L1810.3 1639.5L1809.8 1637.9L1809.4 1636.3L1809.1 1634.7L1808.7 1633.1L1808.4 1631.6L1808.2 1630L1807.9 1628.4L1807.7 1626.8L1807.5 1625.2L1807.4 1623.6L1807.3 1622.1L1807.2 1620.5L1807.2 1618.9L1807.3 1617.3L1807.4 1615.7L1807.6 1614.2L1807.8 1612.6L1808.1 1611L1808.4 1609.4L1808.7 1607.8L1809 1606.3L1809.3 1604.7L1809.7 1603.1L1810 1601.5L1810.3 1599.9L1810.6 1598.3L1810.9 1596.8L1811.2 1595.2L1811.5 1593.6L1811.8 1592L1812.1 1590.4L1812.3 1588.9L1812.5 1587.3L1812.6 1585.7L1812.6 1584.1L1812.6 1582.5L1812.7 1581L1812.7 1579.4L1812.7 1577.8L1812.8 1576.2L1812.8 1574.6L1812.8 1573L1812.8 1571.5L1812.9 1569.9L1812.9 1568.3L1812.9 1566.7L1812.9 1565.1L1813 1563.6L1813 1562L1813 1560.4L1813.1 1558.8L1813.1 1557.2L1813.1 1555.7L1813.1 1554.1L1813.2 1552.5L1813.2 1550.9L1813.2 1549.3L1813.2 1547.7L1813.3 1546.2L1813.3 1544.6L1813.3 1543L1813.4 1541.4L1813.4 1539.8L1813.4 1538.3L1813.4 1536.7L1813.5 1535.1L1813.5 1533.5L1813.5 1531.9L1813.5 1530.4L1813.6 1528.8L1813.6 1527.2L1813.6 1525.6L1813.6 1524L1813.7 1522.4L1813.7 1520.9L1813.7 1519.3L1813.7 1517.7L1813.8 1516.1L1813.8 1514.5L1813.8 1513L1813.8 1511.4L1813.9 1509.8L1813.9 1508.2L1813.9 1506.6L1813.9 1505.1L1814 1503.5L1814 1501.9L1814 1500.3L1814 1498.7L1814.1 1497.1L1814.1 1495.6L1814.1 1494L1814.1 1492.4L1814.2 1490.8L1814.2 1489.2L1814.2 1487.7L1814.2 1486.1L1814.3 1484.5L1814.3 1482.9L1814.3 1481.3L1814.3 1479.8L1814.3 1478.2L1814.4 1476.6L1814.4 1475L1814.4 1473.4L1814.4 1471.8L1814.5 1470.3L1814.5 1468.7L1814.5 1467.1L1814.5 1465.5L1814.5 1463.9L1814.6 1462.4L1814.6 1460.8L1814.6 1459.2L1814.6 1457.6L1814.7 1456L1814.7 1454.5L1814.7 1452.9L1814.7 1451.3L1814.7 1449.7L1814.8 1448.1L1814.8 1446.5L1814.8 1445L1814.8 1443.4L1814.8 1441.8L1814.9 1440.2L1814.9 1438.6L1814.9 1437.1L1814.9 1435.5L1814.9 1433.9L1814.9 1432.3L1814.9 1430.7L1814.9 1429.2L1814.9 1427.6L1814.9 1426L1814.9 1424.4L1814.9 1422.8L1814.9 1421.2L1814.9 1419.7L1814.9 1418.1L1814.9 1416.5L1814.9 1414.9L1814.9 1413.3L1814.9 1411.8L1814.9 1410.2L1814.9 1408.6L1814.9 1407L1814.9 1405.4L1814.9 1403.9L1814.9 1402.3L1814.9 1400.7L1815.5 1400.7L1815.6 1402.3L1815.6 1403.9L1815.6 1405.4L1815.6 1407L1815.6 1408.6L1815.6 1410.2L1815.6 1411.8L1815.6 1413.3L1815.6 1414.9L1815.6 1416.5L1815.6 1418.1L1815.6 1419.7L1815.6 1421.2L1815.6 1422.8L1815.6 1424.4L1815.6 1426L1815.6 1427.6L1815.6 1429.2L1815.6 1430.7L1815.6 1432.3L1815.6 1433.9L1815.6 1435.5L1815.6 1437.1L1815.6 1438.6L1815.6 1440.2L1815.6 1441.8L1815.7 1443.4L1815.7 1445L1815.7 1446.5L1815.7 1448.1L1815.7 1449.7L1815.8 1451.3L1815.8 1452.9L1815.8 1454.5L1815.8 1456L1815.8 1457.6L1815.9 1459.2L1815.9 1460.8L1815.9 1462.4L1815.9 1463.9L1816 1465.5L1816 1467.1L1816 1468.7L1816 1470.3L1816 1471.8L1816.1 1473.4L1816.1 1475L1816.1 1476.6L1816.1 1478.2L1816.2 1479.8L1816.2 1481.3L1816.2 1482.9L1816.2 1484.5L1816.3 1486.1L1816.3 1487.7L1816.3 1489.2L1816.3 1490.8L1816.3 1492.4L1816.4 1494L1816.4 1495.6L1816.4 1497.1L1816.4 1498.7L1816.5 1500.3L1816.5 1501.9L1816.5 1503.5L1816.5 1505.1L1816.6 1506.6L1816.6 1508.2L1816.6 1509.8L1816.6 1511.4L1816.7 1513L1816.7 1514.5L1816.7 1516.1L1816.7 1517.7L1816.8 1519.3L1816.8 1520.9L1816.8 1522.4L1816.8 1524L1816.9 1525.6L1816.9 1527.2L1816.9 1528.8L1816.9 1530.4L1817 1531.9L1817 1533.5L1817 1535.1L1817 1536.7L1817.1 1538.3L1817.1 1539.8L1817.1 1541.4L1817.2 1543L1817.2 1544.6L1817.2 1546.2L1817.2 1547.7L1817.3 1549.3L1817.3 1550.9L1817.3 1552.5L1817.3 1554.1L1817.4 1555.7L1817.4 1557.2L1817.4 1558.8L1817.5 1560.4L1817.5 1562L1817.5 1563.6L1817.5 1565.1L1817.6 1566.7L1817.6 1568.3L1817.6 1569.9L1817.6 1571.5L1817.7 1573L1817.7 1574.6L1817.7 1576.2L1817.8 1577.8L1817.8 1579.4L1817.8 1581L1817.8 1582.5L1817.9 1584.1L1817.9 1585.7L1818 1587.3L1818.2 1588.9L1818.4 1590.4L1818.7 1592L1819 1593.6L1819.2 1595.2L1819.5 1596.8L1819.8 1598.3L1820.2 1599.9L1820.5 1601.5L1820.8 1603.1L1821.1 1604.7L1821.5 1606.3L1821.8 1607.8L1822.1 1609.4L1822.4 1611L1822.6 1612.6L1822.9 1614.2L1823 1615.7L1823.2 1617.3L1823.2 1618.9L1823.2 1620.5L1823.2 1622.1L1823.1 1623.6L1822.9 1625.2L1822.8 1626.8L1822.6 1628.4L1822.3 1630L1822 1631.6L1821.7 1633.1L1821.4 1634.7L1821 1636.3L1820.6 1637.9L1820.2 1639.5L1819.7 1641L1819.2 1642.6L1818.7 1644.2L1818.1 1645.8L1817.5 1647.4L1816.9 1648.9L1816.1 1650.5L1815.4 1652.1Z" fill="#4cb24a" stroke="#8c8c8c" stroke-width="0.9"/>
<line x1="1811.4" y1="1585.9" x2="1819" y2="1585.9" stroke="#222" stroke-width="1.8"/>
<line x1="1815.2" y1="1669.5" x2="1815.2" y2="1676" stroke="#1a1a1a" stroke-width="2.6"/>
<text x="1825" y="1680.2" font-size="25.2" text-anchor="end" transform="rotate(-90 1825 1680.2)">4A</text>
<path d="M1834.8 1652.1L1834 1650.5L1833.3 1649L1832.5 1647.4L1831.9 1645.8L1831.3 1644.2L1830.7 1642.7L1830.2 1641.1L1829.7 1639.5L1829.2 1637.9L1828.8 1636.3L1828.5 1634.8L1828.1 1633.2L1827.8 1631.6L1827.6 1630L1827.4 1628.5L1827.2 1626.9L1827.1 1625.3L1827 1623.7L1827 1622.2L1827.1 1620.6L1827.2 1619L1827.3 1617.4L1827.5 1615.9L1827.8 1614.3L1828 1612.7L1828.3 1611.1L1828.6 1609.6L1828.9 1608L1829.2 1606.4L1829.5 1604.8L1829.8 1603.2L1830.1 1601.7L1830.4 1600.1L1830.7 1598.5L1831 1596.9L1831.2 1595.4L1831.5 1593.8L1831.6 1592.2L1831.6 1590.6L1831.7 1589.1L1831.7 1587.5L1831.7 1585.9L1831.8 1584.3L1831.8 1582.8L1831.9 1581.2L1831.9 1579.6L1831.9 1578L1832 1576.5L1832 1574.9L1832 1573.3L1832.1 1571.7L1832.1 1570.1L1832.1 1568.6L1832.2 1567L1832.2 1565.4L1832.2 1563.8L1832.3 1562.3L1832.3 1560.7L1832.3 1559.1L1832.4 1557.5L1832.4 1556L1832.4 1554.4L1832.5 1552.8L1832.5 1551.2L1832.5 1549.7L1832.6 1548.1L1832.6 1546.5L1832.6 1544.9L1832.7 1543.4L1832.7 1541.8L1832.7 1540.2L1832.8 1538.6L1832.8 1537L1832.8 1535.5L1832.9 1533.9L1832.9 1532.3L1832.9 1530.7L1832.9 1529.2L1833 1527.6L1833 1526L1833 1524.4L1833.1 1522.9L1833.1 1521.3L1833.1 1519.7L1833.2 1518.1L1833.2 1516.6L1833.2 1515L1833.3 1513.4L1833.3 1511.8L1833.3 1510.3L1833.4 1508.7L1833.4 1507.1L1833.4 1505.5L1833.4 1504L1833.5 1502.4L1833.5 1500.8L1833.5 1499.2L1833.6 1497.6L1833.6 1496.1L1833.6 1494.5L1833.6 1492.9L1833.7 1491.3L1833.7 1489.8L1833.7 1488.2L1833.8 1486.6L1833.8 1485L1833.8 1483.5L1833.8 1481.9L1833.9 1480.3L1833.9 1478.7L1833.9 1477.2L1834 1475.6L1834 1474L1834 1472.4L1834 1470.9L1834.1 1469.3L1834.1 1467.7L1834.1 1466.1L1834.2 1464.5L1834.2 1463L1834.2 1461.4L1834.2 1459.8L1834.3 1458.2L1834.3 1456.7L1834.3 1455.1L1834.3 1453.5L1834.4 1451.9L1834.4 1450.4L1834.4 1448.8L1834.4 1447.2L1834.5 1445.6L1834.5 1444.1L1834.5 1442.5L1834.5 1440.9L1834.6 1439.3L1834.6 1437.8L1834.6 1436.2L1834.6 1434.6L1834.6 1433L1834.7 1431.4L1834.7 1429.9L1834.7 1428.3L1834.7 1426.7L1834.7 1425.1L1834.7 1423.6L1834.7 1422L1834.7 1420.4L1834.7 1418.8L1834.7 1417.3L1834.7 1415.7L1834.7 1414.1L1834.7 1412.5L1834.7 1411L1834.7 1409.4L1834.7 1407.8L1834.7 1406.2L1834.7 1404.7L1834.7 1403.1L1834.7 1401.5L1835.3 1401.5L1835.3 1403.1L1835.3 1404.7L1835.3 1406.2L1835.3 1407.8L1835.3 1409.4L1835.3 1411L1835.3 1412.5L1835.3 1414.1L1835.3 1415.7L1835.3 1417.3L1835.3 1418.8L1835.3 1420.4L1835.3 1422L1835.3 1423.6L1835.3 1425.1L1835.3 1426.7L1835.3 1428.3L1835.3 1429.9L1835.3 1431.4L1835.4 1433L1835.4 1434.6L1835.4 1436.2L1835.4 1437.8L1835.4 1439.3L1835.5 1440.9L1835.5 1442.5L1835.5 1444.1L1835.5 1445.6L1835.6 1447.2L1835.6 1448.8L1835.6 1450.4L1835.6 1451.9L1835.7 1453.5L1835.7 1455.1L1835.7 1456.7L1835.7 1458.2L1835.8 1459.8L1835.8 1461.4L1835.8 1463L1835.8 1464.5L1835.9 1466.1L1835.9 1467.7L1835.9 1469.3L1836 1470.9L1836 1472.4L1836 1474L1836 1475.6L1836.1 1477.2L1836.1 1478.7L1836.1 1480.3L1836.2 1481.9L1836.2 1483.5L1836.2 1485L1836.2 1486.6L1836.3 1488.2L1836.3 1489.8L1836.3 1491.3L1836.4 1492.9L1836.4 1494.5L1836.4 1496.1L1836.4 1497.6L1836.5 1499.2L1836.5 1500.8L1836.5 1502.4L1836.6 1504L1836.6 1505.5L1836.6 1507.1L1836.6 1508.7L1836.7 1510.3L1836.7 1511.8L1836.7 1513.4L1836.8 1515L1836.8 1516.6L1836.8 1518.1L1836.9 1519.7L1836.9 1521.3L1836.9 1522.9L1837 1524.4L1837 1526L1837 1527.6L1837.1 1529.2L1837.1 1530.7L1837.1 1532.3L1837.1 1533.9L1837.2 1535.5L1837.2 1537L1837.2 1538.6L1837.3 1540.2L1837.3 1541.8L1837.3 1543.4L1837.4 1544.9L1837.4 1546.5L1837.4 1548.1L1837.5 1549.7L1837.5 1551.2L1837.5 1552.8L1837.6 1554.4L1837.6 1556L1837.6 1557.5L1837.7 1559.1L1837.7 1560.7L1837.7 1562.3L1837.8 1563.8L1837.8 1565.4L1837.8 1567L1837.9 1568.6L1837.9 1570.1L1837.9 1571.7L1838 1573.3L1838 1574.9L1838 1576.5L1838.1 1578L1838.1 1579.6L1838.1 1581.2L1838.2 1582.8L1838.2 1584.3L1838.3 1585.9L1838.3 1587.5L1838.3 1589.1L1838.4 1590.6L1838.4 1592.2L1838.5 1593.8L1838.8 1595.4L1839 1596.9L1839.3 1598.5L1839.6 1600.1L1839.9 1601.7L1840.2 1603.2L1840.5 1604.8L1840.8 1606.4L1841.1 1608L1841.4 1609.6L1841.7 1611.1L1842 1612.7L1842.2 1614.3L1842.5 1615.9L1842.7 1617.4L1842.8 1619L1842.9 1620.6L1843 1622.2L1843 1623.7L1842.9 1625.3L1842.8 1626.9L1842.6 1628.5L1842.4 1630L1842.2 1631.6L1841.9 1633.2L1841.5 1634.8L1841.2 1636.3L1840.8 1637.9L1840.3 1639.5L1839.8 1641.1L1839.3 1642.7L1838.7 1644.2L1838.1 1645.8L1837.5 1647.4L1836.7 1649L1836 1650.5L1835.2 1652.1Z" fill="#4cb24a" stroke="#8c8c8c" stroke-width="0.9"/>
<line x1="1831.2" y1="1573.8" x2="1838.8" y2="1573.8" stroke="#222" stroke-width="1.8"/>
<line x1="1835" y1="1669.5" x2="1835" y2="1676" stroke="#1a1a1a" stroke-width="2.6"/>
<text x="1845" y="1680.2" font-size="25.2" text-anchor="end" transform="rotate(-90 1845 1680.2)">4B</text>
<path d="M1854.6 1652.1L1853.8 1650.5L1853.1 1649L1852.4 1647.4L1851.8 1645.8L1851.2 1644.2L1850.6 1642.7L1850.1 1641.1L1849.6 1639.5L1849.2 1637.9L1848.8 1636.3L1848.4 1634.8L1848.1 1633.2L1847.8 1631.6L1847.5 1630L1847.3 1628.5L1847.1 1626.9L1847 1625.3L1846.8 1623.7L1846.8 1622.2L1846.8 1620.6L1846.8 1619L1847 1617.4L1847.1 1615.9L1847.4 1614.3L1847.6 1612.7L1847.9 1611.1L1848.2 1609.6L1848.5 1608L1848.9 1606.4L1849.2 1604.8L1849.5 1603.2L1849.9 1601.7L1850.2 1600.1L1850.5 1598.5L1850.8 1596.9L1851.1 1595.4L1851.4 1593.8L1851.6 1592.2L1851.9 1590.6L1852 1589.1L1852 1587.5L1852.1 1585.9L1852.1 1584.3L1852.1 1582.8L1852.1 1581.2L1852.2 1579.6L1852.2 1578L1852.2 1576.5L1852.3 1574.9L1852.3 1573.3L1852.3 1571.7L1852.3 1570.1L1852.4 1568.6L1852.4 1567L1852.4 1565.4L1852.5 1563.8L1852.5 1562.3L1852.5 1560.7L1852.5 1559.1L1852.6 1557.5L1852.6 1556L1852.6 1554.4L1852.7 1552.8L1852.7 1551.2L1852.7 1549.7L1852.7 1548.1L1852.8 1546.5L1852.8 1544.9L1852.8 1543.4L1852.8 1541.8L1852.9 1540.2L1852.9 1538.6L1852.9 1537L1852.9 1535.5L1853 1533.9L1853 1532.3L1853 1530.7L1853.1 1529.2L1853.1 1527.6L1853.1 1526L1853.1 1524.4L1853.2 1522.9L1853.2 1521.3L1853.2 1519.7L1853.2 1518.1L1853.3 1516.6L1853.3 1515L1853.3 1513.4L1853.3 1511.8L1853.4 1510.3L1853.4 1508.7L1853.4 1507.1L1853.4 1505.5L1853.5 1504L1853.5 1502.4L1853.5 1500.8L1853.5 1499.2L1853.6 1497.6L1853.6 1496.1L1853.6 1494.5L1853.6 1492.9L1853.7 1491.3L1853.7 1489.8L1853.7 1488.2L1853.7 1486.6L1853.8 1485L1853.8 1483.5L1853.8 1481.9L1853.8 1480.3L1853.9 1478.7L1853.9 1477.2L1853.9 1475.6L1853.9 1474L1853.9 1472.4L1854 1470.9L1854 1469.3L1854 1467.7L1854 1466.1L1854.1 1464.5L1854.1 1463L1854.1 1461.4L1854.1 1459.8L1854.1 1458.2L1854.2 1456.7L1854.2 1455.1L1854.2 1453.5L1854.2 1451.9L1854.2 1450.4L1854.3 1448.8L1854.3 1447.2L1854.3 1445.6L1854.3 1444.1L1854.3 1442.5L1854.4 1440.9L1854.4 1439.3L1854.4 1437.8L1854.4 1436.2L1854.4 1434.6L1854.4 1433L1854.4 1431.4L1854.4 1429.9L1854.4 1428.3L1854.4 1426.7L1854.4 1425.1L1854.4 1423.6L1854.4 1422L1854.4 1420.4L1854.4 1418.8L1854.4 1417.3L1854.4 1415.7L1854.4 1414.1L1854.4 1412.5L1854.4 1411L1854.4 1409.4L1854.4 1407.8L1854.4 1406.2L1854.4 1404.7L1854.4 1403.1L1854.5 1401.5L1855.1 1401.5L1855.1 1403.1L1855.1 1404.7L1855.1 1406.2L1855.1 1407.8L1855.1 1409.4L1855.1 1411L1855.1 1412.5L1855.1 1414.1L1855.1 1415.7L1855.1 1417.3L1855.1 1418.8L1855.1 1420.4L1855.1 1422L1855.1 1423.6L1855.1 1425.1L1855.1 1426.7L1855.1 1428.3L1855.1 1429.9L1855.1 1431.4L1855.1 1433L1855.1 1434.6L1855.1 1436.2L1855.1 1437.8L1855.1 1439.3L1855.2 1440.9L1855.2 1442.5L1855.2 1444.1L1855.2 1445.6L1855.2 1447.2L1855.3 1448.8L1855.3 1450.4L1855.3 1451.9L1855.3 1453.5L1855.3 1455.1L1855.4 1456.7L1855.4 1458.2L1855.4 1459.8L1855.4 1461.4L1855.4 1463L1855.5 1464.5L1855.5 1466.1L1855.5 1467.7L1855.5 1469.3L1855.6 1470.9L1855.6 1472.4L1855.6 1474L1855.6 1475.6L1855.6 1477.2L1855.7 1478.7L1855.7 1480.3L1855.7 1481.9L1855.7 1483.5L1855.8 1485L1855.8 1486.6L1855.8 1488.2L1855.8 1489.8L1855.9 1491.3L1855.9 1492.9L1855.9 1494.5L1855.9 1496.1L1856 1497.6L1856 1499.2L1856 1500.8L1856 1502.4L1856.1 1504L1856.1 1505.5L1856.1 1507.1L1856.1 1508.7L1856.2 1510.3L1856.2 1511.8L1856.2 1513.4L1856.2 1515L1856.3 1516.6L1856.3 1518.1L1856.3 1519.7L1856.3 1521.3L1856.4 1522.9L1856.4 1524.4L1856.4 1526L1856.4 1527.6L1856.5 1529.2L1856.5 1530.7L1856.5 1532.3L1856.5 1533.9L1856.6 1535.5L1856.6 1537L1856.6 1538.6L1856.7 1540.2L1856.7 1541.8L1856.7 1543.4L1856.7 1544.9L1856.8 1546.5L1856.8 1548.1L1856.8 1549.7L1856.8 1551.2L1856.9 1552.8L1856.9 1554.4L1856.9 1556L1857 1557.5L1857 1559.1L1857 1560.7L1857 1562.3L1857.1 1563.8L1857.1 1565.4L1857.1 1567L1857.1 1568.6L1857.2 1570.1L1857.2 1571.7L1857.2 1573.3L1857.3 1574.9L1857.3 1576.5L1857.3 1578L1857.3 1579.6L1857.4 1581.2L1857.4 1582.8L1857.4 1584.3L1857.5 1585.9L1857.5 1587.5L1857.5 1589.1L1857.7 1590.6L1857.9 1592.2L1858.2 1593.8L1858.4 1595.4L1858.7 1596.9L1859 1598.5L1859.3 1600.1L1859.6 1601.7L1860 1603.2L1860.3 1604.8L1860.6 1606.4L1861 1608L1861.3 1609.6L1861.6 1611.1L1861.9 1612.7L1862.2 1614.3L1862.4 1615.9L1862.6 1617.4L1862.7 1619L1862.8 1620.6L1862.7 1622.2L1862.7 1623.7L1862.6 1625.3L1862.4 1626.9L1862.2 1628.5L1862 1630L1861.7 1631.6L1861.4 1633.2L1861.1 1634.8L1860.7 1636.3L1860.3 1637.9L1859.9 1639.5L1859.4 1641.1L1858.9 1642.7L1858.4 1644.2L1857.8 1645.8L1857.1 1647.4L1856.4 1649L1855.7 1650.5L1855 1652.1Z" fill="#4cb24a" stroke="#8c8c8c" stroke-width="0.9"/>
<line x1="1851" y1="1584.7" x2="1858.6" y2="1584.7" stroke="#222" stroke-width="1.8"/>
<line x1="1854.8" y1="1669.5" x2="1854.8" y2="1676" stroke="#1a1a1a" stroke-width="2.6"/>
<text x="1865" y="1680.2" font-size="25.2" text-anchor="end" transform="rotate(-90 1865 1680.2)">4C</text>
<path d="M1874.3 1653.3L1873.7 1651.7L1873 1650.1L1872.3 1648.6L1871.7 1647L1871.1 1645.4L1870.6 1643.8L1870.1 1642.2L1869.7 1640.6L1869.2 1639L1868.8 1637.4L1868.5 1635.8L1868.1 1634.3L1867.8 1632.7L1867.6 1631.1L1867.3 1629.5L1867.1 1627.9L1866.9 1626.3L1866.8 1624.7L1866.6 1623.1L1866.6 1621.5L1866.5 1620L1866.5 1618.4L1866.6 1616.8L1866.8 1615.2L1867 1613.6L1867.2 1612L1867.4 1610.4L1867.7 1608.8L1868 1607.2L1868.3 1605.7L1868.7 1604.1L1869 1602.5L1869.3 1600.9L1869.6 1599.3L1869.9 1597.7L1870.2 1596.1L1870.5 1594.5L1870.8 1592.9L1871.1 1591.4L1871.3 1589.8L1871.6 1588.2L1871.7 1586.6L1871.8 1585L1871.8 1583.4L1871.8 1581.8L1871.8 1580.2L1871.9 1578.6L1871.9 1577.1L1871.9 1575.5L1872 1573.9L1872 1572.3L1872 1570.7L1872 1569.1L1872.1 1567.5L1872.1 1565.9L1872.1 1564.3L1872.2 1562.8L1872.2 1561.2L1872.2 1559.6L1872.3 1558L1872.3 1556.4L1872.3 1554.8L1872.3 1553.2L1872.4 1551.6L1872.4 1550L1872.4 1548.5L1872.5 1546.9L1872.5 1545.3L1872.5 1543.7L1872.5 1542.1L1872.6 1540.5L1872.6 1538.9L1872.6 1537.3L1872.6 1535.7L1872.7 1534.2L1872.7 1532.6L1872.7 1531L1872.8 1529.4L1872.8 1527.8L1872.8 1526.2L1872.8 1524.6L1872.9 1523L1872.9 1521.4L1872.9 1519.9L1872.9 1518.3L1873 1516.7L1873 1515.1L1873 1513.5L1873 1511.9L1873.1 1510.3L1873.1 1508.7L1873.1 1507.1L1873.2 1505.6L1873.2 1504L1873.2 1502.4L1873.2 1500.8L1873.3 1499.2L1873.3 1497.6L1873.3 1496L1873.3 1494.4L1873.4 1492.8L1873.4 1491.3L1873.4 1489.7L1873.4 1488.1L1873.5 1486.5L1873.5 1484.9L1873.5 1483.3L1873.5 1481.7L1873.6 1480.1L1873.6 1478.5L1873.6 1477L1873.6 1475.4L1873.6 1473.8L1873.7 1472.2L1873.7 1470.6L1873.7 1469L1873.7 1467.4L1873.8 1465.8L1873.8 1464.2L1873.8 1462.7L1873.8 1461.1L1873.9 1459.5L1873.9 1457.9L1873.9 1456.3L1873.9 1454.7L1873.9 1453.1L1874 1451.5L1874 1449.9L1874 1448.4L1874 1446.8L1874.1 1445.2L1874.1 1443.6L1874.1 1442L1874.1 1440.4L1874.1 1438.8L1874.2 1437.2L1874.2 1435.6L1874.2 1434.1L1874.2 1432.5L1874.2 1430.9L1874.2 1429.3L1874.2 1427.7L1874.2 1426.1L1874.2 1424.5L1874.2 1422.9L1874.2 1421.3L1874.2 1419.8L1874.2 1418.2L1874.2 1416.6L1874.2 1415L1874.2 1413.4L1874.2 1411.8L1874.2 1410.2L1874.2 1408.6L1874.2 1407L1874.2 1405.5L1874.2 1403.9L1874.2 1402.3L1874.2 1400.7L1874.8 1400.7L1874.9 1402.3L1874.9 1403.9L1874.9 1405.5L1874.9 1407L1874.9 1408.6L1874.9 1410.2L1874.9 1411.8L1874.9 1413.4L1874.9 1415L1874.9 1416.6L1874.9 1418.2L1874.9 1419.8L1874.9 1421.3L1874.9 1422.9L1874.9 1424.5L1874.9 1426.1L1874.9 1427.7L1874.9 1429.3L1874.9 1430.9L1874.9 1432.5L1874.9 1434.1L1874.9 1435.6L1874.9 1437.2L1874.9 1438.8L1874.9 1440.4L1874.9 1442L1875 1443.6L1875 1445.2L1875 1446.8L1875 1448.4L1875.1 1449.9L1875.1 1451.5L1875.1 1453.1L1875.1 1454.7L1875.1 1456.3L1875.2 1457.9L1875.2 1459.5L1875.2 1461.1L1875.2 1462.7L1875.3 1464.2L1875.3 1465.8L1875.3 1467.4L1875.3 1469L1875.3 1470.6L1875.4 1472.2L1875.4 1473.8L1875.4 1475.4L1875.4 1477L1875.5 1478.5L1875.5 1480.1L1875.5 1481.7L1875.5 1483.3L1875.6 1484.9L1875.6 1486.5L1875.6 1488.1L1875.6 1489.7L1875.7 1491.3L1875.7 1492.8L1875.7 1494.4L1875.7 1496L1875.8 1497.6L1875.8 1499.2L1875.8 1500.8L1875.8 1502.4L1875.9 1504L1875.9 1505.6L1875.9 1507.1L1875.9 1508.7L1876 1510.3L1876 1511.9L1876 1513.5L1876 1515.1L1876.1 1516.7L1876.1 1518.3L1876.1 1519.9L1876.1 1521.4L1876.2 1523L1876.2 1524.6L1876.2 1526.2L1876.3 1527.8L1876.3 1529.4L1876.3 1531L1876.3 1532.6L1876.4 1534.2L1876.4 1535.7L1876.4 1537.3L1876.4 1538.9L1876.5 1540.5L1876.5 1542.1L1876.5 1543.7L1876.6 1545.3L1876.6 1546.9L1876.6 1548.5L1876.6 1550L1876.7 1551.6L1876.7 1553.2L1876.7 1554.8L1876.8 1556.4L1876.8 1558L1876.8 1559.6L1876.8 1561.2L1876.9 1562.8L1876.9 1564.3L1876.9 1565.9L1877 1567.5L1877 1569.1L1877 1570.7L1877 1572.3L1877.1 1573.9L1877.1 1575.5L1877.1 1577.1L1877.2 1578.6L1877.2 1580.2L1877.2 1581.8L1877.3 1583.4L1877.3 1585L1877.3 1586.6L1877.5 1588.2L1877.7 1589.8L1878 1591.4L1878.2 1592.9L1878.5 1594.5L1878.8 1596.1L1879.1 1597.7L1879.4 1599.3L1879.7 1600.9L1880.1 1602.5L1880.4 1604.1L1880.7 1605.7L1881 1607.2L1881.3 1608.8L1881.6 1610.4L1881.9 1612L1882.1 1613.6L1882.3 1615.2L1882.4 1616.8L1882.5 1618.4L1882.5 1620L1882.5 1621.5L1882.4 1623.1L1882.3 1624.7L1882.1 1626.3L1881.9 1627.9L1881.7 1629.5L1881.5 1631.1L1881.2 1632.7L1880.9 1634.3L1880.6 1635.8L1880.2 1637.4L1879.8 1639L1879.4 1640.6L1878.9 1642.2L1878.4 1643.8L1877.9 1645.4L1877.3 1647L1876.7 1648.6L1876.1 1650.1L1875.4 1651.7L1874.7 1653.3Z" fill="#4cb24a" stroke="#8c8c8c" stroke-width="0.9"/>
<line x1="1870.7" y1="1583.6" x2="1878.3" y2="1583.6" stroke="#222" stroke-width="1.8"/>
<line x1="1874.5" y1="1669.5" x2="1874.5" y2="1676" stroke="#1a1a1a" stroke-width="2.6"/>
<text x="1885.1" y="1680.2" font-size="25.2" text-anchor="end" transform="rotate(-90 1885.1 1680.2)">4D</text>
<path d="M1894.1 1652.1L1893.3 1650.5L1892.5 1648.9L1891.8 1647.4L1891.1 1645.8L1890.5 1644.2L1890 1642.6L1889.4 1641L1889 1639.5L1888.5 1637.9L1888.1 1636.3L1887.7 1634.7L1887.4 1633.1L1887.1 1631.6L1886.9 1630L1886.7 1628.4L1886.5 1626.8L1886.4 1625.2L1886.3 1623.6L1886.3 1622.1L1886.3 1620.5L1886.5 1618.9L1886.6 1617.3L1886.8 1615.7L1887 1614.2L1887.3 1612.6L1887.6 1611L1887.8 1609.4L1888.1 1607.8L1888.4 1606.3L1888.7 1604.7L1889 1603.1L1889.3 1601.5L1889.6 1599.9L1889.9 1598.3L1890.2 1596.8L1890.4 1595.2L1890.7 1593.6L1890.8 1592L1890.8 1590.4L1890.9 1588.9L1890.9 1587.3L1890.9 1585.7L1891 1584.1L1891 1582.5L1891 1581L1891.1 1579.4L1891.1 1577.8L1891.1 1576.2L1891.2 1574.6L1891.2 1573L1891.2 1571.5L1891.3 1569.9L1891.3 1568.3L1891.4 1566.7L1891.4 1565.1L1891.4 1563.6L1891.5 1562L1891.5 1560.4L1891.5 1558.8L1891.6 1557.2L1891.6 1555.7L1891.6 1554.1L1891.7 1552.5L1891.7 1550.9L1891.7 1549.3L1891.8 1547.7L1891.8 1546.2L1891.8 1544.6L1891.9 1543L1891.9 1541.4L1891.9 1539.8L1892 1538.3L1892 1536.7L1892 1535.1L1892.1 1533.5L1892.1 1531.9L1892.1 1530.4L1892.2 1528.8L1892.2 1527.2L1892.2 1525.6L1892.3 1524L1892.3 1522.4L1892.3 1520.9L1892.4 1519.3L1892.4 1517.7L1892.4 1516.1L1892.5 1514.5L1892.5 1513L1892.5 1511.4L1892.5 1509.8L1892.6 1508.2L1892.6 1506.6L1892.6 1505.1L1892.7 1503.5L1892.7 1501.9L1892.7 1500.3L1892.8 1498.7L1892.8 1497.1L1892.8 1495.6L1892.9 1494L1892.9 1492.4L1892.9 1490.8L1892.9 1489.2L1893 1487.7L1893 1486.1L1893 1484.5L1893.1 1482.9L1893.1 1481.3L1893.1 1479.8L1893.2 1478.2L1893.2 1476.6L1893.2 1475L1893.2 1473.4L1893.3 1471.8L1893.3 1470.3L1893.3 1468.7L1893.3 1467.1L1893.4 1465.5L1893.4 1463.9L1893.4 1462.4L1893.5 1460.8L1893.5 1459.2L1893.5 1457.6L1893.5 1456L1893.6 1454.5L1893.6 1452.9L1893.6 1451.3L1893.6 1449.7L1893.7 1448.1L1893.7 1446.5L1893.7 1445L1893.7 1443.4L1893.8 1441.8L1893.8 1440.2L1893.8 1438.6L1893.8 1437.1L1893.9 1435.5L1893.9 1433.9L1893.9 1432.3L1893.9 1430.7L1893.9 1429.2L1893.9 1427.6L1893.9 1426L1893.9 1424.4L1893.9 1422.8L1893.9 1421.2L1893.9 1419.7L1893.9 1418.1L1893.9 1416.5L1893.9 1414.9L1893.9 1413.3L1893.9 1411.8L1893.9 1410.2L1893.9 1408.6L1893.9 1407L1893.9 1405.4L1893.9 1403.9L1893.9 1402.3L1894 1400.7L1894.6 1400.7L1894.6 1402.3L1894.6 1403.9L1894.6 1405.4L1894.6 1407L1894.6 1408.6L1894.6 1410.2L1894.6 1411.8L1894.6 1413.3L1894.6 1414.9L1894.6 1416.5L1894.6 1418.1L1894.6 1419.7L1894.6 1421.2L1894.6 1422.8L1894.6 1424.4L1894.6 1426L1894.6 1427.6L1894.6 1429.2L1894.6 1430.7L1894.6 1432.3L1894.7 1433.9L1894.7 1435.5L1894.7 1437.1L1894.7 1438.6L1894.8 1440.2L1894.8 1441.8L1894.8 1443.4L1894.8 1445L1894.9 1446.5L1894.9 1448.1L1894.9 1449.7L1894.9 1451.3L1895 1452.9L1895 1454.5L1895 1456L1895 1457.6L1895.1 1459.2L1895.1 1460.8L1895.1 1462.4L1895.2 1463.9L1895.2 1465.5L1895.2 1467.1L1895.2 1468.7L1895.3 1470.3L1895.3 1471.8L1895.3 1473.4L1895.4 1475L1895.4 1476.6L1895.4 1478.2L1895.4 1479.8L1895.5 1481.3L1895.5 1482.9L1895.5 1484.5L1895.6 1486.1L1895.6 1487.7L1895.6 1489.2L1895.6 1490.8L1895.7 1492.4L1895.7 1494L1895.7 1495.6L1895.8 1497.1L1895.8 1498.7L1895.8 1500.3L1895.9 1501.9L1895.9 1503.5L1895.9 1505.1L1895.9 1506.6L1896 1508.2L1896 1509.8L1896 1511.4L1896.1 1513L1896.1 1514.5L1896.1 1516.1L1896.2 1517.7L1896.2 1519.3L1896.2 1520.9L1896.3 1522.4L1896.3 1524L1896.3 1525.6L1896.4 1527.2L1896.4 1528.8L1896.4 1530.4L1896.5 1531.9L1896.5 1533.5L1896.5 1535.1L1896.6 1536.7L1896.6 1538.3L1896.6 1539.8L1896.7 1541.4L1896.7 1543L1896.7 1544.6L1896.8 1546.2L1896.8 1547.7L1896.8 1549.3L1896.9 1550.9L1896.9 1552.5L1896.9 1554.1L1897 1555.7L1897 1557.2L1897 1558.8L1897.1 1560.4L1897.1 1562L1897.1 1563.6L1897.2 1565.1L1897.2 1566.7L1897.2 1568.3L1897.3 1569.9L1897.3 1571.5L1897.3 1573L1897.4 1574.6L1897.4 1576.2L1897.5 1577.8L1897.5 1579.4L1897.5 1581L1897.6 1582.5L1897.6 1584.1L1897.6 1585.7L1897.7 1587.3L1897.7 1588.9L1897.7 1590.4L1897.8 1592L1897.9 1593.6L1898.1 1595.2L1898.4 1596.8L1898.7 1598.3L1898.9 1599.9L1899.2 1601.5L1899.5 1603.1L1899.8 1604.7L1900.1 1606.3L1900.4 1607.8L1900.7 1609.4L1901 1611L1901.3 1612.6L1901.5 1614.2L1901.8 1615.7L1902 1617.3L1902.1 1618.9L1902.2 1620.5L1902.3 1622.1L1902.3 1623.6L1902.2 1625.2L1902.1 1626.8L1901.9 1628.4L1901.7 1630L1901.4 1631.6L1901.2 1633.1L1900.8 1634.7L1900.5 1636.3L1900.1 1637.9L1899.6 1639.5L1899.1 1641L1898.6 1642.6L1898 1644.2L1897.4 1645.8L1896.8 1647.4L1896 1648.9L1895.2 1650.5L1894.5 1652.1Z" fill="#5fd0cb" stroke="#8c8c8c" stroke-width="0.9"/>
<line x1="1890.5" y1="1571.8" x2="1898.1" y2="1571.8" stroke="#222" stroke-width="1.8"/>
<line x1="1894.3" y1="1669.5" x2="1894.3" y2="1676" stroke="#1a1a1a" stroke-width="2.6"/>
<text x="1905.1" y="1680.2" font-size="25.2" text-anchor="end" transform="rotate(-90 1905.1 1680.2)">5A</text>
<path d="M1913.8 1652.1L1913.1 1650.5L1912.4 1648.9L1911.7 1647.4L1911 1645.8L1910.4 1644.2L1909.9 1642.6L1909.4 1641L1908.9 1639.5L1908.5 1637.9L1908.1 1636.3L1907.7 1634.7L1907.4 1633.1L1907.1 1631.6L1906.8 1630L1906.6 1628.4L1906.4 1626.8L1906.2 1625.2L1906.1 1623.6L1906.1 1622.1L1906 1620.5L1906.1 1618.9L1906.3 1617.3L1906.5 1615.7L1906.7 1614.2L1907 1612.6L1907.4 1611L1907.7 1609.4L1908.1 1607.8L1908.4 1606.3L1908.8 1604.7L1909.2 1603.1L1909.5 1601.5L1909.9 1599.9L1910.2 1598.3L1910.5 1596.8L1910.8 1595.2L1911.1 1593.6L1911.3 1592L1911.6 1590.4L1911.7 1588.9L1911.7 1587.3L1911.7 1585.7L1911.8 1584.1L1911.8 1582.5L1911.8 1581L1911.8 1579.4L1911.9 1577.8L1911.9 1576.2L1911.9 1574.6L1911.9 1573L1911.9 1571.5L1912 1569.9L1912 1568.3L1912 1566.7L1912 1565.1L1912.1 1563.6L1912.1 1562L1912.1 1560.4L1912.1 1558.8L1912.2 1557.2L1912.2 1555.7L1912.2 1554.1L1912.2 1552.5L1912.3 1550.9L1912.3 1549.3L1912.3 1547.7L1912.3 1546.2L1912.4 1544.6L1912.4 1543L1912.4 1541.4L1912.4 1539.8L1912.4 1538.3L1912.5 1536.7L1912.5 1535.1L1912.5 1533.5L1912.5 1531.9L1912.6 1530.4L1912.6 1528.8L1912.6 1527.2L1912.6 1525.6L1912.6 1524L1912.7 1522.4L1912.7 1520.9L1912.7 1519.3L1912.7 1517.7L1912.8 1516.1L1912.8 1514.5L1912.8 1513L1912.8 1511.4L1912.8 1509.8L1912.9 1508.2L1912.9 1506.6L1912.9 1505.1L1912.9 1503.5L1913 1501.9L1913 1500.3L1913 1498.7L1913 1497.1L1913 1495.6L1913.1 1494L1913.1 1492.4L1913.1 1490.8L1913.1 1489.2L1913.1 1487.7L1913.2 1486.1L1913.2 1484.5L1913.2 1482.9L1913.2 1481.3L1913.2 1479.8L1913.3 1478.2L1913.3 1476.6L1913.3 1475L1913.3 1473.4L1913.3 1471.8L1913.4 1470.3L1913.4 1468.7L1913.4 1467.1L1913.4 1465.5L1913.4 1463.9L1913.5 1462.4L1913.5 1460.8L1913.5 1459.2L1913.5 1457.6L1913.5 1456L1913.5 1454.5L1913.6 1452.9L1913.6 1451.3L1913.6 1449.7L1913.6 1448.1L1913.6 1446.5L1913.7 1445L1913.7 1443.4L1913.7 1441.8L1913.7 1440.2L1913.7 1438.6L1913.7 1437.1L1913.7 1435.5L1913.7 1433.9L1913.7 1432.3L1913.7 1430.7L1913.7 1429.2L1913.7 1427.6L1913.7 1426L1913.7 1424.4L1913.7 1422.8L1913.7 1421.2L1913.7 1419.7L1913.7 1418.1L1913.7 1416.5L1913.7 1414.9L1913.7 1413.3L1913.7 1411.8L1913.7 1410.2L1913.7 1408.6L1913.7 1407L1913.7 1405.4L1913.7 1403.9L1913.7 1402.3L1913.7 1400.7L1914.3 1400.7L1914.4 1402.3L1914.4 1403.9L1914.4 1405.4L1914.4 1407L1914.4 1408.6L1914.4 1410.2L1914.4 1411.8L1914.4 1413.3L1914.4 1414.9L1914.4 1416.5L1914.4 1418.1L1914.4 1419.7L1914.4 1421.2L1914.4 1422.8L1914.4 1424.4L1914.4 1426L1914.4 1427.6L1914.4 1429.2L1914.4 1430.7L1914.4 1432.3L1914.4 1433.9L1914.4 1435.5L1914.4 1437.1L1914.4 1438.6L1914.4 1440.2L1914.4 1441.8L1914.4 1443.4L1914.4 1445L1914.4 1446.5L1914.5 1448.1L1914.5 1449.7L1914.5 1451.3L1914.5 1452.9L1914.5 1454.5L1914.6 1456L1914.6 1457.6L1914.6 1459.2L1914.6 1460.8L1914.6 1462.4L1914.6 1463.9L1914.7 1465.5L1914.7 1467.1L1914.7 1468.7L1914.7 1470.3L1914.7 1471.8L1914.8 1473.4L1914.8 1475L1914.8 1476.6L1914.8 1478.2L1914.8 1479.8L1914.9 1481.3L1914.9 1482.9L1914.9 1484.5L1914.9 1486.1L1914.9 1487.7L1915 1489.2L1915 1490.8L1915 1492.4L1915 1494L1915 1495.6L1915.1 1497.1L1915.1 1498.7L1915.1 1500.3L1915.1 1501.9L1915.1 1503.5L1915.2 1505.1L1915.2 1506.6L1915.2 1508.2L1915.2 1509.8L1915.3 1511.4L1915.3 1513L1915.3 1514.5L1915.3 1516.1L1915.3 1517.7L1915.4 1519.3L1915.4 1520.9L1915.4 1522.4L1915.4 1524L1915.5 1525.6L1915.5 1527.2L1915.5 1528.8L1915.5 1530.4L1915.5 1531.9L1915.6 1533.5L1915.6 1535.1L1915.6 1536.7L1915.6 1538.3L1915.7 1539.8L1915.7 1541.4L1915.7 1543L1915.7 1544.6L1915.8 1546.2L1915.8 1547.7L1915.8 1549.3L1915.8 1550.9L1915.8 1552.5L1915.9 1554.1L1915.9 1555.7L1915.9 1557.2L1915.9 1558.8L1916 1560.4L1916 1562L1916 1563.6L1916 1565.1L1916.1 1566.7L1916.1 1568.3L1916.1 1569.9L1916.1 1571.5L1916.2 1573L1916.2 1574.6L1916.2 1576.2L1916.2 1577.8L1916.3 1579.4L1916.3 1581L1916.3 1582.5L1916.3 1584.1L1916.4 1585.7L1916.4 1587.3L1916.4 1588.9L1916.5 1590.4L1916.8 1592L1917 1593.6L1917.3 1595.2L1917.6 1596.8L1917.9 1598.3L1918.2 1599.9L1918.6 1601.5L1918.9 1603.1L1919.3 1604.7L1919.6 1606.3L1920 1607.8L1920.4 1609.4L1920.7 1611L1921 1612.6L1921.3 1614.2L1921.6 1615.7L1921.8 1617.3L1922 1618.9L1922 1620.5L1922 1622.1L1922 1623.6L1921.9 1625.2L1921.7 1626.8L1921.5 1628.4L1921.3 1630L1921 1631.6L1920.7 1633.1L1920.4 1634.7L1920 1636.3L1919.6 1637.9L1919.2 1639.5L1918.7 1641L1918.2 1642.6L1917.6 1644.2L1917.1 1645.8L1916.4 1647.4L1915.7 1648.9L1915 1650.5L1914.2 1652.1Z" fill="#5fd0cb" stroke="#8c8c8c" stroke-width="0.9"/>
<line x1="1910.2" y1="1592" x2="1917.8" y2="1592" stroke="#222" stroke-width="1.8"/>
<line x1="1914" y1="1669.5" x2="1914" y2="1676" stroke="#1a1a1a" stroke-width="2.6"/>
<text x="1925.2" y="1680.2" font-size="25.2" text-anchor="end" transform="rotate(-90 1925.2 1680.2)">5B</text>
<path d="M1933.6 1652.1L1932.9 1650.5L1932.2 1649L1931.5 1647.4L1930.9 1645.8L1930.3 1644.2L1929.8 1642.7L1929.3 1641.1L1928.8 1639.5L1928.4 1637.9L1928 1636.4L1927.6 1634.8L1927.3 1633.2L1927 1631.7L1926.7 1630.1L1926.5 1628.5L1926.3 1626.9L1926.1 1625.4L1926 1623.8L1925.9 1622.2L1925.8 1620.6L1925.8 1619.1L1925.9 1617.5L1926 1615.9L1926.1 1614.3L1926.3 1612.8L1926.5 1611.2L1926.7 1609.6L1927 1608L1927.2 1606.5L1927.5 1604.9L1927.8 1603.3L1928.1 1601.8L1928.4 1600.2L1928.6 1598.6L1928.9 1597L1929.2 1595.5L1929.5 1593.9L1929.7 1592.3L1930 1590.7L1930.2 1589.2L1930.4 1587.6L1930.5 1586L1930.5 1584.4L1930.6 1582.9L1930.6 1581.3L1930.6 1579.7L1930.7 1578.1L1930.7 1576.6L1930.7 1575L1930.8 1573.4L1930.8 1571.9L1930.8 1570.3L1930.9 1568.7L1930.9 1567.1L1930.9 1565.6L1931 1564L1931 1562.4L1931 1560.8L1931.1 1559.3L1931.1 1557.7L1931.1 1556.1L1931.2 1554.5L1931.2 1553L1931.3 1551.4L1931.3 1549.8L1931.3 1548.3L1931.4 1546.7L1931.4 1545.1L1931.4 1543.5L1931.5 1542L1931.5 1540.4L1931.5 1538.8L1931.5 1537.2L1931.6 1535.7L1931.6 1534.1L1931.6 1532.5L1931.7 1530.9L1931.7 1529.4L1931.7 1527.8L1931.8 1526.2L1931.8 1524.6L1931.8 1523.1L1931.9 1521.5L1931.9 1519.9L1931.9 1518.4L1932 1516.8L1932 1515.2L1932 1513.6L1932.1 1512.1L1932.1 1510.5L1932.1 1508.9L1932.2 1507.3L1932.2 1505.8L1932.2 1504.2L1932.2 1502.6L1932.3 1501L1932.3 1499.5L1932.3 1497.9L1932.4 1496.3L1932.4 1494.7L1932.4 1493.2L1932.5 1491.6L1932.5 1490L1932.5 1488.5L1932.5 1486.9L1932.6 1485.3L1932.6 1483.7L1932.6 1482.2L1932.7 1480.6L1932.7 1479L1932.7 1477.4L1932.7 1475.9L1932.8 1474.3L1932.8 1472.7L1932.8 1471.1L1932.9 1469.6L1932.9 1468L1932.9 1466.4L1932.9 1464.9L1933 1463.3L1933 1461.7L1933 1460.1L1933 1458.6L1933.1 1457L1933.1 1455.4L1933.1 1453.8L1933.1 1452.3L1933.2 1450.7L1933.2 1449.1L1933.2 1447.5L1933.2 1446L1933.3 1444.4L1933.3 1442.8L1933.3 1441.2L1933.3 1439.7L1933.4 1438.1L1933.4 1436.5L1933.4 1435L1933.4 1433.4L1933.5 1431.8L1933.5 1430.2L1933.5 1428.7L1933.5 1427.1L1933.5 1425.5L1933.5 1423.9L1933.5 1422.4L1933.5 1420.8L1933.5 1419.2L1933.5 1417.6L1933.5 1416.1L1933.5 1414.5L1933.5 1412.9L1933.5 1411.3L1933.5 1409.8L1933.5 1408.2L1933.5 1406.6L1933.5 1405.1L1933.5 1403.5L1933.5 1401.9L1934.1 1401.9L1934.1 1403.5L1934.1 1405.1L1934.1 1406.6L1934.1 1408.2L1934.1 1409.8L1934.1 1411.3L1934.1 1412.9L1934.1 1414.5L1934.1 1416.1L1934.1 1417.6L1934.1 1419.2L1934.1 1420.8L1934.1 1422.4L1934.1 1423.9L1934.1 1425.5L1934.1 1427.1L1934.1 1428.7L1934.1 1430.2L1934.1 1431.8L1934.2 1433.4L1934.2 1435L1934.2 1436.5L1934.2 1438.1L1934.3 1439.7L1934.3 1441.2L1934.3 1442.8L1934.3 1444.4L1934.4 1446L1934.4 1447.5L1934.4 1449.1L1934.4 1450.7L1934.5 1452.3L1934.5 1453.8L1934.5 1455.4L1934.5 1457L1934.6 1458.6L1934.6 1460.1L1934.6 1461.7L1934.6 1463.3L1934.7 1464.9L1934.7 1466.4L1934.7 1468L1934.7 1469.6L1934.8 1471.1L1934.8 1472.7L1934.8 1474.3L1934.9 1475.9L1934.9 1477.4L1934.9 1479L1934.9 1480.6L1935 1482.2L1935 1483.7L1935 1485.3L1935.1 1486.9L1935.1 1488.5L1935.1 1490L1935.1 1491.6L1935.2 1493.2L1935.2 1494.7L1935.2 1496.3L1935.3 1497.9L1935.3 1499.5L1935.3 1501L1935.4 1502.6L1935.4 1504.2L1935.4 1505.8L1935.4 1507.3L1935.5 1508.9L1935.5 1510.5L1935.5 1512.1L1935.6 1513.6L1935.6 1515.2L1935.6 1516.8L1935.7 1518.4L1935.7 1519.9L1935.7 1521.5L1935.8 1523.1L1935.8 1524.6L1935.8 1526.2L1935.9 1527.8L1935.9 1529.4L1935.9 1530.9L1936 1532.5L1936 1534.1L1936 1535.7L1936.1 1537.2L1936.1 1538.8L1936.1 1540.4L1936.1 1542L1936.2 1543.5L1936.2 1545.1L1936.2 1546.7L1936.3 1548.3L1936.3 1549.8L1936.3 1551.4L1936.4 1553L1936.4 1554.5L1936.5 1556.1L1936.5 1557.7L1936.5 1559.3L1936.6 1560.8L1936.6 1562.4L1936.6 1564L1936.7 1565.6L1936.7 1567.1L1936.7 1568.7L1936.8 1570.3L1936.8 1571.9L1936.8 1573.4L1936.9 1575L1936.9 1576.6L1936.9 1578.1L1937 1579.7L1937 1581.3L1937 1582.9L1937.1 1584.4L1937.1 1586L1937.2 1587.6L1937.4 1589.2L1937.6 1590.7L1937.9 1592.3L1938.1 1593.9L1938.4 1595.5L1938.7 1597L1939 1598.6L1939.2 1600.2L1939.5 1601.8L1939.8 1603.3L1940.1 1604.9L1940.4 1606.5L1940.6 1608L1940.9 1609.6L1941.1 1611.2L1941.3 1612.8L1941.5 1614.3L1941.6 1615.9L1941.7 1617.5L1941.8 1619.1L1941.8 1620.6L1941.7 1622.2L1941.6 1623.8L1941.5 1625.4L1941.3 1626.9L1941.1 1628.5L1940.9 1630.1L1940.6 1631.7L1940.3 1633.2L1940 1634.8L1939.6 1636.4L1939.2 1637.9L1938.8 1639.5L1938.3 1641.1L1937.8 1642.7L1937.3 1644.2L1936.7 1645.8L1936.1 1647.4L1935.4 1649L1934.7 1650.5L1934 1652.1Z" fill="#5fd0cb" stroke="#8c8c8c" stroke-width="0.9"/>
<line x1="1930" y1="1573.8" x2="1937.6" y2="1573.8" stroke="#222" stroke-width="1.8"/>
<line x1="1933.8" y1="1669.5" x2="1933.8" y2="1676" stroke="#1a1a1a" stroke-width="2.6"/>
<text x="1945.2" y="1680.2" font-size="25.2" text-anchor="end" transform="rotate(-90 1945.2 1680.2)">5C</text>
<path d="M1953.4 1652.1L1952.6 1650.5L1951.8 1648.9L1951.1 1647.4L1950.4 1645.8L1949.8 1644.2L1949.2 1642.6L1948.7 1641L1948.2 1639.5L1947.8 1637.9L1947.4 1636.3L1947 1634.7L1946.7 1633.1L1946.4 1631.6L1946.1 1630L1945.9 1628.4L1945.8 1626.8L1945.6 1625.2L1945.6 1623.6L1945.6 1622.1L1945.6 1620.5L1945.8 1618.9L1946 1617.3L1946.3 1615.7L1946.6 1614.2L1946.9 1612.6L1947.3 1611L1947.6 1609.4L1948 1607.8L1948.4 1606.3L1948.8 1604.7L1949.1 1603.1L1949.5 1601.5L1949.8 1599.9L1950.1 1598.3L1950.4 1596.8L1950.7 1595.2L1950.9 1593.6L1951.1 1592L1951.1 1590.4L1951.2 1588.9L1951.2 1587.3L1951.2 1585.7L1951.2 1584.1L1951.3 1582.5L1951.3 1581L1951.3 1579.4L1951.3 1577.8L1951.4 1576.2L1951.4 1574.6L1951.4 1573L1951.4 1571.5L1951.5 1569.9L1951.5 1568.3L1951.5 1566.7L1951.5 1565.1L1951.6 1563.6L1951.6 1562L1951.6 1560.4L1951.6 1558.8L1951.6 1557.2L1951.7 1555.7L1951.7 1554.1L1951.7 1552.5L1951.7 1550.9L1951.8 1549.3L1951.8 1547.7L1951.8 1546.2L1951.8 1544.6L1951.9 1543L1951.9 1541.4L1951.9 1539.8L1951.9 1538.3L1952 1536.7L1952 1535.1L1952 1533.5L1952 1531.9L1952 1530.4L1952.1 1528.8L1952.1 1527.2L1952.1 1525.6L1952.1 1524L1952.2 1522.4L1952.2 1520.9L1952.2 1519.3L1952.2 1517.7L1952.3 1516.1L1952.3 1514.5L1952.3 1513L1952.3 1511.4L1952.3 1509.8L1952.4 1508.2L1952.4 1506.6L1952.4 1505.1L1952.4 1503.5L1952.5 1501.9L1952.5 1500.3L1952.5 1498.7L1952.5 1497.1L1952.5 1495.6L1952.6 1494L1952.6 1492.4L1952.6 1490.8L1952.6 1489.2L1952.6 1487.7L1952.7 1486.1L1952.7 1484.5L1952.7 1482.9L1952.7 1481.3L1952.7 1479.8L1952.8 1478.2L1952.8 1476.6L1952.8 1475L1952.8 1473.4L1952.8 1471.8L1952.9 1470.3L1952.9 1468.7L1952.9 1467.1L1952.9 1465.5L1952.9 1463.9L1953 1462.4L1953 1460.8L1953 1459.2L1953 1457.6L1953 1456L1953.1 1454.5L1953.1 1452.9L1953.1 1451.3L1953.1 1449.7L1953.1 1448.1L1953.1 1446.5L1953.2 1445L1953.2 1443.4L1953.2 1441.8L1953.2 1440.2L1953.2 1438.6L1953.2 1437.1L1953.2 1435.5L1953.2 1433.9L1953.2 1432.3L1953.2 1430.7L1953.2 1429.2L1953.2 1427.6L1953.2 1426L1953.2 1424.4L1953.2 1422.8L1953.2 1421.2L1953.2 1419.7L1953.2 1418.1L1953.2 1416.5L1953.2 1414.9L1953.2 1413.3L1953.2 1411.8L1953.2 1410.2L1953.2 1408.6L1953.2 1407L1953.2 1405.4L1953.2 1403.9L1953.2 1402.3L1953.3 1400.7L1953.9 1400.7L1953.9 1402.3L1953.9 1403.9L1953.9 1405.4L1953.9 1407L1953.9 1408.6L1953.9 1410.2L1953.9 1411.8L1953.9 1413.3L1953.9 1414.9L1953.9 1416.5L1953.9 1418.1L1953.9 1419.7L1953.9 1421.2L1953.9 1422.8L1953.9 1424.4L1953.9 1426L1953.9 1427.6L1953.9 1429.2L1953.9 1430.7L1953.9 1432.3L1953.9 1433.9L1953.9 1435.5L1953.9 1437.1L1953.9 1438.6L1953.9 1440.2L1953.9 1441.8L1953.9 1443.4L1954 1445L1954 1446.5L1954 1448.1L1954 1449.7L1954 1451.3L1954 1452.9L1954.1 1454.5L1954.1 1456L1954.1 1457.6L1954.1 1459.2L1954.1 1460.8L1954.2 1462.4L1954.2 1463.9L1954.2 1465.5L1954.2 1467.1L1954.2 1468.7L1954.3 1470.3L1954.3 1471.8L1954.3 1473.4L1954.3 1475L1954.3 1476.6L1954.4 1478.2L1954.4 1479.8L1954.4 1481.3L1954.4 1482.9L1954.4 1484.5L1954.5 1486.1L1954.5 1487.7L1954.5 1489.2L1954.5 1490.8L1954.5 1492.4L1954.6 1494L1954.6 1495.6L1954.6 1497.1L1954.6 1498.7L1954.6 1500.3L1954.7 1501.9L1954.7 1503.5L1954.7 1505.1L1954.7 1506.6L1954.8 1508.2L1954.8 1509.8L1954.8 1511.4L1954.8 1513L1954.8 1514.5L1954.9 1516.1L1954.9 1517.7L1954.9 1519.3L1954.9 1520.9L1955 1522.4L1955 1524L1955 1525.6L1955 1527.2L1955 1528.8L1955.1 1530.4L1955.1 1531.9L1955.1 1533.5L1955.1 1535.1L1955.2 1536.7L1955.2 1538.3L1955.2 1539.8L1955.2 1541.4L1955.3 1543L1955.3 1544.6L1955.3 1546.2L1955.3 1547.7L1955.4 1549.3L1955.4 1550.9L1955.4 1552.5L1955.4 1554.1L1955.4 1555.7L1955.5 1557.2L1955.5 1558.8L1955.5 1560.4L1955.5 1562L1955.6 1563.6L1955.6 1565.1L1955.6 1566.7L1955.6 1568.3L1955.7 1569.9L1955.7 1571.5L1955.7 1573L1955.7 1574.6L1955.8 1576.2L1955.8 1577.8L1955.8 1579.4L1955.8 1581L1955.9 1582.5L1955.9 1584.1L1955.9 1585.7L1955.9 1587.3L1956 1588.9L1956 1590.4L1956 1592L1956.2 1593.6L1956.4 1595.2L1956.7 1596.8L1957 1598.3L1957.3 1599.9L1957.7 1601.5L1958 1603.1L1958.4 1604.7L1958.7 1606.3L1959.1 1607.8L1959.5 1609.4L1959.8 1611L1960.2 1612.6L1960.5 1614.2L1960.8 1615.7L1961.1 1617.3L1961.3 1618.9L1961.5 1620.5L1961.6 1622.1L1961.5 1623.6L1961.5 1625.2L1961.4 1626.8L1961.2 1628.4L1961 1630L1960.7 1631.6L1960.4 1633.1L1960.1 1634.7L1959.7 1636.3L1959.3 1637.9L1958.9 1639.5L1958.4 1641L1957.9 1642.6L1957.3 1644.2L1956.7 1645.8L1956 1647.4L1955.3 1648.9L1954.5 1650.5L1953.8 1652.1Z" fill="#4480bc" stroke="#8c8c8c" stroke-width="0.9"/>
<line x1="1949.8" y1="1590.8" x2="1957.4" y2="1590.8" stroke="#222" stroke-width="1.8"/>
<line x1="1953.6" y1="1669.5" x2="1953.6" y2="1676" stroke="#1a1a1a" stroke-width="2.6"/>
<text x="1965.2" y="1680.2" font-size="25.2" text-anchor="end" transform="rotate(-90 1965.2 1680.2)">6A</text>
<path d="M1973.1 1654.1L1972.4 1652.5L1971.7 1650.9L1971 1649.3L1970.4 1647.7L1969.8 1646.1L1969.3 1644.5L1968.8 1642.9L1968.3 1641.3L1967.9 1639.7L1967.5 1638.1L1967.1 1636.5L1966.8 1634.9L1966.5 1633.2L1966.2 1631.6L1966 1630L1965.8 1628.4L1965.6 1626.8L1965.5 1625.2L1965.4 1623.6L1965.3 1622L1965.3 1620.4L1965.4 1618.8L1965.5 1617.2L1965.7 1615.6L1966 1614L1966.3 1612.4L1966.6 1610.8L1966.9 1609.1L1967.2 1607.5L1967.6 1605.9L1967.9 1604.3L1968.3 1602.7L1968.6 1601.1L1968.9 1599.5L1969.2 1597.9L1969.5 1596.3L1969.8 1594.7L1970.1 1593.1L1970.4 1591.5L1970.6 1589.9L1970.6 1588.3L1970.7 1586.7L1970.7 1585L1970.7 1583.4L1970.7 1581.8L1970.8 1580.2L1970.8 1578.6L1970.8 1577L1970.9 1575.4L1970.9 1573.8L1970.9 1572.2L1970.9 1570.6L1971 1569L1971 1567.4L1971 1565.8L1971.1 1564.2L1971.1 1562.6L1971.1 1560.9L1971.1 1559.3L1971.2 1557.7L1971.2 1556.1L1971.2 1554.5L1971.2 1552.9L1971.3 1551.3L1971.3 1549.7L1971.3 1548.1L1971.4 1546.5L1971.4 1544.9L1971.4 1543.3L1971.4 1541.7L1971.5 1540.1L1971.5 1538.4L1971.5 1536.8L1971.5 1535.2L1971.6 1533.6L1971.6 1532L1971.6 1530.4L1971.6 1528.8L1971.7 1527.2L1971.7 1525.6L1971.7 1524L1971.7 1522.4L1971.8 1520.8L1971.8 1519.2L1971.8 1517.6L1971.8 1516L1971.9 1514.3L1971.9 1512.7L1971.9 1511.1L1971.9 1509.5L1972 1507.9L1972 1506.3L1972 1504.7L1972 1503.1L1972.1 1501.5L1972.1 1499.9L1972.1 1498.3L1972.1 1496.7L1972.2 1495.1L1972.2 1493.5L1972.2 1491.9L1972.2 1490.2L1972.3 1488.6L1972.3 1487L1972.3 1485.4L1972.3 1483.8L1972.4 1482.2L1972.4 1480.6L1972.4 1479L1972.4 1477.4L1972.4 1475.8L1972.5 1474.2L1972.5 1472.6L1972.5 1471L1972.5 1469.4L1972.6 1467.8L1972.6 1466.1L1972.6 1464.5L1972.6 1462.9L1972.6 1461.3L1972.7 1459.7L1972.7 1458.1L1972.7 1456.5L1972.7 1454.9L1972.8 1453.3L1972.8 1451.7L1972.8 1450.1L1972.8 1448.5L1972.8 1446.9L1972.9 1445.3L1972.9 1443.7L1972.9 1442L1972.9 1440.4L1972.9 1438.8L1973 1437.2L1973 1435.6L1973 1434L1973 1432.4L1973 1430.8L1973 1429.2L1973 1427.6L1973 1426L1973 1424.4L1973 1422.8L1973 1421.2L1973 1419.5L1973 1417.9L1973 1416.3L1973 1414.7L1973 1413.1L1973 1411.5L1973 1409.9L1973 1408.3L1973 1406.7L1973 1405.1L1973 1403.5L1973 1401.9L1973 1400.3L1973 1398.7L1973.6 1398.7L1973.7 1400.3L1973.7 1401.9L1973.7 1403.5L1973.7 1405.1L1973.7 1406.7L1973.7 1408.3L1973.7 1409.9L1973.7 1411.5L1973.7 1413.1L1973.7 1414.7L1973.7 1416.3L1973.7 1417.9L1973.7 1419.5L1973.7 1421.2L1973.7 1422.8L1973.7 1424.4L1973.7 1426L1973.7 1427.6L1973.7 1429.2L1973.7 1430.8L1973.7 1432.4L1973.7 1434L1973.7 1435.6L1973.7 1437.2L1973.7 1438.8L1973.7 1440.4L1973.7 1442L1973.8 1443.7L1973.8 1445.3L1973.8 1446.9L1973.8 1448.5L1973.8 1450.1L1973.9 1451.7L1973.9 1453.3L1973.9 1454.9L1973.9 1456.5L1973.9 1458.1L1974 1459.7L1974 1461.3L1974 1462.9L1974 1464.5L1974.1 1466.1L1974.1 1467.8L1974.1 1469.4L1974.1 1471L1974.1 1472.6L1974.2 1474.2L1974.2 1475.8L1974.2 1477.4L1974.2 1479L1974.3 1480.6L1974.3 1482.2L1974.3 1483.8L1974.3 1485.4L1974.4 1487L1974.4 1488.6L1974.4 1490.2L1974.4 1491.9L1974.4 1493.5L1974.5 1495.1L1974.5 1496.7L1974.5 1498.3L1974.5 1499.9L1974.6 1501.5L1974.6 1503.1L1974.6 1504.7L1974.6 1506.3L1974.7 1507.9L1974.7 1509.5L1974.7 1511.1L1974.7 1512.7L1974.8 1514.3L1974.8 1516L1974.8 1517.6L1974.8 1519.2L1974.9 1520.8L1974.9 1522.4L1974.9 1524L1974.9 1525.6L1975 1527.2L1975 1528.8L1975 1530.4L1975 1532L1975.1 1533.6L1975.1 1535.2L1975.1 1536.8L1975.2 1538.4L1975.2 1540.1L1975.2 1541.7L1975.2 1543.3L1975.3 1544.9L1975.3 1546.5L1975.3 1548.1L1975.3 1549.7L1975.4 1551.3L1975.4 1552.9L1975.4 1554.5L1975.4 1556.1L1975.5 1557.7L1975.5 1559.3L1975.5 1560.9L1975.6 1562.6L1975.6 1564.2L1975.6 1565.8L1975.6 1567.4L1975.7 1569L1975.7 1570.6L1975.7 1572.2L1975.8 1573.8L1975.8 1575.4L1975.8 1577L1975.8 1578.6L1975.9 1580.2L1975.9 1581.8L1975.9 1583.4L1975.9 1585L1976 1586.7L1976 1588.3L1976 1589.9L1976.3 1591.5L1976.5 1593.1L1976.8 1594.7L1977.1 1596.3L1977.4 1597.9L1977.7 1599.5L1978 1601.1L1978.4 1602.7L1978.7 1604.3L1979.1 1605.9L1979.4 1607.5L1979.7 1609.1L1980.1 1610.8L1980.4 1612.4L1980.7 1614L1980.9 1615.6L1981.1 1617.2L1981.2 1618.8L1981.3 1620.4L1981.3 1622L1981.3 1623.6L1981.2 1625.2L1981 1626.8L1980.8 1628.4L1980.6 1630L1980.4 1631.6L1980.1 1633.2L1979.8 1634.9L1979.5 1636.5L1979.1 1638.1L1978.7 1639.7L1978.3 1641.3L1977.8 1642.9L1977.3 1644.5L1976.8 1646.1L1976.2 1647.7L1975.6 1649.3L1974.9 1650.9L1974.2 1652.5L1973.5 1654.1Z" fill="#4480bc" stroke="#8c8c8c" stroke-width="0.9"/>
<line x1="1969.5" y1="1585.9" x2="1977.1" y2="1585.9" stroke="#222" stroke-width="1.8"/>
<line x1="1973.3" y1="1669.5" x2="1973.3" y2="1676" stroke="#1a1a1a" stroke-width="2.6"/>
<text x="1985.3" y="1680.2" font-size="25.2" text-anchor="end" transform="rotate(-90 1985.3 1680.2)">6B</text>
<path d="M1992.9 1652.1L1992.2 1650.5L1991.5 1648.9L1990.8 1647.3L1990.2 1645.8L1989.6 1644.2L1989.1 1642.6L1988.6 1641L1988.1 1639.4L1987.7 1637.8L1987.3 1636.2L1986.9 1634.7L1986.6 1633.1L1986.3 1631.5L1986 1629.9L1985.7 1628.3L1985.5 1626.7L1985.4 1625.1L1985.2 1623.6L1985.1 1622L1985.1 1620.4L1985.1 1618.8L1985.1 1617.2L1985.3 1615.6L1985.4 1614L1985.6 1612.4L1985.8 1610.9L1986 1609.3L1986.3 1607.7L1986.6 1606.1L1986.8 1604.5L1987.1 1602.9L1987.4 1601.3L1987.7 1599.8L1988 1598.2L1988.3 1596.6L1988.5 1595L1988.8 1593.4L1989 1591.8L1989.3 1590.2L1989.5 1588.7L1989.7 1587.1L1989.7 1585.5L1989.8 1583.9L1989.8 1582.3L1989.8 1580.7L1989.9 1579.1L1989.9 1577.6L1989.9 1576L1990 1574.4L1990 1572.8L1990.1 1571.2L1990.1 1569.6L1990.1 1568L1990.2 1566.4L1990.2 1564.9L1990.2 1563.3L1990.3 1561.7L1990.3 1560.1L1990.3 1558.5L1990.4 1556.9L1990.4 1555.3L1990.4 1553.8L1990.5 1552.2L1990.5 1550.6L1990.5 1549L1990.6 1547.4L1990.6 1545.8L1990.6 1544.2L1990.7 1542.7L1990.7 1541.1L1990.7 1539.5L1990.8 1537.9L1990.8 1536.3L1990.8 1534.7L1990.9 1533.1L1990.9 1531.5L1990.9 1530L1991 1528.4L1991 1526.8L1991 1525.2L1991.1 1523.6L1991.1 1522L1991.1 1520.4L1991.2 1518.9L1991.2 1517.3L1991.2 1515.7L1991.3 1514.1L1991.3 1512.5L1991.3 1510.9L1991.4 1509.3L1991.4 1507.8L1991.4 1506.2L1991.4 1504.6L1991.5 1503L1991.5 1501.4L1991.5 1499.8L1991.6 1498.2L1991.6 1496.6L1991.6 1495.1L1991.7 1493.5L1991.7 1491.9L1991.7 1490.3L1991.7 1488.7L1991.8 1487.1L1991.8 1485.5L1991.8 1484L1991.9 1482.4L1991.9 1480.8L1991.9 1479.2L1992 1477.6L1992 1476L1992 1474.4L1992 1472.9L1992.1 1471.3L1992.1 1469.7L1992.1 1468.1L1992.2 1466.5L1992.2 1464.9L1992.2 1463.3L1992.2 1461.7L1992.3 1460.2L1992.3 1458.6L1992.3 1457L1992.3 1455.4L1992.4 1453.8L1992.4 1452.2L1992.4 1450.6L1992.4 1449.1L1992.5 1447.5L1992.5 1445.9L1992.5 1444.3L1992.5 1442.7L1992.6 1441.1L1992.6 1439.5L1992.6 1438L1992.6 1436.4L1992.7 1434.8L1992.7 1433.2L1992.7 1431.6L1992.7 1430L1992.7 1428.4L1992.7 1426.8L1992.7 1425.3L1992.7 1423.7L1992.7 1422.1L1992.7 1420.5L1992.7 1418.9L1992.7 1417.3L1992.7 1415.7L1992.7 1414.2L1992.7 1412.6L1992.7 1411L1992.7 1409.4L1992.7 1407.8L1992.7 1406.2L1992.7 1404.6L1992.7 1403.1L1992.7 1401.5L1992.8 1399.9L1993.4 1399.9L1993.4 1401.5L1993.4 1403.1L1993.4 1404.6L1993.4 1406.2L1993.4 1407.8L1993.4 1409.4L1993.4 1411L1993.4 1412.6L1993.4 1414.2L1993.4 1415.7L1993.4 1417.3L1993.4 1418.9L1993.4 1420.5L1993.4 1422.1L1993.4 1423.7L1993.4 1425.3L1993.4 1426.8L1993.4 1428.4L1993.4 1430L1993.4 1431.6L1993.5 1433.2L1993.5 1434.8L1993.5 1436.4L1993.5 1438L1993.6 1439.5L1993.6 1441.1L1993.6 1442.7L1993.6 1444.3L1993.7 1445.9L1993.7 1447.5L1993.7 1449.1L1993.7 1450.6L1993.8 1452.2L1993.8 1453.8L1993.8 1455.4L1993.8 1457L1993.9 1458.6L1993.9 1460.2L1993.9 1461.7L1994 1463.3L1994 1464.9L1994 1466.5L1994 1468.1L1994.1 1469.7L1994.1 1471.3L1994.1 1472.9L1994.1 1474.4L1994.2 1476L1994.2 1477.6L1994.2 1479.2L1994.3 1480.8L1994.3 1482.4L1994.3 1484L1994.4 1485.5L1994.4 1487.1L1994.4 1488.7L1994.4 1490.3L1994.5 1491.9L1994.5 1493.5L1994.5 1495.1L1994.6 1496.6L1994.6 1498.2L1994.6 1499.8L1994.7 1501.4L1994.7 1503L1994.7 1504.6L1994.7 1506.2L1994.8 1507.8L1994.8 1509.3L1994.8 1510.9L1994.9 1512.5L1994.9 1514.1L1994.9 1515.7L1995 1517.3L1995 1518.9L1995 1520.4L1995.1 1522L1995.1 1523.6L1995.1 1525.2L1995.2 1526.8L1995.2 1528.4L1995.2 1530L1995.3 1531.5L1995.3 1533.1L1995.3 1534.7L1995.4 1536.3L1995.4 1537.9L1995.4 1539.5L1995.5 1541.1L1995.5 1542.7L1995.5 1544.2L1995.6 1545.8L1995.6 1547.4L1995.6 1549L1995.7 1550.6L1995.7 1552.2L1995.7 1553.8L1995.8 1555.3L1995.8 1556.9L1995.8 1558.5L1995.9 1560.1L1995.9 1561.7L1995.9 1563.3L1996 1564.9L1996 1566.4L1996 1568L1996.1 1569.6L1996.1 1571.2L1996.1 1572.8L1996.2 1574.4L1996.2 1576L1996.2 1577.6L1996.3 1579.1L1996.3 1580.7L1996.4 1582.3L1996.4 1583.9L1996.4 1585.5L1996.5 1587.1L1996.6 1588.7L1996.9 1590.2L1997.1 1591.8L1997.4 1593.4L1997.6 1595L1997.9 1596.6L1998.2 1598.2L1998.5 1599.8L1998.8 1601.3L1999 1602.9L1999.3 1604.5L1999.6 1606.1L1999.9 1607.7L2000.1 1609.3L2000.4 1610.9L2000.6 1612.4L2000.8 1614L2000.9 1615.6L2001 1617.2L2001.1 1618.8L2001.1 1620.4L2001 1622L2000.9 1623.6L2000.8 1625.1L2000.6 1626.7L2000.4 1628.3L2000.2 1629.9L1999.9 1631.5L1999.6 1633.1L1999.3 1634.7L1998.9 1636.2L1998.5 1637.8L1998.1 1639.4L1997.6 1641L1997.1 1642.6L1996.6 1644.2L1996 1645.8L1995.4 1647.3L1994.7 1648.9L1994 1650.5L1993.3 1652.1Z" fill="#4480bc" stroke="#8c8c8c" stroke-width="0.9"/>
<line x1="1989.3" y1="1573" x2="1996.9" y2="1573" stroke="#222" stroke-width="1.8"/>
<line x1="1993.1" y1="1669.5" x2="1993.1" y2="1676" stroke="#1a1a1a" stroke-width="2.6"/>
<text x="2005.3" y="1680.2" font-size="25.2" text-anchor="end" transform="rotate(-90 2005.3 1680.2)">6C</text>
<path d="M2012.6 1652.1L2011.9 1650.5L2011.1 1649L2010.4 1647.4L2009.7 1645.8L2009.1 1644.3L2008.5 1642.7L2008 1641.1L2007.5 1639.6L2007.1 1638L2006.7 1636.4L2006.3 1634.9L2006 1633.3L2005.7 1631.7L2005.4 1630.1L2005.2 1628.6L2005.1 1627L2004.9 1625.4L2004.9 1623.9L2004.8 1622.3L2004.9 1620.7L2005 1619.2L2005.2 1617.6L2005.5 1616L2005.7 1614.5L2006 1612.9L2006.4 1611.3L2006.7 1609.8L2007.1 1608.2L2007.4 1606.6L2007.8 1605.1L2008.1 1603.5L2008.5 1601.9L2008.8 1600.3L2009.1 1598.8L2009.4 1597.2L2009.7 1595.6L2009.9 1594.1L2010.2 1592.5L2010.2 1590.9L2010.2 1589.4L2010.2 1587.8L2010.3 1586.2L2010.3 1584.7L2010.3 1583.1L2010.3 1581.5L2010.4 1580L2010.4 1578.4L2010.4 1576.8L2010.5 1575.3L2010.5 1573.7L2010.5 1572.1L2010.5 1570.5L2010.6 1569L2010.6 1567.4L2010.6 1565.8L2010.6 1564.3L2010.7 1562.7L2010.7 1561.1L2010.7 1559.6L2010.8 1558L2010.8 1556.4L2010.8 1554.9L2010.8 1553.3L2010.9 1551.7L2010.9 1550.2L2010.9 1548.6L2010.9 1547L2011 1545.5L2011 1543.9L2011 1542.3L2011 1540.7L2011.1 1539.2L2011.1 1537.6L2011.1 1536L2011.1 1534.5L2011.2 1532.9L2011.2 1531.3L2011.2 1529.8L2011.2 1528.2L2011.3 1526.6L2011.3 1525.1L2011.3 1523.5L2011.3 1521.9L2011.4 1520.4L2011.4 1518.8L2011.4 1517.2L2011.4 1515.6L2011.5 1514.1L2011.5 1512.5L2011.5 1510.9L2011.5 1509.4L2011.6 1507.8L2011.6 1506.2L2011.6 1504.7L2011.6 1503.1L2011.7 1501.5L2011.7 1500L2011.7 1498.4L2011.7 1496.8L2011.7 1495.3L2011.8 1493.7L2011.8 1492.1L2011.8 1490.6L2011.8 1489L2011.9 1487.4L2011.9 1485.8L2011.9 1484.3L2011.9 1482.7L2012 1481.1L2012 1479.6L2012 1478L2012 1476.4L2012 1474.9L2012.1 1473.3L2012.1 1471.7L2012.1 1470.2L2012.1 1468.6L2012.1 1467L2012.2 1465.5L2012.2 1463.9L2012.2 1462.3L2012.2 1460.8L2012.2 1459.2L2012.3 1457.6L2012.3 1456L2012.3 1454.5L2012.3 1452.9L2012.4 1451.3L2012.4 1449.8L2012.4 1448.2L2012.4 1446.6L2012.4 1445.1L2012.4 1443.5L2012.5 1441.9L2012.5 1440.4L2012.5 1438.8L2012.5 1437.2L2012.5 1435.7L2012.5 1434.1L2012.5 1432.5L2012.5 1430.9L2012.5 1429.4L2012.5 1427.8L2012.5 1426.2L2012.5 1424.7L2012.5 1423.1L2012.5 1421.5L2012.5 1420L2012.5 1418.4L2012.5 1416.8L2012.5 1415.3L2012.5 1413.7L2012.5 1412.1L2012.5 1410.6L2012.5 1409L2012.5 1407.4L2012.5 1405.9L2012.5 1404.3L2012.5 1402.7L2013.1 1402.7L2013.2 1404.3L2013.2 1405.9L2013.2 1407.4L2013.2 1409L2013.2 1410.6L2013.2 1412.1L2013.2 1413.7L2013.2 1415.3L2013.2 1416.8L2013.2 1418.4L2013.2 1420L2013.2 1421.5L2013.2 1423.1L2013.2 1424.7L2013.2 1426.2L2013.2 1427.8L2013.2 1429.4L2013.2 1430.9L2013.2 1432.5L2013.2 1434.1L2013.2 1435.7L2013.2 1437.2L2013.2 1438.8L2013.2 1440.4L2013.2 1441.9L2013.2 1443.5L2013.3 1445.1L2013.3 1446.6L2013.3 1448.2L2013.3 1449.8L2013.3 1451.3L2013.3 1452.9L2013.4 1454.5L2013.4 1456L2013.4 1457.6L2013.4 1459.2L2013.5 1460.8L2013.5 1462.3L2013.5 1463.9L2013.5 1465.5L2013.5 1467L2013.6 1468.6L2013.6 1470.2L2013.6 1471.7L2013.6 1473.3L2013.6 1474.9L2013.7 1476.4L2013.7 1478L2013.7 1479.6L2013.7 1481.1L2013.8 1482.7L2013.8 1484.3L2013.8 1485.8L2013.8 1487.4L2013.8 1489L2013.9 1490.6L2013.9 1492.1L2013.9 1493.7L2013.9 1495.3L2014 1496.8L2014 1498.4L2014 1500L2014 1501.5L2014.1 1503.1L2014.1 1504.7L2014.1 1506.2L2014.1 1507.8L2014.1 1509.4L2014.2 1510.9L2014.2 1512.5L2014.2 1514.1L2014.2 1515.6L2014.3 1517.2L2014.3 1518.8L2014.3 1520.4L2014.3 1521.9L2014.4 1523.5L2014.4 1525.1L2014.4 1526.6L2014.4 1528.2L2014.5 1529.8L2014.5 1531.3L2014.5 1532.9L2014.5 1534.5L2014.6 1536L2014.6 1537.6L2014.6 1539.2L2014.6 1540.7L2014.7 1542.3L2014.7 1543.9L2014.7 1545.5L2014.7 1547L2014.8 1548.6L2014.8 1550.2L2014.8 1551.7L2014.9 1553.3L2014.9 1554.9L2014.9 1556.4L2014.9 1558L2015 1559.6L2015 1561.1L2015 1562.7L2015 1564.3L2015.1 1565.8L2015.1 1567.4L2015.1 1569L2015.1 1570.5L2015.2 1572.1L2015.2 1573.7L2015.2 1575.3L2015.3 1576.8L2015.3 1578.4L2015.3 1580L2015.3 1581.5L2015.4 1583.1L2015.4 1584.7L2015.4 1586.2L2015.4 1587.8L2015.5 1589.4L2015.5 1590.9L2015.5 1592.5L2015.8 1594.1L2016 1595.6L2016.3 1597.2L2016.6 1598.8L2016.9 1600.3L2017.2 1601.9L2017.6 1603.5L2017.9 1605.1L2018.3 1606.6L2018.6 1608.2L2019 1609.8L2019.3 1611.3L2019.6 1612.9L2019.9 1614.5L2020.2 1616L2020.5 1617.6L2020.6 1619.2L2020.8 1620.7L2020.8 1622.3L2020.8 1623.9L2020.7 1625.4L2020.6 1627L2020.4 1628.6L2020.2 1630.1L2020 1631.7L2019.7 1633.3L2019.4 1634.9L2019 1636.4L2018.6 1638L2018.1 1639.6L2017.7 1641.1L2017.1 1642.7L2016.6 1644.3L2016 1645.8L2015.3 1647.4L2014.6 1649L2013.8 1650.5L2013 1652.1Z" fill="#4480bc" stroke="#8c8c8c" stroke-width="0.9"/>
<line x1="2009" y1="1586.7" x2="2016.6" y2="1586.7" stroke="#222" stroke-width="1.8"/>
<line x1="2012.8" y1="1669.5" x2="2012.8" y2="1676" stroke="#1a1a1a" stroke-width="2.6"/>
<text x="2025.4" y="1680.2" font-size="25.2" text-anchor="end" transform="rotate(-90 2025.4 1680.2)">6D</text>
<path d="M2032.4 1650.9L2031.6 1649.3L2030.8 1647.8L2030.1 1646.2L2029.4 1644.7L2028.8 1643.1L2028.2 1641.6L2027.7 1640L2027.2 1638.5L2026.7 1636.9L2026.3 1635.4L2025.9 1633.8L2025.6 1632.3L2025.3 1630.7L2025 1629.1L2024.8 1627.6L2024.6 1626L2024.4 1624.5L2024.3 1622.9L2024.3 1621.4L2024.3 1619.8L2024.4 1618.3L2024.6 1616.7L2024.8 1615.2L2025.1 1613.6L2025.4 1612.1L2025.7 1610.5L2026 1609L2026.4 1607.4L2026.7 1605.8L2027.1 1604.3L2027.4 1602.7L2027.8 1601.2L2028.1 1599.6L2028.4 1598.1L2028.7 1596.5L2029 1595L2029.3 1593.4L2029.6 1591.9L2029.8 1590.3L2030 1588.8L2030 1587.2L2030 1585.7L2030 1584.1L2030.1 1582.6L2030.1 1581L2030.1 1579.4L2030.2 1577.9L2030.2 1576.3L2030.2 1574.8L2030.2 1573.2L2030.3 1571.7L2030.3 1570.1L2030.3 1568.6L2030.3 1567L2030.4 1565.5L2030.4 1563.9L2030.4 1562.4L2030.5 1560.8L2030.5 1559.3L2030.5 1557.7L2030.5 1556.1L2030.6 1554.6L2030.6 1553L2030.6 1551.5L2030.6 1549.9L2030.7 1548.4L2030.7 1546.8L2030.7 1545.3L2030.7 1543.7L2030.8 1542.2L2030.8 1540.6L2030.8 1539.1L2030.8 1537.5L2030.9 1536L2030.9 1534.4L2030.9 1532.8L2030.9 1531.3L2031 1529.7L2031 1528.2L2031 1526.6L2031 1525.1L2031.1 1523.5L2031.1 1522L2031.1 1520.4L2031.1 1518.9L2031.2 1517.3L2031.2 1515.8L2031.2 1514.2L2031.2 1512.7L2031.3 1511.1L2031.3 1509.6L2031.3 1508L2031.3 1506.4L2031.4 1504.9L2031.4 1503.3L2031.4 1501.8L2031.4 1500.2L2031.5 1498.7L2031.5 1497.1L2031.5 1495.6L2031.5 1494L2031.5 1492.5L2031.6 1490.9L2031.6 1489.4L2031.6 1487.8L2031.6 1486.3L2031.7 1484.7L2031.7 1483.1L2031.7 1481.6L2031.7 1480L2031.8 1478.5L2031.8 1476.9L2031.8 1475.4L2031.8 1473.8L2031.8 1472.3L2031.9 1470.7L2031.9 1469.2L2031.9 1467.6L2031.9 1466.1L2031.9 1464.5L2032 1463L2032 1461.4L2032 1459.8L2032 1458.3L2032 1456.7L2032.1 1455.2L2032.1 1453.6L2032.1 1452.1L2032.1 1450.5L2032.1 1449L2032.2 1447.4L2032.2 1445.9L2032.2 1444.3L2032.2 1442.8L2032.2 1441.2L2032.2 1439.7L2032.2 1438.1L2032.2 1436.6L2032.2 1435L2032.2 1433.4L2032.2 1431.9L2032.2 1430.3L2032.2 1428.8L2032.2 1427.2L2032.2 1425.7L2032.2 1424.1L2032.2 1422.6L2032.2 1421L2032.2 1419.5L2032.2 1417.9L2032.2 1416.4L2032.2 1414.8L2032.2 1413.3L2032.2 1411.7L2032.2 1410.1L2032.2 1408.6L2032.2 1407L2032.2 1405.5L2032.3 1403.9L2032.9 1403.9L2032.9 1405.5L2032.9 1407L2032.9 1408.6L2032.9 1410.1L2032.9 1411.7L2032.9 1413.3L2032.9 1414.8L2032.9 1416.4L2032.9 1417.9L2032.9 1419.5L2032.9 1421L2032.9 1422.6L2032.9 1424.1L2032.9 1425.7L2032.9 1427.2L2032.9 1428.8L2032.9 1430.3L2032.9 1431.9L2032.9 1433.4L2032.9 1435L2032.9 1436.6L2032.9 1438.1L2032.9 1439.7L2033 1441.2L2033 1442.8L2033 1444.3L2033 1445.9L2033 1447.4L2033.1 1449L2033.1 1450.5L2033.1 1452.1L2033.1 1453.6L2033.1 1455.2L2033.2 1456.7L2033.2 1458.3L2033.2 1459.8L2033.2 1461.4L2033.2 1463L2033.3 1464.5L2033.3 1466.1L2033.3 1467.6L2033.3 1469.2L2033.3 1470.7L2033.4 1472.3L2033.4 1473.8L2033.4 1475.4L2033.4 1476.9L2033.4 1478.5L2033.5 1480L2033.5 1481.6L2033.5 1483.1L2033.5 1484.7L2033.6 1486.3L2033.6 1487.8L2033.6 1489.4L2033.6 1490.9L2033.7 1492.5L2033.7 1494L2033.7 1495.6L2033.7 1497.1L2033.7 1498.7L2033.8 1500.2L2033.8 1501.8L2033.8 1503.3L2033.8 1504.9L2033.9 1506.4L2033.9 1508L2033.9 1509.6L2033.9 1511.1L2034 1512.7L2034 1514.2L2034 1515.8L2034 1517.3L2034.1 1518.9L2034.1 1520.4L2034.1 1522L2034.1 1523.5L2034.2 1525.1L2034.2 1526.6L2034.2 1528.2L2034.2 1529.7L2034.3 1531.3L2034.3 1532.8L2034.3 1534.4L2034.3 1536L2034.4 1537.5L2034.4 1539.1L2034.4 1540.6L2034.4 1542.2L2034.5 1543.7L2034.5 1545.3L2034.5 1546.8L2034.5 1548.4L2034.6 1549.9L2034.6 1551.5L2034.6 1553L2034.6 1554.6L2034.7 1556.1L2034.7 1557.7L2034.7 1559.3L2034.7 1560.8L2034.8 1562.4L2034.8 1563.9L2034.8 1565.5L2034.9 1567L2034.9 1568.6L2034.9 1570.1L2034.9 1571.7L2035 1573.2L2035 1574.8L2035 1576.3L2035 1577.9L2035.1 1579.4L2035.1 1581L2035.1 1582.6L2035.2 1584.1L2035.2 1585.7L2035.2 1587.2L2035.2 1588.8L2035.4 1590.3L2035.6 1591.9L2035.9 1593.4L2036.2 1595L2036.5 1596.5L2036.8 1598.1L2037.1 1599.6L2037.4 1601.2L2037.8 1602.7L2038.1 1604.3L2038.5 1605.8L2038.8 1607.4L2039.2 1609L2039.5 1610.5L2039.8 1612.1L2040.1 1613.6L2040.4 1615.2L2040.6 1616.7L2040.8 1618.3L2040.9 1619.8L2040.9 1621.4L2040.9 1622.9L2040.8 1624.5L2040.6 1626L2040.4 1627.6L2040.2 1629.1L2039.9 1630.7L2039.6 1632.3L2039.3 1633.8L2038.9 1635.4L2038.5 1636.9L2038 1638.5L2037.5 1640L2037 1641.6L2036.4 1643.1L2035.8 1644.7L2035.1 1646.2L2034.4 1647.8L2033.6 1649.3L2032.8 1650.9Z" fill="#111111" stroke="#8c8c8c" stroke-width="0.9"/>
<line x1="2028.8" y1="1586.7" x2="2036.4" y2="1586.7" stroke="#222" stroke-width="1.8"/>
<line x1="2032.6" y1="1669.5" x2="2032.6" y2="1676" stroke="#1a1a1a" stroke-width="2.6"/>
<text x="2045.4" y="1680.2" font-size="25.2" text-anchor="end" transform="rotate(-90 2045.4 1680.2)">Control</text>
<path d="M2052.2 1652.1L2051.5 1650.5L2050.8 1649L2050.1 1647.4L2049.5 1645.8L2048.9 1644.3L2048.4 1642.7L2047.9 1641.1L2047.4 1639.6L2047 1638L2046.6 1636.4L2046.2 1634.9L2045.9 1633.3L2045.6 1631.7L2045.3 1630.1L2045.1 1628.6L2044.9 1627L2044.7 1625.4L2044.5 1623.9L2044.4 1622.3L2044.4 1620.7L2044.4 1619.2L2044.4 1617.6L2044.6 1616L2044.7 1614.5L2045 1612.9L2045.2 1611.3L2045.6 1609.8L2045.9 1608.2L2046.2 1606.6L2046.6 1605.1L2046.9 1603.5L2047.3 1601.9L2047.6 1600.3L2047.9 1598.8L2048.3 1597.2L2048.6 1595.6L2048.9 1594.1L2049.1 1592.5L2049.4 1590.9L2049.6 1589.4L2049.9 1587.8L2050 1586.2L2050 1584.7L2050 1583.1L2050.1 1581.5L2050.1 1580L2050.1 1578.4L2050.1 1576.8L2050.2 1575.3L2050.2 1573.7L2050.2 1572.1L2050.2 1570.5L2050.3 1569L2050.3 1567.4L2050.3 1565.8L2050.3 1564.3L2050.4 1562.7L2050.4 1561.1L2050.4 1559.6L2050.4 1558L2050.5 1556.4L2050.5 1554.9L2050.5 1553.3L2050.5 1551.7L2050.6 1550.2L2050.6 1548.6L2050.6 1547L2050.6 1545.5L2050.7 1543.9L2050.7 1542.3L2050.7 1540.7L2050.7 1539.2L2050.8 1537.6L2050.8 1536L2050.8 1534.5L2050.8 1532.9L2050.8 1531.3L2050.9 1529.8L2050.9 1528.2L2050.9 1526.6L2050.9 1525.1L2051 1523.5L2051 1521.9L2051 1520.4L2051 1518.8L2051.1 1517.2L2051.1 1515.6L2051.1 1514.1L2051.1 1512.5L2051.1 1510.9L2051.2 1509.4L2051.2 1507.8L2051.2 1506.2L2051.2 1504.7L2051.2 1503.1L2051.3 1501.5L2051.3 1500L2051.3 1498.4L2051.3 1496.8L2051.4 1495.3L2051.4 1493.7L2051.4 1492.1L2051.4 1490.6L2051.4 1489L2051.5 1487.4L2051.5 1485.8L2051.5 1484.3L2051.5 1482.7L2051.5 1481.1L2051.6 1479.6L2051.6 1478L2051.6 1476.4L2051.6 1474.9L2051.6 1473.3L2051.7 1471.7L2051.7 1470.2L2051.7 1468.6L2051.7 1467L2051.7 1465.5L2051.8 1463.9L2051.8 1462.3L2051.8 1460.8L2051.8 1459.2L2051.8 1457.6L2051.9 1456L2051.9 1454.5L2051.9 1452.9L2051.9 1451.3L2051.9 1449.8L2051.9 1448.2L2052 1446.6L2052 1445.1L2052 1443.5L2052 1441.9L2052 1440.4L2052 1438.8L2052 1437.2L2052 1435.7L2052 1434.1L2052 1432.5L2052 1430.9L2052 1429.4L2052 1427.8L2052 1426.2L2052 1424.7L2052 1423.1L2052 1421.5L2052 1420L2052 1418.4L2052 1416.8L2052 1415.3L2052 1413.7L2052 1412.1L2052 1410.6L2052 1409L2052 1407.4L2052 1405.9L2052 1404.3L2052.1 1402.7L2052.7 1402.7L2052.7 1404.3L2052.7 1405.9L2052.7 1407.4L2052.7 1409L2052.7 1410.6L2052.7 1412.1L2052.7 1413.7L2052.7 1415.3L2052.7 1416.8L2052.7 1418.4L2052.7 1420L2052.7 1421.5L2052.7 1423.1L2052.7 1424.7L2052.7 1426.2L2052.7 1427.8L2052.7 1429.4L2052.7 1430.9L2052.7 1432.5L2052.7 1434.1L2052.7 1435.7L2052.7 1437.2L2052.7 1438.8L2052.7 1440.4L2052.7 1441.9L2052.7 1443.5L2052.7 1445.1L2052.8 1446.6L2052.8 1448.2L2052.8 1449.8L2052.8 1451.3L2052.8 1452.9L2052.8 1454.5L2052.9 1456L2052.9 1457.6L2052.9 1459.2L2052.9 1460.8L2052.9 1462.3L2053 1463.9L2053 1465.5L2053 1467L2053 1468.6L2053 1470.2L2053.1 1471.7L2053.1 1473.3L2053.1 1474.9L2053.1 1476.4L2053.1 1478L2053.2 1479.6L2053.2 1481.1L2053.2 1482.7L2053.2 1484.3L2053.2 1485.8L2053.3 1487.4L2053.3 1489L2053.3 1490.6L2053.3 1492.1L2053.3 1493.7L2053.4 1495.3L2053.4 1496.8L2053.4 1498.4L2053.4 1500L2053.4 1501.5L2053.5 1503.1L2053.5 1504.7L2053.5 1506.2L2053.5 1507.8L2053.6 1509.4L2053.6 1510.9L2053.6 1512.5L2053.6 1514.1L2053.6 1515.6L2053.7 1517.2L2053.7 1518.8L2053.7 1520.4L2053.7 1521.9L2053.8 1523.5L2053.8 1525.1L2053.8 1526.6L2053.8 1528.2L2053.9 1529.8L2053.9 1531.3L2053.9 1532.9L2053.9 1534.5L2053.9 1536L2054 1537.6L2054 1539.2L2054 1540.7L2054 1542.3L2054.1 1543.9L2054.1 1545.5L2054.1 1547L2054.1 1548.6L2054.2 1550.2L2054.2 1551.7L2054.2 1553.3L2054.2 1554.9L2054.3 1556.4L2054.3 1558L2054.3 1559.6L2054.3 1561.1L2054.3 1562.7L2054.4 1564.3L2054.4 1565.8L2054.4 1567.4L2054.4 1569L2054.5 1570.5L2054.5 1572.1L2054.5 1573.7L2054.5 1575.3L2054.6 1576.8L2054.6 1578.4L2054.6 1580L2054.6 1581.5L2054.7 1583.1L2054.7 1584.7L2054.7 1586.2L2054.8 1587.8L2055.1 1589.4L2055.3 1590.9L2055.6 1592.5L2055.9 1594.1L2056.2 1595.6L2056.5 1597.2L2056.8 1598.8L2057.1 1600.3L2057.5 1601.9L2057.8 1603.5L2058.2 1605.1L2058.5 1606.6L2058.8 1608.2L2059.2 1609.8L2059.5 1611.3L2059.7 1612.9L2060 1614.5L2060.2 1616L2060.3 1617.6L2060.4 1619.2L2060.3 1620.7L2060.3 1622.3L2060.2 1623.9L2060 1625.4L2059.9 1627L2059.7 1628.6L2059.4 1630.1L2059.1 1631.7L2058.8 1633.3L2058.5 1634.9L2058.1 1636.4L2057.7 1638L2057.3 1639.6L2056.8 1641.1L2056.3 1642.7L2055.8 1644.3L2055.2 1645.8L2054.6 1647.4L2054 1649L2053.2 1650.5L2052.6 1652.1Z" fill="#9a9a9a" stroke="#8c8c8c" stroke-width="0.9"/>
<line x1="2048.6" y1="1591.5" x2="2056.2" y2="1591.5" stroke="#222" stroke-width="1.8"/>
<line x1="2052.4" y1="1669.5" x2="2052.4" y2="1676" stroke="#1a1a1a" stroke-width="2.6"/>
<text x="2065.4" y="1680.2" font-size="25.2" text-anchor="end" transform="rotate(-90 2065.4 1680.2)">VP16</text>
<rect x="1524.2" y="1384.5" width="545.4" height="285" fill="none" stroke="#1a1a1a" stroke-width="2.2"/>
<line x1="1518.7" y1="1665.1" x2="1524.2" y2="1665.1" stroke="#1a1a1a" stroke-width="2.2"/>
<text x="1512.5" y="1673.8" font-size="24.4" text-anchor="end">0</text>
<line x1="1518.7" y1="1627.2" x2="1524.2" y2="1627.2" stroke="#1a1a1a" stroke-width="2.2"/>
<line x1="1518.7" y1="1589.4" x2="1524.2" y2="1589.4" stroke="#1a1a1a" stroke-width="2.2"/>
<text x="1512.5" y="1598.1" font-size="24.4" text-anchor="end">5</text>
<line x1="1518.7" y1="1551.5" x2="1524.2" y2="1551.5" stroke="#1a1a1a" stroke-width="2.2"/>
<line x1="1518.7" y1="1513.7" x2="1524.2" y2="1513.7" stroke="#1a1a1a" stroke-width="2.2"/>
<text x="1512.5" y="1522.4" font-size="24.4" text-anchor="end">10</text>
<line x1="1518.7" y1="1475.8" x2="1524.2" y2="1475.8" stroke="#1a1a1a" stroke-width="2.2"/>
<line x1="1518.7" y1="1438" x2="1524.2" y2="1438" stroke="#1a1a1a" stroke-width="2.2"/>
<text x="1512.5" y="1446.7" font-size="24.4" text-anchor="end">15</text>
<line x1="1518.7" y1="1400.1" x2="1524.2" y2="1400.1" stroke="#1a1a1a" stroke-width="2.2"/>
<text x="1477" y="1541.6" font-size="25.2" text-anchor="middle" transform="rotate(-90 1477 1541.6)">mScarlet3 (A.U.)</text>
<text x="48" y="1790" font-size="31" font-weight="bold">l</text>
<path d="M222.2 2113.2L220.7 2112.8L219 2112.4L217.3 2112L215.5 2111.6L213.7 2111.2L211.9 2110.8L209.9 2110.4L207.9 2110L205.8 2109.6L203.6 2109.2L201.1 2108.8L198.3 2108.4L194.2 2108L197.8 2107.7L198.1 2107.7L198.3 2107.7L198.6 2107.6L198.8 2107.6L199.1 2107.6L199.4 2107.5L199.7 2107.5L200.1 2107.5L200.4 2107.4L200.7 2107.4L201.1 2107.4L201.5 2107.3L201.9 2107.3L202.3 2107.2L202.7 2107.2L203.2 2107.1L203.6 2107L204.1 2107L204.6 2106.9L205.1 2106.8L205.6 2106.7L206.1 2106.6L206.6 2106.5L207.2 2106.4L207.7 2106.3L208.2 2106.2L208.8 2106.1L209.3 2105.9L209.9 2105.8L210.4 2105.6L210.9 2105.5L211.5 2105.3L212 2105.1L212.5 2104.9L213 2104.7L213.5 2104.4L214 2104.2L214.5 2103.9L215 2103.6L215.4 2103.3L215.8 2102.9L216.2 2102.6L216.6 2102.2L217 2101.8L217.4 2101.3L217.7 2100.9L218.1 2100.4L218.4 2099.8L218.7 2099.2L218.9 2098.6L219.2 2097.9L219.4 2097.2L219.7 2096.4L219.9 2095.6L220.1 2094.7L220.3 2093.8L220.4 2092.8L220.6 2091.7L220.7 2090.5L220.9 2089.3L221 2087.9L221.1 2086.5L221.2 2085L221.3 2083.3L221.4 2081.6L221.5 2079.7L221.6 2077.7L221.6 2075.5L221.7 2073.2L221.7 2070.7L221.8 2068.1L221.8 2065.2L221.9 2062.2L221.9 2058.9L222 2055.4L222 2051.6L222 2047.6L222.1 2043.3L222.1 2038.7L222.1 2033.8L222.1 2028.5L222.1 2022.8L222.2 2016.7L222.2 2010.2L222.2 2003.2L222.2 1995.8L222.2 1987.8L222.2 1979.2L222.2 1970L222.4 1970L222.4 1979.2L222.4 1987.8L222.4 1995.8L222.4 2003.2L222.4 2010.2L222.4 2016.7L222.5 2022.8L222.5 2028.5L222.5 2033.8L222.5 2038.7L222.5 2043.3L222.6 2047.6L222.6 2051.6L222.6 2055.4L222.7 2058.9L222.7 2062.2L222.8 2065.2L222.8 2068.1L222.9 2070.7L222.9 2073.2L223 2075.5L223 2077.7L223.1 2079.7L223.2 2081.6L223.3 2083.3L223.4 2085L223.5 2086.5L223.6 2087.9L223.7 2089.3L223.9 2090.5L224 2091.7L224.2 2092.8L224.3 2093.8L224.5 2094.7L224.7 2095.6L224.9 2096.4L225.2 2097.2L225.4 2097.9L225.7 2098.6L225.9 2099.2L226.2 2099.8L226.5 2100.4L226.9 2100.9L227.2 2101.3L227.6 2101.8L228 2102.2L228.4 2102.6L228.8 2102.9L229.2 2103.3L229.6 2103.6L230.1 2103.9L230.6 2104.2L231.1 2104.4L231.6 2104.7L232.1 2104.9L232.6 2105.1L233.1 2105.3L233.7 2105.5L234.2 2105.6L234.7 2105.8L235.3 2105.9L235.8 2106.1L236.4 2106.2L236.9 2106.3L237.4 2106.4L238 2106.5L238.5 2106.6L239 2106.7L239.5 2106.8L240 2106.9L240.5 2107L241 2107L241.4 2107.1L241.9 2107.2L242.3 2107.2L242.7 2107.3L243.1 2107.3L243.5 2107.4L243.9 2107.4L244.2 2107.4L244.5 2107.5L244.9 2107.5L245.2 2107.5L245.5 2107.6L245.8 2107.6L246 2107.6L246.3 2107.7L246.5 2107.7L246.8 2107.7L250.4 2108L246.3 2108.4L243.5 2108.8L241 2109.2L238.8 2109.6L236.7 2110L234.7 2110.4L232.7 2110.8L230.9 2111.2L229.1 2111.6L227.3 2112L225.6 2112.4L223.9 2112.8L222.4 2113.2Z" fill="#4a82c0" stroke="#8e949c" stroke-width="0.8"/>
<rect x="220" y="2102.4" width="4.6" height="4.6" fill="#3a3a3a" stroke="none" stroke-width="0"/>
<line x1="222.3" y1="2132.8" x2="222.3" y2="2138.8" stroke="#1a1a1a" stroke-width="2"/>
<path d="M291.6 2117.4L290.1 2116.6L288.4 2115.8L286.8 2115.1L285 2114.3L283.2 2113.5L281.4 2112.7L279.5 2112L277.5 2111.2L275.4 2110.4L273.2 2109.6L270.8 2108.9L268 2108.1L264 2107.3L266.6 2107L266.8 2107L267 2107L267.2 2106.9L267.5 2106.9L267.7 2106.9L268 2106.8L268.2 2106.8L268.5 2106.8L268.8 2106.7L269.1 2106.7L269.5 2106.6L269.8 2106.6L270.2 2106.5L270.6 2106.4L271 2106.4L271.4 2106.3L271.9 2106.2L272.3 2106.1L272.8 2106L273.3 2105.9L273.8 2105.8L274.3 2105.7L274.8 2105.6L275.4 2105.5L275.9 2105.3L276.5 2105.2L277.1 2105L277.7 2104.8L278.2 2104.6L278.8 2104.4L279.4 2104.2L280 2104L280.6 2103.7L281.2 2103.4L281.7 2103.1L282.3 2102.8L282.8 2102.4L283.4 2102L283.9 2101.6L284.4 2101.2L284.9 2100.7L285.3 2100.2L285.8 2099.6L286.2 2099L286.6 2098.4L287 2097.7L287.4 2096.9L287.7 2096.1L288 2095.2L288.3 2094.3L288.6 2093.3L288.9 2092.2L289.1 2091L289.3 2089.7L289.6 2088.3L289.8 2086.9L289.9 2085.3L290.1 2083.5L290.2 2081.7L290.4 2079.7L290.5 2077.5L290.6 2075.2L290.7 2072.6L290.8 2069.9L290.9 2067L291 2063.9L291.1 2060.5L291.1 2056.8L291.2 2052.8L291.2 2048.6L291.3 2044L291.3 2039L291.4 2033.7L291.4 2027.9L291.4 2021.7L291.5 2015L291.5 2007.7L291.5 2000L291.5 1991.5L291.5 1982.5L291.6 1972.7L291.6 1962.2L291.6 1950.8L291.6 1938.6L291.6 1925.3L291.6 1911.1L291.6 1895.7L291.6 1879.2L291.6 1861.3L291.8 1861.3L291.8 1879.2L291.8 1895.7L291.8 1911.1L291.8 1925.3L291.8 1938.6L291.8 1950.8L291.8 1962.2L291.8 1972.7L291.9 1982.5L291.9 1991.5L291.9 2000L291.9 2007.7L291.9 2015L292 2021.7L292 2027.9L292 2033.7L292.1 2039L292.1 2044L292.2 2048.6L292.2 2052.8L292.3 2056.8L292.3 2060.5L292.4 2063.9L292.5 2067L292.6 2069.9L292.7 2072.6L292.8 2075.2L292.9 2077.5L293 2079.7L293.2 2081.7L293.3 2083.5L293.5 2085.3L293.6 2086.9L293.8 2088.3L294.1 2089.7L294.3 2091L294.5 2092.2L294.8 2093.3L295.1 2094.3L295.4 2095.2L295.7 2096.1L296 2096.9L296.4 2097.7L296.8 2098.4L297.2 2099L297.6 2099.6L298.1 2100.2L298.5 2100.7L299 2101.2L299.5 2101.6L300 2102L300.6 2102.4L301.1 2102.8L301.7 2103.1L302.2 2103.4L302.8 2103.7L303.4 2104L304 2104.2L304.6 2104.4L305.2 2104.6L305.7 2104.8L306.3 2105L306.9 2105.2L307.5 2105.3L308 2105.5L308.6 2105.6L309.1 2105.7L309.6 2105.8L310.1 2105.9L310.6 2106L311.1 2106.1L311.5 2106.2L312 2106.3L312.4 2106.4L312.8 2106.4L313.2 2106.5L313.6 2106.6L313.9 2106.6L314.3 2106.7L314.6 2106.7L314.9 2106.8L315.2 2106.8L315.4 2106.8L315.7 2106.9L315.9 2106.9L316.2 2106.9L316.4 2107L316.6 2107L316.8 2107L319.4 2107.3L315.4 2108.1L312.6 2108.9L310.2 2109.6L308 2110.4L305.9 2111.2L303.9 2112L302 2112.7L300.2 2113.5L298.4 2114.3L296.6 2115.1L295 2115.8L293.3 2116.6L291.8 2117.4Z" fill="#4a82c0" stroke="#8e949c" stroke-width="0.8"/>
<rect x="289.4" y="2100.2" width="4.6" height="4.6" fill="#3a3a3a" stroke="none" stroke-width="0"/>
<line x1="291.7" y1="2132.8" x2="291.7" y2="2138.8" stroke="#1a1a1a" stroke-width="2"/>
<path d="M360.7 2117.9L359.2 2117.1L357.5 2116.3L355.9 2115.5L354.1 2114.6L352.3 2113.8L350.5 2113L348.6 2112.2L346.6 2111.4L344.5 2110.6L342.3 2109.7L339.9 2108.9L337.1 2108.1L333.1 2107.3L335.7 2107L335.9 2107L336.1 2106.9L336.4 2106.9L336.6 2106.9L336.8 2106.9L337.1 2106.8L337.4 2106.8L337.7 2106.7L338 2106.7L338.3 2106.7L338.7 2106.6L339 2106.5L339.4 2106.5L339.8 2106.4L340.3 2106.3L340.7 2106.3L341.2 2106.2L341.6 2106.1L342.1 2106L342.6 2105.9L343.2 2105.8L343.7 2105.7L344.3 2105.5L344.8 2105.4L345.4 2105.2L346 2105.1L346.6 2104.9L347.2 2104.7L347.8 2104.5L348.4 2104.3L349 2104L349.6 2103.7L350.2 2103.5L350.7 2103.1L351.3 2102.8L351.9 2102.5L352.4 2102.1L353 2101.6L353.5 2101.2L354 2100.7L354.4 2100.2L354.9 2099.6L355.3 2099L355.8 2098.3L356.1 2097.6L356.5 2096.8L356.9 2096L357.2 2095L357.5 2094.1L357.8 2093L358 2091.8L358.3 2090.6L358.5 2089.3L358.7 2087.8L358.9 2086.2L359.1 2084.5L359.3 2082.7L359.4 2080.7L359.5 2078.6L359.7 2076.3L359.8 2073.8L359.9 2071.1L360 2068.2L360.1 2065.1L360.1 2061.7L360.2 2058L360.3 2054L360.3 2049.8L360.4 2045.1L360.4 2040.1L360.5 2034.7L360.5 2028.9L360.5 2022.6L360.6 2015.8L360.6 2008.5L360.6 2000.5L360.6 1991.9L360.6 1982.7L360.7 1972.6L360.7 1961.8L360.7 1950.1L360.7 1937.5L360.7 1923.9L360.7 1909.1L360.7 1893.2L360.7 1876L360.7 1857.4L360.7 1837.3L360.7 1815.6L360.9 1815.6L360.9 1837.3L360.9 1857.4L360.9 1876L360.9 1893.2L360.9 1909.1L360.9 1923.9L360.9 1937.5L360.9 1950.1L360.9 1961.8L360.9 1972.6L361 1982.7L361 1991.9L361 2000.5L361 2008.5L361 2015.8L361.1 2022.6L361.1 2028.9L361.1 2034.7L361.2 2040.1L361.2 2045.1L361.3 2049.8L361.3 2054L361.4 2058L361.5 2061.7L361.5 2065.1L361.6 2068.2L361.7 2071.1L361.8 2073.8L361.9 2076.3L362.1 2078.6L362.2 2080.7L362.3 2082.7L362.5 2084.5L362.7 2086.2L362.9 2087.8L363.1 2089.3L363.3 2090.6L363.6 2091.8L363.8 2093L364.1 2094.1L364.4 2095L364.7 2096L365.1 2096.8L365.5 2097.6L365.8 2098.3L366.3 2099L366.7 2099.6L367.2 2100.2L367.6 2100.7L368.1 2101.2L368.6 2101.6L369.2 2102.1L369.7 2102.5L370.3 2102.8L370.9 2103.1L371.4 2103.5L372 2103.7L372.6 2104L373.2 2104.3L373.8 2104.5L374.4 2104.7L375 2104.9L375.6 2105.1L376.2 2105.2L376.8 2105.4L377.3 2105.5L377.9 2105.7L378.4 2105.8L379 2105.9L379.5 2106L380 2106.1L380.4 2106.2L380.9 2106.3L381.3 2106.3L381.8 2106.4L382.2 2106.5L382.6 2106.5L382.9 2106.6L383.3 2106.7L383.6 2106.7L383.9 2106.7L384.2 2106.8L384.5 2106.8L384.8 2106.9L385 2106.9L385.2 2106.9L385.5 2106.9L385.7 2107L385.9 2107L388.5 2107.3L384.5 2108.1L381.7 2108.9L379.3 2109.7L377.1 2110.6L375 2111.4L373 2112.2L371.1 2113L369.3 2113.8L367.5 2114.6L365.7 2115.5L364.1 2116.3L362.4 2117.1L360.9 2117.9Z" fill="#4a82c0" stroke="#8e949c" stroke-width="0.8"/>
<rect x="358.5" y="2099.6" width="4.6" height="4.6" fill="#3a3a3a" stroke="none" stroke-width="0"/>
<line x1="360.8" y1="2132.8" x2="360.8" y2="2138.8" stroke="#1a1a1a" stroke-width="2"/>
<path d="M429.9 2117L428.4 2116.3L426.7 2115.5L425 2114.8L423.3 2114L421.5 2113.3L419.6 2112.5L417.7 2111.8L415.7 2111L413.6 2110.3L411.3 2109.5L408.9 2108.8L406.1 2108L402 2107.3L404.7 2107L404.9 2107L405.1 2107L405.3 2106.9L405.5 2106.9L405.7 2106.9L406 2106.8L406.3 2106.8L406.6 2106.8L406.9 2106.7L407.2 2106.7L407.5 2106.6L407.9 2106.6L408.2 2106.5L408.6 2106.4L409 2106.4L409.5 2106.3L409.9 2106.2L410.4 2106.1L410.8 2106.1L411.3 2106L411.8 2105.9L412.4 2105.7L412.9 2105.6L413.4 2105.5L414 2105.3L414.6 2105.2L415.1 2105L415.7 2104.9L416.3 2104.7L416.9 2104.5L417.5 2104.2L418.1 2104L418.7 2103.7L419.2 2103.5L419.8 2103.2L420.4 2102.8L420.9 2102.5L421.5 2102.1L422 2101.7L422.5 2101.3L423 2100.8L423.5 2100.3L423.9 2099.8L424.3 2099.2L424.8 2098.5L425.2 2097.8L425.5 2097.1L425.9 2096.3L426.2 2095.5L426.5 2094.5L426.8 2093.6L427.1 2092.5L427.3 2091.3L427.6 2090.1L427.8 2088.7L428 2087.3L428.2 2085.7L428.3 2084.1L428.5 2082.2L428.6 2080.3L428.8 2078.2L428.9 2075.9L429 2073.5L429.1 2070.8L429.2 2068L429.3 2064.9L429.3 2061.6L429.4 2058.1L429.5 2054.3L429.5 2050.1L429.6 2045.7L429.6 2040.9L429.7 2035.7L429.7 2030.1L429.7 2024.1L429.7 2017.6L429.8 2010.7L429.8 2003.1L429.8 1995L429.8 1986.3L429.9 1976.8L429.9 1966.7L429.9 1955.7L429.9 1943.9L429.9 1931.2L429.9 1917.5L429.9 1902.7L429.9 1886.8L429.9 1869.6L430.1 1869.6L430.1 1886.8L430.1 1902.7L430.1 1917.5L430.1 1931.2L430.1 1943.9L430.1 1955.7L430.1 1966.7L430.1 1976.8L430.2 1986.3L430.2 1995L430.2 2003.1L430.2 2010.7L430.3 2017.6L430.3 2024.1L430.3 2030.1L430.3 2035.7L430.4 2040.9L430.4 2045.7L430.5 2050.1L430.5 2054.3L430.6 2058.1L430.7 2061.6L430.7 2064.9L430.8 2068L430.9 2070.8L431 2073.5L431.1 2075.9L431.2 2078.2L431.4 2080.3L431.5 2082.2L431.7 2084.1L431.8 2085.7L432 2087.3L432.2 2088.7L432.4 2090.1L432.7 2091.3L432.9 2092.5L433.2 2093.6L433.5 2094.5L433.8 2095.5L434.1 2096.3L434.5 2097.1L434.8 2097.8L435.2 2098.5L435.7 2099.2L436.1 2099.8L436.5 2100.3L437 2100.8L437.5 2101.3L438 2101.7L438.5 2102.1L439.1 2102.5L439.6 2102.8L440.2 2103.2L440.8 2103.5L441.3 2103.7L441.9 2104L442.5 2104.2L443.1 2104.5L443.7 2104.7L444.3 2104.9L444.9 2105L445.4 2105.2L446 2105.3L446.6 2105.5L447.1 2105.6L447.6 2105.7L448.2 2105.9L448.7 2106L449.2 2106.1L449.6 2106.1L450.1 2106.2L450.5 2106.3L451 2106.4L451.4 2106.4L451.8 2106.5L452.1 2106.6L452.5 2106.6L452.8 2106.7L453.1 2106.7L453.4 2106.8L453.7 2106.8L454 2106.8L454.3 2106.9L454.5 2106.9L454.7 2106.9L454.9 2107L455.1 2107L455.3 2107L458 2107.3L453.9 2108L451.1 2108.8L448.7 2109.5L446.4 2110.3L444.3 2111L442.3 2111.8L440.4 2112.5L438.5 2113.3L436.7 2114L435 2114.8L433.3 2115.5L431.6 2116.3L430.1 2117Z" fill="#4a82c0" stroke="#8e949c" stroke-width="0.8"/>
<rect x="427.7" y="2100.4" width="4.6" height="4.6" fill="#3a3a3a" stroke="none" stroke-width="0"/>
<line x1="430" y1="2132.8" x2="430" y2="2138.8" stroke="#1a1a1a" stroke-width="2"/>
<path d="M499.2 2115.8L497.7 2115.2L496 2114.5L494.3 2113.9L492.6 2113.2L490.8 2112.6L488.9 2112L487 2111.3L485 2110.7L482.9 2110.1L480.7 2109.4L478.3 2108.8L475.5 2108.1L471.4 2107.5L474.1 2107.2L474.2 2107.2L474.4 2107.2L474.7 2107.1L474.9 2107.1L475.1 2107.1L475.4 2107L475.6 2107L475.9 2107L476.2 2106.9L476.5 2106.9L476.8 2106.8L477.2 2106.8L477.5 2106.7L477.9 2106.7L478.3 2106.6L478.7 2106.5L479.2 2106.4L479.6 2106.4L480.1 2106.3L480.5 2106.2L481 2106.1L481.5 2106L482.1 2105.9L482.6 2105.7L483.1 2105.6L483.7 2105.5L484.3 2105.3L484.8 2105.1L485.4 2104.9L486 2104.7L486.6 2104.5L487.1 2104.3L487.7 2104.1L488.3 2103.8L488.9 2103.5L489.4 2103.2L490 2102.9L490.5 2102.5L491 2102.1L491.5 2101.7L492 2101.3L492.5 2100.8L492.9 2100.3L493.4 2099.8L493.8 2099.2L494.2 2098.5L494.6 2097.8L494.9 2097.1L495.3 2096.3L495.6 2095.4L495.9 2094.5L496.2 2093.5L496.4 2092.4L496.7 2091.3L496.9 2090L497.1 2088.7L497.3 2087.3L497.5 2085.7L497.7 2084L497.8 2082.2L497.9 2080.3L498.1 2078.2L498.2 2076L498.3 2073.6L498.4 2071L498.5 2068.2L498.6 2065.1L498.6 2061.9L498.7 2058.4L498.8 2054.6L498.8 2050.6L498.9 2046.2L498.9 2041.5L498.9 2036.5L499 2031L499 2025.1L499 2018.8L499.1 2012L499.1 2004.7L499.1 1996.8L499.1 1988.3L499.2 1979.2L499.2 1969.4L499.2 1958.8L499.2 1947.4L499.2 1935.1L499.2 1921.9L499.2 1907.6L499.2 1892.3L499.4 1892.3L499.4 1907.6L499.4 1921.9L499.4 1935.1L499.4 1947.4L499.4 1958.8L499.4 1969.4L499.4 1979.2L499.5 1988.3L499.5 1996.8L499.5 2004.7L499.5 2012L499.6 2018.8L499.6 2025.1L499.6 2031L499.7 2036.5L499.7 2041.5L499.7 2046.2L499.8 2050.6L499.8 2054.6L499.9 2058.4L500 2061.9L500 2065.1L500.1 2068.2L500.2 2071L500.3 2073.6L500.4 2076L500.5 2078.2L500.7 2080.3L500.8 2082.2L500.9 2084L501.1 2085.7L501.3 2087.3L501.5 2088.7L501.7 2090L501.9 2091.3L502.2 2092.4L502.4 2093.5L502.7 2094.5L503 2095.4L503.3 2096.3L503.7 2097.1L504 2097.8L504.4 2098.5L504.8 2099.2L505.2 2099.8L505.7 2100.3L506.1 2100.8L506.6 2101.3L507.1 2101.7L507.6 2102.1L508.1 2102.5L508.6 2102.9L509.2 2103.2L509.7 2103.5L510.3 2103.8L510.9 2104.1L511.5 2104.3L512 2104.5L512.6 2104.7L513.2 2104.9L513.8 2105.1L514.3 2105.3L514.9 2105.5L515.5 2105.6L516 2105.7L516.5 2105.9L517.1 2106L517.6 2106.1L518.1 2106.2L518.5 2106.3L519 2106.4L519.4 2106.4L519.9 2106.5L520.3 2106.6L520.7 2106.7L521.1 2106.7L521.4 2106.8L521.8 2106.8L522.1 2106.9L522.4 2106.9L522.7 2107L523 2107L523.2 2107L523.5 2107.1L523.7 2107.1L523.9 2107.1L524.2 2107.2L524.4 2107.2L524.5 2107.2L527.2 2107.5L523.1 2108.1L520.3 2108.8L517.9 2109.4L515.7 2110.1L513.6 2110.7L511.6 2111.3L509.7 2112L507.8 2112.6L506 2113.2L504.3 2113.9L502.6 2114.5L500.9 2115.2L499.4 2115.8Z" fill="#4a82c0" stroke="#8e949c" stroke-width="0.8"/>
<rect x="497" y="2101" width="4.6" height="4.6" fill="#3a3a3a" stroke="none" stroke-width="0"/>
<line x1="499.3" y1="2132.8" x2="499.3" y2="2138.8" stroke="#1a1a1a" stroke-width="2"/>
<text x="217.8" y="2153" font-size="21" transform="rotate(52 217.8 2153)">Gal4</text>
<text x="287.2" y="2153" font-size="21" transform="rotate(52 287.2 2153)">FrARF7</text>
<text x="356.3" y="2153" font-size="21" transform="rotate(52 356.3 2153)">Frarf7ΔAD1</text>
<text x="425.5" y="2153" font-size="21" transform="rotate(52 425.5 2153)">Frarf7ΔAD2</text>
<text x="494.8" y="2153" font-size="21" transform="rotate(52 494.8 2153)">Frarf7ΔAD1&amp;2</text>
<path d="M178.2 1798.9V2132.8H544.4" fill="none" stroke="#1a1a1a" stroke-width="2"/>
<line x1="173.2" y1="2109.6" x2="178.2" y2="2109.6" stroke="#1a1a1a" stroke-width="2"/>
<text x="172.5" y="2117.9" font-size="23.2" text-anchor="end">0</text>
<line x1="173.2" y1="2049.4" x2="178.2" y2="2049.4" stroke="#1a1a1a" stroke-width="2"/>
<text x="172.5" y="2057.7" font-size="23.2" text-anchor="end">200</text>
<line x1="173.2" y1="1989.2" x2="178.2" y2="1989.2" stroke="#1a1a1a" stroke-width="2"/>
<text x="172.5" y="1997.5" font-size="23.2" text-anchor="end">400</text>
<line x1="173.2" y1="1929.1" x2="178.2" y2="1929.1" stroke="#1a1a1a" stroke-width="2"/>
<text x="172.5" y="1937.4" font-size="23.2" text-anchor="end">600</text>
<line x1="173.2" y1="1868.9" x2="178.2" y2="1868.9" stroke="#1a1a1a" stroke-width="2"/>
<text x="172.5" y="1877.2" font-size="23.2" text-anchor="end">800</text>
<line x1="173.2" y1="1808.7" x2="178.2" y2="1808.7" stroke="#1a1a1a" stroke-width="2"/>
<text x="172.5" y="1817" font-size="23.2" text-anchor="end">1000</text>
<text x="130.4" y="1965" font-size="21.3" text-anchor="middle" transform="rotate(-90 130.4 1965)">mNEON (A.U.)</text>
<text x="1364" y="496" font-size="31" font-weight="bold">g</text>
<path d="M1551 578.5h1m12 0h1m29 0h1m-117 1h1m60 0h1m18 0h1m4 0h1m15 0h1m7 0h2m9 0h1m1 0h1m5 0h1m30 0h1m-103 1h1m21 0h1m9 0h1m59 0h1m17 0h1m-177 1h1m20 0h1m29 0h1m4 0h1m9 0h1m13 0h1m22 0h1m32 0h1m7 0h1m22 0h1m-103 1h1m14 0h1m19 0h1m13 0h1m11 0h1m2 0h1m84 0h1m-138 1h1m12 0h1m15 0h1m6 0h1m1 0h1m3 0h1m1 0h1m2 0h1m11 0h2m1 0h2m2 0h1m51 0h1m-170 1h1m18 0h1m16 0h1m3 0h1m3 0h1m1 0h1m26 0h1m10 0h1m22 0h1m1 0h1m-56 1h1m5 0h1m12 0h1m10 0h1m11 0h1m3 0h1m1 0h1m4 0h1m3 0h1m16 0h1m6 0h1m9 0h1m47 0h1m-222 1h1m77 0h3m6 0h1m14 0h1m7 0h1m3 0h1m20 0h1m3 0h1m11 0h1m4 0h1m20 0h1m-84 1h1m12 0h1m5 0h1m2 0h1m3 0h1m7 0h1m10 0h1m10 0h1m19 0h1m23 0h1m17 0h1m-178 1h1m6 0h1m6 0h1m5 0h1m8 0h1m15 0h1m4 0h1m2 0h1m22 0h2m3 0h1m1 0h1m8 0h1m2 0h1m4 0h1m2 0h1m20 0h1m-167 1h1m37 0h1m11 0h1m6 0h1m25 0h1m4 0h1m2 0h1m1 0h1m3 0h1m5 0h1m3 0h1m5 0h1m9 0h1m4 0h1m8 0h1m22 0h1m-133 1h1m28 0h1m10 0h1m8 0h1m1 0h2m1 0h1m2 0h1m2 0h1m5 0h1m1 0h1m1 0h1m3 0h2m6 0h1m7 0h1m5 0h1m3 0h1m18 0h1m-132 1h2m28 0h1m14 0h1m14 0h1m32 0h1m12 0h1m11 0h1m11 0h1m3 0h1m5 0h2m3 0h1m2 0h1m8 0h1m-135 1h1m21 0h1m6 0h1m1 0h1m6 0h1m14 0h1m16 0h1m10 0h1m9 0h1m3 0h2m5 0h1m3 0h3m4 0h1m4 0h1m12 0h1m2 0h2m36 0h1m-181 1h1m27 0h1m5 0h1m4 0h2m1 0h1m13 0h1m5 0h1m5 0h1m2 0h1m8 0h1m1 0h1m6 0h1m2 0h1m13 0h1m7 0h1m9 0h2m7 0h1m1 0h1m6 0h1m3 0h1m3 0h1m3 0h1m3 0h1m-177 1h1m7 0h1m19 0h1m18 0h2m8 0h2m5 0h1m1 0h1m1 0h1m2 0h1m4 0h2m4 0h2m11 0h2m5 0h1m7 0h1m4 0h1m2 0h1m8 0h1m11 0h1m7 0h1m7 0h2m-123 1h1m10 0h1m4 0h1m1 0h1m5 0h1m6 0h1m2 0h1m13 0h1m8 0h1m4 0h2m2 0h1m4 0h1m3 0h1m6 0h1m2 0h2m2 0h1m11 0h1m2 0h1m4 0h1m36 0h1m-161 1h1m36 0h1m2 0h1m6 0h1m9 0h1m11 0h1m2 0h1m1 0h1m1 0h2m9 0h1m7 0h2m5 0h1m3 0h2m2 0h1m2 0h2m2 0h2m10 0h1m10 0h2m3 0h1m-177 1h1m23 0h1m11 0h1m2 0h1m12 0h1m4 0h2m10 0h1m2 0h1m10 0h1m7 0h1m2 0h2m7 0h2m1 0h1m2 0h1m1 0h2m2 0h1m6 0h1m7 0h1m8 0h1m3 0h2m5 0h1m3 0h2m5 0h1m11 0h1m-141 1h1m5 0h1m15 0h1m1 0h1m1 0h1m10 0h1m9 0h1m7 0h1m3 0h1m2 0h2m7 0h1m3 0h2m1 0h1m6 0h1m2 0h1m2 0h1m1 0h2m12 0h1m12 0h1m25 0h1m-166 1h1m13 0h1m9 0h1m11 0h1m3 0h1m9 0h3m1 0h1m3 0h1m1 0h1m4 0h1m2 0h2m11 0h1m2 0h1m1 0h1m3 0h1m2 0h1m2 0h2m4 0h1m2 0h2m4 0h1m1 0h2m3 0h1m3 0h1m6 0h2m25 0h1m15 0h1m-173 1h1m3 0h1m8 0h2m15 0h1m9 0h1m5 0h1m1 0h1m4 0h1m1 0h1m8 0h1m3 0h2m5 0h1m4 0h1m1 0h2m6 0h2m12 0h2m8 0h2m3 0h1m1 0h1m3 0h2m2 0h1m1 0h1m10 0h1m3 0h1m1 0h1m2 0h1m1 0h2m14 0h1m-156 1h1m3 0h1m4 0h2m3 0h2m15 0h2m4 0h1m1 0h2m1 0h1m5 0h1m13 0h1m2 0h1m4 0h1m1 0h1m1 0h1m3 0h1m6 0h1m3 0h1m1 0h2m2 0h1m7 0h4m1 0h1m13 0h1m1 0h1m3 0h1m10 0h1m7 0h1m12 0h1m3 0h1m35 0h1m-226 1h1m21 0h1m23 0h1m5 0h1m4 0h1m1 0h2m6 0h1m4 0h1m1 0h2m2 0h1m2 0h2m2 0h1m3 0h1m2 0h1m3 0h1m1 0h1m3 0h1m1 0h1m2 0h1m5 0h1m1 0h3m1 0h3m8 0h1m1 0h1m20 0h1m6 0h1m4 0h1m17 0h1m-198 1h1m16 0h1m8 0h1m21 0h1m20 0h2m5 0h1m2 0h1m5 0h1m1 0h1m2 0h1m3 0h1m1 0h1m10 0h1m2 0h1m3 0h2m2 0h2m1 0h1m6 0h1m1 0h4m5 0h1m4 0h1m1 0h1m1 0h2m1 0h1m1 0h1m2 0h1m2 0h2m1 0h1m4 0h1m8 0h2m6 0h1m-163 1h1m12 0h1m8 0h1m18 0h1m7 0h1m11 0h1m1 0h1m1 0h1m2 0h1m2 0h1m2 0h1m1 0h2m3 0h3m1 0h1m6 0h2m1 0h1m3 0h1m2 0h1m1 0h2m3 0h1m4 0h4m1 0h2m4 0h2m1 0h2m2 0h1m4 0h1m2 0h1m1 0h2m4 0h1m7 0h1m4 0h1m3 0h1m27 0h1m-203 1h1m39 0h1m4 0h1m3 0h1m13 0h2m1 0h2m2 0h1m4 0h2m2 0h1m3 0h1m3 0h1m1 0h1m3 0h1m5 0h2m1 0h1m1 0h1m2 0h1m1 0h1m2 0h3m2 0h1m1 0h1m1 0h2m5 0h1m4 0h1m1 0h2m1 0h1m1 0h1m1 0h1m3 0h1m1 0h1m3 0h1m2 0h1m7 0h1m3 0h1m15 0h1m-179 1h1m25 0h1m10 0h1m5 0h1m4 0h1m6 0h1m2 0h1m2 0h1m6 0h1m5 0h2m2 0h2m1 0h1m1 0h1m3 0h1m5 0h4m3 0h1m6 0h2m1 0h1m1 0h1m1 0h1m2 0h1m3 0h3m1 0h1m4 0h2m3 0h2m1 0h1m4 0h1m9 0h1m10 0h1m2 0h1m-178 1h1m37 0h2m10 0h1m1 0h1m4 0h1m1 0h1m1 0h1m3 0h1m1 0h1m1 0h1m5 0h1m2 0h1m3 0h1m8 0h1m2 0h1m1 0h2m2 0h2m3 0h1m1 0h4m2 0h1m1 0h3m5 0h2m1 0h1m4 0h2m2 0h2m4 0h1m1 0h1m1 0h1m2 0h2m1 0h1m2 0h1m3 0h1m5 0h1m13 0h3m6 0h1m30 0h1m-237 1h1m38 0h1m22 0h2m4 0h1m2 0h1m1 0h1m3 0h1m1 0h1m4 0h3m1 0h1m1 0h1m8 0h1m4 0h1m3 0h1m2 0h2m3 0h3m3 0h3m4 0h5m1 0h1m1 0h1m1 0h4m9 0h1m6 0h1m1 0h1m3 0h1m3 0h1m2 0h1m3 0h1m6 0h1m15 0h1m-195 1h1m9 0h1m27 0h1m4 0h1m5 0h1m2 0h1m2 0h1m4 0h1m5 0h1m6 0h1m1 0h1m4 0h2m5 0h1m1 0h1m1 0h1m3 0h1m1 0h1m1 0h1m1 0h1m1 0h2m1 0h1m1 0h1m1 0h1m2 0h1m2 0h2m4 0h2m2 0h2m1 0h1m1 0h4m5 0h2m2 0h1m1 0h2m2 0h3m1 0h2m2 0h2m2 0h1m1 0h2m1 0h1m4 0h1m5 0h1m1 0h1m6 0h2m-141 1h2m11 0h1m7 0h1m3 0h2m2 0h1m2 0h1m7 0h2m1 0h2m2 0h3m3 0h1m1 0h1m2 0h1m1 0h1m1 0h1m1 0h1m1 0h1m2 0h1m3 0h4m1 0h1m1 0h1m1 0h4m1 0h1m6 0h2m1 0h2m3 0h1m2 0h1m2 0h1m2 0h2m4 0h1m3 0h1m3 0h1m11 0h1m9 0h1m7 0h1m1 0h2m8 0h1m10 0h1m-227 1h1m29 0h1m6 0h1m28 0h1m4 0h1m2 0h4m1 0h1m2 0h3m3 0h1m4 0h3m1 0h3m1 0h3m1 0h1m1 0h2m2 0h1m1 0h1m1 0h1m1 0h1m1 0h2m3 0h6m3 0h1m3 0h7m2 0h1m1 0h1m1 0h1m5 0h2m1 0h2m3 0h1m1 0h1m2 0h3m2 0h1m2 0h1m4 0h1m10 0h2m30 0h1m8 0h1m-208 1h1m9 0h1m16 0h1m1 0h1m11 0h1m2 0h1m3 0h4m6 0h1m1 0h1m2 0h3m1 0h1m1 0h1m3 0h1m3 0h1m1 0h1m1 0h3m3 0h2m1 0h1m3 0h1m2 0h1m3 0h2m1 0h1m1 0h3m2 0h2m1 0h1m1 0h1m4 0h1m1 0h6m2 0h2m11 0h1m2 0h1m1 0h1m29 0h1m9 0h1m-215 1h1m11 0h1m3 0h1m14 0h1m9 0h1m1 0h1m8 0h1m2 0h2m3 0h1m3 0h2m1 0h1m2 0h1m1 0h2m2 0h3m5 0h1m1 0h1m3 0h2m1 0h4m1 0h2m1 0h1m1 0h8m2 0h1m1 0h4m2 0h2m3 0h3m1 0h1m2 0h2m6 0h1m2 0h1m1 0h3m1 0h1m1 0h1m4 0h2m8 0h2m3 0h1m4 0h2m2 0h1m3 0h1m10 0h1m6 0h1m2 0h1m-185 1h1m5 0h1m9 0h1m10 0h1m12 0h1m4 0h2m1 0h1m5 0h3m2 0h1m3 0h1m5 0h1m1 0h1m1 0h2m1 0h3m1 0h4m2 0h3m1 0h2m1 0h2m2 0h2m1 0h3m1 0h3m2 0h1m1 0h4m1 0h1m2 0h2m1 0h2m3 0h2m1 0h3m2 0h1m2 0h1m2 0h6m1 0h1m1 0h1m3 0h1m3 0h1m4 0h1m4 0h2m24 0h1m6 0h1m21 0h1m-227 1h1m3 0h1m17 0h1m4 0h1m12 0h1m1 0h2m4 0h1m1 0h1m1 0h2m1 0h2m1 0h1m1 0h1m1 0h1m2 0h2m3 0h1m2 0h10m1 0h2m1 0h1m2 0h1m2 0h2m1 0h1m2 0h4m3 0h1m1 0h5m1 0h1m2 0h5m1 0h2m1 0h2m1 0h5m3 0h1m4 0h2m1 0h1m2 0h3m2 0h3m5 0h1m2 0h1m2 0h1m5 0h1m1 0h1m5 0h1m3 0h1m4 0h1m-200 1h1m23 0h1m5 0h1m1 0h1m1 0h1m11 0h2m1 0h1m3 0h1m2 0h2m2 0h1m1 0h3m1 0h1m1 0h4m2 0h7m3 0h2m2 0h1m1 0h2m5 0h7m1 0h5m1 0h1m1 0h1m3 0h3m1 0h5m1 0h3m1 0h2m2 0h3m1 0h1m2 0h9m1 0h2m1 0h2m2 0h1m4 0h2m5 0h1m2 0h1m9 0h1m4 0h1m2 0h1m23 0h1m-202 1h1m25 0h1m4 0h1m5 0h2m4 0h2m3 0h2m5 0h2m3 0h1m2 0h1m5 0h2m1 0h1m2 0h5m1 0h3m1 0h2m3 0h5m1 0h3m1 0h1m1 0h5m2 0h2m1 0h1m3 0h7m3 0h2m1 0h1m4 0h4m2 0h1m1 0h2m2 0h1m1 0h2m4 0h1m4 0h3m2 0h1m4 0h3m4 0h1m13 0h1m11 0h1m-221 1h1m7 0h1m1 0h1m17 0h1m3 0h1m12 0h1m1 0h1m1 0h1m2 0h1m6 0h1m5 0h3m1 0h6m1 0h2m1 0h4m3 0h1m3 0h1m1 0h11m1 0h13m2 0h6m2 0h3m1 0h4m1 0h1m1 0h3m1 0h4m1 0h1m5 0h1m3 0h2m1 0h1m1 0h2m4 0h1m5 0h3m5 0h1m3 0h3m12 0h1m11 0h1m8 0h1m-219 1h1m8 0h1m20 0h1m7 0h1m2 0h1m5 0h1m6 0h1m2 0h2m3 0h2m2 0h2m2 0h1m2 0h4m2 0h2m4 0h1m1 0h2m2 0h2m1 0h3m1 0h6m1 0h1m3 0h8m1 0h1m1 0h1m1 0h3m1 0h2m1 0h2m3 0h2m1 0h1m1 0h2m1 0h2m1 0h2m1 0h2m5 0h1m1 0h2m1 0h5m2 0h2m2 0h1m12 0h1m9 0h2m9 0h1m-214 1h1m5 0h1m16 0h1m2 0h1m6 0h1m11 0h1m3 0h1m3 0h1m1 0h2m1 0h2m1 0h1m3 0h1m7 0h1m2 0h1m3 0h7m3 0h1m1 0h2m1 0h1m1 0h2m1 0h2m1 0h15m1 0h1m1 0h7m1 0h5m1 0h3m1 0h8m1 0h2m1 0h1m1 0h1m1 0h6m2 0h2m1 0h1m1 0h5m2 0h1m1 0h1m6 0h1m6 0h1m10 0h2m16 0h2m-204 1h1m14 0h1m4 0h1m10 0h2m2 0h1m1 0h1m3 0h1m1 0h1m1 0h1m4 0h3m1 0h3m1 0h3m3 0h4m1 0h2m1 0h2m1 0h5m1 0h2m1 0h6m1 0h2m1 0h12m2 0h4m1 0h7m1 0h8m1 0h2m1 0h2m3 0h1m1 0h1m1 0h1m8 0h3m5 0h1m2 0h1m1 0h2m2 0h2m2 0h1m7 0h1m1 0h1m-181 1h1m1 0h1m13 0h1m4 0h1m2 0h1m4 0h2m8 0h1m2 0h3m4 0h2m1 0h3m2 0h2m4 0h11m1 0h1m1 0h12m1 0h7m2 0h7m1 0h4m1 0h2m1 0h4m1 0h10m2 0h3m1 0h1m4 0h1m1 0h3m3 0h1m1 0h4m1 0h1m1 0h1m7 0h1m1 0h1m1 0h2m1 0h1m1 0h1m2 0h1m7 0h1m2 0h1m-170 1h1m11 0h2m2 0h4m1 0h1m2 0h4m1 0h1m1 0h1m1 0h1m1 0h2m3 0h1m1 0h3m1 0h1m1 0h6m1 0h3m1 0h2m2 0h3m1 0h2m1 0h5m1 0h7m1 0h16m1 0h9m1 0h1m1 0h5m3 0h2m1 0h1m1 0h4m4 0h1m2 0h3m1 0h1m1 0h2m1 0h1m7 0h1m2 0h1m15 0h1m-207 1h1m5 0h1m9 0h1m5 0h1m12 0h2m2 0h1m1 0h1m3 0h2m5 0h1m1 0h1m2 0h1m2 0h1m6 0h3m1 0h4m1 0h9m1 0h1m1 0h4m1 0h27m1 0h6m1 0h1m1 0h3m1 0h6m1 0h12m1 0h4m1 0h2m1 0h3m1 0h1m2 0h3m13 0h1m17 0h1m3 0h1m1 0h1m-200 1h1m11 0h1m5 0h1m2 0h2m5 0h1m7 0h2m2 0h1m1 0h1m1 0h1m2 0h2m6 0h4m1 0h3m2 0h1m2 0h36m1 0h15m1 0h5m3 0h5m1 0h2m1 0h2m2 0h3m1 0h2m1 0h1m1 0h1m2 0h1m8 0h4m1 0h1m4 0h1m3 0h1m16 0h1m14 0h1m10 0h1m3 0h1m-240 1h1m6 0h1m4 0h1m8 0h1m1 0h1m7 0h1m11 0h1m5 0h1m2 0h3m1 0h1m1 0h4m3 0h2m2 0h5m2 0h5m1 0h6m1 0h1m1 0h12m1 0h37m1 0h2m1 0h2m1 0h2m1 0h7m3 0h1m1 0h1m4 0h1m1 0h1m1 0h1m2 0h1m3 0h1m5 0h3m2 0h2m5 0h1m2 0h2m3 0h1m-194 1h1m3 0h1m2 0h1m1 0h1m12 0h1m2 0h1m5 0h1m3 0h1m2 0h2m1 0h2m4 0h2m2 0h2m1 0h1m1 0h4m2 0h1m1 0h5m1 0h5m1 0h57m1 0h5m2 0h1m1 0h5m1 0h3m2 0h5m1 0h2m2 0h5m3 0h1m1 0h1m2 0h1m4 0h1m3 0h1m2 0h2m30 0h1m-213 1h2m2 0h1m1 0h1m2 0h1m11 0h2m9 0h1m2 0h1m4 0h1m2 0h2m1 0h3m1 0h8m4 0h57m1 0h10m1 0h1m1 0h2m1 0h1m1 0h2m1 0h1m2 0h6m1 0h1m3 0h1m5 0h3m2 0h2m2 0h1m3 0h1m10 0h1m-208 1h1m7 0h2m19 0h1m9 0h1m3 0h1m2 0h2m6 0h1m1 0h3m2 0h6m4 0h1m1 0h1m2 0h5m1 0h62m1 0h12m1 0h1m1 0h4m2 0h3m1 0h2m1 0h4m1 0h1m4 0h1m5 0h2m3 0h1m1 0h2m6 0h1m2 0h1m8 0h1m-197 1h1m3 0h1m2 0h1m3 0h1m1 0h1m3 0h1m1 0h2m1 0h1m5 0h1m1 0h1m3 0h1m1 0h1m1 0h1m1 0h2m1 0h6m3 0h2m1 0h1m2 0h1m2 0h5m1 0h68m1 0h1m1 0h1m1 0h1m1 0h2m1 0h1m1 0h6m2 0h1m4 0h1m1 0h2m1 0h1m3 0h4m1 0h1m3 0h1m1 0h1m4 0h1m2 0h2m15 0h1m-196 1h1m1 0h1m2 0h1m2 0h1m6 0h1m1 0h1m7 0h1m3 0h3m2 0h1m1 0h3m1 0h1m1 0h10m1 0h71m1 0h4m2 0h1m1 0h6m2 0h3m1 0h1m1 0h1m2 0h1m3 0h1m4 0h2m2 0h1m11 0h1m5 0h1m10 0h1m11 0h1m-236 1h1m24 0h1m1 0h1m2 0h1m3 0h1m1 0h2m1 0h1m5 0h2m2 0h1m1 0h1m3 0h2m2 0h1m1 0h2m3 0h1m1 0h3m1 0h91m2 0h1m1 0h3m1 0h1m1 0h1m1 0h1m2 0h2m1 0h2m1 0h3m8 0h1m10 0h1m10 0h1m-196 1h1m10 0h1m1 0h1m1 0h2m3 0h1m4 0h1m1 0h3m3 0h2m2 0h5m1 0h90m1 0h4m1 0h3m1 0h1m1 0h4m1 0h1m1 0h2m1 0h4m1 0h1m1 0h1m4 0h1m3 0h1m1 0h1m2 0h2m3 0h1m8 0h1m10 0h1m17 0h1m-225 1h1m8 0h2m4 0h1m1 0h1m5 0h6m2 0h1m1 0h1m3 0h4m1 0h3m1 0h2m1 0h8m2 0h6m1 0h74m1 0h3m1 0h1m2 0h4m1 0h1m2 0h3m1 0h1m1 0h1m2 0h1m2 0h3m5 0h1m7 0h1m6 0h1m3 0h1m2 0h1m-219 1h1m35 0h2m2 0h1m1 0h1m3 0h4m5 0h1m1 0h3m5 0h2m1 0h1m2 0h4m1 0h88m1 0h12m1 0h3m2 0h2m7 0h2m1 0h1m7 0h1m5 0h1m3 0h1m17 0h1m2 0h1m7 0h1m-232 1h1m26 0h1m1 0h1m6 0h1m1 0h3m1 0h1m3 0h4m1 0h1m2 0h5m2 0h93m1 0h2m1 0h4m1 0h4m3 0h1m2 0h1m3 0h2m1 0h1m2 0h1m3 0h2m2 0h1m7 0h1m4 0h1m12 0h1m-232 1h1m1 0h1m12 0h1m7 0h1m12 0h1m6 0h1m1 0h4m1 0h1m3 0h1m1 0h1m2 0h1m3 0h1m2 0h7m1 0h5m1 0h3m1 0h90m1 0h2m1 0h1m4 0h2m2 0h1m1 0h1m2 0h2m2 0h2m2 0h1m3 0h1m17 0h1m11 0h1m-205 1h1m2 0h1m5 0h1m2 0h1m14 0h3m1 0h3m1 0h2m1 0h104m1 0h4m3 0h2m1 0h1m10 0h2m1 0h2m12 0h1m2 0h1m1 0h1m1 0h1m3 0h1m2 0h1m10 0h1m2 0h1m-240 1h1m14 0h1m1 0h1m12 0h3m6 0h1m5 0h1m3 0h2m5 0h5m2 0h3m1 0h3m1 0h2m1 0h1m1 0h5m1 0h94m2 0h1m1 0h3m4 0h1m2 0h1m1 0h2m1 0h2m4 0h1m7 0h1m2 0h1m3 0h2m7 0h2m19 0h1m-252 1h1m29 0h2m17 0h2m2 0h2m1 0h1m1 0h1m1 0h1m3 0h4m1 0h1m1 0h11m1 0h102m1 0h6m1 0h1m2 0h2m4 0h4m2 0h1m5 0h1m15 0h1m-222 1h1m13 0h1m9 0h2m3 0h1m1 0h1m2 0h1m4 0h2m1 0h1m4 0h1m2 0h3m1 0h1m2 0h2m3 0h1m1 0h1m1 0h3m1 0h100m2 0h3m2 0h2m2 0h1m1 0h1m1 0h2m5 0h2m2 0h1m1 0h2m1 0h1m1 0h1m6 0h1m6 0h1m2 0h1m-200 1h1m9 0h1m2 0h1m2 0h2m3 0h1m2 0h1m1 0h2m1 0h1m1 0h2m1 0h1m3 0h2m1 0h2m1 0h1m1 0h3m1 0h104m1 0h1m2 0h3m1 0h2m1 0h1m3 0h4m1 0h1m1 0h1m4 0h2m2 0h1m40 0h1m-215 1h1m2 0h1m2 0h1m6 0h1m1 0h1m4 0h1m1 0h1m2 0h1m1 0h1m2 0h9m1 0h99m1 0h3m3 0h2m2 0h1m1 0h2m1 0h2m6 0h1m1 0h1m1 0h1m4 0h1m12 0h1m1 0h1m-202 1h1m1 0h1m2 0h1m1 0h1m9 0h2m3 0h1m1 0h1m1 0h1m4 0h1m1 0h3m3 0h3m1 0h1m1 0h3m1 0h98m1 0h9m1 0h8m3 0h2m3 0h4m1 0h2m2 0h1m1 0h1m1 0h1m4 0h2m17 0h1m-201 1h1m1 0h2m7 0h1m1 0h1m2 0h5m1 0h3m1 0h1m3 0h1m2 0h110m1 0h6m1 0h1m4 0h2m2 0h1m1 0h1m2 0h4m5 0h2m2 0h1m7 0h2m13 0h1m-245 1h1m15 0h1m7 0h1m4 0h1m3 0h1m5 0h1m12 0h1m1 0h1m1 0h2m1 0h1m3 0h4m1 0h2m1 0h1m1 0h3m1 0h110m2 0h1m1 0h1m1 0h5m1 0h2m2 0h2m1 0h1m1 0h1m2 0h1m2 0h1m4 0h2m3 0h1m-191 1h1m4 0h1m2 0h1m3 0h2m2 0h1m1 0h2m2 0h1m2 0h1m2 0h4m1 0h1m4 0h5m1 0h108m1 0h6m3 0h2m1 0h1m6 0h1m3 0h1m2 0h1m1 0h2m3 0h2m6 0h1m15 0h1m-216 1h2m5 0h1m4 0h1m1 0h1m1 0h1m2 0h1m1 0h1m2 0h1m4 0h2m1 0h1m1 0h2m1 0h2m4 0h110m1 0h4m1 0h1m1 0h1m2 0h2m1 0h3m1 0h2m1 0h1m1 0h1m1 0h2m1 0h1m3 0h1m1 0h1m3 0h1m8 0h1m11 0h1m13 0h1m-229 1h1m6 0h1m3 0h1m5 0h1m1 0h1m1 0h2m1 0h1m2 0h2m1 0h4m3 0h2m1 0h2m5 0h113m1 0h5m1 0h2m3 0h2m1 0h5m1 0h1m2 0h1m1 0h2m7 0h1m3 0h1m2 0h1m16 0h1m1 0h1m-209 1h3m12 0h1m4 0h1m2 0h2m1 0h1m2 0h1m1 0h4m1 0h114m2 0h4m1 0h1m2 0h2m6 0h1m4 0h1m1 0h2m2 0h1m2 0h1m17 0h1m7 0h1m-246 1h1m2 0h1m28 0h1m2 0h1m1 0h1m4 0h2m2 0h1m6 0h1m1 0h3m1 0h2m2 0h8m1 0h113m1 0h5m1 0h2m2 0h2m1 0h2m1 0h1m3 0h2m2 0h1m5 0h1m4 0h1m6 0h1m-200 1h1m2 0h1m1 0h1m4 0h2m4 0h3m4 0h1m2 0h3m1 0h2m1 0h2m1 0h7m1 0h111m1 0h9m2 0h3m1 0h1m1 0h3m2 0h5m6 0h1m1 0h1m6 0h1m18 0h1m3 0h2m-244 1h2m11 0h1m9 0h1m2 0h1m6 0h1m9 0h6m2 0h1m2 0h5m3 0h117m1 0h1m1 0h1m1 0h3m1 0h1m1 0h1m1 0h4m2 0h1m1 0h1m2 0h1m3 0h1m5 0h1m3 0h1m4 0h1m7 0h1m-229 1h1m10 0h1m4 0h1m5 0h1m1 0h1m1 0h1m5 0h1m3 0h1m1 0h1m1 0h7m1 0h3m3 0h8m1 0h3m1 0h117m1 0h1m1 0h2m1 0h2m1 0h2m1 0h3m1 0h1m2 0h1m2 0h1m3 0h2m4 0h1m7 0h1m-225 1h1m9 0h1m20 0h1m1 0h2m1 0h2m2 0h1m6 0h1m2 0h1m1 0h8m1 0h120m1 0h6m2 0h2m3 0h1m3 0h1m8 0h2m3 0h1m7 0h1m4 0h1m-232 1h1m2 0h1m12 0h1m3 0h1m2 0h2m7 0h1m3 0h1m2 0h1m9 0h1m1 0h5m1 0h2m1 0h2m1 0h5m1 0h117m1 0h4m2 0h1m1 0h1m2 0h6m1 0h2m1 0h1m2 0h1m2 0h3m7 0h1m3 0h1m4 0h1m15 0h1m-255 1h1m2 0h1m5 0h1m9 0h1m1 0h1m12 0h1m3 0h1m3 0h1m2 0h1m1 0h1m5 0h2m2 0h1m1 0h1m1 0h2m1 0h1m1 0h2m1 0h1m1 0h1m1 0h119m1 0h2m3 0h1m4 0h3m3 0h2m2 0h1m4 0h1m2 0h1m1 0h1m5 0h1m-208 1h1m11 0h1m3 0h1m11 0h1m3 0h8m1 0h2m1 0h2m2 0h3m1 0h114m1 0h2m1 0h4m1 0h9m1 0h2m1 0h1m3 0h1m3 0h1m2 0h1m3 0h1m4 0h1m26 0h1m-252 1h1m6 0h1m4 0h1m10 0h1m1 0h1m9 0h1m9 0h2m2 0h4m1 0h2m1 0h2m2 0h2m1 0h115m1 0h1m1 0h9m1 0h1m1 0h2m2 0h4m5 0h1m3 0h1m3 0h1m5 0h1m9 0h1m-223 1h1m2 0h1m3 0h1m5 0h1m2 0h1m7 0h1m3 0h1m4 0h7m2 0h1m1 0h12m1 0h115m1 0h9m1 0h1m1 0h1m2 0h1m1 0h2m4 0h1m1 0h2m1 0h1m7 0h1m1 0h1m22 0h1m-248 1h1m18 0h1m2 0h1m3 0h1m5 0h2m2 0h1m4 0h3m4 0h2m1 0h3m3 0h1m1 0h2m2 0h2m1 0h130m2 0h1m2 0h2m3 0h2m6 0h2m20 0h1m4 0h1m-225 1h1m7 0h1m8 0h1m5 0h1m1 0h3m1 0h1m4 0h3m3 0h1m2 0h3m1 0h120m1 0h12m5 0h1m1 0h1m1 0h1m3 0h1m1 0h1m4 0h1m6 0h1m-195 1h1m2 0h1m2 0h1m5 0h2m1 0h1m8 0h1m1 0h2m1 0h4m1 0h1m2 0h1m1 0h116m1 0h9m3 0h2m1 0h1m1 0h2m2 0h3m3 0h3m3 0h1m1 0h1m3 0h1m7 0h1m21 0h1m-256 1h1m26 0h1m1 0h1m13 0h2m1 0h2m1 0h1m4 0h1m7 0h128m1 0h1m1 0h7m1 0h1m1 0h1m1 0h1m2 0h2m1 0h1m2 0h2m9 0h3m-221 1h1m8 0h1m4 0h1m7 0h1m2 0h1m1 0h3m9 0h2m1 0h2m4 0h3m1 0h2m2 0h124m2 0h2m1 0h1m7 0h4m1 0h1m1 0h2m1 0h2m5 0h1m1 0h1m2 0h1m3 0h1m3 0h1m11 0h2m5 0h1m-238 1h2m7 0h1m11 0h1m8 0h2m1 0h1m1 0h1m1 0h2m2 0h1m1 0h3m2 0h1m1 0h5m1 0h123m2 0h2m1 0h1m1 0h1m2 0h1m2 0h1m2 0h1m1 0h3m3 0h2m15 0h1m-219 1h1m14 0h1m3 0h1m1 0h1m2 0h2m3 0h2m3 0h1m1 0h2m1 0h7m1 0h5m1 0h121m2 0h1m1 0h1m2 0h3m4 0h1m1 0h2m2 0h1m1 0h1m2 0h1m1 0h2m2 0h1m1 0h2m3 0h1m9 0h1m6 0h1m-216 1h2m3 0h2m2 0h1m4 0h1m1 0h2m1 0h1m2 0h1m1 0h1m1 0h5m1 0h3m1 0h120m1 0h4m2 0h5m1 0h1m1 0h3m1 0h4m1 0h2m4 0h1m1 0h2m7 0h1m27 0h1m-238 1h1m1 0h1m4 0h1m24 0h1m1 0h1m2 0h1m1 0h7m1 0h129m1 0h3m2 0h2m3 0h1m1 0h1m1 0h1m1 0h2m1 0h2m3 0h1m2 0h2m2 0h3m5 0h1m1 0h1m5 0h1m12 0h1m-248 1h1m13 0h1m13 0h1m9 0h1m2 0h1m1 0h1m2 0h2m2 0h1m1 0h4m1 0h125m3 0h1m3 0h1m1 0h1m3 0h2m2 0h1m11 0h1m1 0h1m1 0h1m15 0h1m-238 1h1m2 0h1m11 0h1m13 0h1m11 0h1m2 0h2m3 0h3m2 0h2m2 0h1m1 0h5m1 0h1m1 0h130m1 0h3m1 0h1m1 0h2m2 0h2m1 0h1m4 0h1m2 0h1m1 0h2m2 0h1m1 0h1m1 0h1m2 0h1m2 0h1m-239 1h1m11 0h1m2 0h1m12 0h1m1 0h2m16 0h1m3 0h1m2 0h1m2 0h1m3 0h2m1 0h127m1 0h1m1 0h1m3 0h4m1 0h2m1 0h1m1 0h2m3 0h3m4 0h2m8 0h1m3 0h2m11 0h1m-230 1h1m15 0h1m2 0h1m1 0h1m1 0h1m2 0h1m1 0h2m3 0h2m2 0h3m4 0h129m1 0h4m4 0h3m1 0h1m1 0h3m7 0h2m1 0h1m10 0h1m7 0h2m-227 1h1m13 0h1m10 0h1m2 0h1m1 0h1m5 0h1m3 0h4m2 0h3m1 0h4m2 0h119m2 0h1m2 0h4m2 0h1m1 0h5m1 0h1m3 0h1m1 0h3m7 0h1m2 0h1m2 0h1m3 0h2m-223 1h1m3 0h2m5 0h1m2 0h1m1 0h1m3 0h1m3 0h1m2 0h1m3 0h2m2 0h1m5 0h2m1 0h3m2 0h2m1 0h3m4 0h118m2 0h1m1 0h2m2 0h2m2 0h1m1 0h1m2 0h1m3 0h5m2 0h1m1 0h1m5 0h1m3 0h1m4 0h1m4 0h1m2 0h1m-219 1h1m1 0h1m1 0h1m3 0h1m2 0h1m3 0h1m5 0h1m2 0h1m2 0h1m1 0h1m3 0h4m1 0h1m2 0h2m1 0h124m1 0h2m1 0h1m1 0h1m1 0h1m6 0h2m3 0h1m2 0h1m1 0h2m1 0h1m2 0h1m4 0h1m-215 1h2m17 0h1m3 0h1m1 0h3m1 0h4m4 0h1m3 0h7m1 0h129m1 0h1m1 0h1m1 0h3m1 0h1m2 0h1m4 0h2m1 0h1m1 0h4m2 0h1m5 0h1m11 0h1m-238 1h1m13 0h1m4 0h2m3 0h1m6 0h1m6 0h1m3 0h1m1 0h1m1 0h1m6 0h7m2 0h1m1 0h1m2 0h1m1 0h122m1 0h4m2 0h2m2 0h4m5 0h1m3 0h2m1 0h1m1 0h2m-217 1h1m2 0h1m21 0h1m2 0h1m6 0h1m2 0h3m1 0h1m1 0h1m3 0h1m1 0h1m1 0h2m1 0h2m1 0h125m1 0h4m4 0h8m5 0h3m23 0h2m6 0h1m-228 1h1m14 0h2m5 0h1m1 0h1m3 0h2m2 0h2m4 0h2m2 0h1m1 0h1m1 0h4m1 0h122m1 0h1m2 0h2m2 0h4m1 0h3m1 0h1m5 0h1m10 0h1m1 0h1m4 0h2m-203 1h1m6 0h1m2 0h1m6 0h5m2 0h3m1 0h7m1 0h3m1 0h1m1 0h120m2 0h1m2 0h3m2 0h1m1 0h1m2 0h1m12 0h1m2 0h1m13 0h1m7 0h1m3 0h1m-253 1h1m27 0h1m7 0h1m2 0h1m4 0h1m2 0h1m1 0h1m2 0h3m1 0h2m1 0h5m1 0h2m1 0h6m1 0h1m1 0h107m1 0h10m1 0h2m1 0h1m1 0h2m4 0h4m4 0h2m6 0h1m10 0h1m-210 1h1m2 0h1m8 0h1m10 0h2m2 0h1m2 0h2m3 0h3m1 0h1m1 0h4m1 0h118m1 0h6m2 0h1m4 0h1m7 0h1m3 0h3m11 0h2m17 0h1m3 0h1m-229 1h1m7 0h1m1 0h1m2 0h1m7 0h2m3 0h1m5 0h1m1 0h1m2 0h1m3 0h1m1 0h2m1 0h1m2 0h111m1 0h3m1 0h8m2 0h1m2 0h1m2 0h2m1 0h3m1 0h2m4 0h1m7 0h1m20 0h1m1 0h1m-220 1h1m1 0h1m5 0h1m1 0h1m7 0h1m5 0h2m1 0h3m1 0h2m1 0h2m1 0h6m2 0h111m1 0h6m1 0h3m1 0h1m13 0h1m4 0h2m1 0h2m-217 1h1m1 0h1m20 0h1m1 0h1m8 0h1m4 0h1m2 0h1m1 0h2m2 0h1m2 0h1m4 0h15m1 0h116m2 0h2m1 0h2m1 0h1m1 0h1m2 0h1m1 0h1m3 0h2m2 0h1m1 0h1m7 0h1m11 0h1m8 0h1m6 0h1m-245 1h1m28 0h1m6 0h1m3 0h1m4 0h1m2 0h1m2 0h2m2 0h1m1 0h2m1 0h1m1 0h1m1 0h111m2 0h10m1 0h3m1 0h1m1 0h1m1 0h1m3 0h1m1 0h1m21 0h1m16 0h1m-233 1h1m13 0h1m2 0h1m4 0h2m6 0h1m2 0h1m3 0h1m4 0h2m1 0h2m2 0h3m1 0h111m1 0h1m1 0h2m1 0h1m1 0h3m4 0h2m1 0h1m1 0h1m1 0h1m2 0h2m6 0h1m1 0h1m6 0h1m2 0h1m2 0h1m7 0h1m-229 1h1m25 0h2m3 0h2m3 0h1m2 0h1m1 0h1m3 0h2m1 0h1m1 0h1m1 0h8m2 0h1m1 0h3m1 0h104m1 0h4m1 0h7m4 0h1m1 0h2m1 0h1m4 0h2m1 0h1m1 0h1m3 0h1m2 0h1m-206 1h1m9 0h1m3 0h4m16 0h1m4 0h2m3 0h1m3 0h2m1 0h2m1 0h3m1 0h1m1 0h100m1 0h4m1 0h2m1 0h4m1 0h5m4 0h2m2 0h1m2 0h5m12 0h1m15 0h2m-219 1h1m18 0h1m2 0h3m1 0h1m2 0h3m2 0h1m5 0h1m1 0h1m1 0h2m2 0h1m1 0h5m1 0h2m1 0h103m1 0h2m3 0h1m1 0h3m1 0h6m9 0h1m1 0h1m4 0h1m1 0h1m6 0h2m23 0h1m-253 1h1m20 0h1m23 0h1m6 0h2m1 0h1m2 0h1m1 0h4m4 0h2m1 0h4m2 0h102m1 0h3m2 0h2m1 0h1m1 0h3m1 0h2m3 0h1m3 0h1m5 0h1m1 0h1m7 0h2m2 0h2m3 0h1m11 0h1m1 0h1m-227 1h1m15 0h2m10 0h1m3 0h1m1 0h1m2 0h2m3 0h1m1 0h2m1 0h3m1 0h110m1 0h6m5 0h6m1 0h2m2 0h2m1 0h1m4 0h1m1 0h1m2 0h2m10 0h1m10 0h1m-228 1h1m8 0h1m20 0h3m4 0h1m2 0h2m2 0h5m3 0h2m4 0h6m1 0h2m1 0h97m1 0h2m2 0h5m2 0h7m2 0h1m1 0h1m1 0h2m3 0h1m2 0h1m4 0h1m2 0h1m1 0h2m16 0h1m11 0h1m-234 1h1m15 0h1m19 0h1m3 0h1m2 0h1m1 0h1m3 0h1m2 0h2m1 0h1m1 0h2m1 0h1m1 0h5m1 0h1m1 0h91m1 0h8m3 0h4m2 0h3m3 0h4m8 0h1m2 0h1m5 0h1m2 0h2m8 0h1m-235 1h1m33 0h1m9 0h1m5 0h1m2 0h4m2 0h2m3 0h2m5 0h5m1 0h107m2 0h2m1 0h2m2 0h1m1 0h1m1 0h3m2 0h1m3 0h1m4 0h1m3 0h2m3 0h1m5 0h2m2 0h1m1 0h1m6 0h1m3 0h1m8 0h1m-233 1h1m14 0h1m5 0h1m2 0h1m4 0h1m5 0h1m2 0h1m2 0h1m4 0h3m1 0h1m3 0h1m2 0h1m1 0h95m1 0h6m1 0h1m1 0h2m1 0h2m3 0h2m2 0h2m1 0h1m5 0h3m1 0h1m5 0h1m3 0h1m4 0h1m1 0h1m6 0h1m4 0h1m10 0h1m3 0h1m-246 1h2m9 0h1m12 0h1m8 0h1m10 0h1m1 0h2m1 0h1m3 0h2m1 0h1m3 0h1m2 0h2m1 0h3m2 0h3m1 0h1m1 0h3m1 0h90m1 0h6m2 0h1m1 0h1m1 0h3m1 0h1m1 0h1m1 0h1m1 0h1m1 0h3m2 0h2m3 0h1m2 0h1m5 0h2m9 0h1m-228 1h1m10 0h1m16 0h1m1 0h1m7 0h1m1 0h1m2 0h1m1 0h1m3 0h2m1 0h1m1 0h1m1 0h2m1 0h3m1 0h5m2 0h2m1 0h92m1 0h1m1 0h1m1 0h4m1 0h2m1 0h1m1 0h4m9 0h2m4 0h2m1 0h1m2 0h2m20 0h2m-232 1h1m26 0h1m11 0h1m3 0h4m1 0h1m2 0h1m1 0h2m2 0h2m1 0h1m1 0h3m2 0h8m2 0h3m1 0h5m1 0h92m1 0h3m1 0h2m2 0h1m1 0h1m1 0h3m1 0h1m4 0h1m1 0h2m2 0h1m3 0h1m1 0h2m20 0h1m5 0h1m-218 1h1m5 0h1m4 0h2m1 0h1m11 0h1m2 0h2m2 0h1m7 0h1m1 0h1m2 0h2m4 0h4m1 0h4m2 0h91m3 0h3m2 0h2m2 0h1m3 0h1m4 0h1m3 0h1m1 0h2m2 0h1m4 0h1m2 0h2m9 0h1m13 0h1m-225 1h1m20 0h1m4 0h1m1 0h1m10 0h2m1 0h2m3 0h2m2 0h4m1 0h2m4 0h2m1 0h78m1 0h8m2 0h1m2 0h2m1 0h1m1 0h1m1 0h2m2 0h1m4 0h1m1 0h1m1 0h1m4 0h1m4 0h4m3 0h1m-193 1h1m10 0h1m2 0h1m1 0h3m8 0h1m3 0h1m1 0h1m1 0h1m1 0h1m1 0h1m3 0h1m2 0h7m1 0h3m2 0h1m1 0h3m1 0h2m1 0h72m1 0h6m1 0h3m1 0h4m1 0h1m1 0h4m1 0h2m1 0h2m2 0h3m4 0h1m12 0h1m4 0h1m11 0h1m20 0h1m-234 1h1m18 0h1m7 0h1m1 0h1m3 0h2m1 0h1m3 0h3m3 0h1m2 0h1m1 0h3m1 0h2m1 0h2m1 0h3m2 0h4m1 0h6m1 0h78m1 0h6m1 0h4m2 0h1m4 0h1m4 0h4m12 0h1m4 0h1m3 0h1m4 0h1m4 0h1m1 0h1m-238 1h1m6 0h1m8 0h1m9 0h2m4 0h1m2 0h2m8 0h1m3 0h1m7 0h1m2 0h1m1 0h1m1 0h6m2 0h3m1 0h5m1 0h1m1 0h1m2 0h1m1 0h4m1 0h68m2 0h8m2 0h3m3 0h1m3 0h1m1 0h1m6 0h3m11 0h1m1 0h3m4 0h3m2 0h2m4 0h1m29 0h2m-245 1h1m23 0h1m13 0h1m1 0h1m8 0h2m1 0h1m2 0h3m1 0h3m2 0h2m3 0h1m1 0h3m2 0h7m1 0h2m1 0h58m1 0h5m1 0h4m1 0h3m2 0h1m1 0h1m1 0h1m2 0h2m1 0h1m1 0h1m1 0h1m3 0h1m6 0h1m4 0h1m6 0h1m1 0h1m9 0h1m19 0h1m-220 1h1m17 0h2m6 0h3m10 0h2m1 0h2m1 0h1m1 0h1m2 0h1m2 0h1m1 0h4m1 0h5m2 0h3m1 0h60m1 0h9m1 0h2m1 0h3m1 0h4m2 0h2m1 0h2m1 0h2m1 0h2m4 0h1m1 0h2m5 0h2m5 0h1m5 0h2m6 0h2m-198 1h1m10 0h1m6 0h1m10 0h3m1 0h1m1 0h1m5 0h3m2 0h1m1 0h8m3 0h2m1 0h1m2 0h2m1 0h57m2 0h9m2 0h1m1 0h2m2 0h1m1 0h1m3 0h3m1 0h3m1 0h2m2 0h1m4 0h1m2 0h1m1 0h1m2 0h1m12 0h2m9 0h1m6 0h1m16 0h1m-253 1h1m29 0h1m9 0h1m7 0h1m3 0h1m4 0h1m2 0h2m4 0h3m1 0h2m1 0h1m1 0h3m3 0h1m1 0h3m2 0h3m1 0h1m2 0h2m1 0h2m1 0h57m1 0h9m1 0h1m2 0h2m2 0h1m7 0h3m1 0h2m2 0h2m8 0h1m6 0h1m1 0h1m18 0h1m19 0h1m-226 1h1m17 0h1m4 0h1m3 0h1m1 0h2m11 0h1m3 0h1m2 0h1m1 0h3m1 0h2m2 0h1m2 0h1m1 0h3m1 0h2m1 0h2m1 0h2m1 0h53m1 0h2m1 0h4m1 0h2m2 0h1m1 0h4m1 0h1m1 0h1m1 0h1m1 0h1m2 0h2m1 0h2m5 0h1m6 0h1m2 0h1m6 0h1m2 0h1m9 0h2m4 0h1m14 0h1m-190 1h1m5 0h1m1 0h1m3 0h1m3 0h1m4 0h1m1 0h1m3 0h1m1 0h2m2 0h4m2 0h1m2 0h5m1 0h3m1 0h22m1 0h6m1 0h4m1 0h11m1 0h1m1 0h5m2 0h5m1 0h1m1 0h5m4 0h3m2 0h5m1 0h1m1 0h1m5 0h1m6 0h1m2 0h1m1 0h2m12 0h1m17 0h1m-224 1h1m8 0h1m25 0h1m1 0h2m2 0h1m11 0h3m3 0h7m2 0h2m1 0h3m1 0h3m1 0h2m2 0h2m1 0h31m1 0h6m1 0h1m1 0h1m1 0h1m1 0h7m2 0h6m2 0h1m1 0h3m1 0h1m1 0h2m1 0h3m1 0h1m3 0h2m4 0h1m2 0h1m2 0h2m21 0h1m11 0h1m-204 1h1m25 0h1m1 0h2m6 0h1m2 0h1m2 0h1m1 0h2m6 0h1m1 0h1m1 0h6m2 0h2m1 0h3m1 0h1m1 0h27m1 0h16m1 0h2m1 0h1m2 0h2m1 0h1m1 0h2m1 0h1m1 0h2m1 0h5m2 0h2m3 0h1m9 0h3m2 0h1m14 0h1m2 0h1m7 0h1m8 0h1m-234 1h1m31 0h1m7 0h1m5 0h2m1 0h1m8 0h1m1 0h1m7 0h3m2 0h1m2 0h2m1 0h2m2 0h3m2 0h5m1 0h1m1 0h1m1 0h4m1 0h33m1 0h1m1 0h7m1 0h1m3 0h1m1 0h8m1 0h1m1 0h2m1 0h7m5 0h1m5 0h1m3 0h2m2 0h1m1 0h1m1 0h1m7 0h1m8 0h2m3 0h1m15 0h1m1 0h1m-208 1h1m8 0h1m12 0h1m8 0h1m8 0h1m7 0h2m7 0h2m2 0h3m2 0h2m2 0h1m1 0h2m1 0h30m1 0h1m1 0h3m1 0h3m1 0h2m1 0h4m1 0h5m1 0h2m2 0h2m1 0h2m3 0h4m2 0h2m2 0h1m6 0h2m1 0h2m9 0h2m3 0h1m1 0h1m6 0h1m20 0h1m-211 1h1m8 0h1m2 0h1m6 0h2m2 0h1m11 0h1m1 0h1m1 0h1m4 0h1m1 0h1m3 0h2m5 0h1m1 0h1m2 0h1m4 0h1m2 0h1m4 0h1m1 0h3m1 0h28m1 0h5m1 0h3m2 0h3m1 0h5m3 0h6m2 0h2m1 0h1m1 0h2m1 0h1m1 0h1m1 0h3m2 0h3m1 0h1m2 0h1m1 0h1m3 0h1m8 0h1m4 0h1m8 0h1m36 0h1m-229 1h1m9 0h1m18 0h1m7 0h1m1 0h1m2 0h1m3 0h1m2 0h1m6 0h1m2 0h1m3 0h1m1 0h4m1 0h1m2 0h30m1 0h9m2 0h3m1 0h1m1 0h6m1 0h1m2 0h4m1 0h3m1 0h2m6 0h1m1 0h1m2 0h1m1 0h1m9 0h1m1 0h1m10 0h1m4 0h1m3 0h1m-177 1h1m10 0h1m1 0h1m4 0h1m4 0h1m15 0h2m1 0h1m1 0h3m3 0h4m1 0h2m1 0h4m1 0h32m1 0h3m2 0h1m1 0h4m1 0h1m4 0h3m1 0h1m3 0h1m1 0h1m2 0h1m1 0h1m8 0h2m1 0h1m1 0h1m16 0h1m3 0h1m-188 1h1m1 0h1m14 0h1m10 0h1m7 0h3m7 0h2m2 0h2m5 0h2m2 0h2m2 0h1m2 0h2m3 0h5m1 0h1m1 0h48m1 0h2m1 0h11m7 0h1m1 0h2m1 0h1m1 0h1m4 0h2m6 0h1m4 0h1m3 0h1m1 0h1m1 0h1m16 0h1m4 0h1m-196 1h1m18 0h1m8 0h1m16 0h1m1 0h1m2 0h1m2 0h2m2 0h1m6 0h1m3 0h50m1 0h1m1 0h1m1 0h2m1 0h2m1 0h3m4 0h1m1 0h2m3 0h1m3 0h1m1 0h1m12 0h1m2 0h1m2 0h1m2 0h1m30 0h1m-192 1h1m2 0h1m1 0h1m7 0h1m8 0h2m2 0h1m5 0h1m7 0h1m3 0h1m6 0h1m4 0h53m1 0h3m1 0h1m2 0h1m1 0h2m1 0h12m2 0h1m2 0h3m5 0h1m9 0h1m2 0h1m2 0h2m-157 1h1m10 0h1m4 0h1m1 0h2m3 0h1m2 0h1m4 0h2m1 0h3m1 0h1m1 0h2m1 0h2m1 0h57m1 0h3m1 0h2m1 0h2m2 0h1m1 0h3m1 0h2m2 0h1m1 0h5m2 0h2m8 0h3m1 0h1m3 0h1m3 0h1m8 0h1m12 0h1m-182 1h1m22 0h1m4 0h2m1 0h1m2 0h1m4 0h1m1 0h1m1 0h1m1 0h63m1 0h2m4 0h1m3 0h2m4 0h1m7 0h3m4 0h1m3 0h1m2 0h1m2 0h1m4 0h1m11 0h1m1 0h1m-193 1h1m44 0h2m6 0h1m3 0h1m2 0h1m3 0h72m2 0h2m8 0h1m13 0h1m28 0h1m-196 1h1m40 0h1m2 0h2m3 0h1m5 0h1m1 0h1m1 0h1m2 0h1m4 0h74m1 0h6m4 0h1m2 0h3m7 0h1m2 0h1m2 0h2m1 0h1m1 0h1m2 0h1m1 0h1m6 0h2m11 0h2m-193 1h1m2 0h1m20 0h1m5 0h1m17 0h1m4 0h86m1 0h1m1 0h1m3 0h1m1 0h2m4 0h2m1 0h1m25 0h1m5 0h1m23 0h1m8 0h1m-203 1h1m11 0h1m9 0h1m1 0h1m1 0h1m2 0h2m1 0h1m1 0h87m1 0h1m4 0h3m5 0h1m1 0h1m3 0h1m2 0h1m4 0h2m2 0h1m47 0h1m-232 1h1m13 0h1m33 0h2m7 0h1m2 0h90m2 0h2m1 0h1m1 0h1m33 0h1m13 0h1m-179 1h1m22 0h3m3 0h1m3 0h93m2 0h1m7 0h2m10 0h1m3 0h1m1 0h1m8 0h1m4 0h1m17 0h1m-189 1h1m7 0h1m6 0h2m4 0h1m4 0h1m2 0h2m1 0h1m1 0h103m1 0h1m7 0h1m5 0h1m10 0h1m1 0h2m4 0h1m-162 1h1m4 0h1m7 0h1m2 0h1m4 0h1m1 0h101m3 0h2m1 0h1m1 0h2m16 0h2m20 0h1m15 0h1m9 0h1m-229 1h1m11 0h1m29 0h1m2 0h1m5 0h110m1 0h1m10 0h1m17 0h1m17 0h1m-217 1h1m21 0h1m12 0h1m3 0h1m4 0h1m1 0h1m9 0h1m1 0h110m1 0h1m5 0h1m3 0h2m7 0h1m12 0h1m-191 1h1m32 0h1m4 0h1m2 0h2m2 0h115m24 0h1m-188 1h1m8 0h1m5 0h1m18 0h1m5 0h1m6 0h1m2 0h111m1 0h1m3 0h1m1 0h1m10 0h1m10 0h1m13 0h1m15 0h1m-189 1h1m5 0h1m3 0h1m4 0h116m1 0h2m1 0h2m1 0h2m3 0h1m2 0h1m7 0h2m2 0h1m1 0h1m10 0h1m3 0h1m16 0h1m-238 1h1m41 0h1m11 0h1m1 0h2m1 0h1m2 0h115m1 0h1m1 0h2m1 0h2m1 0h4m1 0h1m2 0h4m2 0h2m3 0h1m5 0h1m22 0h1m8 0h1m-225 1h1m23 0h1m7 0h1m1 0h3m2 0h1m1 0h125m1 0h5m1 0h1m1 0h2m1 0h5m1 0h2m2 0h2m2 0h1m15 0h1m7 0h1m-240 1h1m32 0h1m10 0h1m2 0h1m9 0h2m4 0h3m1 0h136m2 0h1m1 0h3m1 0h2m3 0h2m5 0h1m3 0h1m14 0h1m2 0h2m4 0h1m-209 1h1m4 0h1m5 0h2m3 0h2m1 0h2m1 0h126m1 0h4m1 0h1m1 0h1m1 0h2m2 0h3m2 0h5m1 0h2m1 0h1m2 0h1m3 0h4m14 0h1m4 0h1m-255 1h1m47 0h1m2 0h1m2 0h3m1 0h1m5 0h2m2 0h3m1 0h124m2 0h3m1 0h3m1 0h2m5 0h3m1 0h4m4 0h1m1 0h1m4 0h1m1 0h1m10 0h1m4 0h1m1 0h1m3 0h1m-230 1h1m10 0h1m20 0h1m6 0h3m1 0h125m5 0h5m4 0h2m2 0h1m4 0h1m2 0h2m2 0h2m3 0h1m2 0h2m2 0h1m1 0h1m4 0h1m5 0h1m-197 1h1m3 0h1m6 0h1m3 0h2m3 0h114m1 0h1m1 0h1m3 0h1m5 0h1m5 0h1m3 0h1m2 0h1m5 0h1m7 0h2m3 0h1m3 0h1m9 0h3m7 0h1m-196 1h3m7 0h1m1 0h113m1 0h1m2 0h2m6 0h1m1 0h1m13 0h1m1 0h1m11 0h1m2 0h1m2 0h2m3 0h1m-167 1h112m1 0h1m5 0h2m10 0h1m2 0h1m5 0h1m19 0h2m14 0h1m5 0h1m-186 1h1m6 0h108m43 0h1m-159 1h1m1 0h1m5 0h108m1 0h1m4 0h1m8 0h1m-147 1h1m13 0h1m8 0h106m2 0h1m19 0h1m11 0h1m-176 1h1m5 0h1m18 0h1m9 0h2m1 0h103m-145 1h1m22 0h1m6 0h1m7 0h1m1 0h1m4 0h1m1 0h96m-125 1h1m13 0h1m1 0h1m6 0h7m1 0h91m2 0h1m13 0h1m14 0h1m-145 1h1m14 0h3m2 0h2m1 0h85m1 0h1m11 0h1m-140 1h1m11 0h1m12 0h1m1 0h1m15 0h77m1 0h1m1 0h2m2 0h1m2 0h1m5 0h1m40 0h1m-143 1h1m1 0h1m1 0h1m2 0h1m2 0h3m1 0h64m2 0h10m3 0h2m5 0h1m45 0h1m-158 1h1m11 0h1m1 0h2m1 0h1m3 0h1m2 0h1m1 0h53m1 0h1m1 0h1m2 0h2m1 0h8m1 0h1m1 0h1m6 0h1m4 0h1m64 0h1m-190 1h1m28 0h1m3 0h2m2 0h3m1 0h2m1 0h44m2 0h6m3 0h1m1 0h1m6 0h1m4 0h1m16 0h1m18 0h1m22 0h1m-140 1h1m6 0h1m3 0h4m1 0h1m1 0h29m1 0h1m3 0h2m2 0h5m1 0h1m1 0h1m3 0h1m1 0h1m2 0h1m1 0h1m6 0h1m8 0h1m14 0h1m-140 1h1m21 0h1m7 0h1m6 0h1m1 0h2m1 0h3m1 0h1m1 0h2m1 0h3m1 0h1m2 0h1m1 0h2m1 0h3m1 0h8m2 0h6m1 0h1m2 0h3m3 0h2m1 0h1m-154 1h1m58 0h1m25 0h1m12 0h1m9 0h2m1 0h1m2 0h1m3 0h4m1 0h1m2 0h1m2 0h3m1 0h1m1 0h1m1 0h1m1 0h2m2 0h1m1 0h1m5 0h1m1 0h1m3 0h1m2 0h1m10 0h1m20 0h1m-170 1h1m30 0h1m44 0h1m7 0h1m3 0h2m2 0h1m3 0h1m5 0h1m1 0h1m2 0h1m1 0h2m4 0h1m1 0h1m7 0h2m6 0h2m10 0h1m5 0h1m-70 1h1m10 0h1m1 0h2m2 0h1m2 0h1m7 0h2m2 0h1m1 0h2m2 0h1m3 0h1m8 0h1m9 0h1m2 0h1m6 0h1m-132 1h1m43 0h1m10 0h1m15 0h2m8 0h1m8 0h1m5 0h1m1 0h3m1 0h2m7 0h2m50 0h1m-101 1h1m4 0h2m12 0h1m24 0h1m1 0h1m17 0h1m11 0h1m8 0h1m-82 1h2m11 0h2m5 0h1m47 0h1m-136 1h1m20 0h1m35 0h1m29 0h1m43 0h1m4 0h1m-136 1h1m70 0h1m-71 1h1m51 0h1m17 0h1m4 0h1m7 0h1m-30 1h2m-10 1h1m37 0h1m6 0h1m-77 1h1m91 0h1m-85 1h1m60 0h1m54 0h1m-29 1h1m6 0h1m37 0h1m-148 2h1m33 0h1m6 0h1m81 0h1m30 0h1m-109 2h2m14 0h1m39 0h1m40 1h1m-147 2h1m82 0h1m7 0h1m-15 2h1m84 4h1" stroke="#f1faf1" stroke-width="1" fill="none" shape-rendering="crispEdges"/>
<path d="M1555 622.5h1m17 1h1m5 0h1m-15 1h1m7 0h1m-28 1h1m4 0h1m4 0h1m2 0h1m3 0h2m1 0h1m-20 1h1m5 0h1m3 0h1m4 0h3m10 0h1m5 0h1m4 0h1m-38 1h1m8 0h2m1 0h1m13 0h1m1 0h1m1 0h1m13 0h1m-42 1h1m3 0h1m1 0h1m1 0h2m1 0h1m2 0h1m2 0h4m7 0h3m4 0h1m-48 1h1m3 0h1m8 0h1m5 0h1m7 0h1m5 0h1m4 0h1m6 0h1m4 0h1m1 0h1m-56 1h1m5 0h1m2 0h1m1 0h1m1 0h1m4 0h1m9 0h4m1 0h1m4 0h1m7 0h1m4 0h3m-46 1h1m7 0h4m2 0h2m1 0h1m3 0h1m1 0h1m1 0h2m5 0h1m11 0h1m5 0h1m1 0h1m-63 1h1m3 0h1m5 0h1m4 0h1m3 0h1m2 0h1m2 0h1m2 0h1m1 0h1m3 0h3m1 0h1m3 0h1m2 0h1m3 0h2m1 0h1m1 0h1m6 0h1m9 0h1m-69 1h1m6 0h1m3 0h1m2 0h1m3 0h1m1 0h2m1 0h1m2 0h1m3 0h3m4 0h1m3 0h1m1 0h2m2 0h1m1 0h2m9 0h1m5 0h1m-74 1h2m3 0h1m2 0h2m11 0h4m1 0h1m2 0h6m1 0h1m3 0h1m1 0h1m2 0h1m1 0h1m2 0h1m1 0h2m2 0h2m3 0h1m1 0h1m3 0h1m2 0h1m-61 1h2m4 0h2m2 0h1m8 0h1m2 0h1m4 0h3m1 0h4m1 0h2m3 0h1m1 0h2m2 0h2m3 0h1m1 0h1m1 0h1m3 0h2m-67 1h1m1 0h2m6 0h3m1 0h1m3 0h2m4 0h3m3 0h3m3 0h1m1 0h5m1 0h1m1 0h3m1 0h1m1 0h1m3 0h3m7 0h1m-73 1h1m9 0h2m5 0h2m2 0h2m1 0h3m2 0h1m1 0h1m1 0h3m2 0h3m1 0h2m2 0h1m1 0h2m2 0h3m1 0h1m1 0h2m11 0h2m-70 1h1m1 0h1m4 0h3m2 0h1m1 0h2m2 0h1m1 0h1m1 0h1m1 0h6m2 0h1m1 0h6m1 0h4m2 0h1m4 0h1m1 0h4m3 0h1m3 0h1m8 0h1m-86 1h1m1 0h1m4 0h2m4 0h1m1 0h2m4 0h1m1 0h1m1 0h4m1 0h1m3 0h1m1 0h3m1 0h7m3 0h1m1 0h1m1 0h10m1 0h4m1 0h1m1 0h2m1 0h1m2 0h1m1 0h1m9 0h1m-86 1h2m3 0h1m5 0h1m1 0h1m5 0h2m1 0h2m5 0h1m2 0h1m1 0h12m1 0h1m2 0h2m1 0h9m2 0h1m1 0h1m3 0h2m2 0h2m-71 1h1m2 0h2m1 0h1m3 0h2m2 0h3m1 0h1m4 0h2m1 0h2m1 0h4m1 0h2m1 0h5m1 0h1m1 0h2m2 0h2m2 0h3m1 0h1m1 0h2m1 0h1m1 0h1m1 0h1m1 0h3m11 0h1m-85 1h1m7 0h1m5 0h2m1 0h4m1 0h2m1 0h8m1 0h2m1 0h4m1 0h5m2 0h1m2 0h9m1 0h2m1 0h3m2 0h2m7 0h1m7 0h1m-94 1h2m6 0h1m2 0h2m2 0h2m1 0h6m1 0h4m1 0h2m1 0h3m1 0h20m1 0h5m1 0h1m1 0h3m1 0h2m6 0h1m2 0h1m2 0h2m1 0h1m-83 1h2m1 0h2m4 0h1m2 0h1m1 0h1m1 0h1m1 0h2m2 0h3m1 0h13m1 0h6m3 0h10m3 0h2m1 0h1m2 0h2m1 0h1m5 0h3m2 0h2m-97 1h1m14 0h3m1 0h7m1 0h1m1 0h1m1 0h16m1 0h5m1 0h8m1 0h3m2 0h4m2 0h1m1 0h1m3 0h3m3 0h1m5 0h2m1 0h1m1 0h1m6 0h1m-99 1h1m3 0h1m2 0h1m2 0h2m2 0h1m3 0h1m2 0h1m1 0h1m1 0h3m1 0h9m1 0h6m1 0h9m1 0h14m1 0h1m1 0h4m1 0h3m4 0h1m2 0h1m1 0h2m5 0h1m-105 1h1m6 0h1m8 0h2m2 0h2m1 0h3m1 0h1m2 0h3m4 0h2m1 0h35m3 0h1m1 0h6m1 0h1m1 0h3m2 0h2m2 0h1m1 0h1m-93 1h2m1 0h1m1 0h2m3 0h2m6 0h8m1 0h9m1 0h29m2 0h2m2 0h4m3 0h2m2 0h2m1 0h2m1 0h2m1 0h2m-100 1h1m9 0h1m1 0h5m1 0h3m1 0h1m1 0h2m1 0h1m1 0h5m1 0h37m1 0h1m1 0h1m1 0h2m1 0h2m1 0h4m3 0h1m1 0h1m5 0h1m-93 1h1m1 0h7m1 0h3m2 0h2m1 0h2m1 0h2m1 0h6m1 0h43m1 0h1m2 0h2m2 0h1m2 0h1m3 0h1m5 0h1m-102 1h2m2 0h1m1 0h1m1 0h1m1 0h1m2 0h1m3 0h15m1 0h40m1 0h6m2 0h3m1 0h2m1 0h1m1 0h1m3 0h2m2 0h1m-98 1h1m7 0h3m2 0h4m1 0h1m1 0h50m1 0h11m5 0h2m1 0h1m1 0h1m3 0h1m1 0h2m-105 1h1m2 0h1m3 0h2m1 0h1m2 0h1m1 0h1m1 0h1m1 0h3m1 0h59m1 0h1m1 0h2m1 0h5m1 0h2m1 0h2m1 0h1m2 0h1m3 0h1m-100 1h1m4 0h1m1 0h1m1 0h1m2 0h1m1 0h1m1 0h1m1 0h3m1 0h53m1 0h3m2 0h5m1 0h1m2 0h4m6 0h1m-107 1h1m5 0h1m3 0h6m2 0h8m2 0h50m1 0h3m1 0h2m3 0h2m1 0h5m5 0h1m2 0h1m-99 1h7m2 0h2m1 0h7m1 0h1m1 0h55m1 0h2m2 0h2m1 0h2m10 0h1m-107 1h1m1 0h1m1 0h1m3 0h2m1 0h1m1 0h1m1 0h1m1 0h5m1 0h5m1 0h55m1 0h3m1 0h1m2 0h1m3 0h4m7 0h1m-108 1h1m3 0h1m4 0h1m1 0h1m3 0h3m1 0h1m1 0h1m2 0h3m1 0h3m1 0h50m2 0h6m2 0h3m6 0h2m4 0h1m4 0h1m-113 1h1m1 0h2m2 0h1m3 0h1m5 0h4m1 0h1m1 0h62m1 0h2m1 0h2m1 0h2m1 0h2m1 0h1m1 0h2m3 0h1m2 0h1m-111 1h1m4 0h3m1 0h1m3 0h1m3 0h1m2 0h2m1 0h4m1 0h2m1 0h54m1 0h1m1 0h1m1 0h5m10 0h1m6 0h1m1 0h1m-115 1h1m1 0h1m8 0h1m2 0h1m1 0h3m1 0h3m1 0h1m1 0h65m1 0h5m1 0h4m1 0h1m3 0h1m5 0h3m-115 1h2m5 0h1m6 0h3m4 0h2m1 0h1m1 0h57m1 0h10m4 0h1m1 0h1m4 0h2m1 0h1m-105 1h1m8 0h1m1 0h1m2 0h3m1 0h2m2 0h1m1 0h1m1 0h56m2 0h4m3 0h2m2 0h2m3 0h1m1 0h2m-104 1h1m1 0h1m1 0h1m1 0h1m4 0h1m1 0h64m1 0h3m1 0h9m2 0h2m2 0h1m3 0h1m3 0h1m2 0h1m-113 1h1m1 0h1m2 0h1m1 0h1m1 0h3m1 0h3m2 0h3m2 0h67m1 0h3m1 0h3m1 0h1m-96 1h3m1 0h1m1 0h2m1 0h4m1 0h6m1 0h63m1 0h5m2 0h2m5 0h2m1 0h1m2 0h2m-106 1h1m1 0h2m2 0h2m1 0h6m1 0h1m1 0h59m1 0h7m3 0h1m2 0h1m4 0h1m7 0h1m4 0h1m-116 1h1m1 0h1m5 0h1m1 0h2m2 0h5m1 0h3m1 0h76m3 0h1m1 0h2m5 0h2m-109 1h1m8 0h2m3 0h1m2 0h68m1 0h5m1 0h1m4 0h1m4 0h2m2 0h3m-111 1h1m2 0h1m1 0h3m3 0h1m4 0h2m1 0h67m1 0h2m1 0h2m1 0h3m3 0h1m2 0h1m1 0h1m2 0h1m2 0h1m-111 1h1m1 0h1m6 0h4m1 0h3m1 0h9m1 0h59m1 0h3m1 0h2m1 0h3m2 0h3m4 0h1m-112 1h1m7 0h1m1 0h1m4 0h3m1 0h2m1 0h6m1 0h60m3 0h1m1 0h2m1 0h1m1 0h2m1 0h3m3 0h1m1 0h1m-102 1h1m3 0h7m3 0h4m1 0h1m1 0h57m1 0h3m1 0h3m5 0h1m2 0h1m2 0h2m3 0h1m5 0h1m-105 1h2m1 0h4m1 0h8m1 0h63m1 0h1m2 0h2m1 0h3m1 0h3m-105 1h1m6 0h1m6 0h1m4 0h6m1 0h59m1 0h4m1 0h4m5 0h2m3 0h1m2 0h2m2 0h1m-111 1h1m7 0h1m4 0h1m3 0h2m2 0h5m1 0h54m1 0h5m1 0h3m1 0h5m4 0h5m1 0h2m-108 1h1m3 0h1m4 0h3m1 0h5m1 0h3m1 0h56m2 0h2m1 0h1m1 0h4m2 0h3m2 0h1m1 0h1m1 0h2m2 0h1m-97 1h2m1 0h2m2 0h3m1 0h3m1 0h3m1 0h57m1 0h1m2 0h5m1 0h1m1 0h3m2 0h1m-102 1h2m4 0h2m1 0h1m7 0h1m1 0h4m1 0h1m2 0h60m5 0h5m2 0h1m2 0h1m-104 1h2m1 0h3m2 0h3m5 0h3m1 0h3m1 0h64m1 0h1m1 0h2m4 0h2m2 0h1m-94 1h1m1 0h1m4 0h1m1 0h2m1 0h4m1 0h54m1 0h6m3 0h2m1 0h1m3 0h1m1 0h3m1 0h1m5 0h1m-105 1h1m1 0h3m1 0h2m1 0h1m2 0h9m1 0h52m1 0h3m2 0h1m1 0h3m3 0h4m4 0h1m4 0h1m4 0h1m-110 1h1m9 0h1m1 0h2m2 0h3m1 0h4m1 0h4m1 0h43m1 0h2m1 0h1m1 0h1m1 0h1m1 0h4m4 0h5m-89 1h1m1 0h1m1 0h1m3 0h3m2 0h1m1 0h3m1 0h2m1 0h2m1 0h2m1 0h41m1 0h6m1 0h3m1 0h1m1 0h1m1 0h1m-88 1h1m5 0h4m1 0h3m1 0h4m1 0h5m1 0h1m1 0h2m1 0h41m3 0h1m1 0h3m1 0h3m2 0h1m3 0h1m5 0h1m-103 1h1m2 0h2m1 0h1m5 0h1m3 0h1m2 0h1m1 0h2m1 0h1m1 0h45m1 0h5m1 0h2m1 0h1m3 0h2m3 0h1m1 0h1m2 0h1m-89 1h1m5 0h7m1 0h6m1 0h2m3 0h2m1 0h2m1 0h23m1 0h4m1 0h3m1 0h3m1 0h1m1 0h2m1 0h2m3 0h3m1 0h2m1 0h1m6 0h1m1 0h3m-105 1h1m12 0h1m1 0h1m5 0h2m1 0h1m2 0h2m1 0h44m1 0h2m2 0h1m1 0h3m2 0h1m8 0h1m2 0h1m2 0h1m-91 1h1m1 0h1m1 0h2m4 0h1m2 0h2m1 0h1m1 0h2m2 0h3m1 0h11m1 0h3m1 0h12m1 0h1m1 0h11m1 0h4m3 0h1m5 0h2m3 0h2m4 0h1m-90 1h1m1 0h3m2 0h2m1 0h1m1 0h5m1 0h2m1 0h21m2 0h4m1 0h1m1 0h2m1 0h1m1 0h1m1 0h3m1 0h1m1 0h5m2 0h4m5 0h1m2 0h1m-91 1h1m2 0h1m4 0h1m2 0h1m1 0h1m3 0h2m1 0h3m2 0h18m1 0h2m1 0h7m1 0h4m1 0h2m2 0h2m1 0h2m1 0h1m1 0h6m1 0h2m1 0h2m2 0h1m2 0h1m2 0h1m-90 1h2m7 0h1m4 0h1m1 0h3m1 0h21m1 0h12m1 0h10m1 0h1m1 0h1m2 0h3m1 0h2m1 0h1m3 0h2m4 0h1m-91 1h1m4 0h4m3 0h1m1 0h1m1 0h3m2 0h3m1 0h32m1 0h3m1 0h4m1 0h2m3 0h1m1 0h1m1 0h1m6 0h1m5 0h3m-96 1h1m12 0h2m1 0h1m2 0h1m2 0h1m1 0h1m5 0h1m1 0h14m1 0h2m1 0h8m1 0h4m1 0h1m1 0h2m1 0h2m1 0h1m2 0h3m2 0h2m1 0h1m2 0h2m1 0h1m-84 1h1m4 0h1m4 0h1m3 0h2m1 0h1m1 0h1m2 0h1m2 0h15m3 0h3m3 0h1m1 0h5m1 0h6m3 0h3m1 0h3m3 0h1m2 0h1m6 0h1m-86 1h1m4 0h2m1 0h1m2 0h2m1 0h4m1 0h2m3 0h15m1 0h3m1 0h5m1 0h4m1 0h1m1 0h3m1 0h2m3 0h1m1 0h1m1 0h1m3 0h2m5 0h2m-84 1h1m6 0h1m1 0h1m5 0h3m4 0h2m1 0h16m1 0h1m1 0h2m1 0h1m3 0h4m4 0h1m1 0h2m1 0h1m1 0h3m1 0h2m3 0h1m2 0h2m2 0h1m1 0h1m-80 1h1m5 0h1m12 0h16m1 0h5m2 0h4m1 0h2m1 0h1m1 0h2m3 0h1m1 0h2m15 0h2m-71 1h1m7 0h2m1 0h16m2 0h2m3 0h1m2 0h2m2 0h4m2 0h1m1 0h1m3 0h1m4 0h2m8 0h1m-72 1h4m1 0h2m2 0h1m2 0h18m1 0h3m2 0h2m2 0h3m3 0h2m1 0h1m1 0h1m2 0h1m3 0h3m4 0h1m1 0h1m1 0h1m5 0h1m-76 1h1m7 0h1m4 0h18m1 0h1m1 0h5m1 0h1m2 0h1m4 0h2m1 0h1m6 0h1m1 0h1m7 0h1m-77 1h1m9 0h1m5 0h1m2 0h1m1 0h17m1 0h2m2 0h1m1 0h1m2 0h2m5 0h1m3 0h2m2 0h1m4 0h1m-64 1h2m2 0h1m9 0h1m1 0h19m1 0h2m2 0h1m2 0h2m1 0h1m3 0h2m1 0h1m1 0h3m3 0h1m-51 1h1m2 0h19m1 0h1m5 0h1m1 0h2m4 0h1m4 0h1m12 0h1m2 0h2m1 0h1m-67 1h1m3 0h1m1 0h1m4 0h18m3 0h1m17 0h1m2 0h1m-45 1h1m1 0h16m1 0h1m2 0h1m4 0h1m1 0h1m7 0h1m3 0h1m2 0h1m3 0h1m-50 1h1m1 0h21m6 0h1m1 0h1m3 0h3m-37 1h20m3 0h1m2 0h1m2 0h1m1 0h2m1 0h2m7 0h1m-50 1h1m6 0h18m5 0h1m12 0h1m2 0h1m-40 1h19m9 0h1m5 0h1m-35 1h20m10 0h1m7 0h1m-42 1h1m1 0h19m6 0h1m5 0h1m-31 1h19m9 0h1m-32 1h23m-21 1h20m-21 1h23m-23 1h21m-25 1h2m1 0h23m-30 1h2m4 0h24m2 0h1m2 0h1m-35 1h2m1 0h29m1 0h2m1 0h2m-42 1h2m1 0h39m4 0h1m-48 1h45m1 0h1m-49 1h51m-54 1h2m1 0h58m-64 1h64m-68 1h1m1 0h67m1 0h2m-73 1h78m-79 1h79m-83 1h1m1 0h84m-87 1h1m1 0h88m-90 1h91m1 0h1m-94 1h95m3 0h1m-102 1h1m1 0h100m1 0h1m-103 1h102m-103 1h107m1 0h1m-110 1h109m-109 1h1m1 0h109m-109 1h109m1 0h1m3 0h1m-116 1h112m2 0h2m1 0h1m-117 1h111m1 0h1m1 0h1m-116 1h1m2 0h108m3 0h2m6 0h1m-122 1h1m1 0h108m-108 1h108m-108 1h109m-104 1h103m-105 1h1m1 0h102m1 0h1m-103 1h1m1 0h99m-100 1h98m-92 1h89m1 0h2m-92 1h87m-83 1h81m1 0h1m-83 1h1m4 0h68m2 0h1m3 0h1m-76 1h1m1 0h1m1 0h56m2 0h1m-62 1h1m2 0h50m1 0h1m1 0h1m-52 1h1m1 0h1m2 0h2m1 0h1m2 0h1m1 0h23m2 0h1m1 0h2m2 0h1m-39 1h1m13 0h3m1 0h1m3 0h1m1 0h4m4 0h1m-25 1h2m2 0h2m4 0h1m3 0h1m2 0h2" stroke="#dff3df" stroke-width="1" fill="none" shape-rendering="crispEdges"/>
<path d="M1556 692.5h1m1 1h1m1 0h1m-1 1h1m-6 1h2m2 0h1m-4 1h1m1 0h1m1 0h1m-7 1h4m1 0h1m-5 1h3m1 0h2m1 0h1m-7 1h4m-6 1h8m-8 1h9m-9 1h8m-8 1h8m-9 1h11m-12 1h1m1 0h9m1 0h1m-13 1h12m-12 1h13m-12 1h11m-12 1h11m1 0h1m-13 1h13m-13 1h12m-12 1h13m-15 1h14m-14 1h16m-16 1h15m-15 1h15m-15 1h16m-16 1h15m-16 1h1m1 0h14m1 0h1m-22 1h2m1 0h18m1 0h1m-25 1h28m-30 1h32m1 0h1m-38 1h41m1 0h1m-45 1h45m1 0h2m-50 1h52m-56 1h59m-61 1h65m-65 1h66m1 0h1m-71 1h74m-76 1h78m-82 1h85m-85 1h87m-88 1h91m-92 1h94m-96 1h100m-100 1h103m-103 1h105m-104 1h104m-104 1h105m-105 1h106m-104 1h104m-104 1h105m-103 1h103m-101 1h101m-99 1h98m-96 1h94m-94 1h91m1 0h1m-89 1h86m-85 1h78m1 0h1m-75 1h1m1 0h65m1 0h2m1 0h1m-69 1h1m1 0h54m1 0h1m1 0h3m-55 1h42m1 0h2m1 0h1m-43 1h1m1 0h1m2 0h24m3 0h1m2 0h1m-31 1h2m4 0h2m1 0h1m1 0h2m1 0h1m1 0h2m2 0h1" stroke="#c6eac6" stroke-width="1" fill="none" shape-rendering="crispEdges"/>
<path d="M1557 712.5h2m-2 1h1m-1 1h3m-6 1h3m-3 1h6m-5 1h6m-6 1h7m-8 1h8m-8 1h9m-13 1h12m-15 1h18m1 0h2m-25 1h1m1 0h26m-31 1h1m1 0h31m1 0h1m-38 1h1m1 0h38m-42 1h47m-49 1h53m-56 1h1m1 0h56m-59 1h62m-65 1h69m-71 1h72m1 0h1m-76 1h77m-79 1h82m1 0h1m-86 1h87m-88 1h91m-92 1h95m-95 1h96m1 0h1m-97 1h99m-99 1h101m-100 1h101m-100 1h100m-98 1h99m-98 1h97m-94 1h94m-92 1h89m-87 1h85m-83 1h1m1 0h75m1 0h1m1 0h1m-78 1h1m1 0h67m1 0h2m-68 1h56m1 0h4m-57 1h46m1 0h1m1 0h1m-44 1h36m-29 1h1m1 0h4m1 0h1m2 0h2m1 0h3m2 0h1" stroke="#a3dca3" stroke-width="1" fill="none" shape-rendering="crispEdges"/>
<path d="M1550 723.5h13m-17 1h22m-25 1h29m-32 1h36m-39 1h42m-44 1h48m-50 1h53m-56 1h59m-61 1h64m-67 1h70m-72 1h75m-77 1h80m-82 1h85m-86 1h88m-88 1h91m-91 1h93m-92 1h95m-93 1h96m-95 1h96m-94 1h94m-92 1h92m-89 1h86m-84 1h81m-78 1h73m-69 1h62m-58 1h51m-46 1h38m-30 1h19" stroke="#72c572" stroke-width="1" fill="none" shape-rendering="crispEdges"/>
<path d="M1551 724.5h11m-15 1h20m-23 1h27m-30 1h34m-37 1h40m-42 1h46m-48 1h51m-54 1h57m-59 1h62m-65 1h68m-70 1h73m-75 1h78m-80 1h83m-84 1h86m-85 1h88m-86 1h88m-87 1h90m-88 1h91m-89 1h90m-87 1h84m-82 1h79m-76 1h71m-67 1h60m-56 1h49m-44 1h36m-28 1h17" stroke="#45a345" stroke-width="1" fill="none" shape-rendering="crispEdges"/>
<path d="M1551 724.5h11m-15 1h20m-23 1h27m-30 1h34m-37 1h40m-42 1h46m-48 1h51m-54 1h57m-59 1h62m-65 1h68m-70 1h73m-75 1h78m-80 1h83m-84 1h86m-85 1h88m-86 1h88m-87 1h90m-88 1h91m-89 1h90m-87 1h84m-82 1h79m-76 1h71m-67 1h60m-56 1h49m-44 1h36m-28 1h17" stroke="#2c5a2c" stroke-width="1" fill="none" shape-rendering="crispEdges"/>
<rect x="1434.5" y="576.6" width="263.9" height="213.2" fill="none" stroke="#1a1a1a" stroke-width="2.6"/>
<line x1="1467.5" y1="789.8" x2="1467.5" y2="794.8" stroke="#1a1a1a" stroke-width="2.4"/>
<text x="1467.5" y="813" font-size="20.5" text-anchor="middle">14</text>
<line x1="1521.5" y1="789.8" x2="1521.5" y2="794.8" stroke="#1a1a1a" stroke-width="2.4"/>
<text x="1521.5" y="813" font-size="20.5" text-anchor="middle">16</text>
<line x1="1575.5" y1="789.8" x2="1575.5" y2="794.8" stroke="#1a1a1a" stroke-width="2.4"/>
<text x="1575.5" y="813" font-size="20.5" text-anchor="middle">18</text>
<line x1="1629.5" y1="789.8" x2="1629.5" y2="794.8" stroke="#1a1a1a" stroke-width="2.4"/>
<text x="1629.5" y="813" font-size="20.5" text-anchor="middle">20</text>
<line x1="1683.5" y1="789.8" x2="1683.5" y2="794.8" stroke="#1a1a1a" stroke-width="2.4"/>
<text x="1683.5" y="813" font-size="20.5" text-anchor="middle">22</text>
<line x1="1429.5" y1="772.3" x2="1434.5" y2="772.3" stroke="#1a1a1a" stroke-width="2.4"/>
<text x="1425.5" y="779.6" font-size="20.5" text-anchor="end">−2</text>
<line x1="1429.5" y1="732.4" x2="1434.5" y2="732.4" stroke="#1a1a1a" stroke-width="2.4"/>
<text x="1425.5" y="739.7" font-size="20.5" text-anchor="end">0</text>
<line x1="1429.5" y1="692.5" x2="1434.5" y2="692.5" stroke="#1a1a1a" stroke-width="2.4"/>
<text x="1425.5" y="699.8" font-size="20.5" text-anchor="end">2</text>
<line x1="1429.5" y1="652.6" x2="1434.5" y2="652.6" stroke="#1a1a1a" stroke-width="2.4"/>
<text x="1425.5" y="659.9" font-size="20.5" text-anchor="end">4</text>
<line x1="1429.5" y1="612.7" x2="1434.5" y2="612.7" stroke="#1a1a1a" stroke-width="2.4"/>
<text x="1425.5" y="620" font-size="20.5" text-anchor="end">6</text>
<text x="1577.8" y="836.9" font-size="25.8" text-anchor="middle">Rg</text>
<text x="1410.5" y="676" font-size="25.4" text-anchor="middle" transform="rotate(-90 1410.5 676)">PADI Score</text>
<text x="697" y="1791" font-size="31" font-weight="bold">m</text>
<path d="M890 1907.5h2m-2 1h2m130 10h2m1 0h1m3 0h1m12 0h2m3 0h1m12 0h1m12 0h2m22 0h4m27 0h2m-225 1h2m87 0h1m8 0h2m2 0h2m13 0h4m4 0h1m1 0h4m6 0h2m4 0h1m5 0h1m4 0h1m2 0h2m9 0h2m1 0h2m4 0h1m4 0h2m8 0h4m4 0h2m16 0h2m3 0h2m-225 1h2m69 0h2m9 0h2m5 0h1m4 0h2m2 0h2m2 0h2m1 0h1m15 0h1m2 0h1m2 0h4m12 0h3m2 0h1m8 0h2m1 0h1m10 0h2m3 0h1m5 0h2m1 0h2m13 0h2m7 0h2m7 0h4m2 0h2m-155 1h2m3 0h2m4 0h2m6 0h1m3 0h2m10 0h1m5 0h1m9 0h1m2 0h1m9 0h2m2 0h1m6 0h1m1 0h1m9 0h3m9 0h2m2 0h1m2 0h1m7 0h2m22 0h2m7 0h4m2 0h2m-150 1h2m9 0h2m17 0h1m2 0h1m1 0h2m4 0h1m2 0h3m3 0h1m4 0h3m6 0h1m11 0h1m5 0h2m1 0h2m5 0h4m1 0h1m9 0h1m1 0h2m3 0h1m5 0h1m21 0h4m-180 1h2m14 0h2m17 0h2m8 0h2m10 0h2m8 0h1m3 0h1m3 0h1m5 0h1m1 0h1m5 0h1m2 0h2m1 0h2m2 0h2m2 0h3m4 0h1m15 0h2m2 0h1m6 0h2m1 0h2m1 0h2m3 0h1m3 0h2m8 0h2m14 0h2m3 0h1m-184 1h2m14 0h1m18 0h2m20 0h2m1 0h1m3 0h1m2 0h3m2 0h1m1 0h1m2 0h1m1 0h2m1 0h1m6 0h1m3 0h1m1 0h1m2 0h1m2 0h6m1 0h1m1 0h1m2 0h1m2 0h4m1 0h1m4 0h1m10 0h2m8 0h2m4 0h1m9 0h1m7 0h1m11 0h1m-184 1h2m1 0h2m18 0h2m9 0h3m1 0h2m2 0h1m7 0h2m1 0h2m4 0h2m3 0h3m3 0h1m1 0h1m3 0h1m2 0h3m1 0h3m1 0h3m3 0h11m1 0h2m2 0h4m1 0h1m1 0h2m1 0h3m1 0h1m1 0h3m1 0h2m1 0h1m3 0h2m1 0h2m1 0h1m3 0h2m2 0h1m1 0h1m6 0h2m4 0h2m5 0h1m4 0h1m2 0h1m-183 1h4m1 0h2m2 0h2m3 0h1m10 0h2m5 0h2m2 0h3m1 0h2m1 0h2m7 0h2m1 0h2m2 0h1m2 0h1m1 0h1m1 0h2m1 0h1m3 0h1m4 0h45m2 0h1m2 0h2m1 0h2m1 0h3m4 0h1m1 0h1m3 0h1m1 0h1m3 0h1m3 0h1m1 0h1m1 0h2m2 0h3m3 0h2m2 0h1m1 0h4m1 0h2m1 0h1m-186 1h2m7 0h2m2 0h1m12 0h4m3 0h1m1 0h3m12 0h1m6 0h1m2 0h1m2 0h2m1 0h2m2 0h57m2 0h1m1 0h2m1 0h4m2 0h1m2 0h1m2 0h3m1 0h2m1 0h2m2 0h1m1 0h1m1 0h2m1 0h1m5 0h1m3 0h2m3 0h1m2 0h1m2 0h1m-171 1h2m3 0h2m4 0h4m2 0h1m2 0h2m3 0h1m1 0h1m1 0h1m2 0h3m1 0h1m1 0h1m1 0h3m1 0h1m2 0h58m1 0h14m1 0h11m1 0h2m3 0h2m1 0h3m2 0h4m1 0h1m1 0h2m2 0h1m1 0h1m2 0h1m2 0h2m1 0h3m-214 1h2m7 0h2m16 0h2m1 0h2m11 0h2m3 0h2m5 0h1m5 0h1m2 0h1m2 0h3m1 0h1m2 0h2m1 0h1m2 0h11m1 0h74m1 0h5m1 0h1m1 0h3m1 0h3m1 0h1m5 0h6m1 0h2m1 0h5m1 0h2m1 0h1m2 0h3m-231 1h2m15 0h2m7 0h2m16 0h2m1 0h2m4 0h1m8 0h1m10 0h1m2 0h1m3 0h1m3 0h3m3 0h1m2 0h94m1 0h3m2 0h9m1 0h2m2 0h3m2 0h2m1 0h1m1 0h7m3 0h3m-230 1h2m39 0h2m6 0h1m4 0h1m3 0h2m3 0h1m5 0h3m2 0h1m2 0h1m6 0h1m1 0h1m1 0h48m1 0h51m2 0h2m2 0h1m1 0h3m1 0h3m1 0h2m2 0h1m1 0h1m1 0h5m1 0h3m1 0h1m3 0h3m1 0h1m-205 1h2m2 0h2m9 0h2m3 0h2m1 0h2m5 0h7m1 0h2m3 0h2m1 0h1m1 0h1m2 0h3m2 0h1m1 0h62m1 0h44m2 0h3m1 0h3m1 0h1m1 0h6m3 0h4m3 0h3m1 0h8m-205 1h2m2 0h4m8 0h2m2 0h2m8 0h2m2 0h2m8 0h3m2 0h1m1 0h1m1 0h109m1 0h14m1 0h19m1 0h7m-214 1h2m13 0h2m8 0h2m1 0h1m8 0h2m1 0h1m1 0h1m3 0h2m1 0h1m2 0h1m4 0h123m1 0h9m1 0h1m1 0h9m1 0h4m1 0h6m-216 1h4m25 0h1m9 0h3m1 0h2m3 0h2m1 0h2m1 0h120m1 0h2m2 0h15m1 0h19m1 0h1m-216 1h4m30 0h2m2 0h4m1 0h1m3 0h1m2 0h4m1 0h152m1 0h8m-220 1h2m1 0h2m1 0h2m9 0h2m12 0h1m3 0h2m6 0h2m1 0h1m1 0h1m2 0h134m1 0h16m1 0h14m1 0h2m-220 1h2m1 0h2m12 0h4m10 0h1m4 0h1m3 0h172m1 0h7m-207 1h2m4 0h2m1 0h2m8 0h1m1 0h2m2 0h1m1 0h1m2 0h160m1 0h16m-207 1h4m5 0h3m5 0h2m1 0h1m3 0h167m1 0h15m-215 1h2m10 0h1m5 0h1m2 0h2m8 0h39m1 0h134m1 0h9m-222 1h2m5 0h2m10 0h1m6 0h1m3 0h2m1 0h1m1 0h116m1 0h26m1 0h3m1 0h10m1 0h28m-222 1h2m14 0h2m1 0h2m5 0h1m1 0h2m3 0h31m1 0h157m-210 1h2m2 0h2m4 0h1m1 0h2m2 0h1m1 0h60m1 0h54m1 0h8m1 0h67m-238 1h2m22 0h2m2 0h2m5 0h2m1 0h1m1 0h68m1 0h13m1 0h78m2 0h7m1 0h3m2 0h22m-238 1h2m17 0h1m4 0h4m2 0h1m4 0h1m2 0h1m1 0h4m1 0h51m1 0h104m1 0h34m1 0h1m-226 1h2m4 0h1m7 0h2m3 0h1m2 0h2m2 0h107m1 0h1m1 0h67m1 0h9m1 0h12m-239 1h2m11 0h2m9 0h2m5 0h1m1 0h4m1 0h44m1 0h84m1 0h51m1 0h5m1 0h10m1 0h2m-239 1h2m5 0h2m12 0h2m1 0h2m2 0h1m2 0h2m4 0h199m1 0h2m-232 1h2m8 0h2m2 0h2m5 0h1m1 0h2m2 0h168m1 0h1m1 0h2m1 0h20m1 0h8m1 0h1m-217 1h2m2 0h2m1 0h1m1 0h120m1 0h87m-225 1h2m6 0h4m3 0h1m1 0h173m1 0h7m1 0h4m1 0h21m-225 1h2m1 0h3m9 0h1m1 0h145m1 0h40m1 0h3m1 0h17m-225 1h1m2 0h3m6 0h1m2 0h21m1 0h151m1 0h21m1 0h6m1 0h7m-226 1h1m11 0h1m3 0h132m1 0h38m1 0h36m1 0h1m-223 1h2m5 0h3m2 0h211m-230 1h2m5 0h2m3 0h1m1 0h2m1 0h54m1 0h55m1 0h62m1 0h1m1 0h37m-230 1h2m11 0h1m3 0h137m1 0h36m1 0h28m1 0h9m-222 1h1m1 0h2m4 0h188m1 0h19m1 0h5m-228 1h3m2 0h1m1 0h40m1 0h84m1 0h41m1 0h26m1 0h2m1 0h9m1 0h12m-225 1h1m2 0h2m1 0h1m1 0h1m1 0h211m1 0h4m-230 1h2m5 0h1m2 0h1m1 0h180m1 0h1m1 0h3m1 0h14m1 0h10m1 0h5m-230 1h4m7 0h15m1 0h203m-237 1h2m7 0h2m2 0h3m1 0h79m1 0h117m1 0h14m1 0h7m-237 1h2m7 0h2m2 0h3m2 0h67m1 0h122m1 0h28m-224 1h1m2 0h202m1 0h15m1 0h2m-236 1h2m9 0h2m3 0h106m1 0h95m1 0h15m1 0h1m-236 1h4m5 0h1m4 0h161m1 0h59m-237 1h1m3 0h2m3 0h2m1 0h1m2 0h209m1 0h10m1 0h2m-237 1h1m2 0h2m3 0h3m4 0h183m1 0h3m1 0h6m1 0h8m1 0h18m-241 1h1m6 0h2m1 0h1m3 0h1m1 0h225m-242 1h1m11 0h1m3 0h175m1 0h14m1 0h13m1 0h17m1 0h1m1 0h1m-230 1h1m5 0h211m2 0h11m-235 1h2m2 0h1m1 0h1m1 0h1m1 0h187m1 0h9m1 0h27m-235 1h4m1 0h1m3 0h35m1 0h81m1 0h80m1 0h14m1 0h4m1 0h7m-233 1h2m2 0h1m2 0h202m1 0h17m1 0h2m1 0h2m-235 1h2m4 0h84m1 0h115m1 0h3m2 0h3m1 0h8m1 0h3m3 0h3m-235 1h1m1 0h1m6 0h140m1 0h13m1 0h32m1 0h2m1 0h9m1 0h2m1 0h4m1 0h2m1 0h3m1 0h1m1 0h9m-236 1h1m1 0h2m4 0h105m1 0h91m1 0h1m2 0h8m1 0h1m1 0h16m-248 1h2m13 0h1m1 0h1m1 0h100m1 0h82m1 0h1m1 0h6m1 0h6m1 0h9m1 0h4m1 0h8m2 0h1m-245 1h2m14 0h1m2 0h102m1 0h8m1 0h68m1 0h13m1 0h9m1 0h1m1 0h1m1 0h2m1 0h7m1 0h4m2 0h3m-235 1h42m1 0h116m1 0h33m1 0h15m1 0h2m5 0h1m1 0h2m1 0h1m2 0h2m1 0h7m-246 1h4m4 0h1m2 0h1m2 0h191m1 0h14m1 0h1m2 0h2m1 0h1m1 0h1m1 0h15m-246 1h4m5 0h1m2 0h1m2 0h65m1 0h118m1 0h1m1 0h7m1 0h7m2 0h2m2 0h23m-240 1h1m6 0h25m1 0h88m1 0h34m1 0h41m2 0h1m2 0h3m1 0h2m2 0h29m-245 1h2m3 0h1m2 0h1m4 0h56m1 0h127m1 0h1m2 0h2m1 0h1m1 0h3m1 0h1m1 0h1m2 0h30m-245 1h2m5 0h1m2 0h33m1 0h152m2 0h2m2 0h5m1 0h2m2 0h33m-239 1h2m1 0h135m1 0h49m1 0h3m1 0h1m1 0h1m1 0h3m2 0h26m2 0h8m-235 1h1m1 0h68m1 0h48m1 0h67m1 0h2m4 0h36m1 0h5m-251 1h2m7 0h2m4 0h107m1 0h76m1 0h2m2 0h22m1 0h2m1 0h2m1 0h5m1 0h1m1 0h5m1 0h4m-251 1h2m4 0h1m2 0h2m2 0h2m1 0h182m1 0h47m1 0h4m-245 1h1m1 0h1m6 0h221m1 0h4m1 0h8m-243 1h1m2 0h1m1 0h18m1 0h111m1 0h78m1 0h7m1 0h4m3 0h6m1 0h2m2 0h3m-248 1h2m4 0h1m2 0h42m1 0h4m1 0h157m1 0h2m1 0h15m1 0h2m2 0h5m3 0h2m-264 1h2m6 0h2m6 0h2m2 0h1m5 0h19m1 0h126m1 0h70m1 0h6m1 0h1m2 0h8m1 0h1m-264 1h2m6 0h2m10 0h1m3 0h1m1 0h192m1 0h1m1 0h10m1 0h2m1 0h9m3 0h2m1 0h1m1 0h2m3 0h1m2 0h1m1 0h2m-247 1h2m3 0h1m1 0h90m1 0h100m1 0h18m2 0h5m1 0h2m3 0h5m1 0h2m1 0h3m2 0h3m-288 1h2m35 0h2m2 0h2m1 0h3m1 0h69m1 0h61m1 0h22m1 0h37m2 0h5m1 0h8m1 0h1m5 0h3m1 0h2m1 0h9m4 0h2m1 0h1m-287 1h2m35 0h2m4 0h2m3 0h57m1 0h127m1 0h2m1 0h9m1 0h8m1 0h1m2 0h8m4 0h5m3 0h1m1 0h1m3 0h1m-248 1h2m6 0h204m1 0h7m1 0h2m3 0h1m2 0h1m3 0h2m1 0h2m2 0h2m1 0h1m1 0h1m-256 1h2m8 0h4m1 0h2m2 0h182m1 0h6m1 0h1m1 0h4m1 0h2m1 0h2m1 0h4m1 0h4m1 0h1m1 0h5m8 0h2m1 0h2m2 0h2m-300 1h2m42 0h2m10 0h104m1 0h44m1 0h48m1 0h3m1 0h1m1 0h1m2 0h1m2 0h3m1 0h3m2 0h1m1 0h1m1 0h8m3 0h3m2 0h1m6 0h1m-304 1h2m11 0h2m46 0h30m1 0h95m1 0h11m1 0h47m1 0h4m3 0h5m3 0h7m1 0h2m1 0h1m1 0h1m1 0h1m1 0h1m1 0h1m3 0h2m2 0h1m2 0h4m3 0h1m2 0h1m-291 1h2m37 0h2m3 0h1m1 0h40m1 0h119m1 0h29m1 0h3m1 0h1m3 0h2m1 0h2m4 0h2m2 0h2m3 0h1m2 0h2m6 0h1m1 0h1m1 0h2m3 0h2m2 0h2m-248 1h1m2 0h1m1 0h44m1 0h85m1 0h61m3 0h3m1 0h1m1 0h1m1 0h2m6 0h2m4 0h1m5 0h3m1 0h1m1 0h1m7 0h1m-243 1h1m1 0h2m1 0h159m1 0h26m1 0h1m1 0h12m1 0h1m1 0h1m2 0h1m6 0h3m1 0h2m3 0h2m1 0h1m3 0h1m-250 1h2m5 0h2m7 0h48m1 0h97m1 0h2m1 0h4m1 0h38m1 0h3m1 0h4m2 0h1m1 0h1m4 0h1m1 0h1m2 0h1m1 0h1m1 0h1m2 0h1m2 0h1m5 0h2m8 0h1m3 0h2m-280 1h2m14 0h2m5 0h2m9 0h141m1 0h41m1 0h7m1 0h2m1 0h5m2 0h1m1 0h1m1 0h1m4 0h2m1 0h1m10 0h4m2 0h1m6 0h2m2 0h4m-280 1h2m28 0h53m1 0h110m1 0h23m2 0h7m2 0h1m2 0h2m3 0h3m1 0h2m2 0h1m1 0h1m1 0h1m1 0h2m1 0h1m6 0h1m4 0h1m1 0h2m2 0h1m3 0h2m-255 1h4m3 0h2m1 0h61m1 0h121m1 0h5m1 0h7m2 0h3m3 0h2m3 0h2m1 0h1m4 0h2m2 0h3m10 0h2m8 0h2m-257 1h4m4 0h195m2 0h2m3 0h1m1 0h3m1 0h1m7 0h3m3 0h2m1 0h1m1 0h1m4 0h2m13 0h2m-275 1h2m13 0h1m8 0h1m2 0h173m1 0h4m2 0h2m1 0h8m2 0h1m1 0h1m1 0h2m1 0h1m1 0h2m2 0h1m3 0h2m3 0h3m3 0h3m1 0h1m5 0h2m-260 1h2m14 0h1m1 0h1m3 0h1m1 0h186m1 0h1m2 0h3m1 0h1m1 0h1m5 0h3m9 0h1m6 0h1m14 0h2m-329 1h2m84 0h1m3 0h55m1 0h120m2 0h6m2 0h1m1 0h2m1 0h4m3 0h2m11 0h2m2 0h1m2 0h4m1 0h1m2 0h1m8 0h4m-329 1h2m86 0h1m1 0h1m1 0h172m1 0h4m1 0h6m1 0h1m1 0h1m7 0h1m1 0h1m3 0h1m7 0h2m9 0h1m1 0h1m1 0h1m8 0h2m1 0h2m5 0h2m-248 1h175m1 0h4m1 0h4m2 0h5m1 0h1m2 0h4m5 0h2m2 0h1m11 0h2m16 0h2m5 0h2m-248 1h1m1 0h170m1 0h1m1 0h3m1 0h1m1 0h2m1 0h3m3 0h1m3 0h4m8 0h1m3 0h1m4 0h1m3 0h4m17 0h2m-253 1h2m1 0h2m5 0h1m1 0h34m1 0h85m1 0h40m1 0h9m2 0h6m1 0h4m2 0h1m1 0h4m2 0h2m3 0h2m1 0h2m6 0h1m4 0h1m2 0h2m5 0h1m9 0h2m2 0h2m-277 1h2m25 0h4m1 0h2m1 0h46m1 0h115m1 0h6m2 0h5m2 0h2m3 0h2m1 0h2m1 0h1m3 0h1m1 0h1m2 0h4m1 0h4m12 0h1m5 0h1m10 0h2m-273 1h2m28 0h4m1 0h161m2 0h8m1 0h1m1 0h1m1 0h5m3 0h2m6 0h1m2 0h1m2 0h3m4 0h2m2 0h1m8 0h1m8 0h2m5 0h2m-251 1h2m1 0h2m1 0h2m7 0h28m1 0h133m1 0h11m1 0h1m1 0h2m2 0h1m2 0h1m1 0h2m5 0h3m4 0h1m9 0h1m7 0h1m15 0h2m-251 1h2m1 0h2m6 0h2m1 0h46m1 0h109m1 0h1m1 0h9m2 0h6m2 0h1m3 0h1m1 0h1m4 0h1m6 0h2m9 0h1m21 0h2m-249 1h2m11 0h1m1 0h168m1 0h3m3 0h1m1 0h2m2 0h1m1 0h2m1 0h2m1 0h1m3 0h1m2 0h1m4 0h1m6 0h2m22 0h2m21 0h2m-272 1h2m6 0h2m4 0h1m1 0h1m1 0h151m1 0h5m1 0h2m2 0h1m2 0h3m2 0h3m4 0h2m1 0h2m1 0h4m4 0h1m2 0h1m1 0h2m1 0h1m2 0h2m48 0h2m-275 1h2m9 0h2m7 0h158m1 0h1m1 0h4m4 0h5m4 0h1m2 0h2m1 0h2m1 0h1m7 0h1m3 0h1m3 0h5m-228 1h2m6 0h2m6 0h152m2 0h3m1 0h3m2 0h3m3 0h2m2 0h3m2 0h1m1 0h3m2 0h3m2 0h1m1 0h2m3 0h1m4 0h2m7 0h1m7 0h2m1 0h2m11 0h2m10 0h2m5 0h2m-275 1h2m9 0h2m6 0h87m1 0h57m1 0h4m1 0h2m1 0h2m2 0h7m3 0h2m1 0h2m1 0h1m4 0h1m1 0h1m5 0h1m3 0h1m6 0h1m1 0h1m4 0h1m13 0h2m1 0h2m1 0h2m3 0h2m3 0h2m4 0h2m1 0h2m1 0h2m5 0h2m-275 1h2m19 0h9m1 0h136m1 0h1m1 0h1m1 0h1m1 0h2m1 0h7m1 0h5m1 0h2m2 0h2m1 0h1m12 0h1m8 0h1m3 0h1m4 0h2m13 0h2m3 0h2m9 0h2m6 0h1m-252 1h2m2 0h101m1 0h30m1 0h3m1 0h10m1 0h9m1 0h1m1 0h1m2 0h1m1 0h3m3 0h1m2 0h4m3 0h1m3 0h2m2 0h1m8 0h1m1 0h1m3 0h1m3 0h2m23 0h2m12 0h1m-268 1h2m14 0h4m1 0h140m1 0h3m3 0h4m1 0h3m2 0h3m1 0h3m1 0h2m1 0h1m3 0h1m1 0h1m1 0h1m1 0h1m1 0h3m1 0h2m8 0h2m36 0h2m-255 1h2m10 0h4m2 0h136m1 0h3m1 0h9m1 0h3m1 0h1m6 0h1m8 0h2m1 0h1m6 0h1m8 0h2m1 0h1m3 0h2m12 0h2m16 0h2m-237 1h5m1 0h1m1 0h131m3 0h5m1 0h1m1 0h5m1 0h1m2 0h3m3 0h3m2 0h1m2 0h1m3 0h1m2 0h1m10 0h2m1 0h1m1 0h4m2 0h6m6 0h2m1 0h2m9 0h2m5 0h2m8 0h1m-242 1h1m3 0h129m1 0h8m1 0h3m2 0h2m2 0h1m1 0h2m3 0h1m1 0h5m4 0h3m3 0h1m3 0h1m6 0h2m2 0h1m6 0h6m1 0h2m3 0h2m12 0h2m14 0h1m-245 1h2m3 0h1m1 0h124m1 0h4m1 0h4m1 0h5m1 0h1m1 0h1m1 0h1m3 0h2m1 0h4m1 0h2m3 0h1m2 0h1m11 0h2m1 0h1m21 0h2m10 0h1m26 0h2m-250 1h2m4 0h40m1 0h92m1 0h5m1 0h2m1 0h2m5 0h1m5 0h2m2 0h3m3 0h1m8 0h2m2 0h1m2 0h1m32 0h1m26 0h2m4 0h2m-270 1h2m15 0h3m1 0h12m1 0h49m1 0h60m1 0h15m1 0h2m1 0h1m1 0h1m2 0h4m1 0h2m4 0h2m3 0h4m4 0h4m13 0h4m2 0h2m50 0h2m-270 1h2m11 0h2m2 0h3m1 0h121m1 0h1m1 0h2m1 0h5m1 0h1m2 0h2m1 0h1m1 0h2m1 0h2m1 0h7m1 0h2m3 0h1m4 0h1m3 0h2m1 0h2m4 0h2m5 0h8m2 0h2m4 0h2m-221 1h1m9 0h2m2 0h1m1 0h1m1 0h63m1 0h61m1 0h2m2 0h3m1 0h1m1 0h1m2 0h1m3 0h2m1 0h1m1 0h1m6 0h2m1 0h1m5 0h1m4 0h1m8 0h2m5 0h4m7 0h4m1 0h2m-222 1h1m14 0h1m3 0h121m1 0h6m1 0h5m1 0h5m9 0h1m1 0h2m4 0h1m2 0h2m11 0h2m21 0h4m44 0h4m-258 1h2m5 0h1m2 0h4m1 0h25m1 0h84m1 0h3m1 0h5m1 0h4m1 0h1m2 0h3m1 0h1m3 0h1m2 0h2m7 0h1m3 0h1m6 0h2m4 0h1m1 0h2m16 0h2m51 0h4m-268 1h2m8 0h2m8 0h78m1 0h19m1 0h23m4 0h4m1 0h1m2 0h1m4 0h5m1 0h2m6 0h1m2 0h1m1 0h1m1 0h1m3 0h1m1 0h1m5 0h1m10 0h2m3 0h2m1 0h2m24 0h2m-294 1h2m53 0h2m5 0h2m6 0h2m3 0h20m1 0h92m1 0h3m1 0h2m1 0h1m1 0h3m1 0h1m2 0h7m2 0h4m5 0h1m1 0h2m3 0h1m1 0h1m2 0h1m22 0h2m3 0h2m27 0h2m2 0h2m-298 1h2m60 0h2m2 0h2m2 0h2m2 0h52m1 0h67m1 0h5m1 0h3m2 0h1m1 0h3m1 0h1m9 0h1m2 0h2m1 0h1m1 0h2m2 0h1m17 0h2m42 0h2m-232 1h2m6 0h112m1 0h5m1 0h1m1 0h6m3 0h3m2 0h1m2 0h1m5 0h2m8 0h1m20 0h2m1 0h2m1 0h1m3 0h2m16 0h2m9 0h2m-224 1h2m4 0h1m1 0h120m2 0h5m1 0h1m1 0h1m8 0h3m2 0h2m4 0h3m3 0h2m15 0h4m5 0h1m1 0h1m1 0h1m10 0h2m4 0h2m9 0h2m-224 1h2m2 0h1m1 0h1m1 0h110m1 0h8m4 0h1m5 0h1m1 0h1m3 0h3m1 0h2m15 0h2m9 0h4m2 0h2m22 0h2m-210 1h2m6 0h1m2 0h85m1 0h30m3 0h5m1 0h1m1 0h3m1 0h1m3 0h2m1 0h1m5 0h2m3 0h2m16 0h4m6 0h2m3 0h2m-195 1h2m4 0h2m1 0h1m1 0h81m1 0h24m1 0h5m1 0h8m2 0h2m1 0h1m2 0h1m2 0h1m11 0h2m3 0h3m15 0h4m6 0h2m3 0h2m56 0h2m-256 1h2m2 0h2m3 0h2m1 0h8m1 0h33m1 0h67m1 0h7m2 0h3m1 0h1m1 0h1m2 0h1m3 0h2m6 0h1m2 0h2m1 0h1m4 0h1m1 0h1m11 0h2m1 0h4m5 0h2m16 0h2m8 0h2m34 0h4m-258 1h2m1 0h2m4 0h2m2 0h57m1 0h45m1 0h7m1 0h3m1 0h2m2 0h2m7 0h1m2 0h1m1 0h2m5 0h1m1 0h2m1 0h1m11 0h2m5 0h2m10 0h2m16 0h2m8 0h2m36 0h2m-249 1h2m2 0h110m1 0h1m1 0h1m2 0h1m2 0h2m2 0h3m1 0h2m1 0h1m15 0h1m3 0h2m-166 1h2m5 0h2m3 0h2m1 0h85m1 0h21m2 0h2m3 0h1m2 0h1m2 0h1m5 0h2m3 0h2m2 0h4m7 0h1m2 0h4m2 0h2m40 0h2m9 0h2m26 0h2m-253 1h2m5 0h2m3 0h2m1 0h102m1 0h3m1 0h2m1 0h4m1 0h3m1 0h2m1 0h1m8 0h2m2 0h4m12 0h2m7 0h2m26 0h2m7 0h2m9 0h2m26 0h2m-261 1h2m17 0h31m1 0h68m1 0h5m1 0h1m1 0h6m3 0h1m5 0h1m1 0h1m1 0h1m4 0h2m29 0h2m14 0h4m8 0h2m11 0h2m4 0h2m-232 1h2m17 0h99m1 0h12m2 0h1m1 0h1m1 0h4m3 0h1m1 0h1m6 0h2m3 0h2m3 0h2m26 0h2m6 0h4m21 0h2m4 0h2m18 0h2m-282 1h2m38 0h2m3 0h2m2 0h1m1 0h1m1 0h95m1 0h2m2 0h5m2 0h1m1 0h1m1 0h1m2 0h2m2 0h2m1 0h1m11 0h2m2 0h1m2 0h2m5 0h2m19 0h2m38 0h4m15 0h2m-282 1h2m38 0h2m3 0h4m1 0h36m1 0h58m1 0h6m1 0h3m1 0h1m1 0h3m2 0h1m1 0h3m2 0h3m1 0h1m2 0h1m7 0h2m9 0h2m1 0h2m59 0h4m-230 1h2m6 0h2m1 0h1m2 0h1m1 0h98m1 0h3m2 0h7m3 0h1m1 0h2m3 0h1m1 0h1m4 0h1m3 0h2m2 0h2m8 0h2m49 0h2m36 0h2m-253 1h2m6 0h2m6 0h102m2 0h2m4 0h1m3 0h1m4 0h1m12 0h2m2 0h2m24 0h2m33 0h2m36 0h2m-240 1h1m3 0h90m2 0h11m1 0h1m1 0h3m1 0h2m6 0h1m1 0h3m2 0h2m27 0h2m5 0h2m88 0h2m-257 1h1m3 0h87m1 0h4m1 0h2m1 0h2m1 0h1m1 0h1m4 0h1m1 0h1m2 0h3m7 0h1m3 0h2m24 0h2m1 0h2m95 0h2m-267 1h2m8 0h1m2 0h76m1 0h17m1 0h5m2 0h1m1 0h1m2 0h2m6 0h1m2 0h2m4 0h2m7 0h2m13 0h2m2 0h2m17 0h2m-186 1h2m7 0h2m2 0h74m1 0h23m1 0h4m2 0h1m6 0h2m4 0h2m11 0h4m2 0h2m9 0h2m21 0h2m-191 1h2m7 0h1m5 0h1m1 0h1m1 0h20m1 0h70m1 0h3m1 0h2m1 0h1m2 0h3m1 0h4m9 0h1m10 0h2m2 0h4m13 0h2m-172 1h2m7 0h1m4 0h4m1 0h89m1 0h11m1 0h1m1 0h3m7 0h4m2 0h1m2 0h2m4 0h2m3 0h2m15 0h2m57 0h2m14 0h2m-228 1h8m1 0h27m1 0h23m1 0h27m1 0h1m3 0h5m1 0h2m1 0h1m3 0h1m3 0h1m3 0h4m3 0h1m1 0h2m4 0h2m4 0h2m12 0h2m5 0h2m5 0h2m32 0h2m11 0h2m14 0h2m-238 1h1m7 0h1m1 0h88m1 0h1m1 0h1m1 0h3m4 0h1m1 0h2m1 0h1m3 0h3m7 0h1m2 0h2m11 0h2m12 0h2m5 0h2m5 0h2m22 0h2m8 0h2m-210 1h2m4 0h3m2 0h21m1 0h68m1 0h2m1 0h1m4 0h1m6 0h1m1 0h1m10 0h1m16 0h2m41 0h2m6 0h2m-201 1h1m4 0h2m2 0h2m1 0h87m5 0h5m5 0h4m1 0h2m6 0h2m19 0h2m1 0h2m38 0h2m11 0h2m-210 1h2m7 0h2m1 0h1m3 0h45m1 0h38m1 0h4m2 0h1m2 0h1m1 0h1m1 0h2m2 0h2m4 0h1m8 0h1m4 0h2m2 0h2m11 0h2m51 0h2m3 0h2m-215 1h2m14 0h89m3 0h1m3 0h2m3 0h1m1 0h2m1 0h1m1 0h1m5 0h2m6 0h2m2 0h4m67 0h2m42 0h2m-258 1h2m11 0h1m1 0h56m1 0h27m2 0h1m1 0h4m1 0h1m1 0h3m9 0h1m1 0h2m13 0h1m3 0h2m20 0h2m19 0h2m68 0h2m-298 1h2m30 0h2m6 0h2m9 0h2m1 0h85m2 0h6m1 0h2m2 0h1m2 0h2m4 0h3m12 0h3m2 0h4m20 0h2m19 0h2m46 0h2m-276 1h2m30 0h2m17 0h2m1 0h86m1 0h6m1 0h1m4 0h1m1 0h2m1 0h2m2 0h2m2 0h2m8 0h2m3 0h4m14 0h2m13 0h2m58 0h2m-231 1h1m2 0h2m1 0h2m1 0h84m2 0h1m1 0h1m1 0h2m1 0h1m3 0h3m2 0h2m1 0h1m3 0h1m2 0h2m31 0h2m13 0h2m-172 1h1m3 0h3m4 0h44m1 0h34m2 0h2m1 0h2m1 0h1m1 0h3m4 0h4m8 0h1m24 0h1m95 0h2m-250 1h2m15 0h58m1 0h28m1 0h2m1 0h4m1 0h2m5 0h2m1 0h2m1 0h1m16 0h2m8 0h1m94 0h2m-250 1h2m8 0h2m7 0h54m1 0h25m1 0h1m1 0h1m1 0h1m2 0h1m2 0h2m1 0h2m2 0h2m1 0h2m1 0h2m18 0h2m14 0h2m-151 1h2m1 0h1m1 0h1m2 0h10m1 0h75m4 0h4m5 0h2m13 0h2m25 0h2m15 0h2m61 0h2m-228 1h2m3 0h77m1 0h2m1 0h2m2 0h1m1 0h3m6 0h2m14 0h4m20 0h2m20 0h2m61 0h2m-223 1h71m1 0h7m2 0h3m1 0h2m1 0h1m1 0h1m1 0h2m1 0h1m6 0h2m2 0h2m4 0h2m1 0h2m19 0h2m19 0h1m61 0h2m-225 1h4m1 0h81m1 0h3m3 0h2m1 0h2m6 0h4m2 0h2m7 0h2m40 0h1m8 0h1m52 0h2m-228 1h1m2 0h80m3 0h2m1 0h2m1 0h1m1 0h2m2 0h1m8 0h2m4 0h2m10 0h2m46 0h1m78 0h2m-253 1h1m2 0h2m2 0h77m1 0h1m4 0h2m5 0h2m3 0h4m1 0h1m2 0h1m1 0h1m4 0h2m5 0h2m125 0h2m-250 1h2m2 0h74m3 0h1m1 0h1m3 0h1m6 0h4m1 0h4m1 0h2m1 0h1m4 0h1m1 0h2m-117 1h2m2 0h71m1 0h6m3 0h2m1 0h3m2 0h1m3 0h1m14 0h1m9 0h2m56 0h2m-186 1h1m6 0h60m1 0h8m1 0h5m1 0h3m1 0h2m1 0h1m1 0h1m2 0h2m13 0h2m14 0h2m7 0h1m48 0h2m26 0h2m37 0h2m-255 1h2m7 0h75m1 0h7m1 0h2m1 0h1m5 0h2m8 0h4m22 0h1m75 0h2m37 0h2m-246 1h1m1 0h67m2 0h1m1 0h2m1 0h3m1 0h8m5 0h2m1 0h2m7 0h2m2 0h2m39 0h2m47 0h2m-210 1h4m6 0h69m1 0h1m1 0h1m1 0h7m4 0h1m2 0h1m1 0h2m16 0h2m39 0h2m47 0h2m-210 1h5m4 0h42m1 0h29m1 0h1m1 0h1m2 0h2m1 0h2m1 0h2m1 0h2m3 0h1m135 0h2m-234 1h1m1 0h2m1 0h68m1 0h3m1 0h3m1 0h1m1 0h1m1 0h1m44 0h2m8 0h2m37 0h2m25 0h2m23 0h2m30 0h2m-264 1h2m2 0h62m1 0h5m3 0h2m2 0h2m1 0h2m4 0h2m4 0h2m33 0h2m8 0h2m23 0h2m12 0h2m25 0h2m55 0h2m-300 1h2m2 0h2m1 0h2m29 0h62m1 0h7m1 0h3m3 0h1m1 0h2m7 0h1m3 0h2m68 0h2m84 0h2m-288 1h2m2 0h2m1 0h2m28 0h2m1 0h15m1 0h50m2 0h2m1 0h1m2 0h1m1 0h2m2 0h1m3 0h1m1 0h1m62 0h2m95 0h2m-257 1h2m1 0h3m3 0h45m1 0h18m1 0h3m1 0h1m2 0h1m5 0h1m1 0h1m1 0h2m2 0h1m7 0h2m8 0h2m43 0h2m-160 1h1m2 0h4m2 0h51m1 0h18m3 0h1m6 0h2m5 0h1m6 0h2m8 0h2m142 0h2m-255 1h1m1 0h2m1 0h60m1 0h2m1 0h5m5 0h1m5 0h3m3 0h1m78 0h2m81 0h2m-255 1h1m1 0h2m1 0h51m1 0h6m1 0h8m3 0h3m5 0h2m2 0h1m82 0h2m-180 1h2m7 0h1m3 0h46m1 0h13m2 0h6m1 0h2m7 0h3m1 0h2m63 0h2m16 0h2m-180 1h2m1 0h2m7 0h61m1 0h5m3 0h1m1 0h1m4 0h2m1 0h1m6 0h2m5 0h1m53 0h2m16 0h2m-181 1h2m2 0h2m2 0h2m4 0h64m1 0h4m1 0h1m2 0h1m4 0h1m3 0h2m2 0h2m3 0h2m7 0h1m12 0h2m7 0h2m-138 1h2m8 0h2m1 0h63m1 0h3m1 0h1m2 0h1m2 0h1m8 0h2m17 0h1m11 0h2m7 0h2m71 0h2m-214 1h2m14 0h67m2 0h1m2 0h2m3 0h1m3 0h6m5 0h2m4 0h2m1 0h1m94 0h2m-214 1h2m5 0h2m3 0h4m1 0h65m1 0h2m3 0h3m1 0h1m2 0h1m1 0h6m2 0h2m1 0h2m4 0h2m102 0h2m-213 1h2m1 0h1m1 0h2m1 0h1m1 0h31m1 0h29m1 0h4m2 0h3m8 0h1m3 0h1m4 0h2m13 0h2m7 0h2m87 0h2m-219 1h2m3 0h2m2 0h1m4 0h24m1 0h31m1 0h3m1 0h1m2 0h5m1 0h6m1 0h2m1 0h1m3 0h1m1 0h1m5 0h2m5 0h2m4 0h2m7 0h2m-130 1h2m3 0h2m1 0h1m3 0h1m1 0h1m1 0h22m1 0h38m1 0h3m1 0h1m4 0h1m1 0h1m1 0h3m4 0h2m1 0h1m1 0h1m2 0h2m5 0h2m-102 1h2m1 0h55m1 0h6m2 0h4m6 0h1m13 0h1m7 0h2m2 0h2m23 0h2m46 0h2m-185 1h2m6 0h61m1 0h1m1 0h3m1 0h1m1 0h1m6 0h1m2 0h2m16 0h2m2 0h2m19 0h2m2 0h2m46 0h2m42 0h2m-229 1h4m2 0h2m2 0h60m4 0h1m2 0h2m2 0h3m2 0h1m1 0h2m12 0h2m27 0h2m29 0h2m63 0h2m-227 1h2m2 0h66m2 0h1m2 0h1m3 0h2m1 0h1m17 0h2m58 0h2m-167 1h2m6 0h1m2 0h65m9 0h1m5 0h2m47 0h2m126 0h2m-270 1h2m6 0h1m4 0h60m1 0h2m4 0h1m1 0h2m7 0h2m47 0h2m2 0h2m14 0h4m104 0h2m-264 1h2m1 0h1m1 0h56m1 0h4m1 0h3m1 0h3m4 0h1m1 0h2m24 0h2m30 0h2m14 0h4m-153 1h14m1 0h40m1 0h1m1 0h1m1 0h3m1 0h6m2 0h1m2 0h2m8 0h4m12 0h2m-102 1h59m1 0h1m2 0h1m1 0h2m2 0h1m2 0h1m7 0h1m3 0h4m44 0h2m-144 1h2m4 0h1m1 0h1m3 0h57m1 0h4m1 0h2m1 0h2m2 0h1m4 0h1m3 0h1m5 0h2m3 0h2m38 0h2m-143 1h1m1 0h2m2 0h2m3 0h13m1 0h37m2 0h3m2 0h1m4 0h3m3 0h2m3 0h2m9 0h2m3 0h2m50 0h2m-153 1h2m1 0h1m1 0h1m2 0h26m1 0h28m1 0h2m2 0h6m13 0h2m62 0h2m-157 1h2m8 0h1m2 0h14m1 0h44m1 0h1m1 0h3m8 0h2m3 0h2m14 0h2m5 0h2m12 0h2m25 0h2m44 0h2m-203 1h2m8 0h54m1 0h2m1 0h1m2 0h2m1 0h5m2 0h2m3 0h2m2 0h2m15 0h2m5 0h2m12 0h2m25 0h2m30 0h2m12 0h2m32 0h2m-230 1h2m1 0h61m2 0h1m3 0h1m12 0h2m10 0h2m47 0h2m34 0h2m46 0h2m-230 1h2m1 0h1m1 0h52m2 0h6m1 0h1m2 0h1m19 0h2m4 0h2m11 0h2m22 0h2m10 0h2m8 0h2m-152 1h1m1 0h60m2 0h3m3 0h1m7 0h1m6 0h2m17 0h2m22 0h2m20 0h2m-159 1h2m1 0h4m2 0h49m1 0h2m1 0h4m1 0h1m2 0h1m1 0h2m4 0h1m1 0h1m1 0h2m1 0h1m61 0h2m-149 1h2m1 0h4m3 0h54m1 0h2m1 0h1m4 0h2m3 0h1m2 0h1m9 0h2m54 0h2m-149 1h2m2 0h2m1 0h19m1 0h32m2 0h3m3 0h3m6 0h3m9 0h1m2 0h2m10 0h2m-118 1h2m5 0h2m4 0h2m2 0h2m3 0h51m2 0h1m1 0h7m1 0h2m2 0h1m5 0h1m4 0h1m2 0h2m11 0h2m24 0h2m31 0h2m24 0h2m-203 1h2m5 0h4m6 0h2m3 0h51m1 0h2m2 0h1m6 0h1m7 0h2m8 0h2m4 0h2m15 0h2m14 0h2m31 0h2m24 0h2m-194 1h2m12 0h50m1 0h2m1 0h1m2 0h1m3 0h1m2 0h2m20 0h2m5 0h2m3 0h2m3 0h2m19 0h2m-142 1h2m14 0h49m1 0h3m2 0h1m1 0h1m1 0h2m3 0h2m4 0h2m21 0h2m3 0h2m24 0h2m117 0h2m-261 1h2m4 0h3m2 0h1m4 0h49m1 0h3m1 0h1m2 0h1m1 0h2m9 0h2m1 0h1m4 0h2m10 0h2m88 0h2m61 0h2m-255 1h2m1 0h2m1 0h1m1 0h47m1 0h5m1 0h1m1 0h3m1 0h1m6 0h1m6 0h1m5 0h2m10 0h4m19 0h2m65 0h2m-193 1h1m10 0h51m1 0h2m1 0h1m1 0h1m7 0h1m19 0h2m5 0h2m19 0h2m61 0h2m-188 1h1m3 0h1m3 0h1m1 0h52m1 0h1m7 0h1m1 0h2m5 0h2m13 0h2m11 0h2m76 0h2m69 0h2m-256 1h1m3 0h1m2 0h47m2 0h3m2 0h1m1 0h2m3 0h1m5 0h1m4 0h1m25 0h2m147 0h2m-256 1h1m1 0h2m2 0h1m1 0h17m1 0h26m1 0h1m1 0h1m1 0h5m3 0h3m4 0h2m1 0h1m11 0h2m41 0h2m9 0h2m-148 1h2m4 0h1m6 0h46m1 0h2m2 0h1m1 0h1m2 0h1m1 0h1m3 0h4m2 0h1m10 0h2m38 0h2m1 0h2m9 0h2m-154 1h2m4 0h2m5 0h1m1 0h2m1 0h51m1 0h2m3 0h1m3 0h4m1 0h2m11 0h2m6 0h2m4 0h2m21 0h2m2 0h2m-140 1h2m3 0h2m4 0h2m6 0h47m1 0h1m1 0h1m5 0h1m3 0h2m3 0h2m11 0h2m6 0h2m4 0h2m21 0h2m54 0h4m73 0h2m-268 1h2m2 0h4m2 0h2m3 0h2m1 0h21m1 0h25m4 0h3m4 0h2m36 0h2m73 0h4m73 0h2m-268 1h2m4 0h2m10 0h47m1 0h2m8 0h2m28 0h2m6 0h2m-97 1h34m1 0h9m2 0h3m1 0h1m2 0h1m6 0h2m23 0h4m-90 1h39m1 0h1m2 0h9m2 0h2m5 0h2m7 0h2m3 0h1m8 0h4m-92 1h3m1 0h46m1 0h6m4 0h1m8 0h3m1 0h2m4 0h1m7 0h2m-90 1h2m1 0h1m1 0h36m2 0h4m1 0h1m1 0h1m1 0h6m4 0h1m41 0h2m16 0h2m-128 1h4m1 0h1m1 0h40m3 0h3m2 0h1m1 0h2m1 0h2m26 0h2m18 0h2m16 0h2m82 0h2m-212 1h5m3 0h37m1 0h4m1 0h1m5 0h3m1 0h1m26 0h2m120 0h2m21 0h2m-230 1h2m1 0h1m1 0h28m1 0h5m1 0h11m3 0h1m4 0h1m158 0h2m8 0h2m-226 1h39m1 0h2m1 0h1m3 0h1m3 0h1m1 0h2m1 0h1m3 0h2m152 0h2m-219 1h2m1 0h41m1 0h1m2 0h2m2 0h2m7 0h4m5 0h2m42 0h2m26 0h2m-144 1h1m4 0h26m1 0h4m1 0h10m1 0h2m2 0h2m1 0h1m5 0h2m51 0h2m26 0h2m-140 1h32m1 0h11m2 0h1m4 0h1m88 0h2m34 0h2m-265 1h2m59 0h2m11 0h3m1 0h1m2 0h1m5 0h37m1 0h6m1 0h1m2 0h1m1 0h1m44 0h2m43 0h2m34 0h2m-265 1h2m59 0h2m11 0h2m1 0h1m2 0h1m2 0h2m1 0h1m1 0h34m1 0h3m1 0h2m1 0h2m1 0h1m1 0h1m46 0h2m128 0h2m-252 1h2m15 0h1m3 0h2m1 0h1m2 0h32m1 0h1m2 0h6m5 0h1m38 0h2m112 0h2m16 0h2m3 0h2m-252 1h2m20 0h1m1 0h28m1 0h8m1 0h2m2 0h2m1 0h1m1 0h1m8 0h2m31 0h2m112 0h2m16 0h2m-226 1h1m1 0h1m3 0h35m1 0h3m1 0h3m2 0h1m7 0h2m-65 1h2m2 0h1m5 0h33m1 0h4m7 0h1m1 0h4m7 0h2m-74 1h2m2 0h2m3 0h1m1 0h2m1 0h33m2 0h2m1 0h1m4 0h3m4 0h1m7 0h2m50 0h2m6 0h2m-134 1h2m4 0h2m1 0h1m1 0h2m1 0h29m2 0h2m1 0h4m3 0h1m1 0h3m9 0h2m13 0h2m15 0h2m21 0h2m6 0h2m71 0h2m-201 1h2m3 0h1m4 0h16m1 0h18m2 0h2m4 0h1m1 0h2m6 0h2m13 0h2m15 0h2m102 0h2m21 0h2m-243 1h2m15 0h1m1 0h2m2 0h1m2 0h2m1 0h23m1 0h4m1 0h1m2 0h1m3 0h3m6 0h2m122 0h2m41 0h2m24 0h2m-269 1h2m15 0h1m1 0h2m5 0h3m1 0h6m1 0h13m1 0h9m2 0h3m5 0h3m8 0h2m4 0h2m109 0h2m67 0h2m-258 1h2m10 0h1m3 0h1m1 0h1m1 0h23m1 0h2m1 0h3m2 0h6m3 0h1m8 0h2m4 0h2m33 0h2m125 0h2m-240 1h2m9 0h1m5 0h2m1 0h24m1 0h5m2 0h2m2 0h1m1 0h1m29 0h2m21 0h2m125 0h2m-242 1h2m16 0h1m1 0h2m1 0h27m1 0h2m6 0h1m17 0h2m1 0h2m8 0h2m24 0h2m51 0h2m-171 1h2m18 0h23m1 0h3m2 0h3m2 0h6m6 0h1m4 0h2m2 0h4m1 0h2m15 0h2m13 0h2m2 0h2m20 0h2m29 0h2m75 0h2m-236 1h2m4 0h2m1 0h13m1 0h2m1 0h3m1 0h2m3 0h2m3 0h1m5 0h2m3 0h1m1 0h1m5 0h2m2 0h2m20 0h2m13 0h2m22 0h4m106 0h2m-240 1h4m2 0h1m3 0h2m2 0h1m2 0h14m1 0h3m1 0h1m1 0h7m2 0h2m7 0h2m3 0h2m30 0h2m33 0h2m-138 1h2m6 0h4m4 0h1m2 0h5m1 0h9m1 0h4m2 0h3m2 0h1m1 0h2m1 0h2m16 0h2m28 0h4m-103 1h2m7 0h2m2 0h2m1 0h1m2 0h1m1 0h1m2 0h2m1 0h1m1 0h1m1 0h2m1 0h8m1 0h2m1 0h1m1 0h3m1 0h2m4 0h2m5 0h4m30 0h2m-92 1h2m2 0h2m7 0h1m3 0h1m3 0h4m1 0h1m1 0h5m1 0h2m1 0h2m3 0h1m1 0h1m1 0h2m1 0h2m5 0h4m24 0h2m41 0h2m-130 1h2m1 0h2m8 0h2m1 0h2m3 0h2m2 0h9m1 0h7m2 0h1m1 0h3m1 0h2m33 0h2m38 0h2m1 0h2m60 0h2m-195 1h2m1 0h2m1 0h2m6 0h1m1 0h2m1 0h2m1 0h1m2 0h1m4 0h1m1 0h2m1 0h1m2 0h1m1 0h3m2 0h1m5 0h1m15 0h2m59 0h2m63 0h2m-195 1h2m9 0h2m1 0h1m2 0h3m1 0h2m3 0h3m1 0h1m1 0h1m8 0h2m3 0h1m20 0h2m4 0h2m21 0h2m-97 1h1m9 0h2m2 0h2m1 0h6m6 0h1m1 0h2m2 0h1m1 0h1m4 0h1m1 0h2m6 0h1m19 0h2m21 0h2m4 0h2m22 0h2m-131 1h2m1 0h1m2 0h2m2 0h1m1 0h1m5 0h1m2 0h1m1 0h4m2 0h2m1 0h1m1 0h4m1 0h2m1 0h3m2 0h2m2 0h2m1 0h4m2 0h2m43 0h2m22 0h2m-131 1h2m4 0h2m3 0h1m2 0h1m4 0h3m3 0h2m2 0h1m2 0h1m1 0h10m5 0h2m3 0h2m2 0h1m1 0h2m31 0h2m-84 1h1m1 0h2m6 0h1m1 0h1m1 0h3m1 0h2m4 0h1m3 0h1m2 0h2m3 0h2m9 0h3m3 0h2m27 0h2m33 0h2m49 0h2m-199 1h2m25 0h3m4 0h3m4 0h2m1 0h1m2 0h4m1 0h3m1 0h4m5 0h4m3 0h2m8 0h2m7 0h2m53 0h2m49 0h2m33 0h2m-234 1h2m19 0h2m4 0h3m1 0h2m1 0h1m2 0h3m1 0h1m1 0h2m1 0h3m1 0h2m1 0h3m1 0h1m3 0h2m6 0h1m2 0h2m15 0h4m3 0h1m3 0h2m130 0h2m-213 1h2m2 0h2m10 0h1m7 0h2m5 0h2m1 0h1m5 0h3m1 0h1m6 0h1m16 0h2m6 0h1m2 0h2m-77 1h2m4 0h4m1 0h1m2 0h1m2 0h1m1 0h1m1 0h3m2 0h1m1 0h1m1 0h4m1 0h1m3 0h1m2 0h1m5 0h1m39 0h2m-86 1h6m2 0h5m3 0h2m4 0h1m2 0h2m5 0h1m4 0h1m3 0h2m9 0h2m30 0h2m5 0h2m4 0h2m-99 1h4m3 0h2m1 0h2m1 0h1m2 0h1m2 0h2m1 0h1m2 0h2m2 0h1m5 0h3m1 0h4m9 0h2m1 0h2m34 0h2m4 0h2m74 0h2m-183 1h1m7 0h4m1 0h1m2 0h1m6 0h3m1 0h3m6 0h2m2 0h1m2 0h3m1 0h2m14 0h2m116 0h2m-183 1h1m7 0h2m1 0h1m2 0h1m1 0h2m2 0h1m1 0h2m1 0h1m1 0h1m1 0h1m3 0h2m6 0h1m8 0h3m-43 1h1m2 0h1m1 0h2m2 0h2m2 0h2m1 0h1m6 0h1m1 0h2m13 0h3m4 0h2m10 0h2m-61 1h1m1 0h1m5 0h1m1 0h2m4 0h1m5 0h1m1 0h1m2 0h2m18 0h2m10 0h2m114 0h2m-185 1h2m2 0h2m1 0h1m1 0h1m1 0h2m2 0h2m1 0h2m1 0h2m3 0h2m4 0h1m9 0h2m139 0h2m-185 1h2m2 0h2m5 0h1m1 0h1m2 0h2m1 0h5m2 0h1m1 0h1m6 0h2m5 0h2m-66 1h2m20 0h2m5 0h1m4 0h2m1 0h5m3 0h1m6 0h1m2 0h1m1 0h4m6 0h2m-69 1h2m20 0h2m4 0h1m6 0h1m2 0h2m2 0h1m1 0h1m2 0h2m2 0h1m2 0h1m4 0h2m6 0h2m-50 1h2m12 0h4m1 0h1m5 0h1m2 0h3m4 0h1m3 0h1m21 0h2m102 0h2m-167 1h2m10 0h5m1 0h1m1 0h2m1 0h2m1 0h1m4 0h1m1 0h1m2 0h1m2 0h1m4 0h1m16 0h2m102 0h2m-158 1h2m1 0h4m1 0h1m1 0h1m3 0h2m2 0h1m2 0h3m12 0h1m-41 1h1m3 0h2m4 0h2m5 0h5m2 0h1m4 0h2m-30 1h3m3 0h2m3 0h4m1 0h2m1 0h2m1 0h1m1 0h3m1 0h2m-30 1h1m7 0h3m1 0h3m1 0h4m2 0h1m1 0h1m1 0h1m3 0h2m-28 1h2m3 0h1m3 0h1m3 0h5m1 0h1m3 0h1m2 0h2m1 0h2m-36 1h2m3 0h2m3 0h1m1 0h1m1 0h2m3 0h2m1 0h1m2 0h1m2 0h1m5 0h2m-36 1h2m2 0h2m2 0h1m4 0h3m1 0h2m1 0h4m2 0h1m6 0h2m1 0h2m-61 1h1m4 0h2m5 0h29m1 0h7m1 0h3m1 0h11m1 0h4m1 0h9m3 0h3m1 0h2m2 0h2m5 0h3m3 0h3m6 0h1m4 0h1m2 0h1m2 0h2m2 0h1m1 0h1m3 0h1m1 0h1m6 0h1m1 0h1m3 0h2m7 0h1m3 0h1m1 0h4m4 0h3m1 0h1m11 0h9m3 0h1m3 0h1m12 0h7m2 0h1m2 0h1m3 0h1m1 0h1m1 0h1m1 0h2m1 0h1m1 0h1m1 0h1m2 0h2m2 0h3m2 0h1m1 0h1m4 0h1m3 0h1m2 0h2m1 0h1m1 0h2m1 0h1" stroke="#000" stroke-width="1" fill="none" shape-rendering="crispEdges"/>
<path d="M1026 1894.5h1m52 1h1m6 0h1m24 2h1m-93 1h1m104 1h1m-63 2h1m34 0h1m28 0h1m-44 1h1m19 0h1m6 1h1m-32 1h1m31 0h1m11 0h1m-94 1h1m24 0h1m40 0h1m4 0h1m16 1h1m-43 1h1m5 0h1m-11 1h1m15 0h1m14 0h1m-33 2h1m42 0h1m3 1h1m2 0h1m-83 1h1m70 0h1m-73 2h1m38 0h1m46 0h1m1 0h1m-93 1h1m48 0h1m40 0h1m-91 1h1m14 0h1m24 0h1m22 0h1m10 0h1" stroke="#d9c34c" stroke-width="1" fill="none" shape-rendering="crispEdges"/>
<path d="M896.3 1883.8V1917.6H1131.5V1862.8H982.3" fill="none" stroke="#d9c34c" stroke-width="1.6"/>
<text x="895.8" y="1877.6" font-size="17.8" fill="#d9c34c">P1(0.04%)</text>
<rect x="784.6" y="1860.6" width="347.3" height="346.5" fill="none" stroke="#1a1a1a" stroke-width="2"/>
<line x1="776.1" y1="1860.6" x2="784.6" y2="1860.6" stroke="#1a1a1a" stroke-width="2"/>
<line x1="776.1" y1="2207.1" x2="784.6" y2="2207.1" stroke="#1a1a1a" stroke-width="1.8"/>
<line x1="779.6" y1="2187.2" x2="784.6" y2="2187.2" stroke="#1a1a1a" stroke-width="1.6"/>
<line x1="779.6" y1="2175.5" x2="784.6" y2="2175.5" stroke="#1a1a1a" stroke-width="1.6"/>
<line x1="779.6" y1="2167.2" x2="784.6" y2="2167.2" stroke="#1a1a1a" stroke-width="1.6"/>
<line x1="779.6" y1="2160.8" x2="784.6" y2="2160.8" stroke="#1a1a1a" stroke-width="1.6"/>
<line x1="779.6" y1="2155.6" x2="784.6" y2="2155.6" stroke="#1a1a1a" stroke-width="1.6"/>
<line x1="779.6" y1="2151.2" x2="784.6" y2="2151.2" stroke="#1a1a1a" stroke-width="1.6"/>
<line x1="779.6" y1="2147.3" x2="784.6" y2="2147.3" stroke="#1a1a1a" stroke-width="1.6"/>
<line x1="779.6" y1="2143.9" x2="784.6" y2="2143.9" stroke="#1a1a1a" stroke-width="1.6"/>
<text transform="translate(768 2217.4) rotate(-90)" font-size="17.8">10<tspan dy="-8.5" font-size="13">2</tspan></text>
<line x1="776.1" y1="2140.9" x2="784.6" y2="2140.9" stroke="#1a1a1a" stroke-width="1.8"/>
<line x1="779.6" y1="2121" x2="784.6" y2="2121" stroke="#1a1a1a" stroke-width="1.6"/>
<line x1="779.6" y1="2109.3" x2="784.6" y2="2109.3" stroke="#1a1a1a" stroke-width="1.6"/>
<line x1="779.6" y1="2101" x2="784.6" y2="2101" stroke="#1a1a1a" stroke-width="1.6"/>
<line x1="779.6" y1="2094.6" x2="784.6" y2="2094.6" stroke="#1a1a1a" stroke-width="1.6"/>
<line x1="779.6" y1="2089.4" x2="784.6" y2="2089.4" stroke="#1a1a1a" stroke-width="1.6"/>
<line x1="779.6" y1="2085" x2="784.6" y2="2085" stroke="#1a1a1a" stroke-width="1.6"/>
<line x1="779.6" y1="2081.1" x2="784.6" y2="2081.1" stroke="#1a1a1a" stroke-width="1.6"/>
<line x1="779.6" y1="2077.7" x2="784.6" y2="2077.7" stroke="#1a1a1a" stroke-width="1.6"/>
<text transform="translate(768 2151.2) rotate(-90)" font-size="17.8">10<tspan dy="-8.5" font-size="13">3</tspan></text>
<line x1="776.1" y1="2074.7" x2="784.6" y2="2074.7" stroke="#1a1a1a" stroke-width="1.8"/>
<line x1="779.6" y1="2054.8" x2="784.6" y2="2054.8" stroke="#1a1a1a" stroke-width="1.6"/>
<line x1="779.6" y1="2043.1" x2="784.6" y2="2043.1" stroke="#1a1a1a" stroke-width="1.6"/>
<line x1="779.6" y1="2034.8" x2="784.6" y2="2034.8" stroke="#1a1a1a" stroke-width="1.6"/>
<line x1="779.6" y1="2028.4" x2="784.6" y2="2028.4" stroke="#1a1a1a" stroke-width="1.6"/>
<line x1="779.6" y1="2023.2" x2="784.6" y2="2023.2" stroke="#1a1a1a" stroke-width="1.6"/>
<line x1="779.6" y1="2018.8" x2="784.6" y2="2018.8" stroke="#1a1a1a" stroke-width="1.6"/>
<line x1="779.6" y1="2014.9" x2="784.6" y2="2014.9" stroke="#1a1a1a" stroke-width="1.6"/>
<line x1="779.6" y1="2011.5" x2="784.6" y2="2011.5" stroke="#1a1a1a" stroke-width="1.6"/>
<text transform="translate(768 2085) rotate(-90)" font-size="17.8">10<tspan dy="-8.5" font-size="13">4</tspan></text>
<line x1="776.1" y1="2008.5" x2="784.6" y2="2008.5" stroke="#1a1a1a" stroke-width="1.8"/>
<line x1="779.6" y1="1988.6" x2="784.6" y2="1988.6" stroke="#1a1a1a" stroke-width="1.6"/>
<line x1="779.6" y1="1976.9" x2="784.6" y2="1976.9" stroke="#1a1a1a" stroke-width="1.6"/>
<line x1="779.6" y1="1968.6" x2="784.6" y2="1968.6" stroke="#1a1a1a" stroke-width="1.6"/>
<line x1="779.6" y1="1962.2" x2="784.6" y2="1962.2" stroke="#1a1a1a" stroke-width="1.6"/>
<line x1="779.6" y1="1957" x2="784.6" y2="1957" stroke="#1a1a1a" stroke-width="1.6"/>
<line x1="779.6" y1="1952.6" x2="784.6" y2="1952.6" stroke="#1a1a1a" stroke-width="1.6"/>
<line x1="779.6" y1="1948.7" x2="784.6" y2="1948.7" stroke="#1a1a1a" stroke-width="1.6"/>
<line x1="779.6" y1="1945.3" x2="784.6" y2="1945.3" stroke="#1a1a1a" stroke-width="1.6"/>
<text transform="translate(768 2018.8) rotate(-90)" font-size="17.8">10<tspan dy="-8.5" font-size="13">5</tspan></text>
<line x1="776.1" y1="1942.3" x2="784.6" y2="1942.3" stroke="#1a1a1a" stroke-width="1.8"/>
<line x1="779.6" y1="1922.4" x2="784.6" y2="1922.4" stroke="#1a1a1a" stroke-width="1.6"/>
<line x1="779.6" y1="1910.7" x2="784.6" y2="1910.7" stroke="#1a1a1a" stroke-width="1.6"/>
<line x1="779.6" y1="1902.4" x2="784.6" y2="1902.4" stroke="#1a1a1a" stroke-width="1.6"/>
<line x1="779.6" y1="1896" x2="784.6" y2="1896" stroke="#1a1a1a" stroke-width="1.6"/>
<line x1="779.6" y1="1890.8" x2="784.6" y2="1890.8" stroke="#1a1a1a" stroke-width="1.6"/>
<line x1="779.6" y1="1886.4" x2="784.6" y2="1886.4" stroke="#1a1a1a" stroke-width="1.6"/>
<line x1="779.6" y1="1882.5" x2="784.6" y2="1882.5" stroke="#1a1a1a" stroke-width="1.6"/>
<line x1="779.6" y1="1879.1" x2="784.6" y2="1879.1" stroke="#1a1a1a" stroke-width="1.6"/>
<text transform="translate(768 1952.6) rotate(-90)" font-size="17.8">10<tspan dy="-8.5" font-size="13">6</tspan></text>
<line x1="776.1" y1="1876.1" x2="784.6" y2="1876.1" stroke="#1a1a1a" stroke-width="1.8"/>
<text transform="translate(768 1886.4) rotate(-90)" font-size="17.8">10<tspan dy="-8.5" font-size="13">7</tspan></text>
<line x1="784.6" y1="2207.1" x2="784.6" y2="2216.1" stroke="#1a1a1a" stroke-width="1.8"/>
<line x1="818.5" y1="2207.1" x2="818.5" y2="2212.1" stroke="#1a1a1a" stroke-width="1.8"/>
<line x1="852.4" y1="2207.1" x2="852.4" y2="2212.1" stroke="#1a1a1a" stroke-width="1.8"/>
<line x1="886.2" y1="2207.1" x2="886.2" y2="2212.1" stroke="#1a1a1a" stroke-width="1.8"/>
<line x1="920.1" y1="2207.1" x2="920.1" y2="2212.1" stroke="#1a1a1a" stroke-width="1.8"/>
<line x1="954" y1="2207.1" x2="954" y2="2216.1" stroke="#1a1a1a" stroke-width="1.8"/>
<line x1="987.9" y1="2207.1" x2="987.9" y2="2212.1" stroke="#1a1a1a" stroke-width="1.8"/>
<line x1="1021.8" y1="2207.1" x2="1021.8" y2="2212.1" stroke="#1a1a1a" stroke-width="1.8"/>
<line x1="1055.6" y1="2207.1" x2="1055.6" y2="2212.1" stroke="#1a1a1a" stroke-width="1.8"/>
<line x1="1089.5" y1="2207.1" x2="1089.5" y2="2212.1" stroke="#1a1a1a" stroke-width="1.8"/>
<line x1="1123.4" y1="2207.1" x2="1123.4" y2="2216.1" stroke="#1a1a1a" stroke-width="1.8"/>
<text x="784.6" y="2229.2" font-size="18.2" text-anchor="middle">0</text>
<text x="954" y="2229.2" font-size="18.2" text-anchor="middle">200</text>
<text x="1123.4" y="2229.2" font-size="18.2" text-anchor="middle">400</text>
<text x="958.9" y="2259" font-size="18.3" text-anchor="middle">FSC-Width</text>
<text x="1075.5" y="2260" font-size="18.3">( x 10<tspan dy="-8" font-size="13">1</tspan><tspan dy="8">)</tspan></text>
<text x="744.4" y="2035.6" font-size="18.4" text-anchor="middle" transform="rotate(-90 744.4 2035.6)">Y610-A</text>
<text x="940.8" y="1822.2" font-size="29.3" text-anchor="middle">Untransfected Cells</text>
<text x="950.1" y="1851.2" font-size="18.4" text-anchor="middle">01-Well-B1 : All Events</text>
<path d="M1326 1883.5h2m-2 1h2m17 12h2m-2 1h2m15 5h2m-2 1h2m-51 3h2m-2 1h2m86 11h2m22 0h2m7 0h1m6 0h1m3 0h2m6 0h1m3 0h1m5 0h2m2 0h2m7 0h2m1 0h1m3 0h2m1 0h1m3 0h1m1 0h1m2 0h3m1 0h3m4 0h2m2 0h1m4 0h1m1 0h1m1 0h1m17 0h1m4 0h1m3 0h1m2 0h1m2 0h1m1 0h2m12 0h2m1 0h2m5 0h5m2 0h1m1 0h2m4 0h1m3 0h1m2 0h1m-224 1h2m22 0h2m12 0h2m2 0h2m1 0h2m1 0h2m3 0h2m2 0h1m6 0h2m5 0h1m1 0h1m1 0h2m3 0h2m1 0h1m1 0h4m1 0h2m3 0h1m3 0h2m1 0h1m6 0h6m1 0h3m1 0h2m2 0h2m3 0h1m2 0h2m1 0h8m1 0h2m1 0h1m1 0h1m1 0h1m4 0h2m1 0h3m1 0h1m1 0h2m3 0h1m1 0h1m2 0h1m1 0h2m2 0h1m1 0h3m1 0h2m1 0h4m1 0h1m1 0h2m1 0h1m4 0h3m1 0h1m3 0h9m1 0h1m-224 1h2m21 0h3m13 0h1m2 0h2m1 0h2m11 0h2m6 0h1m1 0h3m2 0h1m6 0h1m1 0h2m3 0h1m5 0h1m1 0h3m2 0h1m3 0h37m1 0h2m1 0h1m1 0h1m1 0h1m1 0h1m3 0h1m1 0h1m1 0h2m1 0h1m2 0h3m2 0h2m1 0h2m1 0h1m1 0h1m2 0h1m2 0h1m2 0h2m1 0h1m2 0h2m1 0h1m2 0h1m4 0h3m1 0h3m2 0h7m3 0h1m-211 1h2m8 0h3m5 0h2m6 0h1m2 0h2m14 0h1m2 0h2m5 0h2m4 0h2m1 0h1m1 0h1m5 0h3m1 0h2m3 0h7m1 0h46m3 0h1m2 0h1m3 0h2m1 0h1m4 0h5m1 0h12m1 0h4m1 0h2m2 0h1m1 0h1m4 0h2m2 0h4m1 0h7m1 0h1m1 0h1m2 0h1m-211 1h2m5 0h2m9 0h2m2 0h2m3 0h1m1 0h2m6 0h6m1 0h1m2 0h1m1 0h2m3 0h2m1 0h1m1 0h1m5 0h2m2 0h1m1 0h1m2 0h64m1 0h2m1 0h2m1 0h1m3 0h1m1 0h2m1 0h1m1 0h1m4 0h1m1 0h4m2 0h3m1 0h3m2 0h1m3 0h1m1 0h1m1 0h2m3 0h2m2 0h2m2 0h1m4 0h7m-258 1h2m28 0h2m22 0h2m2 0h2m9 0h2m7 0h2m4 0h6m1 0h1m1 0h1m8 0h1m2 0h2m1 0h1m1 0h2m2 0h74m2 0h1m1 0h1m1 0h11m1 0h4m2 0h5m1 0h4m1 0h2m1 0h2m1 0h6m2 0h2m1 0h3m2 0h1m2 0h3m1 0h6m-258 1h2m28 0h2m43 0h2m1 0h2m5 0h1m1 0h2m2 0h2m1 0h1m1 0h1m1 0h1m4 0h2m2 0h85m2 0h5m1 0h2m2 0h4m1 0h1m2 0h5m1 0h4m1 0h3m1 0h5m1 0h1m1 0h11m2 0h1m3 0h2m1 0h3m-266 1h2m78 0h1m5 0h2m2 0h4m1 0h2m1 0h1m2 0h6m3 0h3m1 0h91m2 0h3m1 0h18m1 0h5m1 0h1m1 0h12m1 0h12m1 0h1m-265 1h2m49 0h2m3 0h2m7 0h2m1 0h2m9 0h1m6 0h2m4 0h3m4 0h5m3 0h1m3 0h103m1 0h10m2 0h1m1 0h9m1 0h10m1 0h2m1 0h13m-218 1h1m2 0h2m3 0h4m5 0h2m1 0h1m4 0h3m3 0h2m1 0h1m5 0h2m4 0h1m2 0h1m1 0h1m1 0h1m2 0h1m1 0h103m1 0h1m1 0h3m1 0h3m1 0h6m1 0h15m1 0h3m1 0h3m1 0h15m-217 1h1m8 0h2m8 0h1m4 0h3m1 0h1m2 0h1m2 0h2m3 0h1m1 0h1m1 0h2m2 0h2m4 0h64m1 0h30m1 0h38m2 0h3m1 0h1m1 0h4m1 0h1m3 0h1m1 0h3m1 0h4m1 0h2m-228 1h2m23 0h1m1 0h1m10 0h1m1 0h1m7 0h1m9 0h19m1 0h102m1 0h2m1 0h18m1 0h24m-227 1h2m18 0h1m5 0h1m5 0h2m1 0h2m1 0h4m1 0h1m1 0h3m1 0h4m2 0h130m1 0h9m2 0h7m1 0h3m1 0h4m1 0h14m-217 1h2m7 0h1m1 0h1m12 0h2m4 0h1m1 0h5m2 0h74m1 0h64m1 0h4m1 0h3m1 0h27m1 0h1m-272 1h2m40 0h4m7 0h4m9 0h1m3 0h2m5 0h1m2 0h1m1 0h1m1 0h1m2 0h2m2 0h125m1 0h9m1 0h44m-271 1h2m40 0h4m7 0h2m4 0h1m10 0h2m6 0h1m1 0h2m1 0h2m2 0h17m1 0h115m1 0h4m1 0h3m2 0h5m1 0h3m1 0h10m1 0h20m-220 1h2m5 0h1m4 0h4m1 0h2m1 0h1m2 0h1m2 0h1m2 0h2m1 0h165m1 0h3m1 0h18m-220 1h2m10 0h2m8 0h2m2 0h4m1 0h72m1 0h87m1 0h3m1 0h10m1 0h11m1 0h1m-240 1h2m11 0h1m4 0h2m7 0h2m8 0h1m3 0h1m1 0h2m1 0h1m1 0h10m1 0h30m1 0h101m1 0h11m1 0h17m1 0h18m-250 1h2m8 0h2m12 0h2m4 0h1m6 0h3m3 0h2m2 0h3m6 0h158m1 0h4m1 0h3m1 0h8m1 0h5m1 0h3m1 0h2m1 0h3m-249 1h2m20 0h2m10 0h1m3 0h1m4 0h2m6 0h145m1 0h8m1 0h10m1 0h4m1 0h28m-228 1h2m2 0h2m3 0h6m3 0h2m4 0h3m2 0h26m1 0h127m1 0h18m2 0h7m1 0h6m1 0h9m-262 1h2m36 0h2m3 0h2m4 0h1m2 0h2m1 0h2m2 0h94m1 0h54m1 0h12m1 0h1m1 0h20m1 0h17m-262 1h2m42 0h2m1 0h1m3 0h2m2 0h1m2 0h1m1 0h156m1 0h8m1 0h19m1 0h3m1 0h1m2 0h9m-223 1h3m2 0h3m7 0h181m1 0h18m1 0h7m-235 1h2m6 0h2m4 0h1m3 0h1m1 0h1m2 0h1m1 0h1m1 0h43m1 0h128m1 0h24m1 0h5m1 0h4m-235 1h2m11 0h1m1 0h1m1 0h1m5 0h1m1 0h2m1 0h155m1 0h14m1 0h15m1 0h13m1 0h1m1 0h3m-225 1h1m8 0h1m3 0h117m1 0h10m1 0h17m1 0h28m1 0h8m1 0h9m1 0h2m1 0h3m1 0h1m1 0h9m-254 1h2m18 0h2m1 0h2m4 0h1m2 0h4m3 0h2m1 0h99m1 0h40m1 0h39m1 0h22m1 0h8m-254 1h2m10 0h2m6 0h2m1 0h3m4 0h1m1 0h1m3 0h1m2 0h1m2 0h164m1 0h4m1 0h12m1 0h3m1 0h5m1 0h18m-254 1h2m9 0h4m1 0h2m5 0h1m3 0h2m8 0h1m2 0h162m1 0h14m1 0h4m1 0h11m1 0h20m-255 1h2m9 0h2m3 0h2m3 0h2m6 0h1m6 0h1m2 0h172m1 0h4m1 0h28m1 0h9m-229 1h1m9 0h1m2 0h45m1 0h69m1 0h21m1 0h26m1 0h4m1 0h28m1 0h17m-233 1h4m2 0h2m6 0h167m1 0h12m1 0h4m1 0h8m1 0h5m1 0h5m1 0h4m1 0h7m-245 1h2m10 0h2m2 0h1m1 0h2m2 0h1m1 0h1m2 0h171m1 0h1m1 0h1m1 0h4m1 0h12m1 0h9m1 0h14m-326 1h2m79 0h2m11 0h2m4 0h3m2 0h15m1 0h167m1 0h9m1 0h18m1 0h2m2 0h4m-326 1h2m76 0h1m8 0h2m5 0h2m4 0h2m1 0h1m2 0h180m1 0h1m1 0h13m1 0h18m1 0h4m-248 1h1m8 0h2m2 0h2m5 0h4m1 0h1m1 0h198m1 0h1m1 0h1m2 0h8m1 0h8m-258 1h2m11 0h2m8 0h4m5 0h1m3 0h9m1 0h80m1 0h79m1 0h7m1 0h3m1 0h9m1 0h22m1 0h6m-258 1h2m11 0h2m2 0h2m6 0h2m2 0h3m1 0h1m1 0h49m1 0h125m1 0h2m2 0h35m1 0h7m-241 1h2m3 0h1m10 0h185m2 0h13m1 0h11m1 0h12m-242 1h1m5 0h1m2 0h1m3 0h1m2 0h190m1 0h6m1 0h14m1 0h13m-265 1h2m20 0h1m2 0h2m5 0h1m2 0h2m2 0h143m1 0h17m1 0h25m2 0h5m1 0h10m1 0h2m1 0h17m-265 1h2m23 0h2m2 0h2m1 0h1m2 0h1m2 0h17m1 0h170m1 0h3m1 0h6m1 0h27m-265 1h2m2 0h2m25 0h2m1 0h186m1 0h13m1 0h19m1 0h8m1 0h1m-317 1h2m50 0h2m2 0h2m20 0h2m2 0h1m1 0h3m1 0h46m1 0h28m1 0h127m1 0h2m1 0h6m1 0h7m1 0h3m1 0h3m-317 1h2m58 0h2m5 0h1m1 0h1m8 0h4m1 0h1m2 0h166m1 0h8m1 0h43m1 0h11m-257 1h2m6 0h1m11 0h2m2 0h183m1 0h18m1 0h30m-240 1h1m1 0h1m1 0h4m1 0h184m1 0h43m1 0h2m-267 1h2m3 0h2m19 0h1m2 0h2m1 0h113m1 0h57m2 0h6m1 0h11m1 0h43m-271 1h2m2 0h2m3 0h4m7 0h1m3 0h4m5 0h1m1 0h1m1 0h36m1 0h127m1 0h7m1 0h5m1 0h2m1 0h3m1 0h35m1 0h4m1 0h7m-271 1h2m9 0h2m3 0h2m3 0h2m1 0h4m1 0h1m4 0h1m1 0h177m1 0h21m1 0h6m1 0h2m1 0h12m1 0h12m-255 1h2m11 0h2m2 0h3m1 0h174m1 0h26m1 0h28m1 0h3m-276 1h2m29 0h1m4 0h1m1 0h2m1 0h173m2 0h52m1 0h3m1 0h3m-276 1h2m5 0h1m13 0h2m6 0h1m1 0h1m5 0h1m2 0h191m1 0h2m1 0h26m1 0h4m1 0h5m1 0h3m-269 1h1m5 0h2m6 0h2m5 0h1m2 0h1m2 0h2m1 0h1m2 0h188m1 0h27m1 0h4m1 0h8m1 0h2m1 0h2m-263 1h2m4 0h2m4 0h2m4 0h1m1 0h1m4 0h165m1 0h56m1 0h5m1 0h7m1 0h1m-274 1h2m12 0h2m1 0h2m4 0h3m4 0h1m1 0h1m2 0h175m2 0h6m1 0h8m1 0h4m1 0h3m1 0h3m1 0h7m1 0h5m1 0h1m1 0h2m1 0h6m2 0h1m4 0h1m-274 1h2m3 0h2m7 0h2m4 0h2m2 0h1m6 0h2m2 0h27m1 0h39m1 0h101m1 0h5m1 0h8m2 0h19m1 0h5m1 0h3m1 0h4m1 0h1m1 0h2m1 0h5m1 0h2m1 0h1m1 0h2m-269 1h2m13 0h2m1 0h1m5 0h4m1 0h168m1 0h27m1 0h15m1 0h9m4 0h7m1 0h6m-255 1h3m5 0h2m2 0h3m1 0h165m2 0h2m1 0h4m1 0h19m1 0h4m1 0h3m1 0h6m2 0h6m2 0h1m1 0h1m1 0h1m2 0h9m1 0h2m-257 1h4m1 0h1m1 0h2m1 0h2m4 0h13m1 0h152m1 0h29m1 0h3m2 0h2m1 0h4m1 0h2m2 0h1m1 0h1m2 0h6m1 0h9m1 0h5m-291 1h2m32 0h2m3 0h1m1 0h2m2 0h1m4 0h43m1 0h119m1 0h5m1 0h9m1 0h10m1 0h3m1 0h9m1 0h3m2 0h1m2 0h1m1 0h13m2 0h9m1 0h1m-291 1h2m22 0h2m10 0h2m5 0h2m4 0h157m1 0h18m1 0h8m1 0h1m1 0h2m1 0h8m1 0h3m1 0h1m1 0h1m1 0h7m1 0h6m1 0h7m1 0h8m1 0h2m-304 1h2m35 0h2m10 0h2m7 0h1m1 0h1m1 0h167m1 0h4m1 0h9m1 0h5m1 0h1m1 0h3m2 0h3m2 0h1m1 0h7m2 0h6m1 0h23m-304 1h2m52 0h3m4 0h131m1 0h42m1 0h7m2 0h3m1 0h5m1 0h4m3 0h3m1 0h5m1 0h2m1 0h11m1 0h11m1 0h5m-249 1h1m4 0h100m1 0h62m1 0h3m1 0h2m2 0h7m2 0h2m1 0h3m1 0h1m1 0h2m1 0h2m4 0h4m1 0h4m1 0h7m1 0h2m1 0h20m1 0h3m-283 1h2m21 0h2m7 0h1m1 0h1m2 0h1m1 0h174m2 0h5m1 0h3m1 0h2m1 0h3m1 0h6m1 0h1m1 0h12m1 0h7m1 0h10m2 0h9m-283 1h2m21 0h2m4 0h1m1 0h1m3 0h2m2 0h167m1 0h3m1 0h6m1 0h13m1 0h4m1 0h1m1 0h25m1 0h1m1 0h12m1 0h3m-269 1h2m7 0h2m3 0h1m3 0h3m1 0h1m1 0h159m1 0h4m1 0h1m1 0h3m1 0h11m2 0h1m1 0h2m3 0h3m1 0h3m1 0h4m1 0h3m1 0h2m1 0h1m2 0h6m1 0h4m1 0h5m1 0h3m1 0h3m1 0h2m1 0h2m-269 1h2m7 0h2m2 0h1m4 0h1m3 0h97m1 0h6m1 0h36m1 0h7m1 0h18m1 0h4m1 0h2m1 0h1m1 0h3m2 0h1m1 0h1m1 0h8m1 0h9m1 0h4m1 0h7m1 0h7m1 0h9m1 0h9m-263 1h2m5 0h1m7 0h1m1 0h169m1 0h8m1 0h1m1 0h1m1 0h4m1 0h4m1 0h1m1 0h8m2 0h3m1 0h4m1 0h2m2 0h2m1 0h7m2 0h3m1 0h2m1 0h6m1 0h2m-263 1h2m8 0h1m3 0h1m1 0h148m1 0h20m1 0h1m2 0h1m1 0h2m4 0h18m1 0h17m1 0h16m1 0h1m1 0h1m2 0h3m1 0h3m-257 1h2m2 0h2m4 0h154m1 0h3m1 0h2m1 0h4m2 0h5m2 0h1m1 0h7m1 0h1m2 0h17m1 0h13m1 0h4m1 0h5m3 0h5m1 0h3m1 0h4m-275 1h2m10 0h2m4 0h2m4 0h2m1 0h2m1 0h14m1 0h128m1 0h1m1 0h1m1 0h2m1 0h1m1 0h2m1 0h2m1 0h7m2 0h3m1 0h2m3 0h16m1 0h3m1 0h11m1 0h3m1 0h6m1 0h1m1 0h2m1 0h1m1 0h3m1 0h4m1 0h1m1 0h2m2 0h1m-295 1h2m19 0h2m7 0h2m1 0h2m4 0h1m1 0h1m2 0h1m3 0h146m1 0h1m1 0h4m5 0h1m2 0h1m1 0h1m3 0h1m3 0h2m2 0h2m1 0h20m1 0h11m1 0h5m1 0h1m2 0h3m3 0h1m1 0h1m1 0h12m1 0h1m1 0h1m-294 1h2m28 0h2m6 0h2m2 0h1m4 0h12m1 0h19m1 0h115m3 0h3m1 0h3m1 0h1m1 0h1m2 0h30m1 0h1m1 0h4m1 0h9m1 0h2m2 0h3m1 0h2m1 0h1m1 0h2m1 0h4m1 0h1m3 0h2m1 0h4m1 0h1m1 0h1m-259 1h2m3 0h2m2 0h102m1 0h43m1 0h6m1 0h1m2 0h1m2 0h1m1 0h1m3 0h41m1 0h2m1 0h2m1 0h2m2 0h2m1 0h5m1 0h3m3 0h1m4 0h1m1 0h1m2 0h2m1 0h1m1 0h3m-269 1h2m7 0h2m5 0h1m1 0h126m1 0h26m2 0h1m2 0h1m1 0h1m1 0h2m3 0h1m1 0h4m1 0h11m1 0h14m1 0h13m1 0h3m1 0h1m1 0h3m2 0h5m1 0h1m1 0h1m1 0h1m5 0h3m2 0h4m-272 1h2m1 0h2m11 0h1m1 0h2m1 0h40m1 0h109m1 0h7m1 0h8m1 0h13m1 0h5m1 0h13m1 0h5m1 0h1m1 0h1m1 0h1m1 0h1m3 0h8m2 0h1m2 0h1m1 0h1m1 0h3m3 0h1m7 0h2m-272 1h2m4 0h2m1 0h4m2 0h4m1 0h150m3 0h16m1 0h18m1 0h5m1 0h3m1 0h1m1 0h1m1 0h1m2 0h12m1 0h1m1 0h1m1 0h1m1 0h3m4 0h2m1 0h3m1 0h2m2 0h2m3 0h1m2 0h1m-297 1h2m10 0h2m17 0h2m1 0h4m2 0h1m2 0h1m2 0h98m1 0h51m1 0h38m1 0h1m1 0h2m1 0h1m1 0h3m1 0h3m1 0h1m1 0h3m1 0h1m1 0h1m3 0h6m1 0h1m4 0h2m3 0h2m3 0h2m3 0h4m2 0h1m-297 1h2m10 0h2m14 0h2m3 0h2m5 0h1m1 0h1m1 0h155m1 0h20m1 0h2m1 0h9m3 0h3m1 0h7m1 0h2m1 0h1m7 0h3m2 0h4m5 0h5m1 0h3m6 0h1m5 0h2m-268 1h2m4 0h1m2 0h1m6 0h126m1 0h22m1 0h5m1 0h6m3 0h4m1 0h5m1 0h14m1 0h2m2 0h3m1 0h4m1 0h2m4 0h1m1 0h1m1 0h3m1 0h1m1 0h3m1 0h4m1 0h2m1 0h1m1 0h1m2 0h1m1 0h1m5 0h1m3 0h1m-261 1h1m3 0h1m1 0h3m1 0h145m1 0h14m1 0h1m1 0h10m1 0h2m1 0h11m1 0h3m1 0h4m1 0h2m1 0h1m2 0h5m3 0h1m2 0h3m6 0h1m1 0h1m3 0h1m4 0h6m3 0h2m1 0h1m4 0h1m-253 1h30m1 0h21m1 0h99m1 0h1m1 0h27m1 0h10m1 0h5m1 0h1m1 0h1m1 0h1m2 0h2m1 0h6m7 0h3m3 0h2m1 0h2m4 0h1m2 0h1m2 0h3m1 0h1m3 0h1m-266 1h3m4 0h2m3 0h153m1 0h4m1 0h7m2 0h3m1 0h9m1 0h3m1 0h2m1 0h4m1 0h6m1 0h2m1 0h1m1 0h1m1 0h1m2 0h2m1 0h2m2 0h1m1 0h4m1 0h1m1 0h1m1 0h3m1 0h2m4 0h2m2 0h1m4 0h1m5 0h1m-269 1h2m2 0h1m4 0h2m1 0h2m1 0h158m1 0h4m1 0h5m1 0h7m2 0h6m1 0h1m1 0h2m1 0h1m2 0h6m2 0h1m3 0h1m2 0h1m2 0h2m4 0h5m7 0h2m3 0h2m1 0h1m-247 1h1m2 0h1m2 0h92m1 0h54m1 0h4m1 0h1m1 0h14m1 0h1m1 0h3m1 0h1m1 0h2m1 0h1m1 0h1m1 0h5m1 0h1m1 0h1m3 0h2m1 0h1m2 0h1m6 0h2m5 0h2m2 0h1m5 0h1m7 0h4m9 0h1m2 0h1m-258 1h1m2 0h2m2 0h148m1 0h3m1 0h1m1 0h7m1 0h8m2 0h3m4 0h5m1 0h7m1 0h3m3 0h1m1 0h3m2 0h2m6 0h2m3 0h1m1 0h2m2 0h3m5 0h2m6 0h2m2 0h1m1 0h1m2 0h1m2 0h1m-262 1h1m4 0h1m1 0h76m1 0h40m1 0h11m1 0h23m2 0h8m1 0h7m1 0h1m1 0h4m1 0h1m1 0h2m2 0h2m3 0h2m2 0h4m2 0h2m1 0h1m3 0h1m4 0h2m1 0h1m3 0h2m3 0h1m1 0h1m20 0h1m5 0h1m-267 1h2m1 0h3m6 0h62m1 0h82m1 0h11m3 0h10m1 0h3m1 0h1m2 0h1m1 0h1m1 0h1m1 0h1m1 0h7m1 0h1m2 0h2m3 0h1m2 0h2m18 0h1m5 0h1m2 0h2m2 0h1m15 0h1m-267 1h2m1 0h4m1 0h2m2 0h153m1 0h4m1 0h3m2 0h1m1 0h2m1 0h3m4 0h2m1 0h1m5 0h1m1 0h1m1 0h1m4 0h2m1 0h1m3 0h1m1 0h1m2 0h2m5 0h3m5 0h1m1 0h1m1 0h1m6 0h1m4 0h2m7 0h1m-270 1h2m6 0h2m5 0h1m3 0h3m1 0h151m3 0h1m1 0h4m1 0h9m1 0h7m1 0h1m1 0h3m1 0h1m1 0h3m1 0h3m1 0h1m1 0h1m2 0h2m2 0h1m2 0h2m4 0h3m5 0h2m1 0h2m13 0h2m5 0h1m-270 1h2m2 0h2m2 0h2m3 0h1m1 0h1m6 0h151m1 0h6m3 0h1m1 0h2m2 0h3m1 0h2m2 0h2m3 0h2m2 0h1m3 0h1m3 0h3m2 0h1m2 0h1m3 0h1m7 0h2m7 0h1m10 0h2m3 0h2m9 0h1m-289 1h2m20 0h2m6 0h1m1 0h1m2 0h2m3 0h146m1 0h2m3 0h6m1 0h1m2 0h1m1 0h2m1 0h1m1 0h1m1 0h1m3 0h1m4 0h1m1 0h2m1 0h3m3 0h2m2 0h2m2 0h1m5 0h1m4 0h1m1 0h2m2 0h1m2 0h5m3 0h2m3 0h2m3 0h2m-279 1h2m20 0h2m5 0h1m8 0h1m1 0h110m1 0h29m1 0h3m3 0h4m1 0h7m2 0h2m2 0h2m1 0h1m3 0h2m5 0h5m5 0h1m1 0h4m2 0h2m2 0h3m2 0h1m1 0h2m2 0h2m1 0h2m2 0h2m24 0h2m8 0h2m-275 1h2m5 0h1m6 0h1m1 0h26m1 0h120m1 0h6m1 0h2m2 0h1m3 0h1m2 0h2m2 0h1m1 0h3m4 0h1m1 0h1m5 0h1m4 0h2m1 0h5m2 0h1m6 0h1m7 0h1m14 0h2m1 0h1m7 0h2m12 0h2m-276 1h2m2 0h2m1 0h1m2 0h2m4 0h1m1 0h140m1 0h4m1 0h9m1 0h5m2 0h2m2 0h2m3 0h1m5 0h2m2 0h1m3 0h2m4 0h1m7 0h1m1 0h2m5 0h1m2 0h2m17 0h2m1 0h1m7 0h2m-299 1h2m35 0h2m2 0h3m3 0h2m2 0h143m1 0h4m1 0h1m6 0h3m1 0h3m1 0h4m1 0h1m2 0h2m1 0h1m8 0h1m1 0h2m3 0h1m9 0h1m9 0h4m1 0h2m1 0h1m6 0h1m-278 1h2m52 0h85m1 0h55m1 0h1m1 0h2m2 0h2m1 0h8m2 0h3m1 0h4m1 0h1m2 0h3m5 0h1m1 0h1m6 0h1m6 0h1m18 0h1m6 0h2m17 0h3m-253 1h2m6 0h145m8 0h1m1 0h2m1 0h1m1 0h4m3 0h1m2 0h1m1 0h2m2 0h1m3 0h2m3 0h1m4 0h1m2 0h1m3 0h1m5 0h1m2 0h4m8 0h2m5 0h1m3 0h2m2 0h2m1 0h2m4 0h2m1 0h1m5 0h2m4 0h2m-273 1h2m2 0h2m7 0h33m1 0h67m1 0h19m1 0h21m1 0h4m2 0h1m1 0h2m3 0h2m2 0h1m3 0h1m1 0h2m1 0h1m9 0h2m3 0h1m3 0h2m1 0h2m2 0h2m1 0h1m1 0h2m1 0h1m2 0h4m8 0h2m4 0h1m4 0h2m2 0h2m1 0h2m4 0h2m13 0h2m-273 1h2m1 0h1m6 0h1m1 0h82m1 0h50m1 0h7m1 0h3m2 0h2m1 0h1m1 0h1m1 0h3m2 0h1m2 0h1m1 0h2m2 0h1m1 0h1m2 0h1m3 0h2m1 0h2m2 0h2m2 0h1m1 0h2m5 0h2m3 0h2m11 0h4m19 0h2m4 0h2m1 0h2m-292 1h2m21 0h2m11 0h1m2 0h1m1 0h2m1 0h54m1 0h7m1 0h72m2 0h1m2 0h1m1 0h2m1 0h2m1 0h3m1 0h1m3 0h1m8 0h1m1 0h1m1 0h1m1 0h1m4 0h2m2 0h1m2 0h4m5 0h2m2 0h2m4 0h1m4 0h2m3 0h6m7 0h2m3 0h2m2 0h2m1 0h2m7 0h2m2 0h2m-296 1h2m12 0h2m7 0h2m12 0h1m1 0h1m2 0h1m1 0h130m1 0h5m3 0h2m1 0h4m1 0h2m2 0h1m3 0h2m2 0h1m5 0h2m4 0h1m7 0h1m12 0h3m1 0h2m2 0h2m1 0h1m3 0h2m3 0h4m9 0h2m3 0h2m2 0h2m14 0h2m-282 1h2m17 0h2m4 0h1m1 0h117m1 0h14m1 0h16m1 0h3m1 0h1m8 0h1m3 0h1m1 0h1m5 0h1m4 0h1m2 0h1m4 0h1m7 0h1m12 0h2m6 0h2m-260 1h2m28 0h2m2 0h1m5 0h138m2 0h2m2 0h1m1 0h1m2 0h3m1 0h1m2 0h3m7 0h1m1 0h3m8 0h1m2 0h1m6 0h1m4 0h2m2 0h1m11 0h2m19 0h2m-273 1h2m26 0h1m1 0h4m1 0h1m7 0h41m1 0h95m1 0h1m1 0h5m1 0h1m1 0h1m2 0h1m2 0h2m1 0h1m5 0h1m5 0h2m3 0h2m1 0h1m6 0h2m5 0h2m3 0h1m9 0h2m1 0h2m5 0h2m10 0h2m-245 1h1m1 0h1m3 0h1m2 0h1m3 0h133m1 0h3m1 0h1m2 0h2m2 0h2m2 0h1m1 0h2m2 0h1m2 0h1m1 0h1m3 0h1m6 0h2m3 0h2m3 0h1m8 0h1m4 0h1m1 0h1m10 0h2m8 0h4m-234 1h1m3 0h1m3 0h2m2 0h137m2 0h2m2 0h1m3 0h1m3 0h2m1 0h1m4 0h1m1 0h1m2 0h1m3 0h2m7 0h2m1 0h1m1 0h1m2 0h1m4 0h2m3 0h1m21 0h1m2 0h2m9 0h2m5 0h2m-244 1h4m1 0h134m2 0h1m1 0h3m1 0h3m3 0h1m7 0h3m1 0h1m6 0h2m12 0h1m3 0h1m29 0h1m14 0h4m20 0h2m-261 1h1m4 0h106m1 0h19m1 0h3m1 0h6m1 0h2m1 0h2m1 0h1m2 0h1m3 0h1m1 0h2m1 0h2m1 0h1m10 0h2m11 0h2m29 0h1m17 0h2m4 0h2m7 0h2m5 0h2m-300 1h2m11 0h2m16 0h4m9 0h126m1 0h6m1 0h2m3 0h7m1 0h1m1 0h1m1 0h2m1 0h1m1 0h2m4 0h2m6 0h2m6 0h2m17 0h2m4 0h2m33 0h2m7 0h2m-293 1h2m6 0h2m3 0h2m16 0h4m3 0h2m2 0h1m1 0h6m1 0h59m1 0h58m1 0h1m1 0h3m3 0h1m1 0h2m1 0h4m1 0h2m2 0h2m6 0h2m4 0h2m10 0h2m2 0h2m17 0h2m4 0h2m-241 1h2m24 0h2m2 0h3m2 0h27m1 0h95m1 0h4m1 0h2m1 0h4m1 0h3m3 0h1m4 0h1m3 0h2m14 0h2m5 0h2m11 0h2m-222 1h2m21 0h2m4 0h2m1 0h128m2 0h1m1 0h1m1 0h4m3 0h2m1 0h3m17 0h1m3 0h2m1 0h2m15 0h2m6 0h2m-230 1h2m17 0h2m8 0h1m2 0h104m1 0h14m1 0h3m1 0h5m1 0h1m1 0h5m1 0h1m2 0h3m5 0h2m9 0h2m2 0h3m4 0h2m23 0h2m-253 1h2m33 0h2m5 0h2m8 0h1m2 0h124m1 0h2m2 0h1m2 0h3m3 0h1m1 0h2m3 0h1m3 0h2m6 0h2m1 0h2m6 0h2m28 0h2m23 0h2m-280 1h2m22 0h2m1 0h2m6 0h4m3 0h3m1 0h2m4 0h1m2 0h98m1 0h31m2 0h2m1 0h1m1 0h1m5 0h2m1 0h1m2 0h2m2 0h2m2 0h2m9 0h2m4 0h2m4 0h2m16 0h2m14 0h2m7 0h2m-256 1h2m1 0h2m2 0h2m4 0h2m7 0h2m5 0h1m1 0h122m1 0h8m1 0h1m2 0h2m6 0h2m29 0h2m4 0h2m34 0h1m40 0h2m-293 1h2m8 0h2m15 0h1m6 0h58m1 0h61m1 0h2m1 0h3m2 0h1m2 0h3m1 0h3m9 0h2m13 0h2m4 0h2m22 0h2m7 0h2m6 0h2m14 0h2m29 0h2m3 0h1m-297 1h2m17 0h2m2 0h2m2 0h1m2 0h1m2 0h121m1 0h2m1 0h4m2 0h1m2 0h1m2 0h1m1 0h2m1 0h1m1 0h2m1 0h4m13 0h2m4 0h2m11 0h2m9 0h2m7 0h2m6 0h2m14 0h2m34 0h1m-285 1h2m10 0h1m5 0h2m1 0h120m1 0h2m1 0h1m1 0h1m3 0h1m5 0h2m2 0h1m1 0h1m1 0h2m1 0h2m4 0h2m28 0h2m6 0h2m16 0h2m48 0h2m-284 1h1m1 0h2m8 0h2m1 0h1m4 0h2m1 0h113m1 0h4m1 0h12m1 0h1m3 0h1m2 0h1m1 0h1m3 0h1m31 0h2m12 0h2m16 0h2m11 0h2m27 0h2m6 0h2m-284 1h1m6 0h2m3 0h2m1 0h2m2 0h1m1 0h112m1 0h5m1 0h1m1 0h3m1 0h3m1 0h2m1 0h1m1 0h1m8 0h1m1 0h3m2 0h2m9 0h2m16 0h2m43 0h2m27 0h2m-265 1h2m2 0h5m2 0h113m1 0h2m1 0h3m1 0h1m1 0h1m1 0h2m4 0h4m9 0h2m3 0h2m4 0h2m3 0h2m24 0h2m42 0h2m-243 1h2m2 0h1m4 0h1m2 0h105m1 0h6m1 0h3m2 0h6m5 0h2m3 0h1m3 0h3m4 0h2m1 0h2m4 0h2m9 0h1m4 0h2m1 0h4m8 0h2m42 0h2m17 0h2m-265 1h2m7 0h3m1 0h1m1 0h121m1 0h1m1 0h2m1 0h3m1 0h2m3 0h3m4 0h3m2 0h2m16 0h1m3 0h2m1 0h4m71 0h2m-265 1h2m5 0h2m3 0h2m1 0h106m1 0h9m5 0h2m3 0h2m4 0h1m3 0h2m5 0h2m10 0h2m17 0h1m9 0h2m1 0h4m-199 1h2m1 0h1m1 0h2m1 0h113m1 0h1m1 0h3m2 0h1m2 0h1m2 0h1m1 0h1m3 0h2m1 0h1m1 0h2m15 0h2m18 0h1m8 0h2m1 0h4m-222 1h2m18 0h2m5 0h2m1 0h40m1 0h78m1 0h1m1 0h1m2 0h2m3 0h2m4 0h2m1 0h4m7 0h1m2 0h2m59 0h2m46 0h2m-294 1h2m16 0h4m2 0h2m4 0h113m1 0h2m2 0h2m5 0h1m2 0h1m5 0h1m2 0h1m3 0h2m7 0h1m2 0h2m26 0h2m31 0h2m46 0h2m-278 1h5m3 0h3m1 0h1m1 0h15m1 0h11m1 0h86m4 0h1m2 0h1m1 0h3m2 0h1m3 0h2m8 0h1m11 0h3m8 0h2m14 0h2m51 0h2m-270 1h2m8 0h2m8 0h2m1 0h1m4 0h1m2 0h1m3 0h14m1 0h73m1 0h24m1 0h2m2 0h1m1 0h1m1 0h3m3 0h2m1 0h2m6 0h1m1 0h1m1 0h1m20 0h2m6 0h2m59 0h2m-274 1h2m2 0h2m8 0h2m4 0h1m1 0h2m6 0h1m2 0h1m1 0h1m2 0h104m2 0h1m1 0h1m1 0h7m1 0h2m2 0h2m2 0h2m4 0h1m8 0h3m18 0h2m9 0h2m-213 1h2m18 0h1m1 0h2m6 0h2m3 0h1m1 0h1m1 0h105m1 0h6m1 0h1m1 0h1m7 0h1m1 0h1m2 0h1m2 0h1m15 0h2m6 0h2m4 0h2m9 0h2m-187 1h1m5 0h1m1 0h1m2 0h1m1 0h108m1 0h1m3 0h5m1 0h3m1 0h1m3 0h1m2 0h1m1 0h1m14 0h2m6 0h2m15 0h2m69 0h2m-261 1h1m1 0h1m6 0h1m1 0h2m1 0h101m3 0h3m1 0h4m3 0h3m1 0h1m3 0h1m2 0h1m1 0h1m22 0h2m44 0h2m46 0h2m-262 1h1m1 0h1m9 0h106m1 0h5m1 0h2m1 0h5m1 0h2m2 0h1m2 0h1m8 0h2m10 0h2m2 0h2m44 0h2m-240 1h2m25 0h1m3 0h2m2 0h2m3 0h4m1 0h49m1 0h48m3 0h6m1 0h1m1 0h6m2 0h1m5 0h2m3 0h4m10 0h2m4 0h2m5 0h2m47 0h2m-276 1h2m22 0h2m29 0h2m2 0h2m3 0h1m1 0h94m3 0h2m1 0h3m1 0h2m1 0h1m1 0h2m1 0h1m5 0h1m1 0h2m5 0h3m2 0h2m4 0h2m1 0h2m9 0h2m5 0h2m9 0h1m37 0h2m-276 1h2m57 0h2m1 0h3m2 0h99m1 0h2m2 0h3m2 0h1m3 0h1m1 0h1m2 0h1m9 0h1m8 0h2m1 0h2m27 0h1m92 0h2m-296 1h2m19 0h2m1 0h2m1 0h2m2 0h95m1 0h1m1 0h1m1 0h1m2 0h6m1 0h3m1 0h1m2 0h1m6 0h2m3 0h1m1 0h3m129 0h2m-296 1h2m5 0h2m8 0h2m2 0h2m2 0h2m3 0h1m1 0h103m1 0h3m1 0h1m1 0h2m2 0h1m2 0h1m2 0h2m1 0h2m5 0h2m1 0h1m19 0h2m-180 1h2m8 0h2m4 0h3m4 0h1m1 0h15m1 0h82m1 0h1m2 0h1m2 0h1m1 0h2m6 0h1m32 0h2m3 0h2m-167 1h2m2 0h3m4 0h40m1 0h65m3 0h2m4 0h1m1 0h4m2 0h2m16 0h2m1 0h2m3 0h2m55 0h2m-219 1h2m6 0h1m2 0h40m1 0h49m1 0h3m1 0h1m3 0h4m2 0h1m3 0h1m2 0h2m2 0h1m3 0h1m2 0h3m6 0h2m1 0h2m4 0h2m1 0h2m9 0h2m49 0h2m2 0h2m-218 1h3m1 0h1m1 0h33m1 0h58m1 0h4m1 0h2m1 0h3m2 0h1m1 0h1m5 0h1m5 0h1m4 0h1m1 0h2m3 0h2m1 0h2m1 0h2m15 0h2m53 0h2m50 0h2m-282 1h2m10 0h3m2 0h68m1 0h11m1 0h12m1 0h6m1 0h1m2 0h2m6 0h1m8 0h1m6 0h2m9 0h2m1 0h2m15 0h2m89 0h2m11 0h2m-282 1h2m1 0h2m9 0h1m1 0h97m1 0h3m1 0h2m6 0h2m2 0h1m2 0h2m7 0h2m15 0h2m15 0h2m89 0h2m-282 1h2m14 0h4m2 0h1m3 0h1m3 0h58m1 0h35m1 0h5m1 0h2m1 0h1m1 0h1m1 0h2m1 0h2m2 0h2m1 0h1m2 0h1m91 0h2m8 0h2m-257 1h4m11 0h4m1 0h2m1 0h1m2 0h1m2 0h103m1 0h3m1 0h2m5 0h1m2 0h2m4 0h1m91 0h2m8 0h2m-257 1h2m11 0h1m1 0h4m1 0h1m4 0h1m1 0h1m5 0h86m1 0h10m1 0h3m8 0h2m1 0h3m3 0h1m10 0h2m3 0h2m9 0h2m112 0h2m-282 1h1m4 0h1m2 0h1m7 0h1m1 0h2m1 0h93m4 0h1m1 0h4m2 0h2m2 0h2m3 0h2m2 0h1m10 0h2m3 0h2m9 0h2m62 0h2m48 0h2m-276 1h1m1 0h1m4 0h2m1 0h1m3 0h1m1 0h23m1 0h63m1 0h3m1 0h5m2 0h1m4 0h2m2 0h2m2 0h1m4 0h2m2 0h2m17 0h2m53 0h2m11 0h2m47 0h2m-282 1h2m15 0h1m5 0h90m1 0h2m1 0h3m3 0h1m2 0h2m3 0h2m2 0h1m3 0h1m4 0h2m12 0h2m3 0h2m53 0h2m60 0h2m-282 1h2m2 0h2m3 0h1m5 0h1m7 0h88m1 0h1m2 0h1m4 0h3m1 0h1m2 0h1m1 0h3m4 0h1m9 0h3m9 0h2m-156 1h2m3 0h1m1 0h2m1 0h1m4 0h1m2 0h91m1 0h5m1 0h1m2 0h1m2 0h2m18 0h3m10 0h2m102 0h2m-260 1h4m2 0h2m1 0h1m3 0h3m1 0h86m1 0h1m1 0h2m2 0h1m2 0h1m1 0h1m2 0h1m2 0h1m3 0h1m2 0h2m24 0h2m79 0h2m21 0h2m-260 1h4m5 0h1m1 0h1m2 0h1m1 0h1m1 0h81m1 0h5m2 0h2m1 0h1m1 0h2m5 0h1m4 0h2m2 0h2m34 0h2m69 0h2m-231 1h2m2 0h1m3 0h1m1 0h16m1 0h43m1 0h22m1 0h1m1 0h3m1 0h2m1 0h4m6 0h1m1 0h1m2 0h1m39 0h2m-202 1h2m31 0h2m3 0h2m2 0h2m1 0h1m2 0h2m4 0h82m1 0h4m2 0h3m2 0h1m4 0h3m2 0h1m2 0h1m4 0h2m46 0h2m15 0h2m9 0h2m-252 1h2m6 0h2m31 0h2m3 0h4m5 0h2m1 0h1m1 0h1m1 0h83m1 0h7m1 0h1m1 0h2m2 0h1m6 0h1m3 0h2m1 0h2m46 0h2m15 0h2m9 0h2m-252 1h2m46 0h2m2 0h2m5 0h1m1 0h92m4 0h1m6 0h2m1 0h1m3 0h2m8 0h2m65 0h2m22 0h2m-242 1h2m18 0h5m3 0h1m1 0h52m1 0h33m1 0h4m2 0h1m8 0h2m4 0h2m1 0h2m6 0h2m65 0h2m22 0h2m-242 1h2m11 0h2m7 0h3m1 0h1m2 0h85m1 0h2m1 0h3m1 0h1m1 0h4m7 0h2m1 0h2m1 0h2m140 0h2m-284 1h2m10 0h2m3 0h2m6 0h2m2 0h10m1 0h67m1 0h2m1 0h5m1 0h1m1 0h1m3 0h1m6 0h2m1 0h1m7 0h2m46 0h2m43 0h2m46 0h2m-284 1h2m12 0h1m2 0h2m6 0h2m2 0h79m1 0h1m1 0h3m3 0h1m4 0h2m1 0h1m4 0h2m9 0h2m46 0h2m14 0h2m27 0h2m-241 1h2m16 0h2m3 0h2m6 0h1m1 0h82m2 0h4m1 0h1m5 0h3m4 0h1m4 0h2m1 0h2m5 0h2m52 0h2m4 0h2m54 0h2m-268 1h2m8 0h2m5 0h1m5 0h2m5 0h3m1 0h13m1 0h78m4 0h1m3 0h1m5 0h2m1 0h2m5 0h2m52 0h2m32 0h2m26 0h2m-258 1h2m2 0h2m15 0h1m2 0h83m1 0h3m1 0h1m1 0h5m2 0h1m1 0h2m9 0h2m92 0h2m10 0h2m5 0h2m11 0h2m-258 1h2m7 0h2m4 0h2m1 0h41m1 0h33m1 0h5m1 0h4m1 0h1m2 0h1m1 0h1m2 0h2m1 0h1m13 0h2m104 0h2m5 0h2m11 0h2m-249 1h2m1 0h1m2 0h1m2 0h1m1 0h32m1 0h54m4 0h1m3 0h1m1 0h1m3 0h1m8 0h2m19 0h2m18 0h2m-167 1h1m3 0h1m1 0h1m2 0h2m2 0h72m1 0h8m2 0h1m2 0h4m1 0h1m1 0h1m1 0h1m7 0h2m4 0h4m19 0h2m3 0h2m13 0h2m1 0h2m68 0h2m-239 1h1m3 0h3m5 0h47m1 0h30m1 0h2m1 0h3m1 0h1m1 0h1m1 0h1m1 0h2m1 0h2m2 0h2m8 0h2m26 0h2m16 0h2m2 0h2m24 0h2m38 0h2m-261 1h2m13 0h2m10 0h1m5 0h1m1 0h75m1 0h3m2 0h1m1 0h2m1 0h3m1 0h1m4 0h1m2 0h2m5 0h2m51 0h2m24 0h2m-221 1h2m13 0h2m6 0h2m2 0h1m1 0h2m1 0h1m2 0h46m1 0h27m1 0h6m2 0h2m1 0h2m2 0h2m6 0h2m5 0h2m2 0h2m3 0h2m-154 1h2m18 0h2m1 0h2m1 0h3m3 0h3m1 0h77m1 0h2m2 0h2m1 0h2m6 0h2m8 0h2m6 0h2m3 0h2m4 0h2m-160 1h2m18 0h2m5 0h1m4 0h2m4 0h79m1 0h1m2 0h2m4 0h3m9 0h2m7 0h2m8 0h2m53 0h2m27 0h2m28 0h2m-242 1h2m1 0h74m2 0h6m2 0h1m7 0h2m2 0h1m13 0h2m1 0h2m25 0h2m36 0h2m27 0h2m28 0h2m-244 1h1m1 0h1m4 0h58m1 0h10m1 0h4m2 0h1m1 0h1m4 0h7m2 0h4m6 0h2m4 0h2m5 0h1m22 0h2m-152 1h2m3 0h3m1 0h1m3 0h77m1 0h2m1 0h1m1 0h1m2 0h1m1 0h1m3 0h1m8 0h2m1 0h2m8 0h1m25 0h2m-157 1h5m6 0h1m3 0h50m1 0h26m1 0h2m1 0h2m2 0h2m2 0h1m14 0h2m3 0h2m29 0h2m-157 1h2m5 0h1m1 0h3m1 0h1m1 0h86m1 0h2m7 0h1m12 0h2m32 0h2m-198 1h2m39 0h2m2 0h1m1 0h2m2 0h71m1 0h3m1 0h1m5 0h4m2 0h1m3 0h1m4 0h1m36 0h2m9 0h2m-198 1h2m36 0h2m1 0h2m4 0h1m1 0h2m1 0h72m1 0h1m1 0h2m2 0h2m5 0h2m2 0h1m2 0h1m8 0h2m29 0h2m102 0h2m24 0h2m-288 1h2m7 0h2m6 0h1m1 0h1m2 0h1m1 0h57m1 0h14m1 0h1m2 0h3m1 0h3m1 0h1m4 0h1m3 0h1m7 0h2m133 0h2m24 0h2m-288 1h2m4 0h2m10 0h2m1 0h1m1 0h74m1 0h4m1 0h3m1 0h2m2 0h2m1 0h1m76 0h2m28 0h2m40 0h2m-308 1h2m47 0h2m2 0h2m8 0h2m2 0h72m2 0h4m2 0h4m3 0h2m1 0h2m16 0h2m57 0h2m28 0h2m40 0h2m-308 1h2m31 0h2m4 0h1m10 0h2m1 0h2m7 0h1m1 0h73m1 0h4m2 0h2m14 0h2m13 0h2m-144 1h2m4 0h1m10 0h2m6 0h1m1 0h2m2 0h1m3 0h24m1 0h49m1 0h2m1 0h2m1 0h2m5 0h2m2 0h2m5 0h2m-146 1h2m27 0h1m3 0h2m2 0h2m1 0h1m2 0h1m1 0h67m1 0h1m2 0h4m2 0h1m1 0h1m4 0h6m9 0h2m-146 1h2m5 0h2m16 0h2m1 0h1m4 0h1m5 0h1m2 0h1m1 0h66m2 0h2m3 0h2m3 0h1m6 0h4m9 0h1m6 0h2m7 0h2m76 0h2m56 0h2m-289 1h2m16 0h2m3 0h2m8 0h1m1 0h1m2 0h64m1 0h13m7 0h2m3 0h4m2 0h1m7 0h2m7 0h2m76 0h2m56 0h2m-266 1h2m3 0h2m8 0h67m1 0h2m2 0h3m2 0h1m1 0h3m3 0h1m4 0h4m2 0h1m112 0h2m-240 1h2m21 0h1m3 0h1m1 0h9m1 0h42m1 0h12m1 0h3m1 0h3m5 0h1m3 0h1m5 0h2m3 0h2m114 0h2m27 0h2m-269 1h2m12 0h2m4 0h1m3 0h1m1 0h2m1 0h66m2 0h1m2 0h2m1 0h2m1 0h1m1 0h3m2 0h2m2 0h2m3 0h2m7 0h2m25 0h2m64 0h2m12 0h2m27 0h2m-270 1h2m13 0h2m3 0h1m3 0h2m3 0h70m1 0h2m2 0h1m1 0h2m2 0h3m1 0h2m16 0h2m3 0h2m20 0h2m64 0h2m12 0h2m7 0h2m-250 1h2m15 0h1m4 0h1m2 0h1m1 0h2m1 0h65m1 0h1m3 0h1m2 0h2m2 0h1m2 0h2m3 0h1m21 0h2m8 0h4m97 0h2m-232 1h1m2 0h1m7 0h63m1 0h7m1 0h2m5 0h1m1 0h1m2 0h2m3 0h2m27 0h4m74 0h2m-245 1h2m29 0h2m10 0h1m2 0h71m3 0h1m3 0h2m4 0h1m1 0h1m1 0h4m105 0h2m-245 1h2m29 0h2m5 0h2m2 0h3m3 0h62m1 0h1m1 0h4m1 0h5m1 0h3m2 0h3m2 0h2m6 0h2m10 0h2m-123 1h2m8 0h1m2 0h1m1 0h61m1 0h1m2 0h4m1 0h3m5 0h1m12 0h2m1 0h2m2 0h2m6 0h2m-123 1h2m3 0h2m1 0h2m1 0h3m1 0h64m1 0h1m1 0h4m1 0h2m2 0h1m2 0h3m9 0h2m5 0h2m18 0h2m83 0h2m56 0h2m-273 1h2m2 0h1m3 0h1m1 0h61m1 0h4m1 0h1m1 0h1m1 0h3m2 0h1m3 0h1m1 0h1m1 0h2m3 0h2m5 0h2m20 0h2m2 0h2m79 0h2m56 0h2m-264 1h60m1 0h13m2 0h2m1 0h3m3 0h2m3 0h2m4 0h1m6 0h2m18 0h2m-132 1h2m2 0h2m1 0h64m1 0h1m1 0h6m1 0h2m5 0h1m21 0h2m-112 1h2m2 0h65m1 0h2m1 0h3m1 0h2m1 0h1m3 0h3m30 0h2m134 0h2m-258 1h2m5 0h3m2 0h59m1 0h1m2 0h1m2 0h3m1 0h2m6 0h1m1 0h1m5 0h2m8 0h1m4 0h2m5 0h2m134 0h2m-276 1h2m14 0h4m8 0h69m1 0h2m1 0h1m1 0h1m3 0h4m2 0h1m2 0h2m7 0h1m5 0h2m67 0h2m-202 1h2m14 0h2m5 0h1m1 0h1m1 0h1m1 0h58m1 0h2m1 0h4m1 0h1m1 0h1m1 0h1m3 0h1m2 0h2m5 0h1m3 0h2m1 0h2m77 0h2m-181 1h1m1 0h1m1 0h1m3 0h42m1 0h21m1 0h6m2 0h2m1 0h1m3 0h1m8 0h2m1 0h2m-116 1h2m6 0h1m3 0h3m7 0h68m2 0h1m2 0h1m7 0h2m17 0h2m1 0h2m20 0h2m-149 1h2m5 0h1m4 0h3m2 0h2m1 0h1m1 0h34m1 0h32m1 0h3m3 0h1m3 0h2m20 0h2m1 0h2m20 0h2m63 0h2m-199 1h1m1 0h2m2 0h61m1 0h2m1 0h5m3 0h2m1 0h1m2 0h2m2 0h1m3 0h2m78 0h2m22 0h2m29 0h2m5 0h2m-239 1h2m6 0h5m1 0h57m2 0h5m3 0h2m1 0h1m2 0h1m4 0h1m2 0h2m2 0h2m13 0h2m38 0h2m19 0h2m53 0h2m5 0h2m-239 1h4m2 0h2m2 0h58m1 0h1m1 0h3m2 0h1m1 0h1m1 0h1m1 0h1m5 0h1m3 0h1m2 0h2m2 0h2m13 0h2m38 0h2m-187 1h2m21 0h2m4 0h2m2 0h2m2 0h2m1 0h15m1 0h48m1 0h3m5 0h2m1 0h2m5 0h1m2 0h2m25 0h2m-155 1h2m21 0h2m4 0h2m5 0h4m1 0h53m1 0h9m1 0h2m9 0h2m8 0h1m26 0h2m-119 1h2m3 0h61m1 0h2m1 0h2m4 0h1m3 0h1m4 0h2m1 0h3m13 0h2m-123 1h2m12 0h1m3 0h2m2 0h22m1 0h32m1 0h7m2 0h6m5 0h2m2 0h2m1 0h3m3 0h2m8 0h2m-184 1h2m59 0h2m10 0h3m4 0h1m1 0h58m2 0h1m1 0h1m1 0h4m1 0h2m9 0h2m8 0h2m-174 1h2m62 0h1m17 0h1m1 0h41m1 0h15m2 0h2m1 0h2m3 0h2m1 0h1m5 0h1m1 0h2m15 0h2m-117 1h1m4 0h2m7 0h2m1 0h58m1 0h7m1 0h3m2 0h1m3 0h3m6 0h1m3 0h2m7 0h2m-116 1h1m3 0h2m3 0h3m1 0h2m3 0h57m1 0h1m2 0h6m1 0h2m4 0h2m6 0h1m4 0h2m-104 1h2m12 0h54m1 0h7m3 0h4m1 0h2m7 0h2m-95 1h2m3 0h1m2 0h2m1 0h1m3 0h57m1 0h2m1 0h1m3 0h3m3 0h1m1 0h1m2 0h4m-91 1h1m3 0h3m6 0h54m1 0h3m1 0h1m1 0h1m1 0h1m1 0h1m2 0h1m1 0h1m3 0h2m2 0h2m26 0h2m-118 1h4m2 0h1m1 0h60m4 0h1m2 0h2m5 0h4m2 0h2m18 0h2m6 0h2m-142 1h2m16 0h4m2 0h2m4 0h1m1 0h66m6 0h1m1 0h4m1 0h2m6 0h2m11 0h2m55 0h2m-191 1h2m16 0h4m10 0h1m1 0h51m1 0h8m5 0h1m1 0h1m2 0h1m1 0h1m4 0h2m1 0h2m3 0h2m4 0h2m62 0h2m21 0h2m-241 1h2m58 0h28m1 0h23m1 0h2m1 0h3m4 0h3m1 0h1m4 0h1m8 0h2m9 0h2m85 0h2m1 0h2m-244 1h2m52 0h2m1 0h3m2 0h46m1 0h6m1 0h1m1 0h3m1 0h1m4 0h2m1 0h2m3 0h1m1 0h2m6 0h1m96 0h2m-209 1h2m8 0h4m3 0h4m3 0h1m2 0h55m1 0h2m1 0h3m1 0h1m4 0h4m1 0h1m8 0h1m30 0h2m-142 1h2m4 0h2m2 0h4m3 0h2m3 0h1m2 0h50m1 0h4m1 0h2m1 0h2m1 0h1m1 0h1m1 0h1m5 0h2m6 0h2m33 0h2m-136 1h2m4 0h2m7 0h1m6 0h54m2 0h3m6 0h1m11 0h2m17 0h2m-114 1h2m5 0h2m8 0h50m1 0h1m1 0h2m1 0h1m3 0h1m1 0h4m4 0h2m12 0h2m9 0h2m5 0h2m98 0h2m-231 1h2m3 0h2m5 0h2m3 0h1m3 0h1m3 0h54m1 0h1m1 0h4m1 0h1m1 0h2m2 0h1m1 0h4m12 0h2m16 0h2m98 0h2m-231 1h2m3 0h2m5 0h2m6 0h2m1 0h8m1 0h47m2 0h1m1 0h1m11 0h2m10 0h1m-112 1h2m3 0h2m5 0h2m9 0h1m3 0h3m1 0h48m1 0h5m1 0h2m1 0h3m1 0h1m6 0h1m7 0h2m1 0h1m-112 1h2m1 0h6m3 0h2m18 0h45m1 0h3m2 0h4m2 0h2m1 0h1m1 0h2m4 0h1m1 0h2m4 0h2m23 0h2m73 0h2m-207 1h2m2 0h2m19 0h1m2 0h1m1 0h45m1 0h5m3 0h1m3 0h1m10 0h2m6 0h2m21 0h2m73 0h2m-189 1h2m5 0h2m4 0h44m2 0h7m1 0h2m5 0h2m4 0h2m7 0h2m5 0h2m-98 1h2m2 0h2m1 0h2m3 0h38m1 0h7m2 0h5m2 0h1m2 0h2m2 0h2m2 0h4m14 0h2m-94 1h2m1 0h1m5 0h41m2 0h1m2 0h2m1 0h1m7 0h2m3 0h2m1 0h2m18 0h2m-105 1h3m5 0h2m4 0h1m1 0h1m1 0h1m1 0h41m1 0h6m1 0h2m9 0h2m21 0h2m-142 1h2m35 0h2m1 0h1m4 0h2m5 0h2m2 0h36m1 0h1m1 0h9m2 0h2m1 0h1m5 0h2m-117 1h2m50 0h2m1 0h1m2 0h35m2 0h3m1 0h5m2 0h1m2 0h1m5 0h2m7 0h1m-86 1h2m2 0h1m7 0h2m1 0h1m2 0h1m1 0h42m1 0h1m1 0h2m1 0h1m6 0h3m7 0h1m73 0h2m-168 1h2m5 0h2m2 0h1m12 0h1m3 0h41m3 0h2m1 0h1m6 0h2m21 0h2m5 0h2m36 0h2m14 0h2m-168 1h2m9 0h1m11 0h2m1 0h2m1 0h29m2 0h3m4 0h5m6 0h2m2 0h4m19 0h2m5 0h2m36 0h2m-127 1h1m3 0h26m1 0h1m2 0h5m4 0h2m1 0h1m1 0h1m2 0h4m4 0h1m-64 1h1m2 0h2m1 0h3m1 0h25m1 0h2m1 0h5m1 0h3m4 0h1m2 0h2m3 0h2m3 0h2m7 0h2m-113 1h2m35 0h3m1 0h1m1 0h2m1 0h26m1 0h4m5 0h1m1 0h1m9 0h1m2 0h2m10 0h2m2 0h2m-115 1h2m39 0h1m3 0h1m2 0h3m1 0h26m2 0h3m1 0h3m3 0h2m1 0h1m1 0h1m5 0h4m4 0h2m1 0h1m58 0h2m11 0h2m-154 1h2m3 0h1m3 0h1m2 0h1m1 0h3m1 0h10m1 0h11m1 0h1m1 0h2m1 0h3m1 0h1m7 0h2m5 0h1m3 0h4m1 0h2m5 0h1m57 0h2m11 0h2m-152 1h1m2 0h2m3 0h1m1 0h1m5 0h2m1 0h8m1 0h13m2 0h2m1 0h1m1 0h7m1 0h2m6 0h1m7 0h2m4 0h1m13 0h2m2 0h2m-139 1h2m36 0h2m3 0h2m2 0h3m1 0h1m1 0h1m1 0h1m1 0h7m1 0h14m1 0h3m1 0h1m2 0h2m1 0h1m1 0h3m2 0h2m34 0h2m2 0h2m-139 1h2m36 0h2m2 0h1m8 0h1m1 0h4m1 0h14m1 0h3m3 0h6m3 0h1m1 0h3m1 0h1m1 0h3m4 0h2m5 0h2m27 0h2m-146 1h2m20 0h2m27 0h2m4 0h1m3 0h1m1 0h1m1 0h2m1 0h1m1 0h13m1 0h2m3 0h4m1 0h1m1 0h1m1 0h1m2 0h3m4 0h2m5 0h2m27 0h2m-146 1h2m20 0h2m17 0h2m10 0h1m1 0h1m1 0h3m1 0h1m4 0h1m1 0h1m1 0h1m2 0h12m1 0h2m2 0h1m1 0h7m20 0h2m-80 1h2m5 0h2m4 0h1m1 0h1m1 0h2m2 0h1m2 0h1m2 0h2m1 0h1m1 0h12m1 0h1m1 0h1m3 0h2m2 0h1m10 0h1m11 0h2m17 0h2m98 0h2m-211 1h2m9 0h2m6 0h1m3 0h2m1 0h4m5 0h1m2 0h2m1 0h12m4 0h3m5 0h2m1 0h1m5 0h2m1 0h1m3 0h2m3 0h2m21 0h2m98 0h2m-211 1h2m9 0h2m1 0h2m3 0h1m1 0h1m1 0h2m1 0h1m1 0h1m1 0h1m3 0h1m1 0h2m1 0h1m2 0h1m1 0h4m3 0h1m1 0h2m1 0h2m5 0h2m2 0h1m6 0h2m5 0h2m3 0h2m-124 1h2m48 0h2m4 0h1m2 0h2m1 0h2m4 0h2m1 0h2m1 0h2m1 0h3m1 0h1m2 0h6m9 0h2m1 0h2m5 0h3m133 0h2m-247 1h2m57 0h4m1 0h2m4 0h4m4 0h1m3 0h1m2 0h3m4 0h1m1 0h2m1 0h1m5 0h1m5 0h2m1 0h2m131 0h2m-198 1h2m8 0h1m1 0h1m2 0h1m5 0h2m1 0h2m1 0h1m2 0h1m5 0h1m1 0h2m1 0h2m3 0h3m8 0h2m6 0h1m160 0h2m-260 1h2m30 0h2m5 0h1m3 0h1m1 0h1m3 0h1m2 0h3m3 0h1m4 0h1m1 0h2m2 0h2m2 0h1m3 0h2m1 0h1m8 0h3m34 0h2m53 0h2m75 0h2m-260 1h2m30 0h2m6 0h3m1 0h2m2 0h7m1 0h2m3 0h3m1 0h2m3 0h2m3 0h3m3 0h1m5 0h2m1 0h1m5 0h2m5 0h2m21 0h2m53 0h2m-171 1h2m18 0h2m2 0h2m2 0h2m2 0h2m2 0h1m2 0h1m4 0h4m1 0h2m2 0h4m12 0h1m5 0h2m7 0h2m5 0h2m159 0h2m-265 1h2m9 0h2m22 0h2m2 0h2m1 0h3m2 0h1m2 0h2m1 0h1m6 0h1m1 0h1m1 0h4m1 0h1m8 0h1m9 0h2m5 0h2m166 0h2m-265 1h2m14 0h2m18 0h1m12 0h1m1 0h2m7 0h1m9 0h2m5 0h1m10 0h2m5 0h2m-81 1h2m15 0h3m3 0h3m2 0h2m4 0h1m1 0h4m1 0h2m1 0h1m4 0h1m8 0h2m1 0h1m3 0h2m-41 1h1m2 0h2m2 0h1m1 0h1m1 0h1m2 0h1m8 0h1m8 0h2m1 0h1m9 0h1m7 0h2m-57 1h4m3 0h1m1 0h2m3 0h1m1 0h1m4 0h1m4 0h1m4 0h2m5 0h1m7 0h1m8 0h2m100 0h2m-157 1h3m1 0h1m2 0h1m2 0h1m1 0h1m5 0h1m4 0h1m5 0h2m8 0h2m114 0h2m-203 1h2m38 0h4m4 0h1m1 0h1m2 0h3m3 0h1m2 0h2m1 0h2m6 0h2m10 0h2m-87 1h2m3 0h2m29 0h8m1 0h1m1 0h1m4 0h4m14 0h1m2 0h2m10 0h1m134 0h2m-217 1h2m29 0h5m1 0h2m2 0h1m1 0h2m4 0h1m3 0h1m2 0h1m4 0h1m4 0h1m13 0h1m134 0h2m-183 1h1m2 0h2m6 0h1m1 0h1m2 0h1m1 0h1m3 0h3m1 0h1m1 0h1m7 0h2m3 0h2m9 0h2m-54 1h1m9 0h1m3 0h2m1 0h1m1 0h1m10 0h2m4 0h2m3 0h2m5 0h2m2 0h2m-46 1h2m1 0h1m2 0h5m6 0h2m3 0h2m16 0h2m48 0h2m-102 1h1m5 0h2m1 0h1m1 0h2m1 0h2m2 0h1m2 0h2m2 0h1m1 0h2m3 0h2m66 0h2m-101 1h1m1 0h1m2 0h2m2 0h1m2 0h7m4 0h1m3 0h2m2 0h2m36 0h2m-72 1h1m1 0h1m6 0h3m1 0h1m2 0h2m2 0h1m1 0h1m5 0h2m5 0h2m33 0h2m-63 1h2m3 0h1m1 0h2m1 0h3m1 0h2m1 0h2m7 0h2m10 0h2m-73 1h1m2 0h1m5 0h1m3 0h11m1 0h10m1 0h17m1 0h6m1 0h2m2 0h5m1 0h6m1 0h8m1 0h2m1 0h1m2 0h1m1 0h2m1 0h1m4 0h8m1 0h1m2 0h1m2 0h3m1 0h1m2 0h1m2 0h2m1 0h1m1 0h2m2 0h1m2 0h3m1 0h1m5 0h1m2 0h1m2 0h1m1 0h3m6 0h1m2 0h1m4 0h1m2 0h4m1 0h2m5 0h2m9 0h1m3 0h2m3 0h1m1 0h1m2 0h1m4 0h1m2 0h2m12 0h1m2 0h1m5 0h1m1 0h1m13 0h1m5 0h1m4 0h1m5 0h1" stroke="#000" stroke-width="1" fill="none" shape-rendering="crispEdges"/>
<path d="M1381 1864.5h1m13 0h1m26 0h1m15 0h1m24 0h1m28 0h1m5 0h1m5 0h1m9 0h1m7 0h1m52 0h1m15 0h1m-201 1h1m6 0h1m8 0h1m4 0h1m11 0h1m14 0h1m11 0h1m10 0h1m21 0h1m31 0h1m14 0h1m5 0h1m30 0h1m13 0h2m3 0h1m-200 1h1m3 0h1m4 0h1m1 0h2m3 0h1m3 0h1m7 0h1m15 0h1m2 0h2m17 0h1m6 0h1m14 0h1m30 0h1m19 0h1m4 0h1m12 0h1m1 0h1m36 0h1m1 0h1m11 0h2m-221 1h1m20 0h1m10 0h1m19 0h2m3 0h2m3 0h1m7 0h1m3 0h1m7 0h2m3 0h1m15 0h1m17 0h1m4 0h1m20 0h1m13 0h1m-127 1h1m1 0h1m3 0h1m3 0h1m5 0h1m5 0h1m11 0h1m5 0h1m2 0h1m17 0h1m9 0h1m47 0h1m12 0h1m9 0h3m-168 1h1m1 0h1m18 0h1m13 0h1m2 0h1m19 0h1m10 0h1m13 0h1m18 0h1m24 0h2m8 0h1m18 0h1m7 0h1m1 0h2m14 0h2m4 0h1m-210 1h1m45 0h1m7 0h1m7 0h1m8 0h2m2 0h1m2 0h2m1 0h1m2 0h1m4 0h1m5 0h1m15 0h2m5 0h1m4 0h2m5 0h1m9 0h1m30 0h1m3 0h1m15 0h1m1 0h1m14 0h1m13 0h1m-224 1h1m1 0h1m13 0h1m24 0h2m1 0h1m2 0h1m9 0h1m7 0h1m6 0h1m3 0h1m2 0h1m9 0h1m12 0h1m4 0h1m9 0h1m22 0h1m9 0h1m18 0h1m42 0h1m3 0h1m9 0h1m-204 1h1m13 0h1m3 0h1m5 0h1m8 0h1m35 0h1m6 0h1m25 0h1m4 0h1m26 0h1m54 0h1m12 0h1m-223 1h2m15 0h1m3 0h1m5 0h2m3 0h1m7 0h1m4 0h1m14 0h1m1 0h1m9 0h1m3 0h1m8 0h1m6 0h1m2 0h1m25 0h1m3 0h1m2 0h1m20 0h1m13 0h2m6 0h1m6 0h1m39 0h1m-223 1h1m17 0h1m5 0h1m20 0h1m2 0h1m11 0h1m33 0h1m5 0h1m2 0h1m1 0h1m2 0h1m54 0h1m41 0h1m5 0h1m4 0h1m1 0h1m1 0h1m-219 1h1m15 0h1m11 0h2m4 0h1m4 0h1m22 0h1m5 0h1m3 0h1m2 0h1m12 0h1m18 0h1m5 0h1m4 0h1m6 0h1m10 0h1m2 0h1m5 0h1m2 0h1m7 0h1m7 0h1m1 0h1m3 0h1m1 0h2m9 0h2m3 0h1m15 0h1m24 0h1m-228 1h1m73 0h1m12 0h1m4 0h1m3 0h1m22 0h1m2 0h1m1 0h1m26 0h1m7 0h1m16 0h1m3 0h1m6 0h1m3 0h1m15 0h2m2 0h1m-203 1h1m1 0h1m21 0h1m35 0h1m42 0h1m2 0h1m9 0h1m1 0h1m20 0h1m10 0h2m4 0h1m4 0h1m31 0h1m3 0h1m12 0h1m5 0h1m-206 1h1m1 0h1m10 0h3m4 0h1m4 0h1m9 0h1m16 0h1m8 0h1m2 0h1m9 0h1m18 0h2m14 0h1m13 0h1m10 0h1m17 0h2m3 0h1m4 0h1m18 0h1m9 0h1m3 0h1m2 0h1m-183 1h1m4 0h1m8 0h1m10 0h1m12 0h1m1 0h1m15 0h1m11 0h1m14 0h2m1 0h1m17 0h1m1 0h1m20 0h1m14 0h1m4 0h1m9 0h1m4 0h1m6 0h1m-166 1h1m2 0h1m14 0h1m1 0h1m11 0h1m6 0h1m17 0h2m8 0h1m3 0h1m1 0h1m3 0h1m6 0h1m3 0h1m9 0h1m11 0h1m8 0h2m4 0h1m9 0h1m1 0h2m5 0h1m5 0h1m-194 1h1m3 0h1m2 0h1m1 0h1m3 0h1m10 0h1m13 0h1m4 0h1m7 0h2m6 0h1m15 0h1m6 0h2m10 0h1m17 0h1m16 0h1m7 0h1m5 0h2m30 0h1m4 0h1m6 0h2m4 0h1m3 0h1m9 0h1m21 0h1m-231 1h2m8 0h1m24 0h1m3 0h1m4 0h2m11 0h1m3 0h1m5 0h1m17 0h1m38 0h1m4 0h1m5 0h1m14 0h1m15 0h1m4 0h1m41 0h1m14 0h1m-215 1h1m15 0h1m13 0h1m2 0h1m9 0h1m12 0h1m8 0h1m6 0h1m6 0h1m52 0h1m3 0h1m6 0h1m14 0h1m13 0h1m31 0h1m11 0h1m-211 1h1m27 0h2m3 0h1m5 0h1m4 0h1m1 0h1m6 0h1m21 0h2m6 0h1m13 0h2m4 0h1m14 0h1m9 0h1m5 0h1m10 0h1m19 0h1m4 0h1m2 0h1m6 0h1m17 0h2m4 0h1m2 0h1m-222 1h1m22 0h1m7 0h1m1 0h1m10 0h1m4 0h1m1 0h1m1 0h1m5 0h1m3 0h1m5 0h2m12 0h1m4 0h1m3 0h1m11 0h2m68 0h1m4 0h1m1 0h1m1 0h1m25 0h1m2 0h1m-207 1h1m46 0h1m7 0h2m5 0h1m9 0h2m16 0h1m8 0h1m4 0h1m3 0h1m15 0h1m1 0h1m11 0h1m13 0h1m10 0h1m5 0h1m8 0h1m3 0h1m10 0h1m15 0h1m-214 1h1m35 0h1m13 0h1m3 0h1m8 0h1m15 0h1m6 0h1m5 0h2m2 0h1m5 0h1m11 0h2m10 0h1m10 0h1m3 0h1m7 0h1m8 0h1m8 0h2m44 0h1m8 0h1m-217 1h1m7 0h1m14 0h1m16 0h1m1 0h1m8 0h1m11 0h1m7 0h1m4 0h1m21 0h1m20 0h1m3 0h1m8 0h1m7 0h1m1 0h1m3 0h1m20 0h1m1 0h1m4 0h1m18 0h1m6 0h1m-194 1h1m2 0h1m6 0h1m7 0h1m15 0h1m2 0h1m6 0h1m11 0h1m4 0h1m7 0h3m11 0h1m1 0h2m27 0h1m37 0h1m4 0h1m5 0h1m1 0h1m4 0h1m2 0h1m9 0h1m1 0h1m-204 1h1m9 0h1m1 0h1m10 0h1m4 0h2m21 0h1m15 0h1m14 0h2m1 0h1m3 0h2m1 0h1m3 0h1m1 0h1m6 0h1m18 0h1m1 0h1m3 0h1m16 0h1m6 0h2m17 0h1m6 0h2m5 0h2m11 0h2m16 0h1m2 0h1m-207 1h1m2 0h1m12 0h1m2 0h1m2 0h1m7 0h1m5 0h2m1 0h1m42 0h1m4 0h1m8 0h1m4 0h1m12 0h2m11 0h1m5 0h1m6 0h1m4 0h1m9 0h1m5 0h1m1 0h1m2 0h1m24 0h2m3 0h1m1 0h1m7 0h1m-220 1h1m1 0h1m1 0h1m13 0h1m4 0h1m34 0h1m15 0h1m7 0h1m5 0h1m25 0h2m29 0h1m1 0h1m9 0h2m13 0h1m2 0h1m4 0h1m9 0h1m23 0h1m10 0h1m-231 1h1m10 0h1m3 0h1m15 0h1m6 0h1m10 0h1m6 0h1m23 0h1m4 0h1m4 0h1m8 0h1m8 0h1m21 0h1m6 0h2m8 0h1m12 0h1m24 0h1m5 0h1m1 0h1m13 0h1m18 0h1m-221 1h1m19 0h1m17 0h1m1 0h1m4 0h2m22 0h1m7 0h2m11 0h1m13 0h1m18 0h1m13 0h1m8 0h2m17 0h1m2 0h1m1 0h1m1 0h1m4 0h1m3 0h1m4 0h1m12 0h1m18 0h1m3 0h1m-215 1h1m2 0h1m2 0h1m5 0h1m6 0h1m7 0h2m8 0h1m1 0h1m11 0h2m2 0h1m18 0h1m6 0h1m12 0h1m22 0h1m14 0h1m3 0h2m2 0h1m2 0h1m15 0h1m2 0h2m5 0h1m1 0h1m10 0h2m33 0h1m-231 1h1m14 0h1m5 0h1m11 0h1m7 0h1m34 0h1m8 0h1m5 0h4m2 0h1m13 0h1m9 0h1m37 0h1m13 0h1m4 0h1m3 0h1m1 0h1m6 0h1m1 0h2m18 0h1m7 0h1m2 0h1m-222 1h1m18 0h1m4 0h2m6 0h1m2 0h1m1 0h1m3 0h1m8 0h1m2 0h1m15 0h1m2 0h1m20 0h2m8 0h1m7 0h1m4 0h1m2 0h1m6 0h1m9 0h1m9 0h1m16 0h1m20 0h1m28 0h2m8 0h1m1 0h1m-225 1h1m11 0h1m8 0h1m2 0h1m9 0h1m1 0h1m2 0h1m17 0h1m1 0h3m27 0h1m7 0h1m1 0h1m7 0h1m14 0h1m12 0h2m10 0h1m5 0h1m6 0h1m2 0h1m8 0h1m24 0h1m25 0h1m-226 1h1m1 0h1m7 0h1m12 0h1m7 0h1m5 0h1m2 0h1m4 0h1m21 0h2m1 0h1m2 0h1m8 0h1m5 0h2m1 0h1m12 0h1m4 0h1m7 0h1m22 0h2m32 0h2m10 0h1m11 0h1m-200 1h1m16 0h1m3 0h1m9 0h1m2 0h1m5 0h1m1 0h1m11 0h1m7 0h2m5 0h2m4 0h1m3 0h2m4 0h1m18 0h1m18 0h2m14 0h2m14 0h1m3 0h1m16 0h1m9 0h1m10 0h1m7 0h1m21 0h1m1 0h1m-226 1h1m5 0h1m11 0h1m6 0h2m2 0h1m9 0h1m2 0h1m1 0h1m3 0h1m23 0h1m4 0h1m1 0h2m1 0h1m9 0h1m2 0h1m6 0h1m9 0h1m1 0h1m24 0h1m1 0h3m4 0h3m19 0h1m9 0h1m15 0h1m12 0h1m3 0h1m1 0h1m3 0h1m3 0h1m-230 1h1m4 0h1m7 0h1m7 0h1m2 0h1m1 0h1m4 0h1m19 0h1m1 0h1m2 0h1m3 0h2m11 0h1m1 0h2m1 0h1m4 0h1m3 0h1m3 0h1m9 0h1m3 0h1m3 0h1m1 0h1m32 0h1m3 0h1m6 0h2m13 0h1m3 0h1m3 0h1m33 0h1m3 0h1m11 0h1m2 0h1m-233 1h1m3 0h2m3 0h1m1 0h1m3 0h1m3 0h1m7 0h1m12 0h1m2 0h1m3 0h1m1 0h1m1 0h1m3 0h1m3 0h3m1 0h1m2 0h1m4 0h1m2 0h2m1 0h2m3 0h1m15 0h1m3 0h1m38 0h1m2 0h1m2 0h1m12 0h1m7 0h1m35 0h1m8 0h1m5 0h2m3 0h1m-224 1h1m4 0h1m7 0h1m10 0h1m7 0h3m4 0h2m12 0h1m2 0h1m1 0h1m4 0h1m5 0h1m6 0h1m1 0h1m2 0h1m6 0h1m8 0h1m7 0h1m6 0h1m3 0h1m4 0h1m8 0h1m19 0h1m3 0h1m14 0h1m4 0h1m8 0h1m1 0h1m3 0h1m6 0h1m11 0h1m2 0h1m4 0h1m5 0h1m6 0h1m-200 1h1m2 0h1m3 0h1m2 0h1m1 0h2m7 0h1m9 0h2m1 0h1m1 0h1m2 0h1m6 0h1m9 0h2m1 0h2m8 0h1m16 0h1m31 0h1m1 0h1m11 0h1m12 0h1m2 0h1m6 0h2m23 0h1m2 0h1m7 0h1m6 0h2m-228 1h1m4 0h1m1 0h1m5 0h1m14 0h2m1 0h1m1 0h1m18 0h1m2 0h1m2 0h2m7 0h1m3 0h1m7 0h2m1 0h1m4 0h1m4 0h1m6 0h1m1 0h1m9 0h2m1 0h1m21 0h2m9 0h1m1 0h1m17 0h1m11 0h1m9 0h1m2 0h3m2 0h1m13 0h1m13 0h2m-230 1h1m23 0h1m3 0h1m3 0h2m17 0h1m2 0h1m5 0h2m5 0h1m11 0h1m6 0h1m4 0h1m1 0h3m6 0h1m6 0h2m1 0h1m3 0h1m3 0h2m3 0h1m4 0h2m9 0h1m2 0h1m5 0h2m4 0h3m1 0h1m3 0h1m30 0h1m12 0h2m1 0h1m8 0h1m-221 1h1m1 0h1m45 0h1m7 0h1m2 0h1m5 0h1m3 0h4m14 0h1m14 0h1m1 0h2m5 0h1m3 0h1m22 0h1m3 0h1m1 0h1m2 0h1m3 0h1m1 0h1m12 0h1m1 0h1m4 0h1m3 0h2m1 0h1m2 0h1m27 0h1m8 0h1m-220 1h1m16 0h2m2 0h1m6 0h1m7 0h1m1 0h1m2 0h1m6 0h1m1 0h1m7 0h1m9 0h1m1 0h1m4 0h1m9 0h2m1 0h1m6 0h1m1 0h3m1 0h1m1 0h1m17 0h2m11 0h1m2 0h1m2 0h2m1 0h1m8 0h1m9 0h1m6 0h1m7 0h1m13 0h2m7 0h1m1 0h1m4 0h1m8 0h1m5 0h1m-224 1h1m4 0h1m7 0h1m4 0h3m2 0h1m6 0h1m5 0h3m6 0h1m1 0h1m1 0h1m13 0h1m1 0h1m3 0h1m1 0h1m1 0h1m6 0h1m2 0h1m5 0h1m1 0h1m1 0h1m2 0h1m3 0h1m3 0h1m3 0h2m6 0h1m5 0h1m5 0h1m17 0h1m9 0h1m9 0h1m4 0h1m5 0h1m5 0h2m1 0h2m2 0h1m15 0h1m11 0h1m3 0h1m2 0h1m2 0h1m-226 1h1m2 0h1m9 0h1m1 0h1m5 0h1m15 0h1m5 0h1m2 0h1m3 0h1m5 0h1m4 0h1m3 0h1m12 0h1m3 0h1m1 0h2m4 0h1m1 0h1m5 0h1m1 0h1m3 0h1m3 0h1m4 0h2m3 0h1m10 0h1m2 0h1m33 0h1m4 0h2m5 0h1m7 0h2m1 0h1m4 0h1m2 0h1m5 0h1m5 0h1m1 0h2m8 0h1m1 0h1m1 0h1m-228 1h1m2 0h1m22 0h1m1 0h1m8 0h1m3 0h1m8 0h1m1 0h1m2 0h1m3 0h1m4 0h2m18 0h1m3 0h1m6 0h1m6 0h1m2 0h1m14 0h1m4 0h1m6 0h1m24 0h1m11 0h1m15 0h1m1 0h1m24 0h1m7 0h1m5 0h1m-215 1h1m3 0h2m9 0h1m3 0h1m11 0h1m2 0h1m1 0h3m4 0h1m8 0h1m1 0h1m4 0h1m8 0h2m4 0h1m2 0h1m3 0h2m2 0h1m4 0h2m1 0h1m5 0h3m1 0h1m11 0h1m1 0h1m1 0h1m2 0h2m7 0h1m6 0h1m9 0h2m10 0h1m1 0h1m2 0h1m5 0h1m1 0h1m5 0h1m4 0h2m11 0h1m7 0h1m11 0h3m-222 1h1m1 0h2m5 0h1m10 0h1m7 0h1m13 0h3m1 0h1m2 0h1m3 0h1m1 0h1m2 0h1m1 0h1m2 0h1m3 0h3m1 0h4m6 0h2m3 0h2m5 0h1m10 0h1m3 0h1m1 0h2m4 0h1m3 0h1m4 0h1m3 0h1m4 0h1m6 0h1m5 0h1m6 0h1m1 0h1m15 0h1m2 0h1m5 0h1m3 0h1m3 0h3m3 0h1m9 0h1m8 0h2m2 0h1m-221 1h2m4 0h1m2 0h1m2 0h1m3 0h1m11 0h1m2 0h1m4 0h2m6 0h1m1 0h1m7 0h2m4 0h1m1 0h3m4 0h1m3 0h1m4 0h2m2 0h1m1 0h2m2 0h1m6 0h1m4 0h1m2 0h1m9 0h3m6 0h1m3 0h2m1 0h1m1 0h1m3 0h2m7 0h1m6 0h2m15 0h1m2 0h1m1 0h2m7 0h1m4 0h1m7 0h1m1 0h1m9 0h1m1 0h1m1 0h1m2 0h1m1 0h1m1 0h2m-225 1h1m7 0h2m4 0h2m3 0h1m3 0h2m3 0h1m6 0h1m1 0h1m1 0h1m2 0h1m6 0h1m7 0h2m3 0h1m1 0h1m4 0h2m13 0h1m2 0h1m5 0h2m2 0h1m1 0h1m5 0h1m24 0h1m19 0h1m8 0h1m3 0h1m3 0h1m2 0h2m3 0h2m6 0h1m5 0h1m6 0h1m9 0h2m6 0h1m9 0h1m2 0h1" stroke="#d9c34c" stroke-width="1" fill="none" shape-rendering="crispEdges"/>
<path d="M1366.3 1883.8V1917.6H1601.5V1862.8H1452.3" fill="none" stroke="#d9c34c" stroke-width="1.6"/>
<text x="1365.8" y="1877.6" font-size="17.8" fill="#d9c34c">P1(0.39%)</text>
<rect x="1254.6" y="1860.6" width="347.3" height="346.5" fill="none" stroke="#1a1a1a" stroke-width="2"/>
<line x1="1246.1" y1="1860.6" x2="1254.6" y2="1860.6" stroke="#1a1a1a" stroke-width="2"/>
<line x1="1246.1" y1="2207.1" x2="1254.6" y2="2207.1" stroke="#1a1a1a" stroke-width="1.8"/>
<line x1="1249.6" y1="2187.2" x2="1254.6" y2="2187.2" stroke="#1a1a1a" stroke-width="1.6"/>
<line x1="1249.6" y1="2175.5" x2="1254.6" y2="2175.5" stroke="#1a1a1a" stroke-width="1.6"/>
<line x1="1249.6" y1="2167.2" x2="1254.6" y2="2167.2" stroke="#1a1a1a" stroke-width="1.6"/>
<line x1="1249.6" y1="2160.8" x2="1254.6" y2="2160.8" stroke="#1a1a1a" stroke-width="1.6"/>
<line x1="1249.6" y1="2155.6" x2="1254.6" y2="2155.6" stroke="#1a1a1a" stroke-width="1.6"/>
<line x1="1249.6" y1="2151.2" x2="1254.6" y2="2151.2" stroke="#1a1a1a" stroke-width="1.6"/>
<line x1="1249.6" y1="2147.3" x2="1254.6" y2="2147.3" stroke="#1a1a1a" stroke-width="1.6"/>
<line x1="1249.6" y1="2143.9" x2="1254.6" y2="2143.9" stroke="#1a1a1a" stroke-width="1.6"/>
<text transform="translate(1238 2217.4) rotate(-90)" font-size="17.8">10<tspan dy="-8.5" font-size="13">2</tspan></text>
<line x1="1246.1" y1="2140.9" x2="1254.6" y2="2140.9" stroke="#1a1a1a" stroke-width="1.8"/>
<line x1="1249.6" y1="2121" x2="1254.6" y2="2121" stroke="#1a1a1a" stroke-width="1.6"/>
<line x1="1249.6" y1="2109.3" x2="1254.6" y2="2109.3" stroke="#1a1a1a" stroke-width="1.6"/>
<line x1="1249.6" y1="2101" x2="1254.6" y2="2101" stroke="#1a1a1a" stroke-width="1.6"/>
<line x1="1249.6" y1="2094.6" x2="1254.6" y2="2094.6" stroke="#1a1a1a" stroke-width="1.6"/>
<line x1="1249.6" y1="2089.4" x2="1254.6" y2="2089.4" stroke="#1a1a1a" stroke-width="1.6"/>
<line x1="1249.6" y1="2085" x2="1254.6" y2="2085" stroke="#1a1a1a" stroke-width="1.6"/>
<line x1="1249.6" y1="2081.1" x2="1254.6" y2="2081.1" stroke="#1a1a1a" stroke-width="1.6"/>
<line x1="1249.6" y1="2077.7" x2="1254.6" y2="2077.7" stroke="#1a1a1a" stroke-width="1.6"/>
<text transform="translate(1238 2151.2) rotate(-90)" font-size="17.8">10<tspan dy="-8.5" font-size="13">3</tspan></text>
<line x1="1246.1" y1="2074.7" x2="1254.6" y2="2074.7" stroke="#1a1a1a" stroke-width="1.8"/>
<line x1="1249.6" y1="2054.8" x2="1254.6" y2="2054.8" stroke="#1a1a1a" stroke-width="1.6"/>
<line x1="1249.6" y1="2043.1" x2="1254.6" y2="2043.1" stroke="#1a1a1a" stroke-width="1.6"/>
<line x1="1249.6" y1="2034.8" x2="1254.6" y2="2034.8" stroke="#1a1a1a" stroke-width="1.6"/>
<line x1="1249.6" y1="2028.4" x2="1254.6" y2="2028.4" stroke="#1a1a1a" stroke-width="1.6"/>
<line x1="1249.6" y1="2023.2" x2="1254.6" y2="2023.2" stroke="#1a1a1a" stroke-width="1.6"/>
<line x1="1249.6" y1="2018.8" x2="1254.6" y2="2018.8" stroke="#1a1a1a" stroke-width="1.6"/>
<line x1="1249.6" y1="2014.9" x2="1254.6" y2="2014.9" stroke="#1a1a1a" stroke-width="1.6"/>
<line x1="1249.6" y1="2011.5" x2="1254.6" y2="2011.5" stroke="#1a1a1a" stroke-width="1.6"/>
<text transform="translate(1238 2085) rotate(-90)" font-size="17.8">10<tspan dy="-8.5" font-size="13">4</tspan></text>
<line x1="1246.1" y1="2008.5" x2="1254.6" y2="2008.5" stroke="#1a1a1a" stroke-width="1.8"/>
<line x1="1249.6" y1="1988.6" x2="1254.6" y2="1988.6" stroke="#1a1a1a" stroke-width="1.6"/>
<line x1="1249.6" y1="1976.9" x2="1254.6" y2="1976.9" stroke="#1a1a1a" stroke-width="1.6"/>
<line x1="1249.6" y1="1968.6" x2="1254.6" y2="1968.6" stroke="#1a1a1a" stroke-width="1.6"/>
<line x1="1249.6" y1="1962.2" x2="1254.6" y2="1962.2" stroke="#1a1a1a" stroke-width="1.6"/>
<line x1="1249.6" y1="1957" x2="1254.6" y2="1957" stroke="#1a1a1a" stroke-width="1.6"/>
<line x1="1249.6" y1="1952.6" x2="1254.6" y2="1952.6" stroke="#1a1a1a" stroke-width="1.6"/>
<line x1="1249.6" y1="1948.7" x2="1254.6" y2="1948.7" stroke="#1a1a1a" stroke-width="1.6"/>
<line x1="1249.6" y1="1945.3" x2="1254.6" y2="1945.3" stroke="#1a1a1a" stroke-width="1.6"/>
<text transform="translate(1238 2018.8) rotate(-90)" font-size="17.8">10<tspan dy="-8.5" font-size="13">5</tspan></text>
<line x1="1246.1" y1="1942.3" x2="1254.6" y2="1942.3" stroke="#1a1a1a" stroke-width="1.8"/>
<line x1="1249.6" y1="1922.4" x2="1254.6" y2="1922.4" stroke="#1a1a1a" stroke-width="1.6"/>
<line x1="1249.6" y1="1910.7" x2="1254.6" y2="1910.7" stroke="#1a1a1a" stroke-width="1.6"/>
<line x1="1249.6" y1="1902.4" x2="1254.6" y2="1902.4" stroke="#1a1a1a" stroke-width="1.6"/>
<line x1="1249.6" y1="1896" x2="1254.6" y2="1896" stroke="#1a1a1a" stroke-width="1.6"/>
<line x1="1249.6" y1="1890.8" x2="1254.6" y2="1890.8" stroke="#1a1a1a" stroke-width="1.6"/>
<line x1="1249.6" y1="1886.4" x2="1254.6" y2="1886.4" stroke="#1a1a1a" stroke-width="1.6"/>
<line x1="1249.6" y1="1882.5" x2="1254.6" y2="1882.5" stroke="#1a1a1a" stroke-width="1.6"/>
<line x1="1249.6" y1="1879.1" x2="1254.6" y2="1879.1" stroke="#1a1a1a" stroke-width="1.6"/>
<text transform="translate(1238 1952.6) rotate(-90)" font-size="17.8">10<tspan dy="-8.5" font-size="13">6</tspan></text>
<line x1="1246.1" y1="1876.1" x2="1254.6" y2="1876.1" stroke="#1a1a1a" stroke-width="1.8"/>
<text transform="translate(1238 1886.4) rotate(-90)" font-size="17.8">10<tspan dy="-8.5" font-size="13">7</tspan></text>
<line x1="1254.6" y1="2207.1" x2="1254.6" y2="2216.1" stroke="#1a1a1a" stroke-width="1.8"/>
<line x1="1288.5" y1="2207.1" x2="1288.5" y2="2212.1" stroke="#1a1a1a" stroke-width="1.8"/>
<line x1="1322.4" y1="2207.1" x2="1322.4" y2="2212.1" stroke="#1a1a1a" stroke-width="1.8"/>
<line x1="1356.2" y1="2207.1" x2="1356.2" y2="2212.1" stroke="#1a1a1a" stroke-width="1.8"/>
<line x1="1390.1" y1="2207.1" x2="1390.1" y2="2212.1" stroke="#1a1a1a" stroke-width="1.8"/>
<line x1="1424" y1="2207.1" x2="1424" y2="2216.1" stroke="#1a1a1a" stroke-width="1.8"/>
<line x1="1457.9" y1="2207.1" x2="1457.9" y2="2212.1" stroke="#1a1a1a" stroke-width="1.8"/>
<line x1="1491.8" y1="2207.1" x2="1491.8" y2="2212.1" stroke="#1a1a1a" stroke-width="1.8"/>
<line x1="1525.6" y1="2207.1" x2="1525.6" y2="2212.1" stroke="#1a1a1a" stroke-width="1.8"/>
<line x1="1559.5" y1="2207.1" x2="1559.5" y2="2212.1" stroke="#1a1a1a" stroke-width="1.8"/>
<line x1="1593.4" y1="2207.1" x2="1593.4" y2="2216.1" stroke="#1a1a1a" stroke-width="1.8"/>
<text x="1254.6" y="2229.2" font-size="18.2" text-anchor="middle">0</text>
<text x="1424" y="2229.2" font-size="18.2" text-anchor="middle">200</text>
<text x="1593.4" y="2229.2" font-size="18.2" text-anchor="middle">400</text>
<text x="1428.9" y="2259" font-size="18.3" text-anchor="middle">FSC-Width</text>
<text x="1545.5" y="2260" font-size="18.3">( x 10<tspan dy="-8" font-size="13">1</tspan><tspan dy="8">)</tspan></text>
<text x="1214.4" y="2035.6" font-size="18.4" text-anchor="middle" transform="rotate(-90 1214.4 2035.6)">Y610-A</text>
<text x="1410.8" y="1822.2" font-size="29.3" text-anchor="middle">No AD Control</text>
<text x="1420.1" y="1851.2" font-size="18.4" text-anchor="middle">01-Well-B2 : All Events</text>
<path d="M1762 1862.5h2m-2 1h2m61 32h2m-2 1h2m-64 2h2m-2 1h2m27 3h2m-2 1h2m24 3h2m-2 1h2m-40 7h2m-2 1h2m34 1h2m14 0h2m-18 1h2m14 0h2m17 1h2m19 0h2m15 0h1m5 0h2m3 0h2m20 0h1m9 0h2m2 0h1m1 0h1m1 0h2m2 0h1m2 0h1m3 0h1m1 0h2m2 0h3m1 0h6m2 0h2m2 0h1m7 0h1m1 0h2m3 0h1m1 0h2m5 0h2m5 0h2m1 0h1m1 0h1m4 0h2m7 0h4m3 0h1m6 0h1m3 0h1m1 0h2m3 0h1m3 0h1m1 0h2m4 0h1m1 0h1m2 0h5m-219 1h2m19 0h2m3 0h2m2 0h2m5 0h1m6 0h2m1 0h1m1 0h2m2 0h2m7 0h1m3 0h1m3 0h2m2 0h1m6 0h2m3 0h2m1 0h1m1 0h2m3 0h2m1 0h1m1 0h2m1 0h4m1 0h1m7 0h1m1 0h4m1 0h2m1 0h5m1 0h1m3 0h1m1 0h5m2 0h3m1 0h1m1 0h1m4 0h1m1 0h1m3 0h2m1 0h2m1 0h1m2 0h2m1 0h2m3 0h1m5 0h2m1 0h1m4 0h1m2 0h3m2 0h2m2 0h1m2 0h3m1 0h2m1 0h1m1 0h1m-218 1h2m23 0h2m2 0h2m4 0h2m10 0h1m4 0h4m5 0h1m3 0h2m2 0h1m2 0h1m1 0h4m2 0h4m2 0h1m1 0h2m2 0h1m1 0h1m2 0h39m1 0h5m1 0h1m1 0h2m1 0h2m11 0h1m3 0h1m2 0h1m3 0h2m1 0h1m1 0h2m2 0h2m1 0h1m2 0h2m1 0h2m2 0h1m1 0h1m2 0h3m1 0h1m1 0h4m1 0h1m3 0h3m-217 1h2m28 0h2m19 0h2m7 0h1m2 0h2m4 0h1m1 0h2m1 0h1m1 0h3m1 0h1m1 0h1m2 0h1m1 0h56m2 0h2m1 0h3m2 0h1m1 0h2m3 0h1m1 0h3m3 0h3m2 0h1m2 0h2m3 0h5m3 0h1m2 0h1m2 0h1m2 0h3m1 0h3m3 0h11m-199 1h2m8 0h2m4 0h2m1 0h1m2 0h1m8 0h2m5 0h2m1 0h1m1 0h1m6 0h1m1 0h1m1 0h2m1 0h1m1 0h71m1 0h3m1 0h6m1 0h1m2 0h2m4 0h1m2 0h4m2 0h1m2 0h2m5 0h3m2 0h2m2 0h7m3 0h1m1 0h1m2 0h2m1 0h1m-213 1h2m13 0h4m6 0h2m4 0h2m2 0h1m1 0h1m5 0h3m7 0h1m10 0h1m2 0h1m3 0h78m1 0h2m3 0h3m4 0h3m11 0h4m1 0h6m1 0h1m1 0h3m1 0h3m1 0h2m1 0h3m1 0h1m1 0h1m1 0h1m1 0h3m-219 1h2m3 0h2m4 0h1m10 0h2m6 0h2m7 0h1m2 0h2m5 0h1m6 0h3m1 0h2m1 0h2m7 0h84m3 0h1m1 0h1m2 0h1m1 0h1m3 0h1m1 0h1m1 0h1m3 0h3m1 0h5m1 0h2m2 0h1m1 0h2m1 0h2m1 0h2m3 0h2m1 0h5m1 0h1m1 0h2m-321 1h2m101 0h2m9 0h1m3 0h2m2 0h1m7 0h2m4 0h2m2 0h2m4 0h2m1 0h2m2 0h1m2 0h2m2 0h2m3 0h1m5 0h29m1 0h61m1 0h3m1 0h1m3 0h2m1 0h2m1 0h4m1 0h4m1 0h2m1 0h7m1 0h5m1 0h1m1 0h6m1 0h5m1 0h3m-322 1h2m116 0h2m2 0h1m4 0h2m1 0h2m4 0h2m2 0h2m2 0h1m4 0h3m1 0h1m2 0h1m1 0h1m5 0h2m1 0h86m1 0h11m1 0h1m1 0h2m2 0h1m2 0h2m1 0h6m1 0h5m1 0h3m2 0h1m1 0h2m2 0h1m2 0h3m1 0h2m1 0h5m1 0h4m-197 1h4m2 0h2m3 0h1m3 0h1m2 0h2m3 0h2m1 0h1m1 0h2m5 0h1m2 0h105m4 0h5m1 0h2m1 0h7m2 0h4m1 0h2m1 0h1m1 0h3m1 0h1m1 0h2m1 0h13m-197 1h2m4 0h2m4 0h1m1 0h1m1 0h1m1 0h1m1 0h1m2 0h3m2 0h4m1 0h7m1 0h101m1 0h8m1 0h5m1 0h4m1 0h5m1 0h2m2 0h8m1 0h7m1 0h7m-202 1h1m18 0h3m2 0h1m1 0h1m2 0h3m1 0h3m1 0h121m1 0h2m1 0h2m1 0h3m1 0h5m2 0h3m1 0h2m1 0h19m-224 1h2m9 0h4m6 0h1m4 0h4m6 0h2m5 0h1m3 0h3m3 0h129m1 0h5m1 0h3m1 0h2m1 0h2m2 0h5m2 0h2m1 0h1m1 0h5m1 0h4m-222 1h2m9 0h4m3 0h2m6 0h4m6 0h4m5 0h1m3 0h1m2 0h108m1 0h31m1 0h1m1 0h2m1 0h6m1 0h13m1 0h2m1 0h2m-206 1h2m1 0h3m6 0h4m1 0h1m2 0h2m1 0h1m1 0h1m1 0h1m1 0h1m1 0h141m1 0h27m1 0h5m-203 1h2m1 0h1m7 0h1m1 0h2m3 0h3m1 0h2m1 0h178m-224 1h2m12 0h1m9 0h1m10 0h5m4 0h43m1 0h124m1 0h11m-231 1h2m19 0h1m2 0h2m1 0h2m1 0h1m3 0h2m5 0h2m1 0h1m3 0h175m1 0h7m-246 1h2m13 0h2m1 0h1m17 0h2m1 0h2m1 0h2m3 0h1m1 0h3m6 0h53m1 0h134m-246 1h2m6 0h2m8 0h1m3 0h1m11 0h2m4 0h1m5 0h2m2 0h1m7 0h33m1 0h154m-253 1h2m13 0h2m9 0h1m1 0h1m12 0h2m5 0h2m1 0h4m1 0h2m1 0h2m1 0h73m1 0h117m-253 1h2m28 0h2m9 0h2m9 0h3m3 0h1m1 0h12m1 0h14m1 0h33m1 0h124m1 0h6m-226 1h2m1 0h2m2 0h2m5 0h2m1 0h2m7 0h1m1 0h198m-239 1h2m2 0h2m3 0h2m2 0h2m2 0h2m1 0h3m4 0h2m1 0h2m6 0h1m1 0h199m-239 1h2m2 0h2m3 0h2m2 0h8m6 0h2m1 0h4m4 0h201m-226 1h4m1 0h1m4 0h1m4 0h2m3 0h1m1 0h1m1 0h32m1 0h169m-231 1h2m8 0h1m1 0h1m1 0h1m5 0h2m1 0h4m1 0h203m-231 1h2m9 0h3m4 0h1m1 0h3m1 0h68m1 0h97m1 0h40m-246 1h4m1 0h2m4 0h2m2 0h4m9 0h1m3 0h1m2 0h2m2 0h207m-246 1h4m1 0h2m4 0h2m2 0h2m2 0h1m1 0h1m6 0h1m3 0h2m1 0h211m-232 1h2m1 0h1m1 0h2m3 0h3m2 0h5m1 0h124m1 0h86m-265 1h2m21 0h2m4 0h1m3 0h2m2 0h1m2 0h1m2 0h2m1 0h1m2 0h1m1 0h148m1 0h65m-271 1h2m4 0h2m21 0h3m3 0h1m16 0h1m3 0h14m1 0h163m1 0h36m-271 1h2m28 0h1m11 0h2m1 0h1m1 0h2m2 0h1m1 0h2m1 0h43m1 0h112m1 0h58m-229 1h2m2 0h1m3 0h1m4 0h184m1 0h6m1 0h24m-257 1h2m21 0h2m2 0h2m5 0h1m4 0h122m1 0h95m-257 1h2m9 0h2m3 0h2m5 0h2m6 0h2m2 0h1m1 0h37m1 0h151m1 0h30m-246 1h2m3 0h2m4 0h2m8 0h3m3 0h9m1 0h134m1 0h74m-227 1h1m1 0h1m1 0h1m1 0h3m1 0h217m-241 1h2m3 0h1m1 0h1m7 0h179m1 0h46m-256 1h2m9 0h2m2 0h2m4 0h1m6 0h2m3 0h223m-256 1h2m19 0h2m1 0h1m4 0h227m-234 1h1m2 0h1m1 0h1m3 0h225m-240 1h2m6 0h1m3 0h1m1 0h17m1 0h172m1 0h35m-247 1h2m3 0h4m3 0h1m3 0h1m2 0h228m-256 1h4m5 0h2m3 0h2m5 0h2m1 0h26m1 0h126m1 0h3m1 0h74m-258 1h6m12 0h2m2 0h1m7 0h85m1 0h133m1 0h8m-258 1h2m12 0h2m2 0h2m1 0h1m1 0h1m1 0h2m1 0h230m-247 1h1m9 0h1m3 0h1m2 0h224m1 0h5m-255 1h2m5 0h1m8 0h2m2 0h1m1 0h1m1 0h25m1 0h186m1 0h1m1 0h16m-266 1h2m9 0h4m5 0h2m3 0h2m1 0h1m3 0h1m2 0h197m1 0h20m1 0h12m-266 1h2m11 0h2m5 0h2m3 0h1m1 0h1m1 0h3m2 0h82m1 0h120m1 0h11m1 0h7m2 0h3m1 0h2m-260 1h2m17 0h1m4 0h3m1 0h15m1 0h69m1 0h28m1 0h80m1 0h5m1 0h2m1 0h2m1 0h9m1 0h5m1 0h4m1 0h1m2 0h1m-261 1h2m11 0h2m8 0h1m2 0h194m2 0h6m1 0h6m1 0h1m1 0h4m1 0h4m1 0h5m1 0h4m1 0h1m-247 1h3m4 0h2m2 0h1m1 0h180m1 0h8m1 0h1m1 0h3m1 0h5m1 0h3m1 0h5m1 0h3m1 0h14m1 0h1m1 0h1m-274 1h2m19 0h2m4 0h2m1 0h1m3 0h2m4 0h108m1 0h79m1 0h13m1 0h4m2 0h4m2 0h9m1 0h10m-275 1h2m19 0h3m3 0h2m4 0h2m4 0h176m1 0h24m1 0h3m1 0h9m2 0h1m1 0h5m2 0h2m1 0h6m-258 1h2m6 0h1m2 0h2m2 0h1m1 0h2m4 0h181m1 0h4m1 0h8m1 0h3m1 0h7m3 0h1m1 0h1m2 0h1m1 0h7m2 0h3m2 0h2m-256 1h2m2 0h2m7 0h1m2 0h2m1 0h1m2 0h23m1 0h18m1 0h128m1 0h6m1 0h1m1 0h2m1 0h6m1 0h5m3 0h7m2 0h3m1 0h1m1 0h1m2 0h5m1 0h1m1 0h3m1 0h2m1 0h1m1 0h3m-270 1h2m1 0h2m10 0h2m2 0h1m4 0h2m3 0h1m1 0h13m1 0h27m1 0h11m1 0h122m2 0h10m1 0h6m2 0h4m1 0h1m1 0h8m2 0h5m4 0h1m2 0h1m1 0h1m1 0h6m2 0h1m-270 1h2m1 0h2m8 0h1m5 0h1m11 0h179m1 0h2m1 0h9m1 0h7m1 0h4m1 0h6m3 0h11m2 0h2m1 0h1m1 0h2m2 0h1m-274 1h2m17 0h1m4 0h2m5 0h1m2 0h85m1 0h94m1 0h1m1 0h1m4 0h1m1 0h4m4 0h1m3 0h1m2 0h1m1 0h1m1 0h1m1 0h3m1 0h2m2 0h2m1 0h8m1 0h2m1 0h1m1 0h1m1 0h2m-274 1h2m8 0h2m14 0h1m3 0h1m4 0h31m1 0h12m1 0h76m1 0h50m1 0h4m2 0h5m1 0h1m2 0h2m1 0h4m1 0h2m5 0h2m2 0h3m2 0h3m3 0h1m2 0h1m1 0h4m1 0h1m1 0h1m3 0h1m1 0h2m-269 1h2m4 0h2m12 0h5m3 0h1m1 0h162m1 0h3m1 0h4m1 0h2m1 0h2m2 0h3m3 0h3m1 0h1m2 0h1m2 0h4m1 0h2m4 0h1m4 0h1m2 0h2m2 0h2m3 0h2m1 0h1m1 0h1m1 0h1m1 0h2m5 0h2m-271 1h2m14 0h2m2 0h2m1 0h2m2 0h166m1 0h2m1 0h6m1 0h5m1 0h1m1 0h2m1 0h2m1 0h1m2 0h2m2 0h2m11 0h4m1 0h1m2 0h1m2 0h1m4 0h1m5 0h1m3 0h1m1 0h1m1 0h2m-259 1h1m2 0h4m3 0h1m2 0h3m1 0h159m1 0h15m1 0h3m2 0h3m1 0h1m1 0h4m1 0h1m1 0h1m1 0h1m1 0h1m3 0h3m1 0h1m3 0h4m9 0h1m1 0h1m1 0h2m2 0h1m1 0h1m1 0h2m2 0h1m2 0h1m-261 1h1m3 0h2m3 0h2m1 0h2m3 0h135m1 0h27m2 0h8m2 0h2m2 0h2m2 0h2m2 0h5m3 0h1m1 0h1m6 0h4m9 0h4m1 0h4m1 0h1m7 0h2m2 0h1m2 0h2m-286 1h2m32 0h2m3 0h1m1 0h17m1 0h54m1 0h84m1 0h6m1 0h5m1 0h2m1 0h3m3 0h1m2 0h1m1 0h2m7 0h2m3 0h1m3 0h1m2 0h1m2 0h2m1 0h2m6 0h1m2 0h2m3 0h1m4 0h2m1 0h1m1 0h1m4 0h1m-285 1h2m21 0h2m13 0h2m1 0h161m1 0h7m2 0h1m1 0h2m1 0h1m4 0h2m2 0h3m1 0h1m3 0h1m3 0h4m1 0h3m1 0h1m1 0h3m1 0h2m4 0h1m1 0h2m6 0h2m1 0h2m5 0h1m-257 1h2m2 0h2m9 0h1m1 0h162m1 0h1m1 0h12m5 0h2m3 0h1m1 0h1m2 0h5m1 0h3m3 0h2m1 0h2m1 0h1m2 0h4m1 0h1m1 0h1m9 0h1m1 0h2m2 0h2m6 0h2m-259 1h2m2 0h4m1 0h1m2 0h67m1 0h91m1 0h4m2 0h2m2 0h5m1 0h2m1 0h1m2 0h2m1 0h1m1 0h1m4 0h1m1 0h2m3 0h1m4 0h2m3 0h1m1 0h1m6 0h1m5 0h1m2 0h3m4 0h2m1 0h4m1 0h1m-265 1h2m12 0h5m1 0h1m1 0h163m1 0h1m1 0h4m1 0h2m1 0h1m2 0h2m2 0h1m1 0h1m1 0h4m8 0h2m1 0h1m2 0h1m11 0h1m1 0h1m6 0h2m5 0h1m2 0h2m1 0h1m1 0h2m2 0h1m-266 1h2m12 0h1m1 0h4m1 0h11m1 0h142m1 0h7m1 0h2m1 0h3m1 0h1m1 0h1m2 0h5m1 0h1m1 0h3m12 0h2m4 0h1m3 0h1m2 0h1m4 0h1m3 0h2m3 0h1m5 0h1m4 0h2m2 0h2m-260 1h2m2 0h1m5 0h1m1 0h1m2 0h2m1 0h109m1 0h43m2 0h6m1 0h2m1 0h1m3 0h1m3 0h3m1 0h1m1 0h1m3 0h1m1 0h1m5 0h4m7 0h1m1 0h1m4 0h1m2 0h1m1 0h2m2 0h1m1 0h3m4 0h4m9 0h2m1 0h2m-270 1h2m1 0h2m2 0h4m4 0h1m6 0h1m1 0h163m1 0h4m1 0h3m1 0h1m1 0h1m3 0h6m7 0h5m2 0h1m1 0h2m1 0h1m4 0h1m5 0h2m2 0h1m2 0h1m5 0h6m10 0h2m-270 1h2m13 0h2m2 0h4m1 0h160m1 0h1m2 0h1m4 0h1m3 0h1m1 0h1m2 0h1m2 0h1m2 0h1m9 0h1m2 0h1m2 0h1m10 0h1m20 0h2m-251 1h2m5 0h2m3 0h2m2 0h39m1 0h56m1 0h59m1 0h5m1 0h1m1 0h3m1 0h4m1 0h1m1 0h1m3 0h3m1 0h2m6 0h1m2 0h1m8 0h1m7 0h1m3 0h1m1 0h2m1 0h2m3 0h2m6 0h2m5 0h1m-254 1h2m1 0h1m2 0h5m1 0h155m1 0h1m2 0h8m1 0h2m1 0h2m1 0h1m2 0h1m1 0h1m4 0h1m2 0h3m1 0h1m4 0h4m4 0h1m1 0h1m3 0h2m3 0h1m2 0h2m2 0h1m6 0h2m1 0h5m4 0h1m-257 1h2m1 0h2m5 0h1m1 0h1m1 0h157m1 0h6m1 0h1m7 0h1m2 0h1m1 0h3m2 0h1m15 0h2m5 0h1m4 0h2m17 0h2m1 0h2m2 0h1m-254 1h4m1 0h2m1 0h1m1 0h2m2 0h18m1 0h136m1 0h3m1 0h2m1 0h3m1 0h1m1 0h1m3 0h1m5 0h1m6 0h1m2 0h1m3 0h1m2 0h2m18 0h1m34 0h2m-290 1h2m21 0h2m3 0h3m2 0h2m1 0h1m1 0h11m1 0h141m1 0h4m1 0h4m1 0h1m1 0h2m1 0h1m2 0h1m2 0h2m4 0h2m2 0h2m1 0h1m2 0h1m3 0h2m3 0h2m2 0h2m9 0h1m11 0h6m4 0h1m12 0h2m-290 1h2m35 0h72m1 0h89m1 0h2m1 0h3m1 0h3m1 0h2m1 0h3m2 0h2m4 0h1m12 0h2m2 0h2m3 0h3m5 0h2m8 0h6m2 0h2m-250 1h2m4 0h3m3 0h95m1 0h61m1 0h5m2 0h2m1 0h1m1 0h1m2 0h1m1 0h1m6 0h1m5 0h2m5 0h1m4 0h2m2 0h1m5 0h3m5 0h2m6 0h2m10 0h1m-251 1h2m4 0h2m1 0h1m2 0h18m1 0h134m1 0h4m1 0h1m7 0h2m2 0h3m8 0h1m3 0h1m4 0h2m2 0h1m4 0h4m4 0h1m15 0h2m10 0h2m-251 1h2m5 0h1m1 0h1m2 0h159m1 0h4m1 0h4m4 0h1m4 0h3m5 0h1m2 0h2m1 0h2m11 0h1m3 0h1m15 0h2m-239 1h2m2 0h1m2 0h1m3 0h145m1 0h8m4 0h2m1 0h2m1 0h5m10 0h2m1 0h3m5 0h2m6 0h2m3 0h2m3 0h2m1 0h1m20 0h4m9 0h1m8 0h1m-291 1h2m15 0h2m8 0h2m1 0h1m3 0h2m1 0h1m1 0h6m1 0h114m1 0h24m1 0h2m1 0h1m1 0h1m1 0h1m1 0h2m1 0h2m3 0h2m6 0h1m3 0h3m3 0h1m12 0h2m3 0h2m3 0h2m22 0h4m7 0h2m9 0h1m-291 1h2m10 0h2m3 0h2m8 0h2m2 0h1m3 0h148m1 0h1m2 0h2m1 0h2m5 0h1m3 0h1m3 0h2m3 0h1m4 0h1m5 0h1m6 0h4m9 0h2m12 0h2m1 0h1m-253 1h2m4 0h2m3 0h2m9 0h3m4 0h86m1 0h62m1 0h4m1 0h2m2 0h3m3 0h2m1 0h1m5 0h1m1 0h1m5 0h2m2 0h1m6 0h4m1 0h2m20 0h3m12 0h2m-266 1h2m9 0h2m9 0h1m1 0h3m1 0h1m1 0h144m1 0h8m2 0h3m1 0h2m3 0h1m1 0h2m1 0h3m5 0h2m2 0h1m1 0h2m7 0h2m3 0h2m35 0h2m12 0h4m-257 1h1m1 0h42m1 0h99m1 0h2m1 0h1m1 0h7m1 0h1m2 0h1m1 0h3m3 0h1m5 0h1m5 0h1m2 0h1m4 0h1m7 0h2m54 0h4m-270 1h2m3 0h1m4 0h2m2 0h2m1 0h12m1 0h128m1 0h1m1 0h7m1 0h3m3 0h2m2 0h1m1 0h1m2 0h3m1 0h1m2 0h2m6 0h2m25 0h2m-275 1h2m28 0h2m15 0h4m1 0h1m4 0h5m1 0h144m1 0h2m3 0h3m2 0h1m2 0h2m2 0h3m3 0h2m2 0h1m1 0h1m8 0h2m25 0h2m13 0h2m-290 1h2m28 0h2m1 0h1m15 0h2m8 0h3m1 0h40m1 0h21m1 0h58m1 0h19m1 0h8m2 0h1m1 0h2m1 0h1m2 0h1m1 0h1m1 0h1m3 0h1m5 0h2m5 0h2m42 0h2m2 0h2m-260 1h1m11 0h2m4 0h2m4 0h1m1 0h1m1 0h140m1 0h4m1 0h6m1 0h2m3 0h2m1 0h3m2 0h1m1 0h1m1 0h1m11 0h2m11 0h2m33 0h2m-248 1h2m1 0h1m2 0h2m3 0h1m2 0h1m1 0h102m1 0h31m1 0h4m2 0h1m1 0h6m2 0h1m3 0h2m1 0h1m9 0h3m3 0h2m14 0h2m3 0h2m-238 1h2m20 0h6m1 0h1m4 0h1m1 0h1m4 0h35m1 0h117m1 0h1m1 0h1m3 0h2m1 0h2m1 0h1m1 0h1m5 0h2m1 0h1m5 0h2m5 0h2m8 0h2m4 0h2m10 0h2m-261 1h2m20 0h6m2 0h1m1 0h3m5 0h131m1 0h11m1 0h1m1 0h1m1 0h4m1 0h5m1 0h1m1 0h2m1 0h3m2 0h1m2 0h2m2 0h1m1 0h2m4 0h2m15 0h2m4 0h2m10 0h2m-231 1h1m1 0h3m6 0h53m1 0h23m1 0h64m4 0h2m1 0h1m1 0h1m2 0h2m1 0h1m2 0h1m10 0h2m2 0h1m17 0h2m9 0h2m6 0h2m17 0h2m10 0h2m-256 1h2m3 0h2m1 0h142m2 0h3m1 0h2m1 0h3m3 0h1m1 0h2m35 0h2m9 0h2m6 0h2m6 0h2m9 0h2m8 0h4m-270 1h2m2 0h2m2 0h2m10 0h3m1 0h138m1 0h2m1 0h1m1 0h4m2 0h2m1 0h3m1 0h2m2 0h1m4 0h2m10 0h2m41 0h2m2 0h2m13 0h4m12 0h2m-289 1h2m5 0h2m2 0h2m2 0h2m1 0h2m1 0h2m5 0h1m1 0h133m1 0h4m1 0h1m3 0h2m1 0h1m1 0h1m1 0h1m2 0h1m5 0h1m1 0h1m1 0h1m4 0h1m3 0h2m41 0h2m9 0h4m7 0h2m2 0h2m14 0h2m-332 1h2m41 0h2m8 0h2m6 0h2m1 0h2m1 0h1m1 0h1m3 0h125m1 0h14m2 0h1m1 0h1m1 0h1m1 0h3m2 0h1m3 0h2m13 0h2m41 0h2m1 0h2m8 0h2m7 0h2m-312 1h2m55 0h2m9 0h2m2 0h99m1 0h31m1 0h6m1 0h4m4 0h2m3 0h1m1 0h1m2 0h1m3 0h1m1 0h2m5 0h1m1 0h2m18 0h2m22 0h2m1 0h2m-236 1h2m5 0h5m1 0h130m2 0h6m2 0h2m1 0h1m1 0h1m1 0h3m1 0h1m2 0h1m1 0h1m2 0h1m1 0h2m2 0h2m3 0h2m2 0h2m2 0h2m7 0h2m5 0h2m4 0h2m16 0h2m27 0h2m-295 1h2m38 0h2m2 0h1m1 0h1m1 0h130m1 0h3m1 0h2m1 0h3m1 0h2m1 0h1m1 0h1m2 0h1m1 0h1m1 0h2m6 0h2m10 0h1m1 0h2m7 0h2m11 0h2m45 0h2m-295 1h2m44 0h1m1 0h57m1 0h77m2 0h1m1 0h2m1 0h1m1 0h2m3 0h2m1 0h1m9 0h2m11 0h1m30 0h2m-215 1h2m6 0h1m1 0h123m1 0h5m2 0h1m1 0h3m1 0h3m7 0h1m6 0h2m1 0h1m3 0h2m17 0h2m21 0h2m44 0h2m-272 1h2m4 0h1m2 0h1m1 0h3m3 0h26m1 0h96m1 0h6m1 0h4m1 0h1m1 0h2m1 0h1m1 0h1m1 0h2m2 0h1m8 0h2m1 0h1m3 0h2m1 0h2m6 0h2m6 0h2m67 0h2m-282 1h2m1 0h2m5 0h2m5 0h1m1 0h1m3 0h1m1 0h2m1 0h88m1 0h21m1 0h15m1 0h2m2 0h3m1 0h2m3 0h2m1 0h1m4 0h1m1 0h2m2 0h3m5 0h2m3 0h2m3 0h2m1 0h4m64 0h2m-273 1h2m1 0h2m17 0h1m2 0h2m1 0h122m1 0h5m1 0h3m1 0h4m1 0h2m3 0h1m3 0h1m2 0h7m15 0h2m3 0h2m64 0h2m-261 1h1m1 0h2m7 0h2m2 0h5m1 0h122m1 0h5m2 0h3m1 0h3m3 0h2m1 0h1m1 0h4m5 0h1m50 0h2m-228 1h1m1 0h2m4 0h2m4 0h116m1 0h7m1 0h4m1 0h3m2 0h2m1 0h2m5 0h4m3 0h2m4 0h3m1 0h1m2 0h2m3 0h2m5 0h2m33 0h2m22 0h2m5 0h2m-251 1h1m5 0h129m1 0h5m5 0h1m1 0h2m1 0h2m2 0h2m4 0h1m2 0h2m5 0h2m3 0h2m5 0h2m57 0h2m5 0h2m-262 1h2m9 0h1m1 0h3m1 0h124m1 0h2m2 0h2m1 0h3m3 0h2m2 0h2m5 0h2m4 0h2m1 0h2m22 0h3m9 0h4m17 0h2m5 0h2m-241 1h4m13 0h7m1 0h115m1 0h1m1 0h2m2 0h2m2 0h1m1 0h5m1 0h2m4 0h2m8 0h2m2 0h2m18 0h2m1 0h1m8 0h4m17 0h2m5 0h2m-230 1h1m3 0h1m2 0h118m1 0h4m1 0h3m1 0h2m2 0h1m3 0h2m3 0h2m1 0h2m1 0h2m12 0h2m-183 1h2m11 0h1m2 0h3m1 0h3m1 0h3m1 0h117m2 0h2m1 0h1m6 0h1m3 0h3m4 0h2m-170 1h2m2 0h2m6 0h2m1 0h1m1 0h1m2 0h112m1 0h6m1 0h5m3 0h1m2 0h2m1 0h1m11 0h1m1 0h2m3 0h2m2 0h2m1 0h2m-169 1h1m2 0h3m1 0h71m1 0h40m2 0h4m2 0h1m1 0h3m1 0h2m1 0h1m1 0h3m1 0h1m3 0h2m3 0h1m1 0h1m6 0h2m2 0h2m1 0h2m29 0h2m11 0h2m-223 1h2m9 0h1m2 0h1m1 0h45m1 0h63m2 0h6m2 0h4m1 0h4m1 0h3m7 0h4m1 0h1m10 0h2m7 0h2m12 0h2m12 0h2m11 0h2m-223 1h2m4 0h2m2 0h1m2 0h1m1 0h56m1 0h60m1 0h4m2 0h3m1 0h2m1 0h1m1 0h1m1 0h1m4 0h1m3 0h2m2 0h2m6 0h2m7 0h2m12 0h2m-201 1h1m10 0h2m1 0h1m3 0h1m2 0h117m3 0h4m1 0h1m1 0h1m4 0h2m1 0h1m1 0h1m2 0h2m3 0h1m6 0h2m-181 1h2m4 0h1m18 0h1m1 0h109m2 0h6m1 0h1m1 0h1m1 0h1m3 0h4m3 0h1m2 0h1m15 0h4m9 0h2m2 0h2m-198 1h2m6 0h2m6 0h2m3 0h2m1 0h1m2 0h113m1 0h3m1 0h2m1 0h2m1 0h1m1 0h2m2 0h2m3 0h1m1 0h1m3 0h1m2 0h1m3 0h1m5 0h2m3 0h1m5 0h2m2 0h2m88 0h2m-280 1h2m3 0h1m2 0h2m1 0h1m1 0h2m1 0h82m1 0h31m2 0h2m2 0h1m1 0h1m2 0h2m2 0h2m7 0h1m1 0h2m1 0h1m2 0h1m3 0h1m6 0h1m3 0h1m86 0h1m13 0h2m-276 1h1m4 0h3m1 0h3m1 0h119m2 0h1m1 0h3m3 0h1m4 0h2m1 0h1m4 0h1m1 0h1m11 0h1m31 0h2m57 0h1m-261 1h1m9 0h1m4 0h109m1 0h2m1 0h3m2 0h2m4 0h2m1 0h2m3 0h3m2 0h1m5 0h1m14 0h1m13 0h2m12 0h2m-245 1h2m52 0h1m2 0h18m1 0h86m1 0h4m1 0h1m1 0h2m1 0h1m2 0h1m1 0h2m1 0h1m3 0h2m6 0h2m8 0h2m9 0h1m14 0h2m41 0h2m-274 1h2m2 0h2m39 0h1m7 0h1m2 0h30m1 0h76m1 0h4m1 0h3m2 0h2m2 0h5m4 0h1m2 0h3m7 0h1m2 0h2m19 0h2m2 0h1m43 0h2m2 0h2m-274 1h2m40 0h1m7 0h2m1 0h4m1 0h33m1 0h68m1 0h3m3 0h3m1 0h4m7 0h1m3 0h2m8 0h1m8 0h2m13 0h2m3 0h1m46 0h2m-229 1h5m1 0h113m1 0h2m1 0h5m1 0h1m1 0h3m4 0h1m5 0h2m14 0h2m-174 1h1m11 0h5m1 0h1m1 0h108m1 0h3m1 0h1m1 0h2m3 0h1m3 0h1m8 0h2m1 0h2m18 0h2m97 0h2m-313 1h2m21 0h2m11 0h1m8 0h1m5 0h1m1 0h2m1 0h34m1 0h74m1 0h1m2 0h6m1 0h1m5 0h1m6 0h4m19 0h2m1 0h2m94 0h2m-313 1h2m21 0h2m20 0h1m1 0h1m8 0h107m1 0h2m1 0h2m1 0h1m1 0h1m1 0h1m1 0h1m1 0h3m1 0h1m3 0h2m106 0h2m-266 1h2m7 0h2m7 0h1m5 0h1m1 0h101m2 0h6m3 0h2m1 0h1m1 0h2m1 0h1m5 0h1m3 0h2m12 0h2m10 0h2m80 0h2m-266 1h2m7 0h2m2 0h2m2 0h1m1 0h1m3 0h2m1 0h20m1 0h81m1 0h2m1 0h2m1 0h1m3 0h1m3 0h2m3 0h5m4 0h1m1 0h1m2 0h2m6 0h2m10 0h2m23 0h2m-183 1h100m1 0h2m1 0h1m1 0h1m2 0h1m1 0h1m10 0h2m1 0h1m6 0h1m3 0h2m7 0h1m1 0h1m33 0h2m-187 1h2m1 0h101m1 0h8m1 0h3m5 0h2m3 0h2m3 0h1m2 0h1m14 0h1m50 0h1m59 0h2m-269 1h1m2 0h2m3 0h29m1 0h80m3 0h1m2 0h2m2 0h2m8 0h1m2 0h2m6 0h2m57 0h1m58 0h2m-269 1h1m5 0h2m1 0h95m1 0h5m2 0h4m3 0h1m1 0h2m1 0h2m2 0h1m7 0h2m1 0h1m1 0h1m7 0h2m2 0h2m10 0h2m14 0h2m18 0h2m-198 1h1m1 0h106m1 0h6m5 0h2m2 0h1m1 0h1m2 0h1m1 0h3m1 0h1m22 0h4m4 0h2m8 0h2m18 0h2m-203 1h2m1 0h2m1 0h1m1 0h1m1 0h69m1 0h33m1 0h2m1 0h3m2 0h1m9 0h2m17 0h2m10 0h2m6 0h2m-173 1h2m1 0h3m1 0h2m1 0h98m1 0h2m1 0h2m1 0h1m5 0h1m11 0h1m1 0h1m15 0h2m79 0h2m28 0h2m-300 1h2m31 0h2m3 0h3m1 0h101m1 0h3m2 0h1m1 0h1m5 0h2m5 0h2m2 0h1m1 0h2m7 0h2m87 0h2m28 0h2m-300 1h2m31 0h2m4 0h1m1 0h4m1 0h88m1 0h8m1 0h1m2 0h2m2 0h1m4 0h4m2 0h1m1 0h2m4 0h1m2 0h2m4 0h2m32 0h2m-228 1h2m28 0h2m19 0h1m1 0h1m5 0h2m1 0h93m1 0h3m1 0h4m2 0h1m1 0h1m3 0h1m2 0h1m1 0h1m2 0h2m2 0h2m11 0h2m27 0h2m-228 1h2m26 0h4m10 0h2m6 0h1m4 0h99m1 0h1m2 0h4m4 0h2m1 0h1m7 0h1m2 0h2m13 0h6m2 0h2m18 0h2m-197 1h2m8 0h1m3 0h2m6 0h1m1 0h2m1 0h2m1 0h90m2 0h12m5 0h2m1 0h2m4 0h1m6 0h3m9 0h2m2 0h2m2 0h2m2 0h2m14 0h2m84 0h1m-273 1h1m19 0h78m1 0h13m1 0h2m2 0h3m1 0h1m1 0h1m4 0h1m5 0h1m3 0h1m31 0h2m68 0h2m30 0h1m-259 1h1m6 0h93m1 0h2m1 0h1m1 0h6m1 0h3m4 0h1m3 0h1m1 0h2m1 0h2m1 0h1m62 0h2m29 0h2m20 0h2m-261 1h2m7 0h2m1 0h2m1 0h63m1 0h31m2 0h3m3 0h3m1 0h1m1 0h5m1 0h1m6 0h2m1 0h2m1 0h1m62 0h2m51 0h2m-252 1h2m4 0h1m2 0h38m1 0h50m1 0h3m2 0h1m2 0h2m2 0h4m2 0h1m3 0h1m-135 1h2m6 0h2m12 0h87m1 0h6m4 0h1m1 0h1m1 0h2m1 0h1m15 0h2m7 0h2m3 0h2m-159 1h2m4 0h1m1 0h2m3 0h3m4 0h71m1 0h20m1 0h6m1 0h2m2 0h1m3 0h2m2 0h1m4 0h1m2 0h2m1 0h2m7 0h2m3 0h2m-173 1h2m17 0h1m7 0h2m1 0h1m3 0h98m1 0h4m2 0h2m1 0h1m1 0h2m5 0h1m2 0h2m-156 1h2m10 0h2m4 0h2m15 0h44m1 0h43m2 0h6m1 0h1m1 0h2m2 0h1m1 0h2m3 0h1m2 0h2m20 0h2m2 0h2m3 0h2m-191 1h2m20 0h2m12 0h4m1 0h4m1 0h86m1 0h8m1 0h1m1 0h1m1 0h2m1 0h5m1 0h1m2 0h2m20 0h2m2 0h2m3 0h2m-191 1h2m28 0h2m4 0h2m2 0h1m3 0h92m2 0h2m1 0h1m2 0h2m1 0h1m1 0h1m1 0h2m10 0h2m41 0h2m-200 1h2m20 0h2m6 0h2m1 0h2m1 0h15m1 0h77m1 0h1m1 0h1m1 0h1m3 0h1m5 0h1m1 0h2m5 0h1m1 0h4m4 0h1m12 0h2m20 0h2m15 0h2m-217 1h2m25 0h2m1 0h2m6 0h94m11 0h1m2 0h2m6 0h2m1 0h2m4 0h1m10 0h4m37 0h2m1 0h2m41 0h2m-289 1h2m51 0h2m1 0h3m3 0h83m2 0h10m1 0h2m1 0h2m1 0h3m4 0h2m6 0h1m20 0h2m42 0h2m41 0h2m18 0h2m-309 1h2m50 0h1m2 0h1m2 0h1m3 0h91m1 0h2m1 0h3m1 0h1m4 0h1m4 0h2m134 0h2m-262 1h2m3 0h1m3 0h1m2 0h1m1 0h89m1 0h4m6 0h1m7 0h3m3 0h1m132 0h2m-263 1h2m6 0h1m2 0h3m1 0h1m1 0h87m1 0h3m6 0h5m2 0h1m5 0h1m82 0h2m49 0h2m-310 1h2m47 0h2m3 0h1m4 0h1m1 0h69m1 0h17m1 0h3m1 0h1m1 0h6m2 0h1m2 0h1m1 0h1m5 0h1m16 0h2m64 0h2m15 0h2m-279 1h2m1 0h2m37 0h2m8 0h2m4 0h1m6 0h1m1 0h45m1 0h35m1 0h8m1 0h1m1 0h1m1 0h2m5 0h1m2 0h1m2 0h1m4 0h2m12 0h2m81 0h2m-279 1h2m40 0h2m16 0h4m3 0h91m3 0h2m1 0h2m5 0h1m4 0h1m3 0h2m13 0h2m18 0h2m7 0h2m35 0h2m-201 1h4m1 0h51m1 0h32m1 0h2m1 0h4m3 0h3m2 0h2m11 0h2m13 0h2m27 0h2m35 0h2m44 0h2m-258 1h2m13 0h20m1 0h75m1 0h1m3 0h2m1 0h2m4 0h2m2 0h2m125 0h2m-262 1h2m2 0h2m3 0h2m4 0h2m2 0h33m1 0h49m1 0h3m1 0h1m1 0h2m1 0h3m3 0h2m3 0h4m6 0h1m7 0h2m31 0h2m12 0h2m-201 1h2m20 0h1m3 0h2m2 0h38m1 0h47m1 0h5m4 0h1m5 0h3m1 0h2m6 0h2m6 0h2m31 0h2m12 0h2m-201 1h2m23 0h1m1 0h1m4 0h80m1 0h5m4 0h1m1 0h1m1 0h5m1 0h4m5 0h2m4 0h2m5 0h2m1 0h2m-135 1h1m1 0h1m1 0h1m1 0h82m1 0h7m5 0h2m1 0h1m1 0h1m10 0h2m4 0h5m2 0h2m1 0h2m30 0h2m-179 1h2m4 0h2m5 0h1m1 0h1m2 0h1m1 0h77m1 0h1m2 0h1m3 0h1m1 0h3m1 0h1m3 0h1m4 0h2m1 0h1m53 0h2m-189 1h2m8 0h5m2 0h1m3 0h2m4 0h1m1 0h78m1 0h4m1 0h3m2 0h1m3 0h1m7 0h2m1 0h1m9 0h2m-177 1h2m30 0h2m10 0h2m1 0h2m4 0h4m3 0h94m5 0h3m2 0h1m1 0h1m1 0h2m5 0h2m88 0h2m-267 1h2m45 0h1m7 0h3m2 0h50m1 0h28m1 0h3m1 0h1m1 0h2m1 0h1m5 0h2m4 0h3m1 0h1m60 0h2m37 0h2m-229 1h2m2 0h2m10 0h1m3 0h79m1 0h5m1 0h2m2 0h1m1 0h2m3 0h4m1 0h1m1 0h2m62 0h2m-190 1h2m2 0h2m10 0h1m4 0h84m1 0h2m1 0h2m3 0h1m2 0h1m1 0h2m8 0h1m9 0h1m40 0h2m10 0h2m-210 1h2m14 0h2m18 0h1m2 0h10m1 0h44m1 0h21m1 0h5m4 0h1m1 0h2m1 0h1m1 0h1m8 0h3m10 0h1m16 0h2m22 0h2m10 0h2m-210 1h2m14 0h4m14 0h1m3 0h78m1 0h4m4 0h3m2 0h1m1 0h1m9 0h2m28 0h2m-156 1h2m10 0h2m1 0h3m2 0h77m1 0h2m1 0h1m1 0h1m1 0h1m1 0h1m1 0h3m6 0h1m128 0h2m-239 1h1m1 0h2m5 0h1m1 0h82m1 0h2m1 0h1m1 0h1m1 0h1m2 0h2m1 0h1m2 0h2m2 0h2m2 0h2m60 0h2m55 0h2m-247 1h2m4 0h1m2 0h1m3 0h1m4 0h79m1 0h5m1 0h1m1 0h4m2 0h1m7 0h1m5 0h1m61 0h2m-190 1h3m2 0h1m5 0h2m5 0h3m1 0h31m1 0h47m2 0h3m4 0h2m2 0h2m1 0h2m92 0h2m36 0h2m-253 1h2m2 0h1m3 0h1m10 0h1m1 0h74m1 0h8m1 0h3m3 0h1m4 0h2m1 0h4m6 0h2m82 0h2m36 0h2m-253 1h2m13 0h1m3 0h1m1 0h79m1 0h1m1 0h1m5 0h1m2 0h1m16 0h2m1 0h2m22 0h2m10 0h2m18 0h2m-181 1h2m1 0h2m2 0h1m1 0h1m1 0h3m1 0h82m1 0h1m2 0h2m4 0h6m10 0h2m2 0h2m18 0h2m10 0h2m18 0h2m-183 1h4m1 0h2m2 0h1m3 0h73m1 0h4m1 0h1m3 0h5m1 0h1m1 0h1m4 0h4m1 0h2m4 0h2m1 0h1m5 0h2m8 0h2m-158 1h2m15 0h2m3 0h1m5 0h75m1 0h5m1 0h6m5 0h1m1 0h1m3 0h2m8 0h2m2 0h1m14 0h2m53 0h2m40 0h2m-255 1h2m19 0h1m6 0h76m1 0h2m2 0h1m1 0h4m3 0h1m1 0h1m1 0h1m4 0h2m2 0h1m26 0h2m51 0h2m40 0h2m28 0h2m-270 1h2m13 0h34m1 0h37m1 0h4m1 0h3m3 0h1m2 0h2m7 0h2m4 0h1m10 0h2m5 0h2m6 0h2m26 0h2m95 0h2m-282 1h2m10 0h2m4 0h1m1 0h1m4 0h1m1 0h1m1 0h73m1 0h1m1 0h2m12 0h6m15 0h2m5 0h2m3 0h1m12 0h2m-148 1h1m3 0h3m2 0h6m1 0h67m1 0h2m1 0h2m3 0h1m7 0h4m2 0h2m25 0h1m12 0h2m49 0h2m-200 1h1m1 0h1m4 0h3m1 0h70m1 0h1m1 0h3m1 0h2m2 0h2m2 0h2m1 0h1m7 0h2m9 0h2m13 0h1m11 0h2m51 0h2m-201 1h1m1 0h1m5 0h1m3 0h64m1 0h11m1 0h3m1 0h1m5 0h1m7 0h1m7 0h2m2 0h2m7 0h2m16 0h2m-154 1h1m8 0h1m3 0h2m3 0h66m1 0h1m1 0h2m1 0h2m1 0h2m9 0h1m9 0h1m6 0h2m5 0h2m4 0h2m-135 1h1m5 0h2m3 0h1m5 0h67m1 0h5m1 0h3m1 0h1m2 0h1m1 0h2m16 0h2m7 0h2m31 0h2m81 0h2m-242 1h1m5 0h2m6 0h66m1 0h9m1 0h3m1 0h1m8 0h2m9 0h2m23 0h2m15 0h2m81 0h2m-242 1h1m2 0h2m1 0h2m1 0h1m1 0h1m2 0h64m1 0h6m4 0h3m3 0h2m3 0h2m2 0h4m11 0h2m5 0h2m12 0h2m1 0h1m79 0h2m-222 1h2m5 0h3m1 0h70m1 0h2m1 0h2m2 0h1m2 0h2m5 0h1m3 0h2m11 0h2m5 0h2m14 0h1m80 0h2m44 0h2m-268 1h2m2 0h2m1 0h2m1 0h73m1 0h1m2 0h1m3 0h1m2 0h2m1 0h2m17 0h2m32 0h2m114 0h2m-278 1h2m8 0h2m5 0h2m1 0h71m1 0h1m1 0h1m1 0h1m1 0h1m8 0h2m1 0h2m14 0h2m32 0h2m-162 1h2m1 0h1m4 0h2m6 0h1m4 0h68m2 0h1m1 0h3m2 0h1m3 0h1m1 0h2m2 0h1m1 0h2m1 0h2m7 0h1m1 0h2m-122 1h2m2 0h2m4 0h1m2 0h2m2 0h68m3 0h2m2 0h3m2 0h1m3 0h2m1 0h1m4 0h2m7 0h1m1 0h2m-111 1h2m1 0h1m2 0h30m1 0h35m1 0h6m1 0h3m2 0h2m2 0h2m12 0h2m5 0h2m-180 1h2m46 0h2m7 0h2m2 0h2m4 0h2m1 0h72m1 0h2m3 0h1m1 0h2m1 0h1m9 0h1m7 0h2m5 0h2m49 0h2m31 0h2m-264 1h2m3 0h2m41 0h2m7 0h2m2 0h2m5 0h2m1 0h1m2 0h63m1 0h9m1 0h1m3 0h1m4 0h1m5 0h1m11 0h2m48 0h2m2 0h2m31 0h2m-259 1h2m49 0h2m8 0h2m1 0h1m2 0h1m1 0h62m1 0h5m5 0h3m6 0h2m5 0h1m11 0h2m48 0h2m-171 1h2m8 0h2m1 0h1m2 0h71m2 0h1m1 0h1m3 0h3m10 0h1m1 0h2m-109 1h2m10 0h2m1 0h60m1 0h4m1 0h1m1 0h3m4 0h1m1 0h2m1 0h1m2 0h1m8 0h2m30 0h2m-137 1h2m1 0h1m3 0h1m2 0h62m1 0h3m1 0h2m1 0h2m3 0h1m3 0h1m1 0h1m2 0h1m4 0h2m2 0h2m3 0h2m25 0h2m-133 1h1m1 0h1m3 0h60m4 0h4m1 0h1m1 0h7m1 0h2m1 0h2m2 0h1m6 0h2m3 0h2m-119 1h2m10 0h1m3 0h1m3 0h71m1 0h1m4 0h1m1 0h1m2 0h1m1 0h1m4 0h2m4 0h2m1 0h2m25 0h2m-160 1h2m11 0h2m4 0h1m1 0h1m3 0h1m4 0h2m1 0h59m1 0h7m1 0h2m1 0h1m1 0h2m3 0h5m6 0h2m4 0h2m28 0h2m2 0h2m-164 1h2m18 0h1m6 0h2m3 0h69m1 0h3m5 0h1m43 0h2m6 0h2m-168 1h2m25 0h3m1 0h2m1 0h1m2 0h62m1 0h3m5 0h3m6 0h1m36 0h2m2 0h2m28 0h2m1 0h2m53 0h2m17 0h2m-267 1h2m18 0h2m3 0h1m3 0h1m3 0h1m3 0h9m1 0h55m4 0h1m2 0h1m3 0h1m1 0h3m6 0h4m9 0h2m15 0h4m30 0h2m1 0h2m53 0h2m17 0h2m-247 1h2m2 0h1m9 0h72m1 0h1m1 0h1m1 0h2m2 0h2m1 0h1m5 0h6m7 0h2m2 0h2m5 0h2m6 0h2m20 0h2m-149 1h1m1 0h3m1 0h64m2 0h6m2 0h1m3 0h1m2 0h2m1 0h2m3 0h4m9 0h4m5 0h2m28 0h2m-149 1h3m2 0h1m1 0h43m1 0h18m1 0h1m2 0h5m3 0h1m2 0h2m3 0h1m5 0h2m11 0h2m17 0h2m-143 1h2m3 0h1m12 0h1m2 0h58m1 0h6m1 0h1m1 0h3m2 0h2m5 0h1m14 0h2m23 0h2m18 0h2m-163 1h2m3 0h1m9 0h69m3 0h1m1 0h1m6 0h1m4 0h1m6 0h2m6 0h2m15 0h2m26 0h2m-148 1h4m2 0h28m1 0h31m1 0h2m3 0h1m3 0h2m5 0h1m1 0h6m2 0h2m6 0h2m15 0h2m11 0h2m38 0h2m-184 1h2m7 0h2m1 0h1m3 0h24m1 0h38m3 0h3m1 0h1m1 0h1m4 0h1m18 0h2m28 0h2m38 0h2m-184 1h2m7 0h3m5 0h7m1 0h29m1 0h19m2 0h1m1 0h2m1 0h1m1 0h1m10 0h1m6 0h1m-97 1h2m6 0h1m3 0h54m1 0h2m1 0h2m1 0h4m1 0h4m12 0h1m2 0h1m3 0h2m30 0h2m-135 1h2m5 0h1m1 0h2m1 0h1m1 0h54m1 0h1m1 0h2m2 0h1m1 0h2m2 0h1m4 0h2m7 0h2m4 0h2m30 0h2m-138 1h1m8 0h1m1 0h1m1 0h2m1 0h58m1 0h2m2 0h2m1 0h1m2 0h1m5 0h1m39 0h2m-134 1h1m4 0h1m10 0h55m1 0h6m2 0h1m1 0h1m4 0h1m15 0h2m27 0h2m-132 1h3m4 0h2m3 0h2m1 0h25m1 0h24m1 0h5m1 0h4m1 0h1m3 0h2m1 0h1m1 0h1m14 0h2m55 0h2m-160 1h3m4 0h3m1 0h2m2 0h59m4 0h1m1 0h2m1 0h1m5 0h1m17 0h2m49 0h2m-150 1h1m1 0h1m2 0h50m1 0h1m2 0h3m1 0h2m5 0h1m1 0h1m1 0h1m1 0h1m1 0h1m11 0h2m5 0h2m3 0h4m82 0h2m26 0h2m-220 1h2m2 0h57m1 0h1m3 0h1m2 0h1m1 0h2m4 0h1m2 0h3m2 0h1m6 0h2m10 0h4m82 0h2m26 0h2m-223 1h2m1 0h2m1 0h2m2 0h58m2 0h1m2 0h2m1 0h2m3 0h1m4 0h1m1 0h1m-94 1h2m5 0h2m2 0h1m1 0h1m1 0h54m1 0h1m1 0h2m1 0h1m1 0h1m3 0h1m1 0h1m12 0h2m52 0h2m-152 1h2m7 0h2m2 0h1m1 0h52m1 0h3m2 0h2m1 0h1m5 0h2m3 0h1m4 0h2m2 0h4m9 0h2m33 0h2m4 0h2m-178 1h2m6 0h2m11 0h2m10 0h2m2 0h1m2 0h51m1 0h6m1 0h2m3 0h2m1 0h1m5 0h1m4 0h2m4 0h2m9 0h2m33 0h2m-172 1h2m6 0h2m4 0h2m5 0h2m4 0h2m7 0h1m1 0h59m7 0h2m9 0h2m32 0h2m-137 1h2m11 0h2m6 0h1m3 0h1m2 0h47m1 0h8m1 0h2m1 0h2m1 0h1m5 0h2m2 0h2m32 0h2m2 0h2m41 0h2m-240 1h2m63 0h2m2 0h2m13 0h44m1 0h10m1 0h7m1 0h1m1 0h1m10 0h1m4 0h2m27 0h2m41 0h2m-240 1h2m24 0h2m12 0h2m23 0h2m2 0h2m10 0h1m1 0h54m1 0h2m6 0h1m1 0h2m1 0h1m4 0h2m3 0h1m4 0h4m-144 1h2m12 0h2m36 0h1m3 0h1m1 0h50m1 0h1m1 0h2m3 0h1m1 0h2m6 0h1m3 0h2m3 0h2m5 0h2m26 0h2m88 0h2m-211 1h3m1 0h1m2 0h1m1 0h6m1 0h41m2 0h3m1 0h4m4 0h6m3 0h2m21 0h2m14 0h2m34 0h2m52 0h2m-211 1h2m2 0h48m1 0h5m1 0h4m2 0h1m1 0h1m3 0h4m5 0h3m20 0h2m23 0h2m25 0h2m-160 1h2m1 0h1m1 0h1m2 0h49m2 0h6m1 0h1m1 0h1m1 0h1m1 0h2m1 0h2m3 0h3m2 0h1m45 0h2m67 0h2m-222 1h2m10 0h2m6 0h2m3 0h1m3 0h47m1 0h5m2 0h2m3 0h2m1 0h2m1 0h3m2 0h3m117 0h2m-222 1h2m10 0h2m11 0h1m2 0h1m1 0h49m2 0h1m1 0h1m1 0h2m2 0h2m3 0h1m1 0h1m9 0h2m-93 1h2m3 0h1m5 0h1m1 0h1m2 0h32m1 0h20m2 0h3m3 0h2m3 0h2m7 0h2m1 0h2m-110 1h2m4 0h1m2 0h1m2 0h4m4 0h1m4 0h1m4 0h43m1 0h3m1 0h3m2 0h1m2 0h1m3 0h2m3 0h1m2 0h2m5 0h2m1 0h4m2 0h2m-116 1h2m4 0h1m2 0h1m2 0h2m2 0h4m3 0h2m1 0h1m4 0h24m1 0h18m1 0h1m1 0h4m1 0h1m2 0h1m2 0h2m7 0h1m1 0h1m1 0h2m7 0h2m2 0h2m11 0h2m-113 1h4m3 0h2m3 0h2m2 0h36m1 0h4m1 0h13m1 0h1m1 0h1m4 0h2m4 0h2m24 0h2m-121 1h2m6 0h2m5 0h1m4 0h3m1 0h45m2 0h3m1 0h4m4 0h1m3 0h2m1 0h4m12 0h2m-108 1h2m6 0h2m3 0h2m5 0h2m1 0h2m1 0h43m1 0h2m3 0h2m1 0h1m1 0h2m1 0h1m6 0h4m5 0h1m6 0h2m7 0h2m20 0h2m82 0h2m32 0h2m-257 1h2m12 0h1m3 0h1m2 0h2m1 0h1m1 0h36m2 0h8m1 0h2m5 0h2m4 0h2m11 0h1m15 0h2m5 0h2m13 0h2m60 0h2m20 0h2m32 0h2m-257 1h2m16 0h1m1 0h1m3 0h1m3 0h36m2 0h2m2 0h2m1 0h3m3 0h1m6 0h2m34 0h2m3 0h2m70 0h2m-200 1h2m21 0h1m1 0h1m1 0h18m1 0h13m2 0h6m2 0h2m1 0h2m1 0h1m1 0h1m48 0h2m15 0h2m-145 1h2m7 0h2m9 0h3m1 0h1m1 0h1m1 0h42m5 0h1m7 0h2m5 0h2m10 0h1m40 0h2m-150 1h2m23 0h2m5 0h32m1 0h3m1 0h2m4 0h1m1 0h1m10 0h1m6 0h2m4 0h2m3 0h1m-112 1h2m3 0h2m18 0h1m6 0h1m3 0h1m2 0h32m2 0h2m1 0h2m5 0h1m1 0h1m1 0h1m3 0h2m4 0h2m1 0h2m4 0h2m-108 1h2m24 0h1m3 0h2m7 0h33m1 0h1m2 0h1m2 0h1m1 0h3m1 0h1m2 0h1m2 0h2m4 0h2m1 0h2m-95 1h2m9 0h1m1 0h1m1 0h1m3 0h1m3 0h1m4 0h3m1 0h1m1 0h15m1 0h7m1 0h1m1 0h6m6 0h1m7 0h1m1 0h1m9 0h1m9 0h2m-104 1h2m8 0h1m3 0h1m7 0h1m2 0h5m1 0h1m1 0h2m1 0h1m2 0h1m2 0h14m1 0h2m1 0h6m2 0h3m3 0h3m2 0h1m2 0h1m5 0h1m3 0h1m9 0h2m74 0h2m-176 1h1m1 0h1m14 0h1m3 0h2m3 0h4m4 0h2m1 0h13m1 0h11m2 0h1m1 0h2m2 0h2m1 0h2m8 0h1m76 0h2m12 0h2m-175 1h1m14 0h1m4 0h1m3 0h1m1 0h1m2 0h1m2 0h1m3 0h6m1 0h8m1 0h1m2 0h1m1 0h4m1 0h1m3 0h1m1 0h2m1 0h1m16 0h4m25 0h2m40 0h2m-167 1h2m15 0h2m7 0h1m4 0h3m2 0h3m2 0h1m1 0h6m1 0h2m1 0h3m3 0h4m3 0h4m7 0h1m2 0h2m1 0h1m2 0h2m4 0h6m25 0h2m59 0h2m-186 1h2m15 0h2m5 0h1m4 0h2m6 0h3m3 0h1m2 0h3m4 0h9m1 0h2m5 0h1m1 0h1m1 0h2m8 0h1m7 0h2m1 0h2m87 0h2m-161 1h1m3 0h1m4 0h1m9 0h1m1 0h1m3 0h2m1 0h1m2 0h1m1 0h1m2 0h2m4 0h2m3 0h1m1 0h2m7 0h1m11 0h2m-70 1h2m3 0h3m2 0h1m3 0h1m8 0h3m2 0h3m1 0h1m1 0h1m3 0h1m4 0h2m3 0h1m13 0h2m-90 1h2m29 0h5m5 0h1m2 0h2m1 0h4m3 0h1m1 0h3m4 0h2m4 0h5m14 0h2m4 0h2m-96 1h2m27 0h1m5 0h2m1 0h3m2 0h4m1 0h3m1 0h1m2 0h3m1 0h1m1 0h2m1 0h1m1 0h2m26 0h2m3 0h2m-97 1h2m24 0h2m1 0h2m2 0h4m1 0h1m2 0h1m4 0h3m2 0h1m5 0h2m1 0h1m1 0h4m4 0h2m2 0h2m19 0h2m5 0h2m-104 1h2m12 0h2m4 0h1m2 0h2m1 0h1m2 0h2m6 0h1m1 0h2m4 0h2m5 0h1m3 0h1m2 0h1m4 0h2m4 0h2m2 0h2m2 0h2m4 0h2m16 0h2m-90 1h2m2 0h3m4 0h1m1 0h1m1 0h3m1 0h3m1 0h1m4 0h1m1 0h1m7 0h1m2 0h2m3 0h1m4 0h2m2 0h1m8 0h2m4 0h2m127 0h2m-198 1h1m6 0h1m2 0h3m2 0h1m2 0h1m5 0h1m3 0h1m1 0h1m1 0h2m5 0h1m8 0h2m2 0h1m2 0h2m139 0h2m-206 1h2m1 0h2m8 0h1m1 0h5m1 0h1m4 0h1m1 0h1m2 0h1m6 0h1m1 0h2m5 0h2m2 0h1m7 0h1m3 0h2m-65 1h2m1 0h2m7 0h1m4 0h1m2 0h1m1 0h1m4 0h1m3 0h2m18 0h1m9 0h2m1 0h2m-61 1h4m2 0h1m4 0h1m1 0h3m1 0h1m2 0h1m3 0h1m3 0h1m2 0h2m1 0h1m2 0h1m2 0h1m1 0h2m1 0h1m10 0h2m1 0h2m5 0h2m-68 1h4m12 0h1m2 0h1m1 0h1m1 0h1m2 0h1m4 0h2m1 0h2m1 0h1m1 0h1m2 0h2m22 0h2m-90 1h2m5 0h1m17 0h2m2 0h2m4 0h2m1 0h2m1 0h2m2 0h1m2 0h1m2 0h1m2 0h2m6 0h1m16 0h2m2 0h2m13 0h2m-100 1h2m4 0h1m5 0h2m15 0h5m1 0h2m1 0h1m1 0h1m2 0h1m1 0h1m5 0h1m2 0h2m23 0h2m2 0h2m13 0h2m-88 1h2m4 0h2m6 0h1m1 0h1m2 0h3m3 0h1m2 0h1m3 0h1m1 0h1m1 0h1m17 0h2m11 0h2m-63 1h2m7 0h1m4 0h1m3 0h3m1 0h2m1 0h3m1 0h1m1 0h2m1 0h2m12 0h2m11 0h2m-54 1h1m1 0h2m3 0h1m4 0h2m3 0h1m3 0h1m3 0h2m6 0h2m-37 1h1m7 0h3m2 0h1m6 0h1m5 0h2m3 0h2m2 0h2m-37 1h1m2 0h1m1 0h1m5 0h2m2 0h2m4 0h1m1 0h1m7 0h2m14 0h2m-63 1h1m2 0h1m2 0h6m3 0h4m1 0h5m1 0h5m2 0h3m1 0h3m1 0h5m1 0h2m1 0h1m1 0h13m2 0h14m1 0h2m4 0h3m6 0h1m1 0h1m8 0h1m1 0h1m1 0h1m1 0h2m6 0h1m1 0h1m6 0h1m5 0h1m3 0h2m14 0h1m3 0h3m2 0h1m3 0h1m2 0h1m5 0h3m1 0h1m3 0h1m14 0h1m7 0h2m4 0h1m3 0h2m2 0h1m6 0h1m4 0h1m8 0h1m5 0h1m4 0h1m6 0h1m1 0h1m1 0h1m2 0h1m4 0h1" stroke="#000" stroke-width="1" fill="none" shape-rendering="crispEdges"/>
<path d="M1842 1864.5h1m22 0h1m22 0h1m12 0h1m4 0h1m11 0h1m41 0h2m11 0h1m35 0h1m-164 1h1m5 0h1m4 0h2m43 0h1m16 0h1m1 0h2m9 0h1m8 0h1m26 0h1m19 0h1m2 0h2m12 0h1m29 0h1m13 0h1m-205 1h2m32 0h1m3 0h1m1 0h2m20 0h1m7 0h1m12 0h1m1 0h2m8 0h1m6 0h2m11 0h1m17 0h1m2 0h1m17 0h1m57 0h1m-198 1h1m37 0h1m15 0h1m2 0h1m1 0h1m17 0h2m8 0h1m14 0h1m5 0h1m22 0h1m29 0h1m4 0h1m5 0h1m5 0h1m10 0h1m6 0h1m-207 1h1m7 0h1m15 0h1m25 0h1m2 0h1m5 0h1m1 0h1m7 0h1m11 0h1m11 0h1m34 0h1m32 0h1m6 0h1m4 0h1m26 0h1m-195 1h1m24 0h1m7 0h1m14 0h1m16 0h1m10 0h1m17 0h1m5 0h1m47 0h1m2 0h1m8 0h1m21 0h1m2 0h1m8 0h1m-191 1h1m26 0h1m6 0h1m29 0h1m2 0h1m11 0h1m40 0h1m32 0h1m10 0h1m14 0h1m11 0h1m12 0h2m-219 1h1m15 0h1m29 0h1m4 0h1m22 0h1m8 0h1m7 0h1m11 0h1m3 0h1m14 0h1m14 0h1m9 0h1m3 0h1m18 0h1m5 0h1m32 0h1m5 0h1m-191 1h1m13 0h1m28 0h1m21 0h1m18 0h1m9 0h1m8 0h1m44 0h1m18 0h1m1 0h1m20 0h1m-218 1h1m3 0h1m14 0h1m5 0h1m22 0h1m4 0h1m12 0h1m2 0h1m12 0h1m2 0h1m29 0h2m3 0h1m7 0h1m10 0h1m12 0h1m11 0h1m8 0h1m7 0h1m11 0h2m5 0h1m6 0h1m4 0h1m10 0h1m-160 1h1m22 0h1m3 0h1m2 0h1m6 0h1m2 0h1m7 0h1m7 0h1m6 0h1m40 0h1m19 0h1m10 0h1m1 0h1m18 0h1m-215 1h1m19 0h1m2 0h2m1 0h1m22 0h1m3 0h1m21 0h1m2 0h1m11 0h1m8 0h2m11 0h1m5 0h1m10 0h1m5 0h1m6 0h1m18 0h1m13 0h1m-156 1h1m2 0h1m6 0h1m8 0h2m5 0h1m4 0h1m26 0h1m6 0h1m3 0h1m8 0h1m6 0h1m15 0h1m12 0h1m6 0h1m3 0h1m8 0h1m17 0h1m17 0h1m-198 1h1m32 0h1m3 0h1m1 0h1m7 0h1m6 0h1m16 0h1m3 0h1m11 0h1m5 0h1m16 0h2m5 0h1m5 0h1m5 0h1m22 0h1m9 0h1m1 0h1m10 0h2m-181 1h1m14 0h1m11 0h1m13 0h1m4 0h1m6 0h1m3 0h1m3 0h1m4 0h2m5 0h1m1 0h1m1 0h1m3 0h1m24 0h1m13 0h1m18 0h1m1 0h1m54 0h1m4 0h1m14 0h1m-220 1h1m15 0h1m28 0h1m51 0h1m1 0h1m8 0h1m9 0h1m9 0h2m47 0h1m11 0h1m2 0h1m8 0h1m16 0h1m5 0h1m-199 1h1m26 0h1m2 0h1m2 0h1m4 0h1m1 0h1m11 0h2m5 0h1m3 0h1m5 0h1m3 0h1m18 0h1m5 0h1m1 0h1m13 0h1m15 0h1m1 0h2m27 0h1m-183 1h1m14 0h2m2 0h1m16 0h2m9 0h1m4 0h1m6 0h1m2 0h1m16 0h1m12 0h1m8 0h3m9 0h1m4 0h1m32 0h1m9 0h1m1 0h1m35 0h1m1 0h1m9 0h1m7 0h1m3 0h1m-229 1h1m11 0h1m5 0h1m13 0h1m23 0h1m3 0h1m2 0h1m11 0h1m6 0h1m13 0h1m1 0h1m3 0h1m2 0h1m5 0h1m51 0h1m3 0h1m50 0h1m3 0h1m-218 1h1m1 0h1m16 0h1m1 0h1m38 0h2m2 0h1m8 0h1m1 0h1m12 0h2m9 0h1m26 0h1m9 0h2m5 0h1m2 0h1m8 0h1m3 0h1m3 0h1m11 0h1m2 0h1m1 0h1m27 0h1m-213 1h1m28 0h1m10 0h1m1 0h1m9 0h1m12 0h1m3 0h1m11 0h1m1 0h1m10 0h1m1 0h1m8 0h1m5 0h1m2 0h1m10 0h1m5 0h1m6 0h1m2 0h1m26 0h1m2 0h1m4 0h1m1 0h1m-171 1h1m14 0h1m6 0h1m2 0h1m9 0h1m10 0h1m4 0h1m1 0h1m9 0h1m6 0h1m2 0h1m17 0h2m7 0h2m5 0h1m20 0h1m10 0h1m2 0h1m3 0h2m7 0h1m2 0h1m56 0h1m3 0h1m-221 1h1m8 0h1m3 0h1m16 0h1m4 0h1m36 0h1m1 0h1m6 0h1m33 0h1m18 0h1m2 0h1m7 0h1m5 0h2m49 0h1m-209 1h1m10 0h1m4 0h1m7 0h1m6 0h1m9 0h1m9 0h1m11 0h1m4 0h1m4 0h1m4 0h1m14 0h1m3 0h1m13 0h1m1 0h1m5 0h1m11 0h1m1 0h1m1 0h1m9 0h1m11 0h1m11 0h1m1 0h1m1 0h1m1 0h1m3 0h1m16 0h1m14 0h1m10 0h1m4 0h1m-223 1h1m10 0h1m14 0h1m31 0h1m4 0h1m6 0h1m12 0h1m5 0h2m9 0h1m3 0h1m1 0h1m3 0h1m3 0h1m1 0h1m2 0h1m2 0h1m13 0h1m13 0h1m17 0h1m3 0h1m11 0h1m21 0h1m8 0h1m-215 1h1m7 0h1m4 0h1m11 0h1m4 0h1m2 0h2m3 0h1m36 0h2m26 0h1m3 0h1m8 0h1m12 0h1m13 0h1m35 0h1m2 0h1m3 0h1m18 0h1m9 0h1m-217 1h1m1 0h2m6 0h1m9 0h1m2 0h1m8 0h1m1 0h1m8 0h1m5 0h1m8 0h1m12 0h1m1 0h1m1 0h2m4 0h2m5 0h1m3 0h1m3 0h1m4 0h1m2 0h1m8 0h1m18 0h1m1 0h1m4 0h1m25 0h1m12 0h1m1 0h1m4 0h1m22 0h1m3 0h1m5 0h1m-215 1h1m6 0h1m16 0h1m1 0h1m8 0h1m3 0h1m3 0h1m6 0h1m5 0h1m7 0h1m3 0h1m1 0h1m10 0h1m9 0h1m19 0h1m28 0h1m18 0h1m5 0h1m9 0h1m3 0h1m9 0h2m10 0h1m5 0h1m4 0h1m2 0h1m-226 1h1m2 0h1m1 0h1m9 0h1m7 0h1m15 0h1m1 0h1m11 0h1m2 0h1m1 0h1m7 0h1m3 0h1m4 0h1m5 0h1m5 0h1m4 0h2m17 0h1m4 0h1m14 0h1m1 0h1m1 0h1m6 0h2m2 0h1m15 0h1m10 0h1m15 0h1m7 0h1m10 0h1m-207 1h1m9 0h1m3 0h2m4 0h1m12 0h1m5 0h1m36 0h1m2 0h1m1 0h1m43 0h1m7 0h1m13 0h1m3 0h1m18 0h1m5 0h1m16 0h1m4 0h1m27 0h2m-186 1h1m6 0h1m11 0h1m36 0h1m3 0h2m1 0h1m4 0h1m7 0h1m8 0h1m1 0h2m26 0h1m6 0h1m51 0h1m-219 1h1m3 0h1m17 0h2m12 0h2m5 0h1m5 0h1m2 0h2m5 0h1m6 0h1m1 0h1m4 0h1m8 0h1m3 0h2m3 0h1m1 0h1m17 0h1m9 0h1m21 0h1m3 0h1m1 0h1m1 0h1m15 0h1m6 0h1m7 0h1m9 0h1m13 0h1m5 0h1m-210 1h1m46 0h1m5 0h2m2 0h1m5 0h3m2 0h1m3 0h1m5 0h1m9 0h1m2 0h1m2 0h1m6 0h1m1 0h1m9 0h2m4 0h1m2 0h1m7 0h1m19 0h1m3 0h1m5 0h1m10 0h1m3 0h1m2 0h1m4 0h1m6 0h1m2 0h1m2 0h1m1 0h1m19 0h1m-218 1h1m7 0h1m8 0h1m3 0h1m1 0h1m7 0h1m7 0h1m10 0h1m6 0h1m1 0h1m3 0h1m10 0h1m4 0h1m14 0h1m14 0h1m10 0h1m6 0h1m12 0h1m5 0h1m5 0h1m9 0h1m15 0h1m7 0h1m24 0h1m12 0h1m-224 1h1m5 0h1m13 0h1m4 0h1m1 0h1m17 0h1m9 0h1m12 0h1m1 0h1m28 0h1m16 0h1m1 0h1m7 0h1m3 0h1m12 0h1m13 0h1m1 0h1m10 0h1m6 0h1m8 0h2m2 0h2m4 0h1m17 0h1m2 0h1m2 0h2m4 0h1m-216 1h1m9 0h2m1 0h1m13 0h1m11 0h1m7 0h1m2 0h1m12 0h1m3 0h1m2 0h1m4 0h1m3 0h1m11 0h1m10 0h1m6 0h1m4 0h2m3 0h2m3 0h1m17 0h1m4 0h1m16 0h1m7 0h1m1 0h1m1 0h1m8 0h1m1 0h1m11 0h1m5 0h1m-218 1h1m3 0h1m1 0h1m6 0h1m1 0h1m2 0h1m28 0h2m6 0h1m4 0h1m7 0h1m1 0h1m25 0h1m3 0h1m1 0h1m9 0h1m13 0h1m16 0h1m5 0h1m1 0h1m2 0h1m4 0h1m10 0h2m2 0h1m4 0h1m4 0h1m11 0h2m11 0h1m1 0h1m4 0h1m3 0h1m-214 1h1m4 0h1m1 0h1m1 0h2m12 0h2m1 0h1m8 0h1m3 0h1m7 0h1m5 0h1m1 0h1m3 0h1m1 0h1m7 0h1m4 0h1m1 0h1m6 0h2m2 0h3m14 0h1m2 0h1m4 0h1m1 0h1m3 0h3m6 0h1m31 0h1m4 0h1m7 0h1m12 0h1m8 0h1m18 0h1m5 0h1m-227 1h1m1 0h1m11 0h1m12 0h1m10 0h1m2 0h1m4 0h1m15 0h1m1 0h1m10 0h1m2 0h1m2 0h1m6 0h2m1 0h1m15 0h1m1 0h1m26 0h1m1 0h1m5 0h1m16 0h1m6 0h2m7 0h1m3 0h1m2 0h1m2 0h1m13 0h1m4 0h1m2 0h1m2 0h1m14 0h1m-229 1h1m1 0h1m10 0h2m5 0h1m6 0h1m3 0h1m7 0h2m10 0h1m3 0h1m20 0h1m20 0h1m7 0h1m4 0h1m2 0h1m1 0h1m2 0h1m9 0h1m1 0h1m3 0h1m4 0h1m1 0h1m1 0h1m6 0h1m6 0h2m1 0h1m3 0h1m2 0h1m18 0h1m16 0h1m6 0h1m4 0h1m-215 1h1m4 0h2m2 0h1m1 0h1m10 0h1m7 0h1m2 0h1m8 0h1m7 0h2m5 0h2m10 0h1m3 0h1m8 0h1m5 0h1m11 0h1m1 0h1m4 0h1m3 0h1m7 0h1m6 0h1m5 0h1m7 0h1m9 0h1m5 0h1m6 0h1m7 0h1m2 0h1m3 0h1m7 0h1m4 0h2m5 0h1m4 0h2m4 0h1m5 0h2m10 0h1m-227 1h2m2 0h1m8 0h1m1 0h2m2 0h2m1 0h1m1 0h1m2 0h1m6 0h1m2 0h1m1 0h1m1 0h2m2 0h1m4 0h1m3 0h1m4 0h1m8 0h2m4 0h1m1 0h2m2 0h1m12 0h2m22 0h1m8 0h2m14 0h1m8 0h2m5 0h1m2 0h1m8 0h2m3 0h1m9 0h1m14 0h1m7 0h1m13 0h1m-229 1h1m8 0h2m3 0h1m4 0h1m6 0h2m9 0h1m8 0h1m8 0h1m7 0h1m4 0h2m7 0h1m3 0h1m7 0h1m13 0h1m4 0h1m1 0h1m8 0h4m10 0h1m6 0h1m1 0h1m7 0h1m2 0h1m1 0h1m4 0h1m3 0h1m13 0h1m22 0h1m3 0h1m5 0h1m-207 1h1m3 0h1m11 0h1m4 0h1m2 0h1m1 0h1m4 0h2m1 0h1m8 0h1m2 0h1m8 0h1m3 0h2m2 0h2m3 0h1m7 0h1m1 0h1m1 0h1m3 0h1m3 0h1m1 0h1m12 0h1m5 0h2m3 0h3m6 0h1m1 0h1m4 0h1m16 0h1m3 0h1m3 0h4m17 0h1m5 0h1m3 0h1m5 0h1m1 0h1m14 0h1m9 0h1m6 0h1m-232 1h2m19 0h1m3 0h1m3 0h1m4 0h1m4 0h1m15 0h1m12 0h1m11 0h1m2 0h3m12 0h1m9 0h1m8 0h1m7 0h2m11 0h1m3 0h1m16 0h1m1 0h1m1 0h1m7 0h1m1 0h1m17 0h1m3 0h1m2 0h2m13 0h2m4 0h1m1 0h1m-212 1h1m5 0h3m10 0h1m2 0h2m12 0h1m4 0h1m2 0h1m2 0h1m3 0h1m9 0h1m5 0h1m4 0h1m4 0h1m3 0h1m2 0h1m14 0h1m8 0h2m3 0h1m2 0h1m5 0h1m5 0h1m3 0h2m2 0h1m2 0h1m1 0h1m12 0h1m8 0h1m9 0h1m8 0h1m4 0h1m11 0h1m2 0h1m2 0h1m2 0h1m5 0h1m2 0h1m-225 1h1m2 0h1m4 0h2m13 0h1m1 0h1m6 0h1m1 0h1m1 0h1m6 0h2m1 0h1m17 0h1m11 0h1m2 0h1m2 0h1m10 0h1m8 0h1m4 0h1m5 0h1m13 0h1m5 0h1m2 0h1m7 0h1m3 0h2m9 0h1m3 0h1m8 0h1m4 0h1m8 0h1m6 0h1m14 0h2m2 0h1m2 0h1m3 0h1m6 0h1m-220 1h1m1 0h1m3 0h1m3 0h1m13 0h1m4 0h1m4 0h1m5 0h2m2 0h2m6 0h1m13 0h1m8 0h1m2 0h1m5 0h1m1 0h2m7 0h1m2 0h1m21 0h1m5 0h1m3 0h1m20 0h1m5 0h1m2 0h1m6 0h3m1 0h1m4 0h1m10 0h2m4 0h1m3 0h1m1 0h1m16 0h1m1 0h1m-228 1h2m1 0h1m9 0h1m5 0h1m2 0h1m12 0h1m3 0h1m4 0h1m3 0h2m13 0h3m7 0h2m1 0h1m2 0h1m1 0h1m4 0h2m2 0h2m12 0h1m1 0h1m16 0h2m4 0h1m3 0h1m3 0h1m1 0h1m15 0h1m1 0h1m4 0h1m8 0h1m19 0h2m5 0h1m8 0h2m5 0h1m2 0h3m7 0h1m1 0h1m-230 1h1m2 0h1m2 0h1m3 0h1m1 0h2m7 0h1m1 0h1m2 0h1m1 0h1m2 0h1m9 0h1m2 0h1m6 0h1m12 0h1m6 0h1m3 0h1m8 0h2m2 0h1m3 0h1m3 0h1m3 0h1m4 0h1m1 0h2m11 0h1m3 0h2m7 0h1m1 0h1m6 0h1m4 0h1m6 0h1m2 0h1m4 0h1m1 0h1m13 0h1m2 0h3m4 0h1m7 0h1m23 0h1m7 0h1m-225 1h2m9 0h1m2 0h3m2 0h3m9 0h1m6 0h1m3 0h1m1 0h1m5 0h1m6 0h1m3 0h1m1 0h1m1 0h3m15 0h1m3 0h1m8 0h1m2 0h1m2 0h1m2 0h2m5 0h1m1 0h2m1 0h1m5 0h1m7 0h1m6 0h1m4 0h1m7 0h1m2 0h1m3 0h1m3 0h1m10 0h1m9 0h1m4 0h1m4 0h1m3 0h1m10 0h1m2 0h1m1 0h2m1 0h2m2 0h2m2 0h1m2 0h1m-224 1h1m4 0h1m10 0h1m7 0h1m8 0h1m7 0h2m1 0h1m4 0h4m6 0h3m1 0h1m1 0h1m1 0h1m2 0h1m1 0h3m17 0h1m8 0h1m1 0h2m5 0h1m4 0h1m15 0h3m2 0h1m2 0h3m1 0h1m8 0h1m1 0h1m11 0h1m2 0h1m6 0h1m7 0h1m3 0h1m4 0h1m5 0h2m4 0h1m3 0h4m8 0h2m-231 1h1m7 0h1m13 0h1m3 0h1m4 0h1m12 0h1m4 0h1m10 0h1m4 0h2m1 0h1m7 0h1m2 0h1m1 0h2m1 0h2m9 0h1m1 0h1m2 0h1m3 0h1m8 0h1m1 0h1m1 0h1m2 0h1m2 0h1m10 0h1m11 0h1m1 0h1m1 0h1m6 0h1m2 0h1m1 0h2m1 0h2m1 0h1m12 0h3m2 0h1m20 0h1m1 0h1m11 0h1m6 0h1" stroke="#d9c34c" stroke-width="1" fill="none" shape-rendering="crispEdges"/>
<path d="M1836.3 1883.8V1917.6H2071.5V1862.8H1922.3" fill="none" stroke="#d9c34c" stroke-width="1.6"/>
<text x="1835.8" y="1877.6" font-size="17.8" fill="#d9c34c">P1(0.35%)</text>
<rect x="1724.6" y="1860.6" width="347.3" height="346.5" fill="none" stroke="#1a1a1a" stroke-width="2"/>
<line x1="1716.1" y1="1860.6" x2="1724.6" y2="1860.6" stroke="#1a1a1a" stroke-width="2"/>
<line x1="1716.1" y1="2207.1" x2="1724.6" y2="2207.1" stroke="#1a1a1a" stroke-width="1.8"/>
<line x1="1719.6" y1="2187.2" x2="1724.6" y2="2187.2" stroke="#1a1a1a" stroke-width="1.6"/>
<line x1="1719.6" y1="2175.5" x2="1724.6" y2="2175.5" stroke="#1a1a1a" stroke-width="1.6"/>
<line x1="1719.6" y1="2167.2" x2="1724.6" y2="2167.2" stroke="#1a1a1a" stroke-width="1.6"/>
<line x1="1719.6" y1="2160.8" x2="1724.6" y2="2160.8" stroke="#1a1a1a" stroke-width="1.6"/>
<line x1="1719.6" y1="2155.6" x2="1724.6" y2="2155.6" stroke="#1a1a1a" stroke-width="1.6"/>
<line x1="1719.6" y1="2151.2" x2="1724.6" y2="2151.2" stroke="#1a1a1a" stroke-width="1.6"/>
<line x1="1719.6" y1="2147.3" x2="1724.6" y2="2147.3" stroke="#1a1a1a" stroke-width="1.6"/>
<line x1="1719.6" y1="2143.9" x2="1724.6" y2="2143.9" stroke="#1a1a1a" stroke-width="1.6"/>
<text transform="translate(1708 2217.4) rotate(-90)" font-size="17.8">10<tspan dy="-8.5" font-size="13">2</tspan></text>
<line x1="1716.1" y1="2140.9" x2="1724.6" y2="2140.9" stroke="#1a1a1a" stroke-width="1.8"/>
<line x1="1719.6" y1="2121" x2="1724.6" y2="2121" stroke="#1a1a1a" stroke-width="1.6"/>
<line x1="1719.6" y1="2109.3" x2="1724.6" y2="2109.3" stroke="#1a1a1a" stroke-width="1.6"/>
<line x1="1719.6" y1="2101" x2="1724.6" y2="2101" stroke="#1a1a1a" stroke-width="1.6"/>
<line x1="1719.6" y1="2094.6" x2="1724.6" y2="2094.6" stroke="#1a1a1a" stroke-width="1.6"/>
<line x1="1719.6" y1="2089.4" x2="1724.6" y2="2089.4" stroke="#1a1a1a" stroke-width="1.6"/>
<line x1="1719.6" y1="2085" x2="1724.6" y2="2085" stroke="#1a1a1a" stroke-width="1.6"/>
<line x1="1719.6" y1="2081.1" x2="1724.6" y2="2081.1" stroke="#1a1a1a" stroke-width="1.6"/>
<line x1="1719.6" y1="2077.7" x2="1724.6" y2="2077.7" stroke="#1a1a1a" stroke-width="1.6"/>
<text transform="translate(1708 2151.2) rotate(-90)" font-size="17.8">10<tspan dy="-8.5" font-size="13">3</tspan></text>
<line x1="1716.1" y1="2074.7" x2="1724.6" y2="2074.7" stroke="#1a1a1a" stroke-width="1.8"/>
<line x1="1719.6" y1="2054.8" x2="1724.6" y2="2054.8" stroke="#1a1a1a" stroke-width="1.6"/>
<line x1="1719.6" y1="2043.1" x2="1724.6" y2="2043.1" stroke="#1a1a1a" stroke-width="1.6"/>
<line x1="1719.6" y1="2034.8" x2="1724.6" y2="2034.8" stroke="#1a1a1a" stroke-width="1.6"/>
<line x1="1719.6" y1="2028.4" x2="1724.6" y2="2028.4" stroke="#1a1a1a" stroke-width="1.6"/>
<line x1="1719.6" y1="2023.2" x2="1724.6" y2="2023.2" stroke="#1a1a1a" stroke-width="1.6"/>
<line x1="1719.6" y1="2018.8" x2="1724.6" y2="2018.8" stroke="#1a1a1a" stroke-width="1.6"/>
<line x1="1719.6" y1="2014.9" x2="1724.6" y2="2014.9" stroke="#1a1a1a" stroke-width="1.6"/>
<line x1="1719.6" y1="2011.5" x2="1724.6" y2="2011.5" stroke="#1a1a1a" stroke-width="1.6"/>
<text transform="translate(1708 2085) rotate(-90)" font-size="17.8">10<tspan dy="-8.5" font-size="13">4</tspan></text>
<line x1="1716.1" y1="2008.5" x2="1724.6" y2="2008.5" stroke="#1a1a1a" stroke-width="1.8"/>
<line x1="1719.6" y1="1988.6" x2="1724.6" y2="1988.6" stroke="#1a1a1a" stroke-width="1.6"/>
<line x1="1719.6" y1="1976.9" x2="1724.6" y2="1976.9" stroke="#1a1a1a" stroke-width="1.6"/>
<line x1="1719.6" y1="1968.6" x2="1724.6" y2="1968.6" stroke="#1a1a1a" stroke-width="1.6"/>
<line x1="1719.6" y1="1962.2" x2="1724.6" y2="1962.2" stroke="#1a1a1a" stroke-width="1.6"/>
<line x1="1719.6" y1="1957" x2="1724.6" y2="1957" stroke="#1a1a1a" stroke-width="1.6"/>
<line x1="1719.6" y1="1952.6" x2="1724.6" y2="1952.6" stroke="#1a1a1a" stroke-width="1.6"/>
<line x1="1719.6" y1="1948.7" x2="1724.6" y2="1948.7" stroke="#1a1a1a" stroke-width="1.6"/>
<line x1="1719.6" y1="1945.3" x2="1724.6" y2="1945.3" stroke="#1a1a1a" stroke-width="1.6"/>
<text transform="translate(1708 2018.8) rotate(-90)" font-size="17.8">10<tspan dy="-8.5" font-size="13">5</tspan></text>
<line x1="1716.1" y1="1942.3" x2="1724.6" y2="1942.3" stroke="#1a1a1a" stroke-width="1.8"/>
<line x1="1719.6" y1="1922.4" x2="1724.6" y2="1922.4" stroke="#1a1a1a" stroke-width="1.6"/>
<line x1="1719.6" y1="1910.7" x2="1724.6" y2="1910.7" stroke="#1a1a1a" stroke-width="1.6"/>
<line x1="1719.6" y1="1902.4" x2="1724.6" y2="1902.4" stroke="#1a1a1a" stroke-width="1.6"/>
<line x1="1719.6" y1="1896" x2="1724.6" y2="1896" stroke="#1a1a1a" stroke-width="1.6"/>
<line x1="1719.6" y1="1890.8" x2="1724.6" y2="1890.8" stroke="#1a1a1a" stroke-width="1.6"/>
<line x1="1719.6" y1="1886.4" x2="1724.6" y2="1886.4" stroke="#1a1a1a" stroke-width="1.6"/>
<line x1="1719.6" y1="1882.5" x2="1724.6" y2="1882.5" stroke="#1a1a1a" stroke-width="1.6"/>
<line x1="1719.6" y1="1879.1" x2="1724.6" y2="1879.1" stroke="#1a1a1a" stroke-width="1.6"/>
<text transform="translate(1708 1952.6) rotate(-90)" font-size="17.8">10<tspan dy="-8.5" font-size="13">6</tspan></text>
<line x1="1716.1" y1="1876.1" x2="1724.6" y2="1876.1" stroke="#1a1a1a" stroke-width="1.8"/>
<text transform="translate(1708 1886.4) rotate(-90)" font-size="17.8">10<tspan dy="-8.5" font-size="13">7</tspan></text>
<line x1="1724.6" y1="2207.1" x2="1724.6" y2="2216.1" stroke="#1a1a1a" stroke-width="1.8"/>
<line x1="1758.5" y1="2207.1" x2="1758.5" y2="2212.1" stroke="#1a1a1a" stroke-width="1.8"/>
<line x1="1792.4" y1="2207.1" x2="1792.4" y2="2212.1" stroke="#1a1a1a" stroke-width="1.8"/>
<line x1="1826.2" y1="2207.1" x2="1826.2" y2="2212.1" stroke="#1a1a1a" stroke-width="1.8"/>
<line x1="1860.1" y1="2207.1" x2="1860.1" y2="2212.1" stroke="#1a1a1a" stroke-width="1.8"/>
<line x1="1894" y1="2207.1" x2="1894" y2="2216.1" stroke="#1a1a1a" stroke-width="1.8"/>
<line x1="1927.9" y1="2207.1" x2="1927.9" y2="2212.1" stroke="#1a1a1a" stroke-width="1.8"/>
<line x1="1961.8" y1="2207.1" x2="1961.8" y2="2212.1" stroke="#1a1a1a" stroke-width="1.8"/>
<line x1="1995.6" y1="2207.1" x2="1995.6" y2="2212.1" stroke="#1a1a1a" stroke-width="1.8"/>
<line x1="2029.5" y1="2207.1" x2="2029.5" y2="2212.1" stroke="#1a1a1a" stroke-width="1.8"/>
<line x1="2063.4" y1="2207.1" x2="2063.4" y2="2216.1" stroke="#1a1a1a" stroke-width="1.8"/>
<text x="1724.6" y="2229.2" font-size="18.2" text-anchor="middle">0</text>
<text x="1894" y="2229.2" font-size="18.2" text-anchor="middle">200</text>
<text x="2063.4" y="2229.2" font-size="18.2" text-anchor="middle">400</text>
<text x="1898.9" y="2259" font-size="18.3" text-anchor="middle">FSC-Width</text>
<text x="2015.5" y="2260" font-size="18.3">( x 10<tspan dy="-8" font-size="13">1</tspan><tspan dy="8">)</tspan></text>
<text x="1684.4" y="2035.6" font-size="18.4" text-anchor="middle" transform="rotate(-90 1684.4 2035.6)">Y610-A</text>
<text x="1880.8" y="1822.2" font-size="29.3" text-anchor="middle">VP16</text>
<text x="1890.1" y="1851.2" font-size="18.4" text-anchor="middle">01-Well-B3 : All Events</text></svg>
</body></html>
